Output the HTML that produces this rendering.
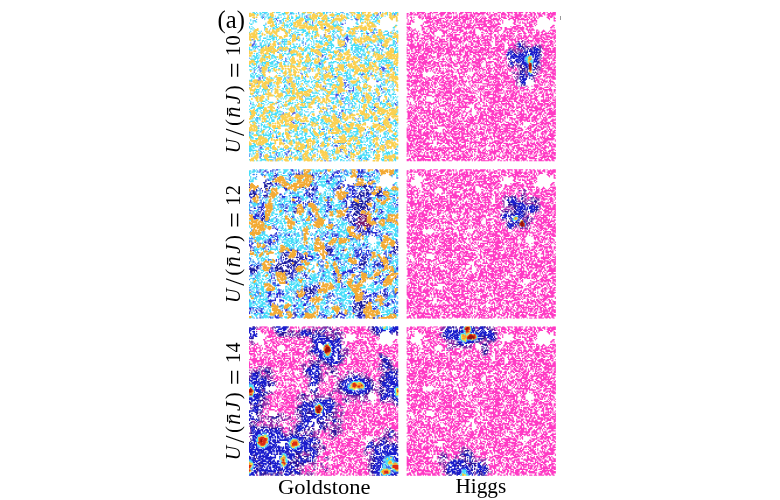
<!DOCTYPE html><html><head><meta charset="utf-8"><title>Goldstone and Higgs modes</title><style>html,body{margin:0;padding:0;background:#fff}body{width:780px;height:500px;overflow:hidden;position:relative;font-family:"Liberation Serif",serif}</style></head><body><svg width="780" height="500" viewBox="0 0 780 500" style="position:absolute;left:0;top:0">
<svg x="406.4" y="12.0" width="149.5" height="149.5" viewBox="0 0 128 128" preserveAspectRatio="none" overflow="hidden">
<g transform="translate(.5 .5)" fill="none" stroke-linecap="round"><path stroke="#ff3ac4" stroke-width="1.2" d="M3 0h1M6 0h0M9 0h6M20 0h1M23 0h3M29 0h4M35 0h2M39 0h1M42 0h0M46 0h2M50 0h5M57 0h0M59 0h1M63 0h4M69 0h0M71 0h0M74 0h0M78 0h2M82 0h1M86 0h4M92 0h2M96 0h3M102 0h1M105 0h1M108 0h1M112 0h0M114 0h0M117 0h1M120 0h0M123 0h0M125 0h2M0 1h1M3 1h2M7 1h0M9 1h1M13 1h1M16 1h0M18 1h2M22 1h0M28 1h4M35 1h3M40 1h0M42 1h0M45 1h2M51 1h0M55 1h0M57 1h9M68 1h1M71 1h0M75 1h2M81 1h3M87 1h0M90 1h0M93 1h1M96 1h1M102 1h0M106 1h1M109 1h1M112 1h2M116 1h2M121 1h6M0 2h0M2 2h2M6 2h3M11 2h1M15 2h1M18 2h0M20 2h0M25 2h2M29 2h2M34 2h1M43 2h0M45 2h0M49 2h3M54 2h2M58 2h0M61 2h1M65 2h0M69 2h1M72 2h3M77 2h0M79 2h0M81 2h4M87 2h1M92 2h7M101 2h1M104 2h3M109 2h1M113 2h2M118 2h0M120 2h2M124 2h3M0 3h1M10 3h1M13 3h0M15 3h1M18 3h2M22 3h0M24 3h0M29 3h1M33 3h0M35 3h1M38 3h0M40 3h0M42 3h1M45 3h0M47 3h2M51 3h1M54 3h4M60 3h1M64 3h0M66 3h0M71 3h2M75 3h1M78 3h1M81 3h0M84 3h0M86 3h1M89 3h1M93 3h5M100 3h3M106 3h1M109 3h0M111 3h0M113 3h3M121 3h4M0 4h0M3 4h1M6 4h0M10 4h2M14 4h0M16 4h4M23 4h2M27 4h0M33 4h5M40 4h3M45 4h7M54 4h0M56 4h1M59 4h0M63 4h0M65 4h0M67 4h0M70 4h2M79 4h0M81 4h3M87 4h0M90 4h5M97 4h0M101 4h1M104 4h1M108 4h1M111 4h0M113 4h0M120 4h1M123 4h1M126 4h0M0 5h0M4 5h0M11 5h0M13 5h1M16 5h9M28 5h4M34 5h0M36 5h1M40 5h2M44 5h1M47 5h1M50 5h5M57 5h0M59 5h1M62 5h0M64 5h4M71 5h1M74 5h3M79 5h1M83 5h2M88 5h3M93 5h3M98 5h2M103 5h0M105 5h0M107 5h0M109 5h1M112 5h0M121 5h1M126 5h1M1 6h0M4 6h0M6 6h0M13 6h0M17 6h0M19 6h2M23 6h0M26 6h3M33 6h0M35 6h0M39 6h1M43 6h0M45 6h1M48 6h5M55 6h0M58 6h3M63 6h1M66 6h1M70 6h0M72 6h7M81 6h0M87 6h1M91 6h2M95 6h9M106 6h1M109 6h1M122 6h0M126 6h0M1 7h0M3 7h2M17 7h2M22 7h0M24 7h5M31 7h0M34 7h1M37 7h2M41 7h4M48 7h2M54 7h1M57 7h0M59 7h1M62 7h2M66 7h6M74 7h0M77 7h1M80 7h0M82 7h0M92 7h1M95 7h0M101 7h0M103 7h0M107 7h4M126 7h1M1 8h0M3 8h0M5 8h1M15 8h7M25 8h2M29 8h0M31 8h3M37 8h0M40 8h1M43 8h0M46 8h0M48 8h2M52 8h0M54 8h0M57 8h0M59 8h8M70 8h3M75 8h0M78 8h0M82 8h0M92 8h1M95 8h0M97 8h0M99 8h0M103 8h0M105 8h3M111 8h0M0 9h0M2 9h1M14 9h0M16 9h2M20 9h0M23 9h1M26 9h4M34 9h2M38 9h1M41 9h3M46 9h2M50 9h0M54 9h2M59 9h0M66 9h1M69 9h1M72 9h1M75 9h0M78 9h1M82 9h0M91 9h1M96 9h1M99 9h2M103 9h2M109 9h1M0 10h3M14 10h0M20 10h0M22 10h1M25 10h1M30 10h0M32 10h0M34 10h0M36 10h1M39 10h0M41 10h2M47 10h0M49 10h0M51 10h3M58 10h0M60 10h8M71 10h1M74 10h0M76 10h4M92 10h1M101 10h1M105 10h2M109 10h0M111 10h0M12 11h1M18 11h3M23 11h0M26 11h0M28 11h5M35 11h1M38 11h0M42 11h5M49 11h0M52 11h3M57 11h2M61 11h1M64 11h0M66 11h2M72 11h5M94 11h3M101 11h1M105 11h2M110 11h0M125 11h1M0 12h0M2 12h0M13 12h0M15 12h4M22 12h1M25 12h0M30 12h0M32 12h3M38 12h3M47 12h2M51 12h3M56 12h1M62 12h0M65 12h11M78 12h1M89 12h0M91 12h4M99 12h0M102 12h6M124 12h1M0 13h3M13 13h1M19 13h2M23 13h1M26 13h2M30 13h2M34 13h0M36 13h0M38 13h0M40 13h0M43 13h4M49 13h8M59 13h6M69 13h3M74 13h1M77 13h1M80 13h1M84 13h1M90 13h3M95 13h5M103 13h0M106 13h0M123 13h1M126 13h0M1 14h1M4 14h0M7 14h0M13 14h2M18 14h0M20 14h2M24 14h1M27 14h0M29 14h0M36 14h4M43 14h0M45 14h1M50 14h1M53 14h0M56 14h0M58 14h0M62 14h3M68 14h0M70 14h1M73 14h0M76 14h1M81 14h0M84 14h6M92 14h3M97 14h3M102 14h1M105 14h0M107 14h1M0 15h0M2 15h1M5 15h2M13 15h0M17 15h0M20 15h0M23 15h0M25 15h1M28 15h3M34 15h1M39 15h9M55 15h0M57 15h1M63 15h0M65 15h3M70 15h2M75 15h1M78 15h2M84 15h1M88 15h2M94 15h0M96 15h0M98 15h1M103 15h6M111 15h1M117 15h0M123 15h4M1 16h0M4 16h1M8 16h0M10 16h0M14 16h1M17 16h0M20 16h1M23 16h2M30 16h4M36 16h0M39 16h0M43 16h0M46 16h2M51 16h0M54 16h1M57 16h1M67 16h2M71 16h2M75 16h3M83 16h1M86 16h0M88 16h1M91 16h2M95 16h2M99 16h1M104 16h0M106 16h0M111 16h0M113 16h0M116 16h2M122 16h0M125 16h2M0 17h0M4 17h0M6 17h0M9 17h0M14 17h2M19 17h0M21 17h2M31 17h3M38 17h0M40 17h2M45 17h1M49 17h2M53 17h5M64 17h1M69 17h0M72 17h0M74 17h0M78 17h0M83 17h0M85 17h2M89 17h1M95 17h0M100 17h1M104 17h3M109 17h0M111 17h2M115 17h1M119 17h0M121 17h0M123 17h0M125 17h0M127 17h0M0 18h0M2 18h2M6 18h3M11 18h0M15 18h4M22 18h1M31 18h1M34 18h0M36 18h1M39 18h0M48 18h4M54 18h1M57 18h1M66 18h0M68 18h0M70 18h3M78 18h0M82 18h0M86 18h0M88 18h4M96 18h2M100 18h2M106 18h1M111 18h2M116 18h0M118 18h8M0 19h1M3 19h3M9 19h0M11 19h0M13 19h1M18 19h0M20 19h0M23 19h0M32 19h0M35 19h0M37 19h2M41 19h4M49 19h1M56 19h3M64 19h1M71 19h1M75 19h1M79 19h0M81 19h0M83 19h1M86 19h0M88 19h0M91 19h0M95 19h1M101 19h0M105 19h0M107 19h0M110 19h3M115 19h4M124 19h1M127 19h0M1 20h0M3 20h2M9 20h1M15 20h6M24 20h0M30 20h2M34 20h5M41 20h1M48 20h1M51 20h0M53 20h1M56 20h1M59 20h0M61 20h0M64 20h1M67 20h3M72 20h0M75 20h1M78 20h0M80 20h10M92 20h0M94 20h0M96 20h2M100 20h2M104 20h2M108 20h4M114 20h1M119 20h3M126 20h1M0 21h6M8 21h1M15 21h0M17 21h1M20 21h3M26 21h1M30 21h0M36 21h0M39 21h3M46 21h1M49 21h0M51 21h5M59 21h2M63 21h0M65 21h2M69 21h0M71 21h2M76 21h2M80 21h0M83 21h1M86 21h0M88 21h1M91 21h0M94 21h1M98 21h0M100 21h4M106 21h1M109 21h1M115 21h2M119 21h8M0 22h0M4 22h0M6 22h0M9 22h1M12 22h3M19 22h4M26 22h0M28 22h0M34 22h1M37 22h7M46 22h1M49 22h2M53 22h1M56 22h2M60 22h2M64 22h2M69 22h0M72 22h0M74 22h0M76 22h2M81 22h3M87 22h1M90 22h0M93 22h0M95 22h5M102 22h1M108 22h7M117 22h1M120 22h0M123 22h1M126 22h1M0 23h4M7 23h0M9 23h0M13 23h0M15 23h3M20 23h1M23 23h0M25 23h0M28 23h4M34 23h0M37 23h1M40 23h6M49 23h3M54 23h0M56 23h0M61 23h0M63 23h0M66 23h6M76 23h1M79 23h0M81 23h5M88 23h5M95 23h1M98 23h0M101 23h1M104 23h0M108 23h0M110 23h3M115 23h1M118 23h4M126 23h0M1 24h1M4 24h1M7 24h2M11 24h1M14 24h0M16 24h0M20 24h1M24 24h2M28 24h2M32 24h0M35 24h0M37 24h6M45 24h1M48 24h2M52 24h0M55 24h0M57 24h1M60 24h2M64 24h5M71 24h1M76 24h0M78 24h0M80 24h1M83 24h1M87 24h0M89 24h1M92 24h1M95 24h0M100 24h0M103 24h5M110 24h4M116 24h1M123 24h1M127 24h0M3 25h2M11 25h0M13 25h0M15 25h0M18 25h0M21 25h2M27 25h7M37 25h0M42 25h0M44 25h3M49 25h0M53 25h2M57 25h5M64 25h0M67 25h0M69 25h1M73 25h0M76 25h5M84 25h0M87 25h0M90 25h0M93 25h1M102 25h0M104 25h0M106 25h1M109 25h0M111 25h2M115 25h5M122 25h3M127 25h0M1 26h0M4 26h0M7 26h0M9 26h1M13 26h2M17 26h0M21 26h0M24 26h2M28 26h0M30 26h0M35 26h0M37 26h1M42 26h0M45 26h1M48 26h0M55 26h1M60 26h2M65 26h6M76 26h0M78 26h0M82 26h0M86 26h1M90 26h1M93 26h0M102 26h0M104 26h1M110 26h0M112 26h1M117 26h1M121 26h0M123 26h1M126 26h0M1 27h0M3 27h3M9 27h1M12 27h0M14 27h0M16 27h2M20 27h2M24 27h3M29 27h6M37 27h1M40 27h1M43 27h1M48 27h0M51 27h0M53 27h0M55 27h2M59 27h0M61 27h2M65 27h0M67 27h0M70 27h1M76 27h2M80 27h3M87 27h0M89 27h3M103 27h0M106 27h1M109 27h2M115 27h1M123 27h2M0 28h6M9 28h5M16 28h1M21 28h2M27 28h0M29 28h1M34 28h1M37 28h2M42 28h1M46 28h0M50 28h1M55 28h1M59 28h0M61 28h0M63 28h1M66 28h6M76 28h1M79 28h2M83 28h0M87 28h4M102 28h0M107 28h1M115 28h3M120 28h3M125 28h0M127 28h0M2 29h10M14 29h0M16 29h0M18 29h2M22 29h0M25 29h3M30 29h0M32 29h1M35 29h0M37 29h3M42 29h1M46 29h0M48 29h0M50 29h4M57 29h5M67 29h0M70 29h0M72 29h0M78 29h5M88 29h0M91 29h2M106 29h1M116 29h1M119 29h2M124 29h1M0 30h0M3 30h5M10 30h2M14 30h0M16 30h2M20 30h0M22 30h7M31 30h1M35 30h7M44 30h0M47 30h5M54 30h2M58 30h2M63 30h2M67 30h1M70 30h1M74 30h5M81 30h0M83 30h0M87 30h4M93 30h0M116 30h1M119 30h0M122 30h0M126 30h1M0 31h0M3 31h2M7 31h0M10 31h2M14 31h7M24 31h1M27 31h4M33 31h3M38 31h1M41 31h0M43 31h1M46 31h0M48 31h1M51 31h2M55 31h1M61 31h0M63 31h4M69 31h1M72 31h3M77 31h3M82 31h1M87 31h0M92 31h1M117 31h6M125 31h2M0 32h2M4 32h0M7 32h4M13 32h1M16 32h3M21 32h1M24 32h0M26 32h3M31 32h1M34 32h4M45 32h4M53 32h2M57 32h3M62 32h8M76 32h7M85 32h1M117 32h4M123 32h0M125 32h2M0 33h0M4 33h1M8 33h0M10 33h0M12 33h0M15 33h8M25 33h0M27 33h1M30 33h2M34 33h3M39 33h1M42 33h6M50 33h0M52 33h4M59 33h0M61 33h2M65 33h0M67 33h0M69 33h1M72 33h1M75 33h5M84 33h1M119 33h8M0 34h0M2 34h0M7 34h4M15 34h0M18 34h3M23 34h2M27 34h0M29 34h0M34 34h4M40 34h1M45 34h1M48 34h0M50 34h2M54 34h11M68 34h7M77 34h0M80 34h0M83 34h2M116 34h0M118 34h1M121 34h6M0 35h2M4 35h3M10 35h0M12 35h0M14 35h4M21 35h0M23 35h0M26 35h5M33 35h3M38 35h0M40 35h1M43 35h0M45 35h1M50 35h2M54 35h0M57 35h2M61 35h0M64 35h0M66 35h2M70 35h0M72 35h0M74 35h1M77 35h1M81 35h1M84 35h0M117 35h4M124 35h0M127 35h0M3 36h0M6 36h0M8 36h1M13 36h1M16 36h2M20 36h0M26 36h1M29 36h0M32 36h1M36 36h11M50 36h2M54 36h1M59 36h3M64 36h5M71 36h0M73 36h3M78 36h1M82 36h2M118 36h6M126 36h1M0 37h1M3 37h1M6 37h1M9 37h0M11 37h3M17 37h0M19 37h2M26 37h3M31 37h0M36 37h1M39 37h0M41 37h0M43 37h0M46 37h0M49 37h4M57 37h1M61 37h2M65 37h0M68 37h0M70 37h0M72 37h0M74 37h0M76 37h1M79 37h0M118 37h1M121 37h2M125 37h0M127 37h0M2 38h0M4 38h2M8 38h0M10 38h7M19 38h0M21 38h3M26 38h2M33 38h0M35 38h0M37 38h0M43 38h2M48 38h2M52 38h1M57 38h2M62 38h1M65 38h0M70 38h3M78 38h3M84 38h0M117 38h0M120 38h1M124 38h0M126 38h1M0 39h0M2 39h0M5 39h3M10 39h1M13 39h4M19 39h1M22 39h0M26 39h1M31 39h0M34 39h0M37 39h1M45 39h1M49 39h0M51 39h1M54 39h0M56 39h0M59 39h0M62 39h0M64 39h3M69 39h2M76 39h0M78 39h0M80 39h1M83 39h1M116 39h8M126 39h1M1 40h7M10 40h5M18 40h0M23 40h0M25 40h0M28 40h0M30 40h2M34 40h0M36 40h2M43 40h2M49 40h0M51 40h1M54 40h1M57 40h0M59 40h8M71 40h0M74 40h4M80 40h0M84 40h1M117 40h2M122 40h0M125 40h1M2 41h3M7 41h0M9 41h0M11 41h0M13 41h0M15 41h2M21 41h1M27 41h0M31 41h0M35 41h0M37 41h1M41 41h0M44 41h1M48 41h1M51 41h2M56 41h0M59 41h5M67 41h0M77 41h2M82 41h2M114 41h6M125 41h2M0 42h8M10 42h2M14 42h3M19 42h2M23 42h1M28 42h5M36 42h0M38 42h1M42 42h0M44 42h0M46 42h2M50 42h0M52 42h0M56 42h3M61 42h2M65 42h0M68 42h0M70 42h4M78 42h0M80 42h0M82 42h0M85 42h0M115 42h2M119 42h1M122 42h0M124 42h0M0 43h2M6 43h1M10 43h10M23 43h4M30 43h0M34 43h0M37 43h3M43 43h4M49 43h2M53 43h1M56 43h6M64 43h0M68 43h4M75 43h1M78 43h0M80 43h3M85 43h0M115 43h0M117 43h5M124 43h0M126 43h1M0 44h0M2 44h4M9 44h0M11 44h0M13 44h3M18 44h2M22 44h2M26 44h1M29 44h1M33 44h0M35 44h1M40 44h3M45 44h0M48 44h0M50 44h0M52 44h1M55 44h0M59 44h4M68 44h0M75 44h2M79 44h0M81 44h0M85 44h0M115 44h0M117 44h2M121 44h0M123 44h3M0 45h0M3 45h3M8 45h0M10 45h2M14 45h0M16 45h1M21 45h1M24 45h1M27 45h0M30 45h8M40 45h1M46 45h0M48 45h1M52 45h1M56 45h2M60 45h0M62 45h1M68 45h3M73 45h0M76 45h4M83 45h1M86 45h0M116 45h7M126 45h0M0 46h2M6 46h0M8 46h0M12 46h2M18 46h2M23 46h1M26 46h2M30 46h1M33 46h0M35 46h3M41 46h2M46 46h6M57 46h6M68 46h1M71 46h0M76 46h1M79 46h4M85 46h0M92 46h0M115 46h2M119 46h0M121 46h1M125 46h0M127 46h0M2 47h0M4 47h4M10 47h3M15 47h2M21 47h2M28 47h0M36 47h0M38 47h1M46 47h2M52 47h0M55 47h0M57 47h1M60 47h2M64 47h0M66 47h0M68 47h0M70 47h1M74 47h1M77 47h4M83 47h0M86 47h0M88 47h0M93 47h0M115 47h0M118 47h0M120 47h4M126 47h1M0 48h0M3 48h3M9 48h5M16 48h0M19 48h2M25 48h1M28 48h1M31 48h0M33 48h0M35 48h0M40 48h0M45 48h0M48 48h3M53 48h1M56 48h1M59 48h0M62 48h3M69 48h4M75 48h0M78 48h0M80 48h0M82 48h0M86 48h1M89 48h1M93 48h1M115 48h2M119 48h5M126 48h0M0 49h2M4 49h1M7 49h2M11 49h0M13 49h1M16 49h2M21 49h0M23 49h0M25 49h1M28 49h0M34 49h0M36 49h0M38 49h0M41 49h0M43 49h1M46 49h1M49 49h1M52 49h0M54 49h0M56 49h0M58 49h2M62 49h0M65 49h2M69 49h1M72 49h0M75 49h2M79 49h1M82 49h0M84 49h1M87 49h2M92 49h2M115 49h1M121 49h6M1 50h0M4 50h0M7 50h0M9 50h3M14 50h0M16 50h2M20 50h0M22 50h0M25 50h0M27 50h2M31 50h0M34 50h5M43 50h1M47 50h0M50 50h2M54 50h0M56 50h0M59 50h0M61 50h0M63 50h0M65 50h0M68 50h0M70 50h2M74 50h0M76 50h1M80 50h0M82 50h0M84 50h0M86 50h0M88 50h1M91 50h0M93 50h0M95 50h0M114 50h5M121 50h0M125 50h2M2 51h0M4 51h0M9 51h0M11 51h2M17 51h0M23 51h1M28 51h0M30 51h1M33 51h2M38 51h2M42 51h0M44 51h0M47 51h4M60 51h0M62 51h0M66 51h0M68 51h0M70 51h1M76 51h3M82 51h2M86 51h0M113 51h0M115 51h1M118 51h2M123 51h2M127 51h0M2 52h1M5 52h1M8 52h0M10 52h0M12 52h0M24 52h0M26 52h1M29 52h3M36 52h0M39 52h0M44 52h3M49 52h0M58 52h2M62 52h0M65 52h0M68 52h3M75 52h0M78 52h1M81 52h5M114 52h1M117 52h0M119 52h0M124 52h3M1 53h0M3 53h0M5 53h0M8 53h0M11 53h2M31 53h0M34 53h2M38 53h1M45 53h0M48 53h1M51 53h0M57 53h1M60 53h1M63 53h1M66 53h1M71 53h2M75 53h6M83 53h0M85 53h1M90 53h0M93 53h0M112 53h1M118 53h5M125 53h2M0 54h2M4 54h9M23 54h0M25 54h1M29 54h1M32 54h1M35 54h0M37 54h0M39 54h0M41 54h1M45 54h0M49 54h0M53 54h0M57 54h1M61 54h4M67 54h1M70 54h1M74 54h0M76 54h1M80 54h4M86 54h3M114 54h1M117 54h2M123 54h0M125 54h0M127 54h0M1 55h3M6 55h3M11 55h2M17 55h0M22 55h1M27 55h1M30 55h2M34 55h0M38 55h4M45 55h3M50 55h0M52 55h0M54 55h0M56 55h1M60 55h0M62 55h1M65 55h2M69 55h8M81 55h0M83 55h4M90 55h0M112 55h2M117 55h1M120 55h6M1 56h0M3 56h1M8 56h3M13 56h2M18 56h1M21 56h1M24 56h3M30 56h1M33 56h4M39 56h0M41 56h2M45 56h2M52 56h1M55 56h1M61 56h0M63 56h2M69 56h0M71 56h0M73 56h6M83 56h5M90 56h0M110 56h1M113 56h0M119 56h1M122 56h0M124 56h3M2 57h0M7 57h0M9 57h0M12 57h0M15 57h2M19 57h1M22 57h5M29 57h2M34 57h2M40 57h3M47 57h1M53 57h0M56 57h0M58 57h1M61 57h2M65 57h0M67 57h2M71 57h3M76 57h4M82 57h0M84 57h3M89 57h2M111 57h1M114 57h2M118 57h0M123 57h0M125 57h2M0 58h2M4 58h6M12 58h1M16 58h0M18 58h3M24 58h2M28 58h1M31 58h1M35 58h0M37 58h1M40 58h0M43 58h0M45 58h3M51 58h0M55 58h1M59 58h3M64 58h0M66 58h4M75 58h1M78 58h0M81 58h0M83 58h1M89 58h0M91 58h1M110 58h3M116 58h2M120 58h0M122 58h1M0 59h4M6 59h6M14 59h0M16 59h2M22 59h0M24 59h0M26 59h0M28 59h0M30 59h1M33 59h7M42 59h0M44 59h1M47 59h4M53 59h1M56 59h3M61 59h0M63 59h1M68 59h2M72 59h0M74 59h0M76 59h3M81 59h0M83 59h10M110 59h0M112 59h1M115 59h0M117 59h3M122 59h3M4 60h5M11 60h0M13 60h6M21 60h0M23 60h2M27 60h0M29 60h4M36 60h2M40 60h2M45 60h0M47 60h1M50 60h0M53 60h0M56 60h8M70 60h2M74 60h2M78 60h1M81 60h2M85 60h0M87 60h5M110 60h0M112 60h1M115 60h2M119 60h0M121 60h0M123 60h0M125 60h1M0 61h2M5 61h3M12 61h2M16 61h3M21 61h0M23 61h2M28 61h0M32 61h5M39 61h3M44 61h2M48 61h1M54 61h0M57 61h0M65 61h5M73 61h0M75 61h0M77 61h3M82 61h0M85 61h1M88 61h0M91 61h1M113 61h1M116 61h0M118 61h0M122 61h1M126 61h0M0 62h2M4 62h1M8 62h0M11 62h0M13 62h3M18 62h1M21 62h1M24 62h0M28 62h4M34 62h0M36 62h2M40 62h1M43 62h0M46 62h1M49 62h1M54 62h0M56 62h0M58 62h1M61 62h0M69 62h13M84 62h1M87 62h0M89 62h3M109 62h3M114 62h2M118 62h0M121 62h0M123 62h2M127 62h0M2 63h2M6 63h6M14 63h0M16 63h2M20 63h0M22 63h0M24 63h0M26 63h0M30 63h3M35 63h5M42 63h0M44 63h0M49 63h0M51 63h0M55 63h2M59 63h0M61 63h0M63 63h6M71 63h0M74 63h0M76 63h4M82 63h1M86 63h0M88 63h1M92 63h2M103 63h0M107 63h0M109 63h4M120 63h0M122 63h0M124 63h0M126 63h0M0 64h0M2 64h0M7 64h0M9 64h0M12 64h1M15 64h0M17 64h1M20 64h1M24 64h1M30 64h0M32 64h2M37 64h1M41 64h0M45 64h0M47 64h0M52 64h1M55 64h0M58 64h0M60 64h0M63 64h0M65 64h1M69 64h0M71 64h0M73 64h0M75 64h3M82 64h1M85 64h0M87 64h0M89 64h0M91 64h4M97 64h4M104 64h0M110 64h2M114 64h1M118 64h3M123 64h0M127 64h0M0 65h1M5 65h0M7 65h0M9 65h0M12 65h3M18 65h1M22 65h0M27 65h2M31 65h7M40 65h0M43 65h3M48 65h1M51 65h0M53 65h1M56 65h0M61 65h5M72 65h2M76 65h3M81 65h0M86 65h3M91 65h0M93 65h2M97 65h3M103 65h0M109 65h0M111 65h0M113 65h4M122 65h1M1 66h1M4 66h4M11 66h7M20 66h0M22 66h2M26 66h0M29 66h3M34 66h0M36 66h0M38 66h0M40 66h0M42 66h4M49 66h3M54 66h0M57 66h0M61 66h4M67 66h2M71 66h1M74 66h0M76 66h6M89 66h0M91 66h1M94 66h0M97 66h0M100 66h4M107 66h4M113 66h2M117 66h7M126 66h1M1 67h0M3 67h1M6 67h0M8 67h6M16 67h0M18 67h1M23 67h1M27 67h1M32 67h0M34 67h4M41 67h1M44 67h4M50 67h1M53 67h1M56 67h0M58 67h2M62 67h0M64 67h0M66 67h0M70 67h0M73 67h0M75 67h6M83 67h0M85 67h6M93 67h0M95 67h1M98 67h2M103 67h0M105 67h0M109 67h1M112 67h0M116 67h0M118 67h2M122 67h2M126 67h1M4 68h4M10 68h2M14 68h0M16 68h0M18 68h6M26 68h0M28 68h3M33 68h5M41 68h4M47 68h2M51 68h4M57 68h0M61 68h0M63 68h0M65 68h0M67 68h5M74 68h4M83 68h0M85 68h1M88 68h1M91 68h1M94 68h2M105 68h0M107 68h2M114 68h2M118 68h0M120 68h0M124 68h0M126 68h0M1 69h0M3 69h4M10 69h2M14 69h0M17 69h1M22 69h0M24 69h0M27 69h2M31 69h14M49 69h0M54 69h5M63 69h0M66 69h5M74 69h0M76 69h0M78 69h4M84 69h0M86 69h0M88 69h0M90 69h4M96 69h0M98 69h0M100 69h4M106 69h2M110 69h1M113 69h2M117 69h0M119 69h1M123 69h0M125 69h0M127 69h0M1 70h1M4 70h1M7 70h0M12 70h6M25 70h3M30 70h0M32 70h1M37 70h0M39 70h2M46 70h2M50 70h2M60 70h0M63 70h1M67 70h0M69 70h7M78 70h0M84 70h0M86 70h1M89 70h2M93 70h1M96 70h0M100 70h2M104 70h1M109 70h0M111 70h0M116 70h1M119 70h6M3 71h0M5 71h4M11 71h0M13 71h0M17 71h4M24 71h5M31 71h4M37 71h1M41 71h1M45 71h1M48 71h4M55 71h1M58 71h0M63 71h0M65 71h5M74 71h3M79 71h1M84 71h1M89 71h4M96 71h2M100 71h0M102 71h0M104 71h3M109 71h1M113 71h0M116 71h1M119 71h2M124 71h1M0 72h4M6 72h1M10 72h2M15 72h1M22 72h1M25 72h2M30 72h1M36 72h0M38 72h1M41 72h0M43 72h2M47 72h0M49 72h0M51 72h7M61 72h0M63 72h0M66 72h1M69 72h0M74 72h0M76 72h4M83 72h1M86 72h1M89 72h2M93 72h0M95 72h0M97 72h4M103 72h0M106 72h1M110 72h2M115 72h2M121 72h0M123 72h0M125 72h0M127 72h0M0 73h0M5 73h2M9 73h3M16 73h0M26 73h0M28 73h0M30 73h3M35 73h4M41 73h0M43 73h0M45 73h0M48 73h0M50 73h1M53 73h0M56 73h3M62 73h1M66 73h0M68 73h8M78 73h1M81 73h5M88 73h2M92 73h3M97 73h1M100 73h4M106 73h0M109 73h2M117 73h0M119 73h5M126 73h0M2 74h0M6 74h1M9 74h1M14 74h0M16 74h0M24 74h1M27 74h0M29 74h0M31 74h0M33 74h5M43 74h3M48 74h8M60 74h0M63 74h1M66 74h1M71 74h4M78 74h2M82 74h3M87 74h7M97 74h0M99 74h0M101 74h0M104 74h0M106 74h5M117 74h0M119 74h0M121 74h0M123 74h0M125 74h0M127 74h0M0 75h0M6 75h0M9 75h0M11 75h0M14 75h1M24 75h1M27 75h0M29 75h0M34 75h1M37 75h1M40 75h2M44 75h2M48 75h0M53 75h4M59 75h1M63 75h1M66 75h0M68 75h0M70 75h0M72 75h0M74 75h2M78 75h1M82 75h4M88 75h0M92 75h1M96 75h4M102 75h1M105 75h1M110 75h2M115 75h7M125 75h2M0 76h1M7 76h1M10 76h3M16 76h0M25 76h2M31 76h2M35 76h0M43 76h2M47 76h2M54 76h1M58 76h1M63 76h1M68 76h1M72 76h0M74 76h10M86 76h4M92 76h2M97 76h2M101 76h1M104 76h0M106 76h1M109 76h0M111 76h0M113 76h0M115 76h6M123 76h0M127 76h0M1 77h0M3 77h0M7 77h0M10 77h0M12 77h2M16 77h4M23 77h2M27 77h0M29 77h0M31 77h0M34 77h1M37 77h0M39 77h0M41 77h0M43 77h4M49 77h8M61 77h1M65 77h1M70 77h8M81 77h0M85 77h0M87 77h0M90 77h0M94 77h2M98 77h1M101 77h3M106 77h1M109 77h0M112 77h1M117 77h1M122 77h0M124 77h3M1 78h0M3 78h0M8 78h0M10 78h2M14 78h0M16 78h0M19 78h4M27 78h1M33 78h4M39 78h0M42 78h0M45 78h0M47 78h1M50 78h1M53 78h1M56 78h0M59 78h1M62 78h0M66 78h0M68 78h0M71 78h1M74 78h1M79 78h0M81 78h7M90 78h1M95 78h2M102 78h0M105 78h1M108 78h2M112 78h4M118 78h3M123 78h2M127 78h0M0 79h0M2 79h2M6 79h0M8 79h0M10 79h0M13 79h0M15 79h1M18 79h1M21 79h0M25 79h0M28 79h0M30 79h4M37 79h4M44 79h1M47 79h1M50 79h0M52 79h0M58 79h1M61 79h0M63 79h0M66 79h0M68 79h0M73 79h1M76 79h2M80 79h0M82 79h1M85 79h0M87 79h2M91 79h0M94 79h0M98 79h2M102 79h0M105 79h0M107 79h1M112 79h6M120 79h3M125 79h2M0 80h0M5 80h0M7 80h1M10 80h0M12 80h0M18 80h1M23 80h0M25 80h0M28 80h4M35 80h2M39 80h1M45 80h1M48 80h3M58 80h1M65 80h4M71 80h2M76 80h0M78 80h0M81 80h0M84 80h1M88 80h3M94 80h0M96 80h0M98 80h1M102 80h3M107 80h1M110 80h1M115 80h1M118 80h0M120 80h3M126 80h1M2 81h2M6 81h0M8 81h5M16 81h1M19 81h1M24 81h0M26 81h1M33 81h0M36 81h0M38 81h1M41 81h12M58 81h2M63 81h0M70 81h0M72 81h2M76 81h0M78 81h3M85 81h0M87 81h1M90 81h2M94 81h4M100 81h0M103 81h9M114 81h1M119 81h1M126 81h1M1 82h1M4 82h1M7 82h4M13 82h1M18 82h1M21 82h0M23 82h0M25 82h0M29 82h0M31 82h0M33 82h0M35 82h0M37 82h2M41 82h0M44 82h0M47 82h0M50 82h0M55 82h0M58 82h0M60 82h5M67 82h0M69 82h3M75 82h0M78 82h0M81 82h0M83 82h0M87 82h0M89 82h0M91 82h0M94 82h1M98 82h0M100 82h1M103 82h1M107 82h0M109 82h6M117 82h1M122 82h2M126 82h0M0 83h0M4 83h0M6 83h1M9 83h0M12 83h2M18 83h1M23 83h1M27 83h0M32 83h2M36 83h0M38 83h0M40 83h0M42 83h4M50 83h0M55 83h0M59 83h0M61 83h2M66 83h1M69 83h3M75 83h1M79 83h1M82 83h5M90 83h0M93 83h0M98 83h1M102 83h1M105 83h2M110 83h7M120 83h3M125 83h0M127 83h0M1 84h0M3 84h0M5 84h3M10 84h0M12 84h8M22 84h2M26 84h2M33 84h0M35 84h1M38 84h0M40 84h1M44 84h1M47 84h0M49 84h0M54 84h1M61 84h0M63 84h0M66 84h0M70 84h4M76 84h6M84 84h0M86 84h1M89 84h3M94 84h1M98 84h2M103 84h0M105 84h7M114 84h0M116 84h2M120 84h0M122 84h2M126 84h1M0 85h4M7 85h0M9 85h0M12 85h0M15 85h0M17 85h3M22 85h0M24 85h4M36 85h8M48 85h2M53 85h2M60 85h0M62 85h0M64 85h3M69 85h0M71 85h4M79 85h1M82 85h0M84 85h1M88 85h0M91 85h1M96 85h2M100 85h0M103 85h1M108 85h0M111 85h0M113 85h0M115 85h1M118 85h0M122 85h5M1 86h5M10 86h7M19 86h1M22 86h2M28 86h1M31 86h1M34 86h0M37 86h2M41 86h2M45 86h1M48 86h0M51 86h1M60 86h1M63 86h1M66 86h1M69 86h1M73 86h1M76 86h6M84 86h4M90 86h0M95 86h0M97 86h1M100 86h0M104 86h0M106 86h1M110 86h1M113 86h2M118 86h1M121 86h6M1 87h1M4 87h0M6 87h0M8 87h0M12 87h0M17 87h0M19 87h4M25 87h9M37 87h1M40 87h1M43 87h2M47 87h0M51 87h0M54 87h1M61 87h0M63 87h2M67 87h1M72 87h5M79 87h3M84 87h4M92 87h1M96 87h6M105 87h2M112 87h3M117 87h0M120 87h7M1 88h3M7 88h1M10 88h1M14 88h1M17 88h2M22 88h1M25 88h0M27 88h1M30 88h0M33 88h1M36 88h1M39 88h1M42 88h2M47 88h1M50 88h1M55 88h0M59 88h1M63 88h7M73 88h0M75 88h2M80 88h3M86 88h4M94 88h2M98 88h2M102 88h0M104 88h2M109 88h0M111 88h1M114 88h0M116 88h0M118 88h0M120 88h0M124 88h1M1 89h2M5 89h0M7 89h2M11 89h0M13 89h0M15 89h1M18 89h0M20 89h0M22 89h2M26 89h3M31 89h0M33 89h4M40 89h3M45 89h0M47 89h0M50 89h0M53 89h0M56 89h0M58 89h1M62 89h3M68 89h0M70 89h4M76 89h0M78 89h3M84 89h0M86 89h0M94 89h0M97 89h3M102 89h0M104 89h1M108 89h3M114 89h0M116 89h0M119 89h0M122 89h5M1 90h1M4 90h0M6 90h3M12 90h0M15 90h1M18 90h1M21 90h2M25 90h1M28 90h4M36 90h1M39 90h2M47 90h2M52 90h0M54 90h3M59 90h1M62 90h3M68 90h0M70 90h8M80 90h0M83 90h1M86 90h0M88 90h2M94 90h11M107 90h4M114 90h0M117 90h2M121 90h2M0 91h3M5 91h4M11 91h3M17 91h2M23 91h3M28 91h2M34 91h1M37 91h0M40 91h0M43 91h0M46 91h0M48 91h1M52 91h1M55 91h2M59 91h0M62 91h6M70 91h0M72 91h2M76 91h0M78 91h4M84 91h0M89 91h4M95 91h0M97 91h2M102 91h2M107 91h0M109 91h4M115 91h0M117 91h0M119 91h1M125 91h0M127 91h0M5 92h2M9 92h1M13 92h1M17 92h0M19 92h2M24 92h0M26 92h0M28 92h0M30 92h2M34 92h3M39 92h0M41 92h1M44 92h0M48 92h0M51 92h0M53 92h6M61 92h2M65 92h1M68 92h1M72 92h3M78 92h0M80 92h0M82 92h1M88 92h0M90 92h0M92 92h0M96 92h7M105 92h0M107 92h3M112 92h0M116 92h4M124 92h3M1 93h3M6 93h2M11 93h0M13 93h3M19 93h2M24 93h0M27 93h1M30 93h3M36 93h1M39 93h1M42 93h0M44 93h3M49 93h3M54 93h3M61 93h2M65 93h0M67 93h3M73 93h0M75 93h5M82 93h0M84 93h0M90 93h0M93 93h2M97 93h1M101 93h0M103 93h2M107 93h1M110 93h1M115 93h1M118 93h1M123 93h2M0 94h0M3 94h2M7 94h0M9 94h0M11 94h1M14 94h0M17 94h2M22 94h0M24 94h1M27 94h4M35 94h0M37 94h1M40 94h2M45 94h0M52 94h4M58 94h0M61 94h1M64 94h0M66 94h0M68 94h0M70 94h2M74 94h0M76 94h0M80 94h1M85 94h2M90 94h1M93 94h2M97 94h0M99 94h0M109 94h0M111 94h0M114 94h3M119 94h3M125 94h2M3 95h0M5 95h3M10 95h0M16 95h2M20 95h0M22 95h0M24 95h1M28 95h0M31 95h0M33 95h0M36 95h0M38 95h3M43 95h5M51 95h0M54 95h7M63 95h3M68 95h0M71 95h5M78 95h0M83 95h0M87 95h2M92 95h0M94 95h1M98 95h1M106 95h0M111 95h2M115 95h8M125 95h2M1 96h0M3 96h1M8 96h0M10 96h1M13 96h0M15 96h0M17 96h1M26 96h0M30 96h2M34 96h3M40 96h0M42 96h2M46 96h0M48 96h0M50 96h4M57 96h1M62 96h0M66 96h5M73 96h1M76 96h2M81 96h12M95 96h0M97 96h0M99 96h0M107 96h4M114 96h2M118 96h1M121 96h0M123 96h0M125 96h0M127 96h0M2 97h4M8 97h2M12 97h1M15 97h0M17 97h1M20 97h2M24 97h0M26 97h7M35 97h1M38 97h1M41 97h0M43 97h0M45 97h0M47 97h0M49 97h0M52 97h2M56 97h0M59 97h1M63 97h0M69 97h0M72 97h1M76 97h1M79 97h0M81 97h0M84 97h4M91 97h3M105 97h1M108 97h1M112 97h1M117 97h0M120 97h1M124 97h2M1 98h0M4 98h3M10 98h0M12 98h5M20 98h2M24 98h1M33 98h5M40 98h2M45 98h0M47 98h1M50 98h3M58 98h0M60 98h0M63 98h0M65 98h2M70 98h1M74 98h3M79 98h1M82 98h0M85 98h1M88 98h0M93 98h1M96 98h0M101 98h0M104 98h0M106 98h2M111 98h0M113 98h2M117 98h2M121 98h1M126 98h1M0 99h0M2 99h0M4 99h0M6 99h2M10 99h0M14 99h1M17 99h1M21 99h5M34 99h0M36 99h0M39 99h10M52 99h0M54 99h0M56 99h0M59 99h1M63 99h1M67 99h0M69 99h0M71 99h0M73 99h0M75 99h4M83 99h10M95 99h3M103 99h3M110 99h1M115 99h2M120 99h0M122 99h0M125 99h0M127 99h0M0 100h2M4 100h0M6 100h0M10 100h3M17 100h2M22 100h0M31 100h1M35 100h0M38 100h4M45 100h5M52 100h0M55 100h2M59 100h0M62 100h4M69 100h3M74 100h0M76 100h1M79 100h3M84 100h2M90 100h4M98 100h1M102 100h0M104 100h0M106 100h0M109 100h1M112 100h1M115 100h1M120 100h0M122 100h2M0 101h1M3 101h5M10 101h2M16 101h0M20 101h1M23 101h0M31 101h0M33 101h0M35 101h1M38 101h2M44 101h0M47 101h2M51 101h1M55 101h0M57 101h1M60 101h0M66 101h0M68 101h4M74 101h3M79 101h1M83 101h5M92 101h1M95 101h4M105 101h1M109 101h5M118 101h1M121 101h0M123 101h1M126 101h1M0 102h0M2 102h1M6 102h1M9 102h3M15 102h0M17 102h1M20 102h3M25 102h0M31 102h0M33 102h2M37 102h1M40 102h3M45 102h2M49 102h0M51 102h1M54 102h2M60 102h1M63 102h1M66 102h0M68 102h0M70 102h0M75 102h1M78 102h8M89 102h6M101 102h3M107 102h3M112 102h0M116 102h4M122 102h1M125 102h1M0 103h1M3 103h1M6 103h0M8 103h0M10 103h2M14 103h6M22 103h0M24 103h3M29 103h0M31 103h1M34 103h4M41 103h0M44 103h1M47 103h2M52 103h1M55 103h2M59 103h1M62 103h4M68 103h0M70 103h6M78 103h0M80 103h0M82 103h0M84 103h0M86 103h2M90 103h0M92 103h0M95 103h0M98 103h0M100 103h2M104 103h2M108 103h2M115 103h1M118 103h1M123 103h0M125 103h2M0 104h0M2 104h1M6 104h1M11 104h1M14 104h5M21 104h0M23 104h0M25 104h1M28 104h1M31 104h2M36 104h0M38 104h7M47 104h7M56 104h0M58 104h0M60 104h6M71 104h0M74 104h1M77 104h0M79 104h0M81 104h2M85 104h0M88 104h1M91 104h2M97 104h1M100 104h0M105 104h1M108 104h0M112 104h0M115 104h2M119 104h0M122 104h3M0 105h10M12 105h6M20 105h0M23 105h0M25 105h1M28 105h0M32 105h2M37 105h0M39 105h0M41 105h1M45 105h0M47 105h1M52 105h0M54 105h1M57 105h2M61 105h0M64 105h1M67 105h0M69 105h0M74 105h1M78 105h3M85 105h0M87 105h1M90 105h1M95 105h2M99 105h1M102 105h0M104 105h0M106 105h2M110 105h0M112 105h0M116 105h0M118 105h0M121 105h6M0 106h2M5 106h0M7 106h5M16 106h2M20 106h1M23 106h7M32 106h1M35 106h1M38 106h2M44 106h0M47 106h1M50 106h3M55 106h1M58 106h0M63 106h0M65 106h0M68 106h1M71 106h1M74 106h5M81 106h0M84 106h8M95 106h0M97 106h2M105 106h4M112 106h0M114 106h0M116 106h0M118 106h0M120 106h0M123 106h3M0 107h5M8 107h0M10 107h2M14 107h0M17 107h2M21 107h0M23 107h1M26 107h0M28 107h1M31 107h2M36 107h0M39 107h10M55 107h0M57 107h2M61 107h0M65 107h3M71 107h1M75 107h0M77 107h2M81 107h2M86 107h0M88 107h1M91 107h7M100 107h1M103 107h1M106 107h0M108 107h2M114 107h4M120 107h1M124 107h1M1 108h2M5 108h9M16 108h3M24 108h0M26 108h1M30 108h1M33 108h1M40 108h5M47 108h2M52 108h0M54 108h2M58 108h0M63 108h7M72 108h1M75 108h0M78 108h5M85 108h3M90 108h2M96 108h0M98 108h0M100 108h4M107 108h3M112 108h1M115 108h0M117 108h9M1 109h1M5 109h2M9 109h0M13 109h0M15 109h1M19 109h0M21 109h0M23 109h1M26 109h4M32 109h6M40 109h3M46 109h6M55 109h0M57 109h0M60 109h0M63 109h5M73 109h0M80 109h2M84 109h1M87 109h0M89 109h2M93 109h2M97 109h0M99 109h0M101 109h0M104 109h2M109 109h2M113 109h0M116 109h0M118 109h7M127 109h0M2 110h4M9 110h0M11 110h1M14 110h2M22 110h0M29 110h3M34 110h4M42 110h1M45 110h1M49 110h4M55 110h0M58 110h1M64 110h0M66 110h1M69 110h0M75 110h4M82 110h1M85 110h1M89 110h0M91 110h2M95 110h1M98 110h0M100 110h1M103 110h0M107 110h0M113 110h0M117 110h3M127 110h0M0 111h0M4 111h0M6 111h0M8 111h7M18 111h0M22 111h0M26 111h1M31 111h1M34 111h2M38 111h2M42 111h2M47 111h3M54 111h10M67 111h0M71 111h0M73 111h3M78 111h4M92 111h5M99 111h0M103 111h1M106 111h0M109 111h0M111 111h1M114 111h5M121 111h1M124 111h0M0 112h1M3 112h1M6 112h0M8 112h1M12 112h0M14 112h8M26 112h4M33 112h3M38 112h0M40 112h4M50 112h0M52 112h0M54 112h1M58 112h1M61 112h2M65 112h2M69 112h0M71 112h2M76 112h5M83 112h3M88 112h0M90 112h4M103 112h1M106 112h3M111 112h2M115 112h0M117 112h1M120 112h0M122 112h1M125 112h0M0 113h1M3 113h2M7 113h1M10 113h1M14 113h5M26 113h0M29 113h0M35 113h1M39 113h0M42 113h0M44 113h2M49 113h1M54 113h0M57 113h0M59 113h0M62 113h0M64 113h0M67 113h1M71 113h0M74 113h0M77 113h1M80 113h0M85 113h5M95 113h1M98 113h1M101 113h0M103 113h2M107 113h3M112 113h2M116 113h1M122 113h1M125 113h2M0 114h5M8 114h1M11 114h2M17 114h1M21 114h0M28 114h0M31 114h1M36 114h1M40 114h1M44 114h1M47 114h3M52 114h0M54 114h0M56 114h0M59 114h0M61 114h6M70 114h1M73 114h2M77 114h0M79 114h1M82 114h1M85 114h2M89 114h0M92 114h4M100 114h7M110 114h1M113 114h2M118 114h1M122 114h2M126 114h1M0 115h3M5 115h2M10 115h4M16 115h2M20 115h1M24 115h1M30 115h0M33 115h0M38 115h0M40 115h2M44 115h8M54 115h0M56 115h0M58 115h2M64 115h1M72 115h1M75 115h0M78 115h2M84 115h0M86 115h1M90 115h2M94 115h0M96 115h0M102 115h1M106 115h2M110 115h0M112 115h0M114 115h0M116 115h0M118 115h3M124 115h3M0 116h1M3 116h1M6 116h0M9 116h2M15 116h1M18 116h2M22 116h0M24 116h0M27 116h2M31 116h9M42 116h2M46 116h2M50 116h0M54 116h1M61 116h0M63 116h0M67 116h0M75 116h0M77 116h0M79 116h3M87 116h0M91 116h1M94 116h6M103 116h0M110 116h2M115 116h4M121 116h0M124 116h0M0 117h2M7 117h7M16 117h15M33 117h0M35 117h1M38 117h2M42 117h4M51 117h8M61 117h1M66 117h1M72 117h1M75 117h0M78 117h3M83 117h0M85 117h1M88 117h0M90 117h1M95 117h3M100 117h0M102 117h0M104 117h2M108 117h2M112 117h2M117 117h1M124 117h2M0 118h6M8 118h1M12 118h0M14 118h0M17 118h1M22 118h0M24 118h0M26 118h0M28 118h4M34 118h1M40 118h2M45 118h1M50 118h0M53 118h2M58 118h0M61 118h1M65 118h1M68 118h0M70 118h1M73 118h0M75 118h3M81 118h0M83 118h0M85 118h2M89 118h0M91 118h0M93 118h0M95 118h1M98 118h6M107 118h0M109 118h0M112 118h0M114 118h2M118 118h1M122 118h3M127 118h0M0 119h1M3 119h0M6 119h1M9 119h3M16 119h0M20 119h3M27 119h1M30 119h0M32 119h2M36 119h0M39 119h5M46 119h3M51 119h0M53 119h1M56 119h0M58 119h1M61 119h2M65 119h0M67 119h0M69 119h0M71 119h8M81 119h1M85 119h2M89 119h1M94 119h1M97 119h0M99 119h1M102 119h0M104 119h4M110 119h2M114 119h1M117 119h0M119 119h0M121 119h2M125 119h0M1 120h0M3 120h0M5 120h0M8 120h0M10 120h1M13 120h0M15 120h0M17 120h1M20 120h1M23 120h3M30 120h3M36 120h2M41 120h0M44 120h0M48 120h0M50 120h2M54 120h0M56 120h0M61 120h6M71 120h5M80 120h0M82 120h0M84 120h5M91 120h1M94 120h1M98 120h0M100 120h2M104 120h0M106 120h1M109 120h1M112 120h0M114 120h1M117 120h3M122 120h0M124 120h3M0 121h1M3 121h1M6 121h1M9 121h1M15 121h0M17 121h1M22 121h1M25 121h1M28 121h0M31 121h1M34 121h0M36 121h0M41 121h0M43 121h1M47 121h2M51 121h1M55 121h0M58 121h0M63 121h0M65 121h4M71 121h1M74 121h2M79 121h0M83 121h0M85 121h0M87 121h2M92 121h1M97 121h1M100 121h0M104 121h3M109 121h0M111 121h0M115 121h7M124 121h3M0 122h0M2 122h0M6 122h2M10 122h2M14 122h1M18 122h0M21 122h0M23 122h0M25 122h3M30 122h0M32 122h4M38 122h4M45 122h1M48 122h2M52 122h1M55 122h1M58 122h0M60 122h0M62 122h2M66 122h0M68 122h0M70 122h2M75 122h0M77 122h0M79 122h0M82 122h0M84 122h2M89 122h2M94 122h9M106 122h0M108 122h0M110 122h1M113 122h2M117 122h1M120 122h0M123 122h1M126 122h1M0 123h0M2 123h0M4 123h1M7 123h12M21 123h1M24 123h3M29 123h0M32 123h0M35 123h0M38 123h1M43 123h3M48 123h3M54 123h2M60 123h1M63 123h0M65 123h2M69 123h0M73 123h0M75 123h0M77 123h2M82 123h2M86 123h1M89 123h0M91 123h0M93 123h3M99 123h0M102 123h1M105 123h0M109 123h2M116 123h9M4 124h3M9 124h0M13 124h1M16 124h6M25 124h0M27 124h0M29 124h0M31 124h2M35 124h2M39 124h2M43 124h0M45 124h9M58 124h0M60 124h5M68 124h0M70 124h0M72 124h1M75 124h1M79 124h2M83 124h1M86 124h1M89 124h2M93 124h3M98 124h2M102 124h0M104 124h5M114 124h5M121 124h0M123 124h4M2 125h1M5 125h1M9 125h1M12 125h3M21 125h1M24 125h4M34 125h2M39 125h7M48 125h1M51 125h0M53 125h0M55 125h0M57 125h0M59 125h1M62 125h0M64 125h3M69 125h1M72 125h1M75 125h1M81 125h2M86 125h0M89 125h0M91 125h4M97 125h5M105 125h6M113 125h0M115 125h1M118 125h0M120 125h1M124 125h3M0 126h3M6 126h0M9 126h11M22 126h2M26 126h1M30 126h2M34 126h1M39 126h0M41 126h4M47 126h3M52 126h2M56 126h0M58 126h1M62 126h2M66 126h0M70 126h2M74 126h1M78 126h1M85 126h1M88 126h1M93 126h3M99 126h3M110 126h0M113 126h2M118 126h4M124 126h1M0 127h1M3 127h1M6 127h1M9 127h3M14 127h0M16 127h0M18 127h2M22 127h3M27 127h1M31 127h2M36 127h2M43 127h0M47 127h0M50 127h1M53 127h0M56 127h0M58 127h0M61 127h1M64 127h6M72 127h1M78 127h0M80 127h1M83 127h1M86 127h0M89 127h0M91 127h1M94 127h2M98 127h0M100 127h0M103 127h0M105 127h2M109 127h2M113 127h4M119 127h1M122 127h1M125 127h1"/><path stroke="#8a2ca8" stroke-width="1.2" d="M99 24h0M95 25h1M98 25h1M101 25h0M103 25h0M101 26h0M94 27h0M99 27h2M92 28h1M99 28h0M101 28h0M110 28h1M113 28h1M94 29h1M101 29h4M108 29h0M110 29h0M113 29h2M92 30h0M102 30h0M107 30h0M113 30h2M88 31h1M91 31h0M94 31h2M107 31h0M116 31h0M87 32h0M90 32h3M95 32h4M92 33h1M95 33h0M97 33h2M115 33h0M86 34h0M93 34h1M97 34h1M94 35h0M85 36h0M115 36h0M115 37h0M85 38h0M85 39h0M115 39h0M87 40h0M114 40h0M113 41h0M92 43h0M114 43h0M87 44h0M94 44h0M114 44h0M87 45h0M93 45h1M96 45h0M115 45h0M87 46h1M91 46h0M96 46h0M98 46h0M112 46h1M89 47h2M95 47h0M112 47h2M91 48h0M96 48h0M98 48h0M111 48h1M114 48h0M96 49h0M111 49h0M113 49h1M102 50h0M112 50h0M90 51h0M92 51h0M95 51h0M101 51h1M91 52h1M94 52h1M102 52h0M109 52h0M111 52h1M94 53h2M102 53h1M111 53h0M96 54h0M103 54h0M109 54h1M92 55h0M94 55h1M108 55h0M93 56h0M95 56h0M108 56h1M94 57h1M109 57h0M93 58h1M109 58h0M94 59h0M109 59h0M94 60h1M94 61h0M94 62h0M96 63h0M98 63h0M102 63h0"/><path stroke="#2a1498" stroke-width="1.3" d="M96 26h0M95 27h0M98 29h1M112 29h0M96 30h0M99 30h1M103 30h0M108 30h0M98 31h0M101 31h0M104 31h0M106 31h0M108 31h0M114 31h0M88 32h0M101 32h0M103 32h0M105 32h2M114 32h0M90 33h0M101 33h0M114 33h0M91 34h0M96 34h0M100 34h0M113 34h1M92 35h0M95 35h0M113 35h0M93 36h0M114 36h0M86 37h0M114 38h0M87 39h0M113 39h0M88 40h0M112 40h0M88 42h0M90 42h0M92 42h0M112 42h1M91 43h0M95 43h1M113 43h0M99 44h0M112 44h0M95 45h0M97 45h1M110 45h1M90 46h0M95 46h0M97 46h0M100 46h0M111 46h0M97 47h1M101 47h0M109 47h1M99 48h2M103 48h0M110 48h0M99 49h0M101 49h0M103 49h0M109 49h0M97 50h4M103 50h0M97 51h0M103 51h0M108 51h0M110 51h0M97 52h1M101 52h0M97 53h0M100 53h0M102 54h0M108 54h0M98 55h1M102 55h1M96 56h0M99 56h0M97 57h0M107 57h0M97 59h0M99 61h0M98 62h0M100 62h1"/><path stroke="#1a1ccc" stroke-width="1.45" d="M96 27h1M97 28h0M96 29h1M109 30h1M100 31h0M109 31h0M111 31h1M109 32h4M89 33h0M103 33h0M105 33h2M109 33h0M111 33h0M87 34h1M90 34h0M101 34h2M107 34h5M87 35h0M89 35h0M97 35h0M99 35h0M102 35h0M106 35h1M109 35h0M111 35h0M86 36h1M89 36h0M91 36h1M96 36h4M102 36h0M104 36h0M106 36h2M110 36h1M113 36h0M90 37h0M92 37h2M96 37h0M98 37h1M101 37h1M108 37h0M110 37h0M112 37h1M89 38h2M93 38h4M100 38h1M108 38h0M110 38h1M89 39h0M91 39h1M96 39h0M98 39h2M110 39h0M112 39h0M94 40h1M97 40h0M99 40h1M109 40h2M89 41h0M93 41h1M96 41h0M98 41h0M100 41h0M109 41h0M111 41h0M94 42h1M97 42h0M99 42h1M109 42h2M89 43h1M99 43h3M108 43h0M112 43h0M89 44h1M98 44h0M100 44h3M111 44h0M91 45h0M101 45h1M104 45h0M108 45h0M102 46h1M108 46h0M102 47h1M108 49h0M99 51h0M104 52h0M98 53h1M101 53h0M104 53h0M107 53h0M100 54h0M105 54h2M97 55h0M100 55h0M97 56h0M100 56h0M102 56h0M105 56h0M99 57h3M98 58h0M100 58h1M99 59h1M98 60h3M101 61h0"/><path stroke="#3a78f2" stroke-width="1.45" d="M104 37h0M102 38h0M101 39h0M101 41h1M102 42h0M108 42h0M103 43h0M104 46h0M104 48h0M105 52h0M105 53h0"/><path stroke="#46def8" stroke-width="1.45" d="M105 37h1M103 38h1M102 39h1M106 39h0M102 40h2M107 40h0M103 41h0M106 41h1M103 42h0M105 42h2M104 43h0M107 43h0M107 44h0M107 45h0M107 46h0M107 48h0M105 51h0M106 52h0"/><path stroke="#f4e044" stroke-width="1.5" d="M106 38h0M104 39h1M104 41h1M104 42h0M106 50h0M106 51h0"/><path stroke="#f4a030" stroke-width="1.7" d="M105 38h0M105 40h1M105 43h0M105 50h0"/><path stroke="#dc2a14" stroke-width="1.7" d="M105 44h0M105 45h0M106 46h0M106 47h0M106 48h0M106 49h0"/><path stroke="#98100e" stroke-width="1.7" d="M106 44h0M106 45h0M105 46h0M105 47h0M105 48h0"/></g></svg>
<svg x="406.4" y="169.2" width="149.5" height="149.5" viewBox="0 0 128 128" preserveAspectRatio="none" overflow="hidden">
<g transform="translate(.5 .5)" fill="none" stroke-linecap="round"><path stroke="#ff3ac4" stroke-width="1.2" d="M3 0h1M6 0h0M9 0h6M20 0h1M23 0h3M29 0h4M35 0h2M39 0h1M42 0h0M46 0h2M50 0h5M57 0h0M59 0h1M63 0h4M69 0h0M71 0h0M74 0h0M78 0h2M82 0h1M86 0h4M92 0h2M96 0h3M102 0h1M105 0h1M108 0h1M112 0h0M114 0h0M117 0h1M120 0h0M123 0h0M125 0h2M0 1h1M3 1h2M7 1h0M9 1h1M13 1h1M16 1h0M18 1h2M22 1h0M28 1h4M35 1h3M40 1h0M42 1h0M45 1h2M51 1h0M55 1h0M57 1h9M68 1h1M71 1h0M75 1h2M81 1h3M87 1h0M90 1h0M93 1h1M96 1h1M102 1h0M106 1h1M109 1h1M112 1h2M116 1h2M121 1h6M0 2h0M2 2h2M6 2h3M11 2h1M15 2h1M18 2h0M20 2h0M25 2h2M29 2h2M34 2h1M43 2h0M45 2h0M49 2h3M54 2h2M58 2h0M61 2h1M65 2h0M69 2h1M72 2h3M77 2h0M79 2h0M81 2h4M87 2h1M92 2h7M101 2h1M104 2h3M109 2h1M113 2h2M118 2h0M120 2h2M124 2h3M0 3h1M10 3h1M13 3h0M15 3h1M18 3h2M22 3h0M24 3h0M29 3h1M33 3h0M35 3h1M38 3h0M40 3h0M42 3h1M45 3h0M47 3h2M51 3h1M54 3h4M60 3h1M64 3h0M66 3h0M71 3h2M75 3h1M78 3h1M81 3h0M84 3h0M86 3h1M89 3h1M93 3h5M100 3h3M106 3h1M109 3h0M111 3h0M113 3h3M121 3h4M0 4h0M3 4h1M6 4h0M10 4h2M14 4h0M16 4h4M23 4h2M27 4h0M33 4h5M40 4h3M45 4h7M54 4h0M56 4h1M59 4h0M63 4h0M65 4h0M67 4h0M70 4h2M79 4h0M81 4h3M87 4h0M90 4h5M97 4h0M101 4h1M104 4h1M108 4h1M111 4h0M113 4h0M120 4h1M123 4h1M126 4h0M0 5h0M4 5h0M11 5h0M13 5h1M16 5h9M28 5h4M34 5h0M36 5h1M40 5h2M44 5h1M47 5h1M50 5h5M57 5h0M59 5h1M62 5h0M64 5h4M71 5h1M74 5h3M79 5h1M83 5h2M88 5h3M93 5h3M98 5h2M103 5h0M105 5h0M107 5h0M109 5h1M112 5h0M121 5h1M126 5h1M1 6h0M4 6h0M6 6h0M13 6h0M17 6h0M19 6h2M23 6h0M26 6h3M33 6h0M35 6h0M39 6h1M43 6h0M45 6h1M48 6h5M55 6h0M58 6h3M63 6h1M66 6h1M70 6h0M72 6h7M81 6h0M87 6h1M91 6h2M95 6h9M106 6h1M109 6h1M122 6h0M126 6h0M1 7h0M3 7h2M17 7h2M22 7h0M24 7h5M31 7h0M34 7h1M37 7h2M41 7h4M48 7h2M54 7h1M57 7h0M59 7h1M62 7h2M66 7h6M74 7h0M77 7h1M80 7h0M82 7h0M92 7h1M95 7h0M101 7h0M103 7h0M107 7h4M126 7h1M1 8h0M3 8h0M5 8h1M15 8h7M25 8h2M29 8h0M31 8h3M37 8h0M40 8h1M43 8h0M46 8h0M48 8h2M52 8h0M54 8h0M57 8h0M59 8h8M70 8h3M75 8h0M78 8h0M82 8h0M92 8h1M95 8h0M97 8h0M99 8h0M103 8h0M105 8h3M111 8h0M0 9h0M2 9h1M14 9h0M16 9h2M20 9h0M23 9h1M26 9h4M34 9h2M38 9h1M41 9h3M46 9h2M50 9h0M54 9h2M59 9h0M66 9h1M69 9h1M72 9h1M75 9h0M78 9h1M82 9h0M91 9h1M96 9h1M99 9h2M103 9h2M109 9h1M0 10h3M14 10h0M20 10h0M22 10h1M25 10h1M30 10h0M32 10h0M34 10h0M36 10h1M39 10h0M41 10h2M47 10h0M49 10h0M51 10h3M58 10h0M60 10h8M71 10h1M74 10h0M76 10h4M92 10h1M101 10h1M105 10h2M109 10h0M111 10h0M12 11h1M18 11h3M23 11h0M26 11h0M28 11h5M35 11h1M38 11h0M42 11h5M49 11h0M52 11h3M57 11h2M61 11h1M64 11h0M66 11h2M72 11h5M94 11h3M101 11h1M105 11h2M110 11h0M125 11h1M0 12h0M2 12h0M13 12h0M15 12h4M22 12h1M25 12h0M30 12h0M32 12h3M38 12h3M47 12h2M51 12h3M56 12h1M62 12h0M65 12h11M78 12h1M89 12h0M91 12h4M99 12h0M102 12h6M124 12h1M0 13h3M13 13h1M19 13h2M23 13h1M26 13h2M30 13h2M34 13h0M36 13h0M38 13h0M40 13h0M43 13h4M49 13h8M59 13h6M69 13h3M74 13h1M77 13h1M80 13h1M84 13h1M90 13h3M95 13h5M103 13h0M106 13h0M123 13h1M126 13h0M1 14h1M4 14h0M7 14h0M13 14h2M18 14h0M20 14h2M24 14h1M27 14h0M29 14h0M36 14h4M43 14h0M45 14h1M50 14h1M53 14h0M56 14h0M58 14h0M62 14h3M68 14h0M70 14h1M73 14h0M76 14h1M81 14h0M84 14h6M92 14h3M97 14h3M102 14h1M105 14h0M107 14h1M0 15h0M2 15h1M5 15h2M13 15h0M17 15h0M20 15h0M23 15h0M25 15h1M28 15h3M34 15h1M39 15h9M55 15h0M57 15h1M63 15h0M65 15h3M70 15h2M75 15h1M78 15h2M84 15h1M88 15h2M94 15h0M96 15h0M98 15h1M103 15h6M111 15h1M117 15h0M123 15h4M1 16h0M4 16h1M8 16h0M10 16h0M14 16h1M17 16h0M20 16h1M23 16h2M30 16h4M36 16h0M39 16h0M43 16h0M46 16h2M51 16h0M54 16h1M57 16h1M67 16h2M71 16h2M75 16h3M83 16h1M86 16h0M88 16h1M91 16h2M95 16h2M99 16h1M104 16h0M106 16h0M111 16h0M113 16h0M116 16h2M122 16h0M125 16h2M0 17h0M4 17h0M6 17h0M9 17h0M14 17h2M19 17h0M21 17h2M31 17h3M38 17h0M40 17h2M45 17h1M49 17h2M53 17h5M64 17h1M69 17h0M72 17h0M74 17h0M78 17h0M83 17h0M85 17h2M89 17h1M95 17h0M104 17h3M109 17h0M111 17h2M115 17h1M119 17h0M121 17h0M123 17h0M125 17h0M127 17h0M0 18h0M2 18h2M6 18h3M11 18h0M15 18h4M22 18h1M31 18h1M34 18h0M36 18h1M39 18h0M48 18h4M54 18h1M57 18h1M66 18h0M68 18h0M70 18h3M78 18h0M82 18h0M86 18h0M88 18h4M98 18h0M106 18h1M111 18h2M116 18h0M118 18h8M0 19h1M3 19h3M9 19h0M11 19h0M13 19h1M18 19h0M20 19h0M23 19h0M32 19h0M35 19h0M37 19h2M41 19h4M49 19h1M56 19h3M64 19h1M71 19h1M75 19h1M79 19h0M81 19h0M83 19h1M86 19h0M88 19h0M91 19h0M95 19h1M105 19h0M107 19h0M110 19h3M115 19h4M124 19h1M127 19h0M1 20h0M3 20h2M9 20h1M15 20h6M24 20h0M30 20h2M34 20h5M41 20h1M48 20h1M51 20h0M53 20h1M56 20h1M59 20h0M61 20h0M64 20h1M67 20h3M72 20h0M75 20h1M78 20h0M80 20h10M92 20h0M94 20h0M96 20h2M102 20h0M104 20h2M108 20h4M114 20h1M119 20h3M126 20h1M0 21h6M8 21h1M15 21h0M17 21h1M20 21h3M26 21h1M30 21h0M36 21h0M39 21h3M46 21h1M49 21h0M51 21h5M59 21h2M63 21h0M65 21h2M69 21h0M71 21h2M76 21h2M80 21h0M83 21h1M86 21h0M88 21h1M91 21h0M94 21h1M102 21h2M106 21h1M109 21h1M115 21h2M119 21h8M0 22h0M4 22h0M6 22h0M9 22h1M12 22h3M19 22h4M26 22h0M28 22h0M34 22h1M37 22h7M46 22h1M49 22h2M53 22h1M56 22h2M60 22h2M64 22h2M69 22h0M72 22h0M74 22h0M76 22h2M81 22h2M87 22h1M95 22h2M103 22h0M108 22h7M117 22h1M120 22h0M123 22h1M126 22h1M0 23h4M7 23h0M9 23h0M13 23h0M15 23h3M20 23h1M23 23h0M25 23h0M28 23h4M34 23h0M37 23h1M40 23h6M49 23h3M54 23h0M56 23h0M61 23h0M63 23h0M66 23h6M76 23h1M79 23h0M81 23h2M95 23h1M104 23h0M110 23h3M115 23h1M118 23h4M126 23h0M1 24h1M4 24h1M7 24h2M11 24h1M14 24h0M16 24h0M20 24h1M24 24h2M28 24h2M32 24h0M35 24h0M37 24h6M45 24h1M48 24h2M52 24h0M55 24h0M57 24h1M60 24h2M64 24h5M71 24h1M76 24h0M78 24h0M80 24h1M95 24h0M103 24h2M112 24h2M116 24h1M123 24h1M127 24h0M3 25h2M11 25h0M13 25h0M15 25h0M18 25h0M21 25h2M27 25h7M37 25h0M42 25h0M44 25h3M49 25h0M53 25h2M57 25h5M64 25h0M67 25h0M69 25h1M73 25h0M76 25h5M96 25h0M103 25h1M115 25h5M122 25h3M127 25h0M1 26h0M4 26h0M7 26h0M9 26h1M13 26h2M17 26h0M21 26h0M24 26h2M28 26h0M30 26h0M35 26h0M37 26h1M42 26h0M45 26h1M48 26h0M55 26h1M60 26h2M65 26h6M76 26h0M78 26h0M117 26h1M121 26h0M123 26h1M126 26h0M1 27h0M3 27h3M9 27h1M12 27h0M14 27h0M16 27h2M20 27h2M24 27h3M29 27h6M37 27h1M40 27h1M43 27h1M48 27h0M51 27h0M53 27h0M55 27h2M59 27h0M61 27h2M65 27h0M67 27h0M70 27h1M76 27h2M80 27h1M115 27h1M123 27h2M0 28h6M9 28h5M16 28h1M21 28h2M27 28h0M29 28h1M34 28h1M37 28h2M42 28h1M46 28h0M50 28h1M55 28h1M59 28h0M61 28h0M63 28h1M66 28h6M76 28h1M79 28h2M114 28h4M120 28h3M125 28h0M127 28h0M2 29h10M14 29h0M16 29h0M18 29h2M22 29h0M25 29h3M30 29h0M32 29h1M35 29h0M37 29h3M42 29h1M46 29h0M48 29h0M50 29h4M57 29h5M67 29h0M70 29h0M72 29h0M78 29h4M114 29h3M119 29h2M124 29h1M0 30h0M3 30h5M10 30h2M14 30h0M16 30h2M20 30h0M22 30h7M31 30h1M35 30h7M44 30h0M47 30h5M54 30h2M58 30h2M63 30h2M67 30h1M70 30h1M74 30h5M81 30h0M115 30h2M119 30h0M122 30h0M126 30h1M0 31h0M3 31h2M7 31h0M10 31h2M14 31h7M24 31h1M27 31h4M33 31h3M38 31h1M41 31h0M43 31h1M46 31h0M48 31h1M51 31h2M55 31h1M61 31h0M63 31h4M69 31h1M72 31h3M77 31h3M82 31h0M116 31h7M125 31h2M0 32h2M4 32h0M7 32h4M13 32h1M16 32h3M21 32h1M24 32h0M26 32h3M31 32h1M34 32h4M45 32h4M53 32h2M57 32h3M62 32h8M76 32h6M117 32h4M123 32h0M125 32h2M0 33h0M4 33h1M8 33h0M10 33h0M12 33h0M15 33h8M25 33h0M27 33h1M30 33h2M34 33h3M39 33h1M42 33h6M50 33h0M52 33h4M59 33h0M61 33h2M65 33h0M67 33h0M69 33h1M72 33h1M75 33h5M84 33h1M114 33h1M119 33h8M0 34h0M2 34h0M7 34h4M15 34h0M18 34h3M23 34h2M27 34h0M29 34h0M34 34h4M40 34h1M45 34h1M48 34h0M50 34h2M54 34h11M68 34h7M77 34h0M80 34h0M114 34h0M116 34h0M118 34h1M121 34h6M0 35h2M4 35h3M10 35h0M12 35h0M14 35h4M21 35h0M23 35h0M26 35h5M33 35h3M38 35h0M40 35h1M43 35h0M45 35h1M50 35h2M54 35h0M57 35h2M61 35h0M64 35h0M66 35h2M70 35h0M72 35h0M74 35h1M77 35h1M117 35h4M124 35h0M127 35h0M3 36h0M6 36h0M8 36h1M13 36h1M16 36h2M20 36h0M26 36h1M29 36h0M32 36h1M36 36h11M50 36h2M54 36h1M59 36h3M64 36h5M71 36h0M73 36h3M78 36h1M114 36h1M118 36h6M126 36h1M0 37h1M3 37h1M6 37h1M9 37h0M11 37h3M17 37h0M19 37h2M26 37h3M31 37h0M36 37h1M39 37h0M41 37h0M43 37h0M46 37h0M49 37h4M57 37h1M61 37h2M65 37h0M68 37h0M70 37h0M72 37h0M74 37h0M76 37h1M79 37h0M112 37h1M115 37h0M118 37h1M121 37h2M125 37h0M127 37h0M2 38h0M4 38h2M8 38h0M10 38h7M19 38h0M21 38h3M26 38h2M33 38h0M35 38h0M37 38h0M43 38h2M48 38h2M52 38h1M57 38h2M62 38h1M65 38h0M70 38h3M78 38h2M104 38h1M110 38h1M114 38h0M117 38h0M120 38h1M124 38h0M126 38h1M0 39h0M2 39h0M5 39h3M10 39h1M13 39h4M19 39h1M22 39h0M26 39h1M31 39h0M34 39h0M37 39h1M45 39h1M49 39h0M51 39h1M54 39h0M56 39h0M59 39h0M62 39h0M64 39h3M69 39h2M76 39h0M78 39h0M110 39h0M112 39h1M115 39h9M126 39h1M1 40h7M10 40h5M18 40h0M23 40h0M25 40h0M28 40h0M30 40h2M34 40h0M36 40h2M43 40h2M49 40h0M51 40h1M54 40h1M57 40h0M59 40h8M71 40h0M74 40h4M106 40h0M109 40h3M114 40h0M117 40h2M122 40h0M125 40h1M2 41h3M7 41h0M9 41h0M11 41h0M13 41h0M15 41h2M21 41h1M27 41h0M31 41h0M35 41h0M37 41h1M41 41h0M44 41h1M48 41h1M51 41h2M56 41h0M59 41h5M67 41h0M77 41h2M109 41h0M111 41h0M113 41h7M125 41h2M0 42h8M10 42h2M14 42h3M19 42h2M23 42h1M28 42h5M36 42h0M38 42h1M42 42h0M44 42h0M46 42h2M50 42h0M52 42h0M56 42h3M61 42h2M65 42h0M68 42h0M70 42h4M78 42h0M80 42h0M110 42h3M115 42h2M119 42h1M122 42h0M124 42h0M0 43h2M6 43h1M10 43h10M23 43h4M30 43h0M34 43h0M37 43h3M43 43h4M49 43h2M53 43h1M56 43h6M64 43h0M68 43h4M75 43h1M78 43h0M80 43h0M108 43h0M112 43h3M117 43h5M124 43h0M126 43h1M0 44h0M2 44h4M9 44h0M11 44h0M13 44h3M18 44h2M22 44h2M26 44h1M29 44h1M33 44h0M35 44h1M40 44h3M45 44h0M48 44h0M50 44h0M52 44h1M55 44h0M59 44h4M68 44h0M75 44h2M79 44h0M81 44h0M111 44h1M114 44h1M117 44h2M121 44h0M123 44h3M0 45h0M3 45h3M8 45h0M10 45h2M14 45h0M16 45h1M21 45h1M24 45h1M27 45h0M30 45h8M40 45h1M46 45h0M48 45h1M52 45h1M56 45h2M60 45h0M62 45h1M68 45h3M73 45h0M76 45h4M83 45h1M107 45h1M110 45h1M115 45h8M126 45h0M0 46h2M6 46h0M8 46h0M12 46h2M18 46h2M23 46h1M26 46h2M30 46h1M33 46h0M35 46h3M41 46h2M46 46h6M57 46h6M68 46h1M71 46h0M76 46h1M79 46h4M106 46h2M111 46h2M115 46h2M119 46h0M121 46h1M125 46h0M127 46h0M2 47h0M4 47h4M10 47h3M15 47h2M21 47h2M28 47h0M36 47h0M38 47h1M46 47h2M52 47h0M55 47h0M57 47h1M60 47h2M64 47h0M66 47h0M68 47h0M70 47h1M74 47h1M77 47h4M83 47h0M109 47h1M112 47h3M118 47h0M120 47h4M126 47h1M0 48h0M3 48h3M9 48h5M16 48h0M19 48h2M25 48h1M28 48h1M31 48h0M33 48h0M35 48h0M40 48h0M45 48h0M48 48h3M53 48h1M56 48h1M59 48h0M62 48h3M69 48h4M75 48h0M78 48h0M80 48h0M82 48h0M106 48h0M110 48h2M114 48h3M119 48h5M126 48h0M0 49h2M4 49h1M7 49h2M11 49h0M13 49h1M16 49h2M21 49h0M23 49h0M25 49h1M28 49h0M34 49h0M36 49h0M38 49h0M41 49h0M43 49h1M46 49h1M49 49h1M52 49h0M54 49h0M56 49h0M58 49h2M62 49h0M65 49h2M69 49h1M72 49h0M75 49h2M79 49h1M82 49h0M84 49h0M103 49h0M106 49h0M108 49h1M111 49h0M113 49h3M121 49h6M1 50h0M4 50h0M7 50h0M9 50h3M14 50h0M16 50h2M20 50h0M22 50h0M25 50h0M27 50h2M31 50h0M34 50h5M43 50h1M47 50h0M50 50h2M54 50h0M56 50h0M59 50h0M61 50h0M63 50h0M65 50h0M68 50h0M70 50h2M74 50h0M76 50h1M80 50h0M82 50h0M84 50h0M93 50h0M95 50h0M100 50h0M106 50h0M112 50h0M114 50h5M121 50h0M125 50h2M2 51h0M4 51h0M9 51h0M11 51h2M17 51h0M23 51h1M28 51h0M30 51h1M33 51h2M38 51h2M42 51h0M44 51h0M47 51h4M60 51h0M62 51h0M66 51h0M68 51h0M70 51h1M76 51h3M82 51h2M86 51h0M92 51h0M95 51h0M97 51h0M99 51h0M101 51h1M105 51h0M108 51h0M110 51h0M113 51h0M115 51h1M118 51h2M123 51h2M127 51h0M2 52h1M5 52h1M8 52h0M10 52h0M12 52h0M24 52h0M26 52h1M29 52h3M36 52h0M39 52h0M44 52h3M49 52h0M58 52h2M62 52h0M65 52h0M68 52h3M75 52h0M78 52h1M81 52h5M91 52h1M94 52h1M97 52h1M101 52h1M104 52h1M109 52h0M111 52h1M114 52h1M117 52h0M119 52h0M124 52h3M1 53h0M3 53h0M5 53h0M8 53h0M11 53h2M31 53h0M34 53h2M38 53h1M45 53h0M48 53h1M51 53h0M57 53h1M60 53h1M63 53h1M66 53h1M71 53h2M75 53h6M83 53h0M85 53h1M90 53h0M93 53h12M107 53h0M111 53h2M118 53h5M125 53h2M0 54h2M4 54h9M23 54h0M25 54h1M29 54h1M32 54h1M35 54h0M37 54h0M39 54h0M41 54h1M45 54h0M49 54h0M53 54h0M57 54h1M61 54h4M67 54h1M70 54h1M74 54h0M76 54h1M80 54h4M86 54h3M96 54h0M100 54h0M102 54h1M105 54h5M114 54h1M117 54h2M123 54h0M125 54h0M127 54h0M1 55h3M6 55h3M11 55h2M17 55h0M22 55h1M27 55h1M30 55h2M34 55h0M38 55h4M45 55h3M50 55h0M52 55h0M54 55h0M56 55h1M60 55h0M62 55h1M65 55h2M69 55h8M81 55h0M83 55h4M90 55h0M92 55h0M94 55h1M97 55h3M102 55h1M108 55h0M112 55h2M117 55h1M120 55h6M1 56h0M3 56h1M8 56h3M13 56h2M18 56h1M21 56h1M24 56h3M30 56h1M33 56h4M39 56h0M41 56h2M45 56h2M52 56h1M55 56h1M61 56h0M63 56h2M69 56h0M71 56h0M73 56h6M83 56h5M90 56h0M93 56h0M95 56h2M99 56h1M102 56h0M105 56h0M108 56h3M113 56h0M119 56h1M122 56h0M124 56h3M2 57h0M7 57h0M9 57h0M12 57h0M15 57h2M19 57h1M22 57h5M29 57h2M34 57h2M40 57h3M47 57h1M53 57h0M56 57h0M58 57h1M61 57h2M65 57h0M67 57h2M71 57h3M76 57h4M82 57h0M84 57h3M89 57h2M94 57h1M97 57h0M99 57h3M107 57h0M109 57h0M111 57h1M114 57h2M118 57h0M123 57h0M125 57h2M0 58h2M4 58h6M12 58h1M16 58h0M18 58h3M24 58h2M28 58h1M31 58h1M35 58h0M37 58h1M40 58h0M43 58h0M45 58h3M51 58h0M55 58h1M59 58h3M64 58h0M66 58h4M75 58h1M78 58h0M81 58h0M83 58h1M89 58h0M91 58h3M98 58h0M100 58h1M109 58h4M116 58h2M120 58h0M122 58h1M0 59h4M6 59h6M14 59h0M16 59h2M22 59h0M24 59h0M26 59h0M28 59h0M30 59h1M33 59h7M42 59h0M44 59h1M47 59h4M53 59h1M56 59h3M61 59h0M63 59h1M68 59h2M72 59h0M74 59h0M76 59h3M81 59h0M83 59h11M97 59h0M99 59h1M109 59h1M112 59h1M115 59h0M117 59h3M122 59h3M4 60h5M11 60h0M13 60h6M21 60h0M23 60h2M27 60h0M29 60h4M36 60h2M40 60h2M45 60h0M47 60h1M50 60h0M53 60h0M56 60h8M70 60h2M74 60h2M78 60h1M81 60h2M85 60h0M87 60h5M94 60h1M98 60h3M110 60h0M112 60h1M115 60h2M119 60h0M121 60h0M123 60h0M125 60h1M0 61h2M5 61h3M12 61h2M16 61h3M21 61h0M23 61h2M28 61h0M32 61h5M39 61h3M44 61h2M48 61h1M54 61h0M57 61h0M65 61h5M73 61h0M75 61h0M77 61h3M82 61h0M85 61h1M88 61h0M91 61h1M94 61h0M99 61h0M101 61h0M113 61h1M116 61h0M118 61h0M122 61h1M126 61h0M0 62h2M4 62h1M8 62h0M11 62h0M13 62h3M18 62h1M21 62h1M24 62h0M28 62h4M34 62h0M36 62h2M40 62h1M43 62h0M46 62h1M49 62h1M54 62h0M56 62h0M58 62h1M61 62h0M69 62h13M84 62h1M87 62h0M89 62h3M94 62h0M98 62h0M100 62h1M109 62h3M114 62h2M118 62h0M121 62h0M123 62h2M127 62h0M2 63h2M6 63h6M14 63h0M16 63h2M20 63h0M22 63h0M24 63h0M26 63h0M30 63h3M35 63h5M42 63h0M44 63h0M49 63h0M51 63h0M55 63h2M59 63h0M61 63h0M63 63h6M71 63h0M74 63h0M76 63h4M82 63h1M86 63h0M88 63h1M92 63h2M96 63h0M98 63h0M102 63h1M107 63h0M109 63h4M120 63h0M122 63h0M124 63h0M126 63h0M0 64h0M2 64h0M7 64h0M9 64h0M12 64h1M15 64h0M17 64h1M20 64h1M24 64h1M30 64h0M32 64h2M37 64h1M41 64h0M45 64h0M47 64h0M52 64h1M55 64h0M58 64h0M60 64h0M63 64h0M65 64h1M69 64h0M71 64h0M73 64h0M75 64h3M82 64h1M85 64h0M87 64h0M89 64h0M91 64h4M97 64h4M104 64h0M110 64h2M114 64h1M118 64h3M123 64h0M127 64h0M0 65h1M5 65h0M7 65h0M9 65h0M12 65h3M18 65h1M22 65h0M27 65h2M31 65h7M40 65h0M43 65h3M48 65h1M51 65h0M53 65h1M56 65h0M61 65h5M72 65h2M76 65h3M81 65h0M86 65h3M91 65h0M93 65h2M97 65h3M103 65h0M109 65h0M111 65h0M113 65h4M122 65h1M1 66h1M4 66h4M11 66h7M20 66h0M22 66h2M26 66h0M29 66h3M34 66h0M36 66h0M38 66h0M40 66h0M42 66h4M49 66h3M54 66h0M57 66h0M61 66h4M67 66h2M71 66h1M74 66h0M76 66h6M89 66h0M91 66h1M94 66h0M97 66h0M100 66h4M107 66h4M113 66h2M117 66h7M126 66h1M1 67h0M3 67h1M6 67h0M8 67h6M16 67h0M18 67h1M23 67h1M27 67h1M32 67h0M34 67h4M41 67h1M44 67h4M50 67h1M53 67h1M56 67h0M58 67h2M62 67h0M64 67h0M66 67h0M70 67h0M73 67h0M75 67h6M83 67h0M85 67h6M93 67h0M95 67h1M98 67h2M103 67h0M105 67h0M109 67h1M112 67h0M116 67h0M118 67h2M122 67h2M126 67h1M4 68h4M10 68h2M14 68h0M16 68h0M18 68h6M26 68h0M28 68h3M33 68h5M41 68h4M47 68h2M51 68h4M57 68h0M61 68h0M63 68h0M65 68h0M67 68h5M74 68h4M83 68h0M85 68h1M88 68h1M91 68h1M94 68h2M105 68h0M107 68h2M114 68h2M118 68h0M120 68h0M124 68h0M126 68h0M1 69h0M3 69h4M10 69h2M14 69h0M17 69h1M22 69h0M24 69h0M27 69h2M31 69h14M49 69h0M54 69h5M63 69h0M66 69h5M74 69h0M76 69h0M78 69h4M84 69h0M86 69h0M88 69h0M90 69h4M96 69h0M98 69h0M100 69h4M106 69h2M110 69h1M113 69h2M117 69h0M119 69h1M123 69h0M125 69h0M127 69h0M1 70h1M4 70h1M7 70h0M12 70h6M25 70h3M30 70h0M32 70h1M37 70h0M39 70h2M46 70h2M50 70h2M60 70h0M63 70h1M67 70h0M69 70h7M78 70h0M84 70h0M86 70h1M89 70h2M93 70h1M96 70h0M100 70h2M104 70h1M109 70h0M111 70h0M116 70h1M119 70h6M3 71h0M5 71h4M11 71h0M13 71h0M17 71h4M24 71h5M31 71h4M37 71h1M41 71h1M45 71h1M48 71h4M55 71h1M58 71h0M63 71h0M65 71h5M74 71h3M79 71h1M84 71h1M89 71h4M96 71h2M100 71h0M102 71h0M104 71h3M109 71h1M113 71h0M116 71h1M119 71h2M124 71h1M0 72h4M6 72h1M10 72h2M15 72h1M22 72h1M25 72h2M30 72h1M36 72h0M38 72h1M41 72h0M43 72h2M47 72h0M49 72h0M51 72h7M61 72h0M63 72h0M66 72h1M69 72h0M74 72h0M76 72h4M83 72h1M86 72h1M89 72h2M93 72h0M95 72h0M97 72h4M103 72h0M106 72h1M110 72h2M115 72h2M121 72h0M123 72h0M125 72h0M127 72h0M0 73h0M5 73h2M9 73h3M16 73h0M26 73h0M28 73h0M30 73h3M35 73h4M41 73h0M43 73h0M45 73h0M48 73h0M50 73h1M53 73h0M56 73h3M62 73h1M66 73h0M68 73h8M78 73h1M81 73h5M88 73h2M92 73h3M97 73h1M100 73h4M106 73h0M109 73h2M117 73h0M119 73h5M126 73h0M2 74h0M6 74h1M9 74h1M14 74h0M16 74h0M24 74h1M27 74h0M29 74h0M31 74h0M33 74h5M43 74h3M48 74h8M60 74h0M63 74h1M66 74h1M71 74h4M78 74h2M82 74h3M87 74h7M97 74h0M99 74h0M101 74h0M104 74h0M106 74h5M117 74h0M119 74h0M121 74h0M123 74h0M125 74h0M127 74h0M0 75h0M6 75h0M9 75h0M11 75h0M14 75h1M24 75h1M27 75h0M29 75h0M34 75h1M37 75h1M40 75h2M44 75h2M48 75h0M53 75h4M59 75h1M63 75h1M66 75h0M68 75h0M70 75h0M72 75h0M74 75h2M78 75h1M82 75h4M88 75h0M92 75h1M96 75h4M102 75h1M105 75h1M110 75h2M115 75h7M125 75h2M0 76h1M7 76h1M10 76h3M16 76h0M25 76h2M31 76h2M35 76h0M43 76h2M47 76h2M54 76h1M58 76h1M63 76h1M68 76h1M72 76h0M74 76h10M86 76h4M92 76h2M97 76h2M101 76h1M104 76h0M106 76h1M109 76h0M111 76h0M113 76h0M115 76h6M123 76h0M127 76h0M1 77h0M3 77h0M7 77h0M10 77h0M12 77h2M16 77h4M23 77h2M27 77h0M29 77h0M31 77h0M34 77h1M37 77h0M39 77h0M41 77h0M43 77h4M49 77h8M61 77h1M65 77h1M70 77h8M81 77h0M85 77h0M87 77h0M90 77h0M94 77h2M98 77h1M101 77h3M106 77h1M109 77h0M112 77h1M117 77h1M122 77h0M124 77h3M1 78h0M3 78h0M8 78h0M10 78h2M14 78h0M16 78h0M19 78h4M27 78h1M33 78h4M39 78h0M42 78h0M45 78h0M47 78h1M50 78h1M53 78h1M56 78h0M59 78h1M62 78h0M66 78h0M68 78h0M71 78h1M74 78h1M79 78h0M81 78h7M90 78h1M95 78h2M102 78h0M105 78h1M108 78h2M112 78h4M118 78h3M123 78h2M127 78h0M0 79h0M2 79h2M6 79h0M8 79h0M10 79h0M13 79h0M15 79h1M18 79h1M21 79h0M25 79h0M28 79h0M30 79h4M37 79h4M44 79h1M47 79h1M50 79h0M52 79h0M58 79h1M61 79h0M63 79h0M66 79h0M68 79h0M73 79h1M76 79h2M80 79h0M82 79h1M85 79h0M87 79h2M91 79h0M94 79h0M98 79h2M102 79h0M105 79h0M107 79h1M112 79h6M120 79h3M125 79h2M0 80h0M5 80h0M7 80h1M10 80h0M12 80h0M18 80h1M23 80h0M25 80h0M28 80h4M35 80h2M39 80h1M45 80h1M48 80h3M58 80h1M65 80h4M71 80h2M76 80h0M78 80h0M81 80h0M84 80h1M88 80h3M94 80h0M96 80h0M98 80h1M102 80h3M107 80h1M110 80h1M115 80h1M118 80h0M120 80h3M126 80h1M2 81h2M6 81h0M8 81h5M16 81h1M19 81h1M24 81h0M26 81h1M33 81h0M36 81h0M38 81h1M41 81h12M58 81h2M63 81h0M70 81h0M72 81h2M76 81h0M78 81h3M85 81h0M87 81h1M90 81h2M94 81h4M100 81h0M103 81h9M114 81h1M119 81h1M126 81h1M1 82h1M4 82h1M7 82h4M13 82h1M18 82h1M21 82h0M23 82h0M25 82h0M29 82h0M31 82h0M33 82h0M35 82h0M37 82h2M41 82h0M44 82h0M47 82h0M50 82h0M55 82h0M58 82h0M60 82h5M67 82h0M69 82h3M75 82h0M78 82h0M81 82h0M83 82h0M87 82h0M89 82h0M91 82h0M94 82h1M98 82h0M100 82h1M103 82h1M107 82h0M109 82h6M117 82h1M122 82h2M126 82h0M0 83h0M4 83h0M6 83h1M9 83h0M12 83h2M18 83h1M23 83h1M27 83h0M32 83h2M36 83h0M38 83h0M40 83h0M42 83h4M50 83h0M55 83h0M59 83h0M61 83h2M66 83h1M69 83h3M75 83h1M79 83h1M82 83h5M90 83h0M93 83h0M98 83h1M102 83h1M105 83h2M110 83h7M120 83h3M125 83h0M127 83h0M1 84h0M3 84h0M5 84h3M10 84h0M12 84h8M22 84h2M26 84h2M33 84h0M35 84h1M38 84h0M40 84h1M44 84h1M47 84h0M49 84h0M54 84h1M61 84h0M63 84h0M66 84h0M70 84h4M76 84h6M84 84h0M86 84h1M89 84h3M94 84h1M98 84h2M103 84h0M105 84h7M114 84h0M116 84h2M120 84h0M122 84h2M126 84h1M0 85h4M7 85h0M9 85h0M12 85h0M15 85h0M17 85h3M22 85h0M24 85h4M36 85h8M48 85h2M53 85h2M60 85h0M62 85h0M64 85h3M69 85h0M71 85h4M79 85h1M82 85h0M84 85h1M88 85h0M91 85h1M96 85h2M100 85h0M103 85h1M108 85h0M111 85h0M113 85h0M115 85h1M118 85h0M122 85h5M1 86h5M10 86h7M19 86h1M22 86h2M28 86h1M31 86h1M34 86h0M37 86h2M41 86h2M45 86h1M48 86h0M51 86h1M60 86h1M63 86h1M66 86h1M69 86h1M73 86h1M76 86h6M84 86h4M90 86h0M95 86h0M97 86h1M100 86h0M104 86h0M106 86h1M110 86h1M113 86h2M118 86h1M121 86h6M1 87h1M4 87h0M6 87h0M8 87h0M12 87h0M17 87h0M19 87h4M25 87h9M37 87h1M40 87h1M43 87h2M47 87h0M51 87h0M54 87h1M61 87h0M63 87h2M67 87h1M72 87h5M79 87h3M84 87h4M92 87h1M96 87h6M105 87h2M112 87h3M117 87h0M120 87h7M1 88h3M7 88h1M10 88h1M14 88h1M17 88h2M22 88h1M25 88h0M27 88h1M30 88h0M33 88h1M36 88h1M39 88h1M42 88h2M47 88h1M50 88h1M55 88h0M59 88h1M63 88h7M73 88h0M75 88h2M80 88h3M86 88h4M94 88h2M98 88h2M102 88h0M104 88h2M109 88h0M111 88h1M114 88h0M116 88h0M118 88h0M120 88h0M124 88h1M1 89h2M5 89h0M7 89h2M11 89h0M13 89h0M15 89h1M18 89h0M20 89h0M22 89h2M26 89h3M31 89h0M33 89h4M40 89h3M45 89h0M47 89h0M50 89h0M53 89h0M56 89h0M58 89h1M62 89h3M68 89h0M70 89h4M76 89h0M78 89h3M84 89h0M86 89h0M94 89h0M97 89h3M102 89h0M104 89h1M108 89h3M114 89h0M116 89h0M119 89h0M122 89h5M1 90h1M4 90h0M6 90h3M12 90h0M15 90h1M18 90h1M21 90h2M25 90h1M28 90h4M36 90h1M39 90h2M47 90h2M52 90h0M54 90h3M59 90h1M62 90h3M68 90h0M70 90h8M80 90h0M83 90h1M86 90h0M88 90h2M94 90h11M107 90h4M114 90h0M117 90h2M121 90h2M0 91h3M5 91h4M11 91h3M17 91h2M23 91h3M28 91h2M34 91h1M37 91h0M40 91h0M43 91h0M46 91h0M48 91h1M52 91h1M55 91h2M59 91h0M62 91h6M70 91h0M72 91h2M76 91h0M78 91h4M84 91h0M89 91h4M95 91h0M97 91h2M102 91h2M107 91h0M109 91h4M115 91h0M117 91h0M119 91h1M125 91h0M127 91h0M5 92h2M9 92h1M13 92h1M17 92h0M19 92h2M24 92h0M26 92h0M28 92h0M30 92h2M34 92h3M39 92h0M41 92h1M44 92h0M48 92h0M51 92h0M53 92h6M61 92h2M65 92h1M68 92h1M72 92h3M78 92h0M80 92h0M82 92h1M88 92h0M90 92h0M92 92h0M96 92h7M105 92h0M107 92h3M112 92h0M116 92h4M124 92h3M1 93h3M6 93h2M11 93h0M13 93h3M19 93h2M24 93h0M27 93h1M30 93h3M36 93h1M39 93h1M42 93h0M44 93h3M49 93h3M54 93h3M61 93h2M65 93h0M67 93h3M73 93h0M75 93h5M82 93h0M84 93h0M90 93h0M93 93h2M97 93h1M101 93h0M103 93h2M107 93h1M110 93h1M115 93h1M118 93h1M123 93h2M0 94h0M3 94h2M7 94h0M9 94h0M11 94h1M14 94h0M17 94h2M22 94h0M24 94h1M27 94h4M35 94h0M37 94h1M40 94h2M45 94h0M52 94h4M58 94h0M61 94h1M64 94h0M66 94h0M68 94h0M70 94h2M74 94h0M76 94h0M80 94h1M85 94h2M90 94h1M93 94h2M97 94h0M99 94h0M109 94h0M111 94h0M114 94h3M119 94h3M125 94h2M3 95h0M5 95h3M10 95h0M16 95h2M20 95h0M22 95h0M24 95h1M28 95h0M31 95h0M33 95h0M36 95h0M38 95h3M43 95h5M51 95h0M54 95h7M63 95h3M68 95h0M71 95h5M78 95h0M83 95h0M87 95h2M92 95h0M94 95h1M98 95h1M106 95h0M111 95h2M115 95h8M125 95h2M1 96h0M3 96h1M8 96h0M10 96h1M13 96h0M15 96h0M17 96h1M26 96h0M30 96h2M34 96h3M40 96h0M42 96h2M46 96h0M48 96h0M50 96h4M57 96h1M62 96h0M66 96h5M73 96h1M76 96h2M81 96h12M95 96h0M97 96h0M99 96h0M107 96h4M114 96h2M118 96h1M121 96h0M123 96h0M125 96h0M127 96h0M2 97h4M8 97h2M12 97h1M15 97h0M17 97h1M20 97h2M24 97h0M26 97h7M35 97h1M38 97h1M41 97h0M43 97h0M45 97h0M47 97h0M49 97h0M52 97h2M56 97h0M59 97h1M63 97h0M69 97h0M72 97h1M76 97h1M79 97h0M81 97h0M84 97h4M91 97h3M105 97h1M108 97h1M112 97h1M117 97h0M120 97h1M124 97h2M1 98h0M4 98h3M10 98h0M12 98h5M20 98h2M24 98h1M33 98h5M40 98h2M45 98h0M47 98h1M50 98h3M58 98h0M60 98h0M63 98h0M65 98h2M70 98h1M74 98h3M79 98h1M82 98h0M85 98h1M88 98h0M93 98h1M96 98h0M101 98h0M104 98h0M106 98h2M111 98h0M113 98h2M117 98h2M121 98h1M126 98h1M0 99h0M2 99h0M4 99h0M6 99h2M10 99h0M14 99h1M17 99h1M21 99h5M34 99h0M36 99h0M39 99h10M52 99h0M54 99h0M56 99h0M59 99h1M63 99h1M67 99h0M69 99h0M71 99h0M73 99h0M75 99h4M83 99h10M95 99h3M103 99h3M110 99h1M115 99h2M120 99h0M122 99h0M125 99h0M127 99h0M0 100h2M4 100h0M6 100h0M10 100h3M17 100h2M22 100h0M31 100h1M35 100h0M38 100h4M45 100h5M52 100h0M55 100h2M59 100h0M62 100h4M69 100h3M74 100h0M76 100h1M79 100h3M84 100h2M90 100h4M98 100h1M102 100h0M104 100h0M106 100h0M109 100h1M112 100h1M115 100h1M120 100h0M122 100h2M0 101h1M3 101h5M10 101h2M16 101h0M20 101h1M23 101h0M31 101h0M33 101h0M35 101h1M38 101h2M44 101h0M47 101h2M51 101h1M55 101h0M57 101h1M60 101h0M66 101h0M68 101h4M74 101h3M79 101h1M83 101h5M92 101h1M95 101h4M105 101h1M109 101h5M118 101h1M121 101h0M123 101h1M126 101h1M0 102h0M2 102h1M6 102h1M9 102h3M15 102h0M17 102h1M20 102h3M25 102h0M31 102h0M33 102h2M37 102h1M40 102h3M45 102h2M49 102h0M51 102h1M54 102h2M60 102h1M63 102h1M66 102h0M68 102h0M70 102h0M75 102h1M78 102h8M89 102h6M101 102h3M107 102h3M112 102h0M116 102h4M122 102h1M125 102h1M0 103h1M3 103h1M6 103h0M8 103h0M10 103h2M14 103h6M22 103h0M24 103h3M29 103h0M31 103h1M34 103h4M41 103h0M44 103h1M47 103h2M52 103h1M55 103h2M59 103h1M62 103h4M68 103h0M70 103h6M78 103h0M80 103h0M82 103h0M84 103h0M86 103h2M90 103h0M92 103h0M95 103h0M98 103h0M100 103h2M104 103h2M108 103h2M115 103h1M118 103h1M123 103h0M125 103h2M0 104h0M2 104h1M6 104h1M11 104h1M14 104h5M21 104h0M23 104h0M25 104h1M28 104h1M31 104h2M36 104h0M38 104h7M47 104h7M56 104h0M58 104h0M60 104h6M71 104h0M74 104h1M77 104h0M79 104h0M81 104h2M85 104h0M88 104h1M91 104h2M97 104h1M100 104h0M105 104h1M108 104h0M112 104h0M115 104h2M119 104h0M122 104h3M0 105h10M12 105h6M20 105h0M23 105h0M25 105h1M28 105h0M32 105h2M37 105h0M39 105h0M41 105h1M45 105h0M47 105h1M52 105h0M54 105h1M57 105h2M61 105h0M64 105h1M67 105h0M69 105h0M74 105h1M78 105h3M85 105h0M87 105h1M90 105h1M95 105h2M99 105h1M102 105h0M104 105h0M106 105h2M110 105h0M112 105h0M116 105h0M118 105h0M121 105h6M0 106h2M5 106h0M7 106h5M16 106h2M20 106h1M23 106h7M32 106h1M35 106h1M38 106h2M44 106h0M47 106h1M50 106h3M55 106h1M58 106h0M63 106h0M65 106h0M68 106h1M71 106h1M74 106h5M81 106h0M84 106h8M95 106h0M97 106h2M105 106h4M112 106h0M114 106h0M116 106h0M118 106h0M120 106h0M123 106h3M0 107h5M8 107h0M10 107h2M14 107h0M17 107h2M21 107h0M23 107h1M26 107h0M28 107h1M31 107h2M36 107h0M39 107h10M55 107h0M57 107h2M61 107h0M65 107h3M71 107h1M75 107h0M77 107h2M81 107h2M86 107h0M88 107h1M91 107h7M100 107h1M103 107h1M106 107h0M108 107h2M114 107h4M120 107h1M124 107h1M1 108h2M5 108h9M16 108h3M24 108h0M26 108h1M30 108h1M33 108h1M40 108h5M47 108h2M52 108h0M54 108h2M58 108h0M63 108h7M72 108h1M75 108h0M78 108h5M85 108h3M90 108h2M96 108h0M98 108h0M100 108h4M107 108h3M112 108h1M115 108h0M117 108h9M1 109h1M5 109h2M9 109h0M13 109h0M15 109h1M19 109h0M21 109h0M23 109h1M26 109h4M32 109h6M40 109h3M46 109h6M55 109h0M57 109h0M60 109h0M63 109h5M73 109h0M80 109h2M84 109h1M87 109h0M89 109h2M93 109h2M97 109h0M99 109h0M101 109h0M104 109h2M109 109h2M113 109h0M116 109h0M118 109h7M127 109h0M2 110h4M9 110h0M11 110h1M14 110h2M22 110h0M29 110h3M34 110h4M42 110h1M45 110h1M49 110h4M55 110h0M58 110h1M64 110h0M66 110h1M69 110h0M75 110h4M82 110h1M85 110h1M89 110h0M91 110h2M95 110h1M98 110h0M100 110h1M103 110h0M107 110h0M113 110h0M117 110h3M127 110h0M0 111h0M4 111h0M6 111h0M8 111h7M18 111h0M22 111h0M26 111h1M31 111h1M34 111h2M38 111h2M42 111h2M47 111h3M54 111h10M67 111h0M71 111h0M73 111h3M78 111h4M92 111h5M99 111h0M103 111h1M106 111h0M109 111h0M111 111h1M114 111h5M121 111h1M124 111h0M0 112h1M3 112h1M6 112h0M8 112h1M12 112h0M14 112h8M26 112h4M33 112h3M38 112h0M40 112h4M50 112h0M52 112h0M54 112h1M58 112h1M61 112h2M65 112h2M69 112h0M71 112h2M76 112h5M83 112h3M88 112h0M90 112h4M103 112h1M106 112h3M111 112h2M115 112h0M117 112h1M120 112h0M122 112h1M125 112h0M0 113h1M3 113h2M7 113h1M10 113h1M14 113h5M26 113h0M29 113h0M35 113h1M39 113h0M42 113h0M44 113h2M49 113h1M54 113h0M57 113h0M59 113h0M62 113h0M64 113h0M67 113h1M71 113h0M74 113h0M77 113h1M80 113h0M85 113h5M95 113h1M98 113h1M101 113h0M103 113h2M107 113h3M112 113h2M116 113h1M122 113h1M125 113h2M0 114h5M8 114h1M11 114h2M17 114h1M21 114h0M28 114h0M31 114h1M36 114h1M40 114h1M44 114h1M47 114h3M52 114h0M54 114h0M56 114h0M59 114h0M61 114h6M70 114h1M73 114h2M77 114h0M79 114h1M82 114h1M85 114h2M89 114h0M92 114h4M100 114h7M110 114h1M113 114h2M118 114h1M122 114h2M126 114h1M0 115h3M5 115h2M10 115h4M16 115h2M20 115h1M24 115h1M30 115h0M33 115h0M38 115h0M40 115h2M44 115h8M54 115h0M56 115h0M58 115h2M64 115h1M72 115h1M75 115h0M78 115h2M84 115h0M86 115h1M90 115h2M94 115h0M96 115h0M102 115h1M106 115h2M110 115h0M112 115h0M114 115h0M116 115h0M118 115h3M124 115h3M0 116h1M3 116h1M6 116h0M9 116h2M15 116h1M18 116h2M22 116h0M24 116h0M27 116h2M31 116h9M42 116h2M46 116h2M50 116h0M54 116h1M61 116h0M63 116h0M67 116h0M75 116h0M77 116h0M79 116h3M87 116h0M91 116h1M94 116h6M103 116h0M110 116h2M115 116h4M121 116h0M124 116h0M0 117h2M7 117h7M16 117h15M33 117h0M35 117h1M38 117h2M42 117h4M51 117h8M61 117h1M66 117h1M72 117h1M75 117h0M78 117h3M83 117h0M85 117h1M88 117h0M90 117h1M95 117h3M100 117h0M102 117h0M104 117h2M108 117h2M112 117h2M117 117h1M124 117h2M0 118h6M8 118h1M12 118h0M14 118h0M17 118h1M22 118h0M24 118h0M26 118h0M28 118h4M34 118h1M40 118h2M45 118h1M50 118h0M53 118h2M58 118h0M61 118h1M65 118h1M68 118h0M70 118h1M73 118h0M75 118h3M81 118h0M83 118h0M85 118h2M89 118h0M91 118h0M93 118h0M95 118h1M98 118h6M107 118h0M109 118h0M112 118h0M114 118h2M118 118h1M122 118h3M127 118h0M0 119h1M3 119h0M6 119h1M9 119h3M16 119h0M20 119h3M27 119h1M30 119h0M32 119h2M36 119h0M39 119h5M46 119h3M51 119h0M53 119h1M56 119h0M58 119h1M61 119h2M65 119h0M67 119h0M69 119h0M71 119h8M81 119h1M85 119h2M89 119h1M94 119h1M97 119h0M99 119h1M102 119h0M104 119h4M110 119h2M114 119h1M117 119h0M119 119h0M121 119h2M125 119h0M1 120h0M3 120h0M5 120h0M8 120h0M10 120h1M13 120h0M15 120h0M17 120h1M20 120h1M23 120h3M30 120h3M36 120h2M41 120h0M44 120h0M48 120h0M50 120h2M54 120h0M56 120h0M61 120h6M71 120h5M80 120h0M82 120h0M84 120h5M91 120h1M94 120h1M98 120h0M100 120h2M104 120h0M106 120h1M109 120h1M112 120h0M114 120h1M117 120h3M122 120h0M124 120h3M0 121h1M3 121h1M6 121h1M9 121h1M15 121h0M17 121h1M22 121h1M25 121h1M28 121h0M31 121h1M34 121h0M36 121h0M41 121h0M43 121h1M47 121h2M51 121h1M55 121h0M58 121h0M63 121h0M65 121h4M71 121h1M74 121h2M79 121h0M83 121h0M85 121h0M87 121h2M92 121h1M97 121h1M100 121h0M104 121h3M109 121h0M111 121h0M115 121h7M124 121h3M0 122h0M2 122h0M6 122h2M10 122h2M14 122h1M18 122h0M21 122h0M23 122h0M25 122h3M30 122h0M32 122h4M38 122h4M45 122h1M48 122h2M52 122h1M55 122h1M58 122h0M60 122h0M62 122h2M66 122h0M68 122h0M70 122h2M75 122h0M77 122h0M79 122h0M82 122h0M84 122h2M89 122h2M94 122h9M106 122h0M108 122h0M110 122h1M113 122h2M117 122h1M120 122h0M123 122h1M126 122h1M0 123h0M2 123h0M4 123h1M7 123h12M21 123h1M24 123h3M29 123h0M32 123h0M35 123h0M38 123h1M43 123h3M48 123h3M54 123h2M60 123h1M63 123h0M65 123h2M69 123h0M73 123h0M75 123h0M77 123h2M82 123h2M86 123h1M89 123h0M91 123h0M93 123h3M99 123h0M102 123h1M105 123h0M109 123h2M116 123h9M4 124h3M9 124h0M13 124h1M16 124h6M25 124h0M27 124h0M29 124h0M31 124h2M35 124h2M39 124h2M43 124h0M45 124h9M58 124h0M60 124h5M68 124h0M70 124h0M72 124h1M75 124h1M79 124h2M83 124h1M86 124h1M89 124h2M93 124h3M98 124h2M102 124h0M104 124h5M114 124h5M121 124h0M123 124h4M2 125h1M5 125h1M9 125h1M12 125h3M21 125h1M24 125h4M34 125h2M39 125h7M48 125h1M51 125h0M53 125h0M55 125h0M57 125h0M59 125h1M62 125h0M64 125h3M69 125h1M72 125h1M75 125h1M81 125h2M86 125h0M89 125h0M91 125h4M97 125h5M105 125h6M113 125h0M115 125h1M118 125h0M120 125h1M124 125h3M0 126h3M6 126h0M9 126h11M22 126h2M26 126h1M30 126h2M34 126h1M39 126h0M41 126h4M47 126h3M52 126h2M56 126h0M58 126h1M62 126h2M66 126h0M70 126h2M74 126h1M78 126h1M85 126h1M88 126h1M93 126h3M99 126h3M110 126h0M113 126h2M118 126h4M124 126h1M0 127h1M3 127h1M6 127h1M9 127h3M14 127h0M16 127h0M18 127h2M22 127h3M27 127h1M31 127h2M36 127h2M43 127h0M47 127h0M50 127h1M53 127h0M56 127h0M58 127h0M61 127h1M64 127h6M72 127h1M78 127h0M80 127h1M83 127h1M86 127h0M89 127h0M91 127h1M94 127h2M98 127h0M100 127h0M103 127h0M105 127h2M109 127h2M113 127h4M119 127h1M122 127h1M125 127h1"/><path stroke="#8a2ca8" stroke-width="1.2" d="M100 17h1M96 18h1M100 18h2M101 19h0M100 20h1M98 21h0M100 21h1M84 22h0M90 22h0M93 22h0M98 22h0M100 22h0M102 22h0M84 23h2M88 23h1M91 23h2M98 23h0M101 23h1M108 23h0M83 24h1M100 24h0M106 24h1M110 24h1M84 25h0M94 25h1M101 25h1M106 25h0M109 25h0M111 25h2M82 26h0M96 26h0M101 26h1M104 26h1M112 26h1M82 27h1M95 27h2M99 27h2M103 27h0M106 27h0M83 28h0M101 28h1M107 28h1M111 28h0M113 28h0M83 29h0M101 29h7M110 29h0M112 29h1M83 30h0M103 30h0M109 30h1M113 30h1M83 31h0M87 31h2M114 31h0M83 32h0M85 32h3M90 32h1M113 32h1M89 33h1M83 34h5M90 34h1M113 34h0M81 35h1M84 35h0M87 35h0M113 35h0M82 36h1M87 36h0M91 36h0M102 36h0M110 36h1M113 36h0M102 37h0M104 37h0M106 37h0M108 37h0M110 37h0M81 38h0M102 38h0M108 38h0M80 39h0M101 39h0M103 39h1M80 40h0M102 40h2M100 41h2M107 41h0M82 42h0M99 42h1M102 42h0M106 42h3M81 43h2M85 43h0M100 43h2M105 43h0M107 43h0M85 44h0M87 44h0M102 44h1M106 44h1M86 45h0M102 45h0M104 45h1M85 46h0M91 46h0M103 46h2M102 47h1M105 47h0M93 48h1M103 48h1M85 49h0M92 49h2M96 49h0M101 49h0M86 50h0M91 50h0M97 50h2M101 50h2M105 50h0M90 51h0M103 51h0"/><path stroke="#2a1498" stroke-width="1.3" d="M99 22h0M90 23h0M87 24h0M89 24h0M92 24h1M99 24h0M108 24h0M87 25h0M98 25h1M107 25h0M110 26h0M87 27h0M94 27h0M107 27h0M109 27h2M87 28h1M97 28h0M99 28h0M110 28h0M88 29h0M87 30h3M92 30h1M102 30h0M107 30h1M91 31h4M104 31h0M111 31h1M92 32h1M103 32h0M110 32h1M92 33h1M93 34h0M102 34h0M110 34h2M89 35h0M92 35h0M99 35h0M102 35h0M111 35h0M84 36h2M89 36h0M92 36h1M99 36h1M104 36h0M90 37h0M92 37h1M101 37h0M85 38h0M89 38h2M100 38h1M81 39h0M100 39h0M100 40h0M103 41h1M85 42h0M88 42h0M97 42h0M103 42h0M89 43h0M99 43h0M103 43h0M89 44h0M101 44h0M87 45h0M95 45h1M90 46h0M92 46h0M95 46h0M102 46h0M86 47h0M91 47h0M95 47h0M86 48h0M96 48h0M87 49h0M88 50h0"/><path stroke="#1a1ccc" stroke-width="1.45" d="M90 24h0M90 25h0M93 25h0M86 26h1M90 26h1M93 26h0M89 27h3M89 28h4M91 29h8M91 30h0M96 30h0M99 30h1M96 31h0M98 31h0M100 31h1M106 31h3M95 32h4M101 32h0M105 32h2M109 32h0M112 32h0M95 33h0M97 33h2M101 33h0M103 33h0M105 33h2M109 33h0M111 33h0M94 34h0M96 34h2M100 34h1M103 34h0M107 34h2M94 35h1M97 35h0M106 35h1M109 35h0M96 36h2M106 36h2M86 37h0M94 37h0M96 37h0M98 37h1M84 38h0M93 38h4M83 39h2M87 39h0M89 39h0M91 39h1M96 39h0M98 39h1M84 40h1M87 40h1M95 40h0M97 40h0M99 40h0M82 41h2M89 41h0M96 41h0M98 41h0M90 42h0M90 43h0M95 43h1M90 44h0M94 44h0M100 44h0M91 45h0M93 45h1M101 45h0M87 46h1M96 46h0M88 47h2M93 47h0M87 48h0M89 48h2M101 48h0M88 49h1M99 49h0M89 50h0"/><path stroke="#3a78f2" stroke-width="1.45" d="M95 42h0M101 47h0"/><path stroke="#46def8" stroke-width="1.45" d="M93 40h1M92 41h0M91 42h0M91 43h2M97 45h0M101 46h0"/><path stroke="#f4e044" stroke-width="1.5" d="M94 41h0M92 42h0M94 42h0M98 44h0"/><path stroke="#f4a030" stroke-width="1.7" d="M93 41h0M93 42h0M99 44h0"/><path stroke="#dc2a14" stroke-width="1.7" d="M97 46h0M100 46h0M97 47h0M100 47h0M100 48h0"/><path stroke="#98100e" stroke-width="1.7" d="M98 45h1M98 46h1M98 47h1M98 48h1"/></g></svg>
<svg x="406.4" y="326.3" width="149.5" height="149.5" viewBox="0 0 128 128" preserveAspectRatio="none" overflow="hidden">
<g transform="translate(.5 .5)" fill="none" stroke-linecap="round"><path stroke="#ff3ac4" stroke-width="1.2" d="M3 0h1M6 0h0M9 0h6M20 0h1M23 0h3M29 0h1M78 0h2M82 0h1M86 0h4M92 0h2M96 0h3M102 0h1M105 0h1M108 0h1M112 0h0M114 0h0M117 0h1M120 0h0M123 0h0M125 0h2M0 1h1M3 1h2M7 1h0M9 1h1M13 1h1M16 1h0M18 1h2M22 1h0M28 1h1M76 1h1M81 1h3M87 1h0M90 1h0M93 1h1M96 1h1M102 1h0M106 1h1M109 1h1M112 1h2M116 1h2M121 1h6M0 2h0M2 2h2M6 2h3M11 2h1M15 2h1M18 2h0M20 2h0M25 2h2M77 2h0M79 2h0M81 2h4M87 2h1M92 2h7M101 2h1M104 2h3M109 2h1M113 2h2M118 2h0M120 2h2M124 2h3M0 3h1M10 3h1M13 3h0M15 3h1M18 3h2M22 3h0M24 3h0M78 3h1M81 3h0M84 3h0M86 3h1M89 3h1M93 3h5M100 3h3M106 3h1M109 3h0M111 3h0M113 3h3M121 3h4M0 4h0M3 4h1M6 4h0M10 4h2M14 4h0M16 4h4M23 4h2M27 4h0M79 4h0M81 4h3M87 4h0M90 4h5M97 4h0M101 4h1M104 4h1M108 4h1M111 4h0M113 4h0M120 4h1M123 4h1M126 4h0M0 5h0M4 5h0M11 5h0M13 5h1M16 5h9M28 5h2M79 5h1M83 5h2M88 5h3M93 5h3M98 5h2M103 5h0M105 5h0M107 5h0M109 5h1M112 5h0M121 5h1M126 5h1M1 6h0M4 6h0M6 6h0M13 6h0M17 6h0M19 6h2M23 6h0M26 6h1M78 6h1M81 6h0M87 6h1M91 6h2M95 6h9M106 6h1M109 6h1M122 6h0M126 6h0M1 7h0M3 7h2M17 7h2M22 7h0M24 7h3M78 7h0M80 7h0M82 7h0M92 7h1M95 7h0M101 7h0M103 7h0M107 7h4M126 7h1M1 8h0M3 8h0M5 8h1M15 8h7M25 8h2M78 8h0M82 8h0M92 8h1M95 8h0M97 8h0M99 8h0M103 8h0M105 8h3M111 8h0M0 9h0M2 9h1M14 9h0M16 9h2M20 9h0M23 9h1M26 9h3M78 9h1M82 9h0M91 9h1M96 9h1M99 9h2M103 9h2M109 9h1M0 10h3M14 10h0M20 10h0M22 10h1M25 10h1M30 10h0M78 10h2M92 10h1M101 10h1M105 10h2M109 10h0M111 10h0M12 11h1M18 11h3M23 11h0M26 11h0M28 11h3M77 11h0M94 11h3M101 11h1M105 11h2M110 11h0M125 11h1M0 12h0M2 12h0M13 12h0M15 12h4M22 12h1M25 12h0M30 12h0M32 12h1M66 12h0M78 12h1M89 12h0M91 12h4M99 12h0M102 12h6M124 12h1M0 13h3M13 13h1M19 13h2M23 13h1M26 13h2M30 13h2M65 13h0M75 13h0M77 13h1M80 13h1M84 13h1M90 13h3M95 13h5M103 13h0M106 13h0M123 13h1M126 13h0M1 14h1M4 14h0M7 14h0M13 14h2M18 14h0M20 14h2M24 14h1M27 14h0M29 14h0M62 14h0M73 14h0M76 14h1M81 14h0M84 14h6M92 14h3M97 14h3M102 14h1M105 14h0M107 14h1M0 15h0M2 15h1M5 15h2M13 15h0M17 15h0M20 15h0M23 15h0M25 15h1M28 15h3M34 15h0M57 15h1M63 15h0M70 15h2M75 15h1M78 15h2M84 15h1M88 15h2M94 15h0M96 15h0M98 15h1M103 15h6M111 15h1M117 15h0M123 15h4M1 16h0M4 16h1M8 16h0M10 16h0M14 16h1M17 16h0M20 16h1M23 16h2M30 16h4M57 16h1M71 16h2M75 16h3M83 16h1M86 16h0M88 16h1M91 16h2M95 16h2M99 16h1M104 16h0M106 16h0M111 16h0M113 16h0M116 16h2M122 16h0M125 16h2M0 17h0M4 17h0M6 17h0M9 17h0M14 17h2M19 17h0M21 17h2M31 17h3M56 17h2M72 17h0M74 17h0M78 17h0M83 17h0M85 17h2M89 17h1M95 17h0M100 17h1M104 17h3M109 17h0M111 17h2M115 17h1M119 17h0M121 17h0M123 17h0M125 17h0M127 17h0M0 18h0M2 18h2M6 18h3M11 18h0M15 18h4M22 18h1M31 18h1M57 18h1M71 18h2M78 18h0M82 18h0M86 18h0M88 18h4M96 18h2M100 18h2M106 18h1M111 18h2M116 18h0M118 18h8M0 19h1M3 19h3M9 19h0M11 19h0M13 19h1M18 19h0M20 19h0M23 19h0M32 19h0M38 19h0M41 19h4M49 19h1M56 19h3M71 19h1M75 19h1M79 19h0M81 19h0M83 19h1M86 19h0M88 19h0M91 19h0M95 19h1M101 19h0M105 19h0M107 19h0M110 19h3M115 19h4M124 19h1M127 19h0M1 20h0M3 20h2M9 20h1M15 20h6M24 20h0M30 20h2M34 20h0M36 20h3M41 20h1M48 20h1M51 20h0M53 20h1M56 20h1M59 20h0M61 20h0M72 20h0M75 20h1M78 20h0M80 20h10M92 20h0M94 20h0M96 20h2M100 20h2M104 20h2M108 20h4M114 20h1M119 20h3M126 20h1M0 21h6M8 21h1M15 21h0M17 21h1M20 21h3M26 21h1M30 21h0M36 21h0M39 21h3M46 21h1M49 21h0M51 21h5M59 21h2M63 21h0M71 21h2M76 21h2M80 21h0M83 21h1M86 21h0M88 21h1M91 21h0M94 21h1M98 21h0M100 21h4M106 21h1M109 21h1M115 21h2M119 21h8M0 22h0M4 22h0M6 22h0M9 22h1M12 22h3M19 22h4M26 22h0M28 22h0M34 22h1M37 22h7M46 22h1M49 22h2M53 22h1M56 22h2M60 22h2M72 22h0M74 22h0M76 22h2M81 22h3M87 22h1M90 22h0M93 22h0M95 22h5M102 22h1M108 22h7M117 22h1M120 22h0M123 22h1M126 22h1M0 23h4M7 23h0M9 23h0M13 23h0M15 23h3M20 23h1M23 23h0M25 23h0M28 23h4M34 23h0M37 23h1M40 23h6M49 23h3M54 23h0M56 23h0M61 23h0M63 23h0M70 23h2M76 23h1M79 23h0M81 23h5M88 23h5M95 23h1M98 23h0M101 23h1M104 23h0M108 23h0M110 23h3M115 23h1M118 23h4M126 23h0M1 24h1M4 24h1M7 24h2M11 24h1M14 24h0M16 24h0M20 24h1M24 24h2M28 24h2M32 24h0M35 24h0M37 24h6M45 24h1M48 24h2M52 24h0M55 24h0M57 24h1M60 24h2M64 24h0M69 24h0M71 24h1M76 24h0M78 24h0M80 24h1M83 24h1M87 24h0M89 24h1M92 24h1M95 24h0M99 24h1M103 24h5M110 24h4M116 24h1M123 24h1M127 24h0M3 25h2M11 25h0M13 25h0M15 25h0M18 25h0M21 25h2M27 25h7M37 25h0M42 25h0M44 25h3M49 25h0M53 25h2M57 25h5M64 25h0M67 25h0M69 25h1M73 25h0M76 25h5M84 25h0M87 25h0M90 25h0M93 25h3M98 25h1M101 25h3M106 25h1M109 25h0M111 25h2M115 25h5M122 25h3M127 25h0M1 26h0M4 26h0M7 26h0M9 26h1M13 26h2M17 26h0M21 26h0M24 26h2M28 26h0M30 26h0M35 26h0M37 26h1M42 26h0M45 26h1M48 26h0M55 26h1M60 26h2M65 26h6M76 26h0M78 26h0M82 26h0M86 26h1M90 26h1M93 26h0M96 26h0M101 26h1M104 26h1M110 26h0M112 26h1M117 26h1M121 26h0M123 26h1M126 26h0M1 27h0M3 27h3M9 27h1M12 27h0M14 27h0M16 27h2M20 27h2M24 27h3M29 27h6M37 27h1M40 27h1M43 27h1M48 27h0M51 27h0M53 27h0M55 27h2M59 27h0M61 27h2M65 27h0M67 27h0M70 27h1M76 27h2M80 27h3M87 27h0M89 27h3M94 27h3M99 27h2M103 27h0M106 27h1M109 27h2M115 27h1M123 27h2M0 28h6M9 28h5M16 28h1M21 28h2M27 28h0M29 28h1M34 28h1M37 28h2M42 28h1M46 28h0M50 28h1M55 28h1M59 28h0M61 28h0M63 28h1M66 28h6M76 28h1M79 28h2M83 28h0M87 28h6M97 28h0M99 28h0M101 28h1M107 28h1M110 28h1M113 28h5M120 28h3M125 28h0M127 28h0M2 29h10M14 29h0M16 29h0M18 29h2M22 29h0M25 29h3M30 29h0M32 29h1M35 29h0M37 29h3M42 29h1M46 29h0M48 29h0M50 29h4M57 29h5M67 29h0M70 29h0M72 29h0M78 29h5M88 29h0M91 29h8M101 29h7M110 29h0M112 29h5M119 29h2M124 29h1M0 30h0M3 30h5M10 30h2M14 30h0M16 30h2M20 30h0M22 30h7M31 30h1M35 30h7M44 30h0M47 30h5M54 30h2M58 30h2M63 30h2M67 30h1M70 30h1M74 30h5M81 30h0M83 30h0M87 30h6M96 30h0M99 30h1M102 30h1M107 30h3M113 30h4M119 30h0M122 30h0M126 30h1M0 31h0M3 31h2M7 31h0M10 31h2M14 31h7M24 31h1M27 31h4M33 31h3M38 31h1M41 31h0M43 31h1M46 31h0M48 31h1M51 31h2M55 31h1M61 31h0M63 31h4M69 31h1M72 31h3M77 31h3M82 31h1M87 31h2M91 31h5M98 31h0M100 31h1M104 31h0M106 31h3M111 31h1M114 31h0M116 31h7M125 31h2M0 32h2M4 32h0M7 32h4M13 32h1M16 32h3M21 32h1M24 32h0M26 32h3M31 32h1M34 32h4M45 32h4M53 32h2M57 32h3M62 32h8M76 32h7M85 32h3M90 32h3M95 32h4M101 32h0M103 32h0M105 32h2M109 32h5M117 32h4M123 32h0M125 32h2M0 33h0M4 33h1M8 33h0M10 33h0M12 33h0M15 33h8M25 33h0M27 33h1M30 33h2M34 33h3M39 33h1M42 33h6M50 33h0M52 33h4M59 33h0M61 33h2M65 33h0M67 33h0M69 33h1M72 33h1M75 33h5M84 33h1M89 33h1M92 33h1M95 33h0M97 33h2M101 33h0M103 33h0M105 33h2M109 33h0M111 33h0M114 33h1M119 33h8M0 34h0M2 34h0M7 34h4M15 34h0M18 34h3M23 34h2M27 34h0M29 34h0M34 34h4M40 34h1M45 34h1M48 34h0M50 34h2M54 34h11M68 34h7M77 34h0M80 34h0M83 34h5M90 34h1M93 34h1M96 34h2M100 34h3M107 34h7M116 34h0M118 34h1M121 34h6M0 35h2M4 35h3M10 35h0M12 35h0M14 35h4M21 35h0M23 35h0M26 35h5M33 35h3M38 35h0M40 35h1M43 35h0M45 35h1M50 35h2M54 35h0M57 35h2M61 35h0M64 35h0M66 35h2M70 35h0M72 35h0M74 35h1M77 35h1M81 35h1M84 35h0M87 35h0M89 35h0M92 35h0M94 35h1M97 35h0M99 35h0M102 35h0M106 35h1M109 35h0M111 35h0M113 35h0M117 35h4M124 35h0M127 35h0M3 36h0M6 36h0M8 36h1M13 36h1M16 36h2M20 36h0M26 36h1M29 36h0M32 36h1M36 36h11M50 36h2M54 36h1M59 36h3M64 36h5M71 36h0M73 36h3M78 36h1M82 36h5M89 36h0M91 36h2M96 36h4M102 36h0M104 36h0M106 36h2M110 36h1M113 36h2M118 36h6M126 36h1M0 37h1M3 37h1M6 37h1M9 37h0M11 37h3M17 37h0M19 37h2M26 37h3M31 37h0M36 37h1M39 37h0M41 37h0M43 37h0M46 37h0M49 37h4M57 37h1M61 37h2M65 37h0M68 37h0M70 37h0M72 37h0M74 37h0M76 37h1M79 37h0M86 37h0M90 37h0M92 37h2M96 37h0M98 37h1M101 37h1M104 37h0M106 37h0M108 37h0M110 37h0M112 37h1M115 37h0M118 37h1M121 37h2M125 37h0M127 37h0M2 38h0M4 38h2M8 38h0M10 38h7M19 38h0M21 38h3M26 38h2M33 38h0M35 38h0M37 38h0M43 38h2M48 38h2M52 38h1M57 38h2M62 38h1M65 38h0M70 38h3M78 38h3M84 38h1M89 38h2M93 38h4M100 38h2M104 38h1M108 38h0M110 38h1M114 38h0M117 38h0M120 38h1M124 38h0M126 38h1M0 39h0M2 39h0M5 39h3M10 39h1M13 39h4M19 39h1M22 39h0M26 39h1M31 39h0M34 39h0M37 39h1M45 39h1M49 39h0M51 39h1M54 39h0M56 39h0M59 39h0M62 39h0M64 39h3M69 39h2M76 39h0M78 39h0M80 39h1M83 39h2M87 39h0M89 39h0M91 39h1M96 39h0M98 39h3M103 39h1M110 39h0M112 39h1M115 39h9M126 39h1M1 40h7M10 40h5M18 40h0M23 40h0M25 40h0M28 40h0M30 40h2M34 40h0M36 40h2M43 40h2M49 40h0M51 40h1M54 40h1M57 40h0M59 40h8M71 40h0M74 40h4M80 40h0M84 40h1M87 40h1M94 40h1M97 40h0M99 40h1M102 40h2M106 40h0M109 40h3M114 40h0M117 40h2M122 40h0M125 40h1M2 41h3M7 41h0M9 41h0M11 41h0M13 41h0M15 41h2M21 41h1M27 41h0M31 41h0M35 41h0M37 41h1M41 41h0M44 41h1M48 41h1M51 41h2M56 41h0M59 41h5M67 41h0M77 41h2M82 41h2M89 41h0M93 41h1M96 41h0M98 41h0M100 41h4M107 41h0M109 41h0M111 41h0M113 41h7M125 41h2M0 42h8M10 42h2M14 42h3M19 42h2M23 42h1M28 42h5M36 42h0M38 42h1M42 42h0M44 42h0M46 42h2M50 42h0M52 42h0M56 42h3M61 42h2M65 42h0M68 42h0M70 42h4M78 42h0M80 42h0M82 42h0M85 42h0M88 42h0M90 42h0M92 42h0M94 42h1M97 42h0M99 42h1M102 42h1M106 42h7M115 42h2M119 42h1M122 42h0M124 42h0M0 43h2M6 43h1M10 43h10M23 43h4M30 43h0M34 43h0M37 43h3M43 43h4M49 43h2M53 43h1M56 43h6M64 43h0M68 43h4M75 43h1M78 43h0M80 43h3M85 43h0M89 43h3M95 43h1M99 43h4M105 43h0M107 43h1M112 43h3M117 43h5M124 43h0M126 43h1M0 44h0M2 44h4M9 44h0M11 44h0M13 44h3M18 44h2M22 44h2M26 44h1M29 44h1M33 44h0M35 44h1M40 44h3M45 44h0M48 44h0M50 44h0M52 44h1M55 44h0M59 44h4M68 44h0M75 44h2M79 44h0M81 44h0M85 44h0M87 44h0M89 44h1M94 44h0M98 44h5M106 44h1M111 44h1M114 44h1M117 44h2M121 44h0M123 44h3M0 45h0M3 45h3M8 45h0M10 45h2M14 45h0M16 45h1M21 45h1M24 45h1M27 45h0M30 45h8M40 45h1M46 45h0M48 45h1M52 45h1M56 45h2M60 45h0M62 45h1M68 45h3M73 45h0M76 45h4M83 45h1M86 45h1M91 45h0M93 45h5M101 45h1M104 45h1M107 45h1M110 45h1M115 45h8M126 45h0M0 46h2M6 46h0M8 46h0M12 46h2M18 46h2M23 46h1M26 46h2M30 46h1M33 46h0M35 46h3M41 46h2M46 46h6M57 46h6M68 46h1M71 46h0M76 46h1M79 46h4M85 46h0M87 46h1M90 46h2M95 46h3M100 46h0M102 46h6M111 46h2M115 46h2M119 46h0M121 46h1M125 46h0M127 46h0M2 47h0M4 47h4M10 47h3M15 47h2M21 47h2M28 47h0M36 47h0M38 47h1M46 47h2M52 47h0M55 47h0M57 47h1M60 47h2M64 47h0M66 47h0M68 47h0M70 47h1M74 47h1M77 47h4M83 47h0M86 47h0M88 47h3M93 47h0M95 47h0M97 47h1M101 47h2M105 47h0M109 47h1M112 47h3M118 47h0M120 47h4M126 47h1M0 48h0M3 48h3M9 48h5M16 48h0M19 48h2M25 48h1M28 48h1M31 48h0M33 48h0M35 48h0M40 48h0M45 48h0M48 48h3M53 48h1M56 48h1M59 48h0M62 48h3M69 48h4M75 48h0M78 48h0M80 48h0M82 48h0M86 48h1M89 48h2M93 48h1M96 48h0M98 48h3M103 48h1M106 48h0M110 48h2M114 48h3M119 48h5M126 48h0M0 49h2M4 49h1M7 49h2M11 49h0M13 49h1M16 49h2M21 49h0M23 49h0M25 49h1M28 49h0M34 49h0M36 49h0M38 49h0M41 49h0M43 49h1M46 49h1M49 49h1M52 49h0M54 49h0M56 49h0M58 49h2M62 49h0M65 49h2M69 49h1M72 49h0M75 49h2M79 49h1M82 49h0M84 49h1M87 49h2M92 49h2M96 49h0M99 49h0M101 49h0M103 49h0M106 49h0M108 49h1M111 49h0M113 49h3M121 49h6M1 50h0M4 50h0M7 50h0M9 50h3M14 50h0M16 50h2M20 50h0M22 50h0M25 50h0M27 50h2M31 50h0M34 50h5M43 50h1M47 50h0M50 50h2M54 50h0M56 50h0M59 50h0M61 50h0M63 50h0M65 50h0M68 50h0M70 50h2M74 50h0M76 50h1M80 50h0M82 50h0M84 50h0M86 50h0M88 50h1M91 50h0M93 50h0M95 50h0M97 50h6M105 50h1M112 50h0M114 50h5M121 50h0M125 50h2M2 51h0M4 51h0M9 51h0M11 51h2M17 51h0M23 51h1M28 51h0M30 51h1M33 51h2M38 51h2M42 51h0M44 51h0M47 51h4M60 51h0M62 51h0M66 51h0M68 51h0M70 51h1M76 51h3M82 51h2M86 51h0M90 51h0M92 51h0M95 51h0M97 51h0M99 51h0M101 51h2M105 51h0M108 51h0M110 51h0M113 51h0M115 51h1M118 51h2M123 51h2M127 51h0M2 52h1M5 52h1M8 52h0M10 52h0M12 52h0M24 52h0M26 52h1M29 52h3M36 52h0M39 52h0M44 52h3M49 52h0M58 52h2M62 52h0M65 52h0M68 52h3M75 52h0M78 52h1M81 52h5M91 52h1M94 52h1M97 52h1M101 52h1M104 52h1M109 52h0M111 52h1M114 52h1M117 52h0M119 52h0M124 52h3M1 53h0M3 53h0M5 53h0M8 53h0M11 53h2M31 53h0M34 53h2M38 53h1M45 53h0M48 53h1M51 53h0M57 53h1M60 53h1M63 53h1M66 53h1M71 53h2M75 53h6M83 53h0M85 53h1M90 53h0M93 53h12M107 53h0M111 53h2M118 53h5M125 53h2M0 54h2M4 54h9M23 54h0M25 54h1M29 54h1M32 54h1M35 54h0M37 54h0M39 54h0M41 54h1M45 54h0M49 54h0M53 54h0M57 54h1M61 54h4M67 54h1M70 54h1M74 54h0M76 54h1M80 54h4M86 54h3M96 54h0M100 54h0M102 54h1M105 54h5M114 54h1M117 54h2M123 54h0M125 54h0M127 54h0M1 55h3M6 55h3M11 55h2M17 55h0M22 55h1M27 55h1M30 55h2M34 55h0M38 55h4M45 55h3M50 55h0M52 55h0M54 55h0M56 55h1M60 55h0M62 55h1M65 55h2M69 55h8M81 55h0M83 55h4M90 55h0M92 55h0M94 55h1M97 55h3M102 55h1M108 55h0M112 55h2M117 55h1M120 55h6M1 56h0M3 56h1M8 56h3M13 56h2M18 56h1M21 56h1M24 56h3M30 56h1M33 56h4M39 56h0M41 56h2M45 56h2M52 56h1M55 56h1M61 56h0M63 56h2M69 56h0M71 56h0M73 56h6M83 56h5M90 56h0M93 56h0M95 56h2M99 56h1M102 56h0M105 56h0M108 56h3M113 56h0M119 56h1M122 56h0M124 56h3M2 57h0M7 57h0M9 57h0M12 57h0M15 57h2M19 57h1M22 57h5M29 57h2M34 57h2M40 57h3M47 57h1M53 57h0M56 57h0M58 57h1M61 57h2M65 57h0M67 57h2M71 57h3M76 57h4M82 57h0M84 57h3M89 57h2M94 57h1M97 57h0M99 57h3M107 57h0M109 57h0M111 57h1M114 57h2M118 57h0M123 57h0M125 57h2M0 58h2M4 58h6M12 58h1M16 58h0M18 58h3M24 58h2M28 58h1M31 58h1M35 58h0M37 58h1M40 58h0M43 58h0M45 58h3M51 58h0M55 58h1M59 58h3M64 58h0M66 58h4M75 58h1M78 58h0M81 58h0M83 58h1M89 58h0M91 58h3M98 58h0M100 58h1M109 58h4M116 58h2M120 58h0M122 58h1M0 59h4M6 59h6M14 59h0M16 59h2M22 59h0M24 59h0M26 59h0M28 59h0M30 59h1M33 59h7M42 59h0M44 59h1M47 59h4M53 59h1M56 59h3M61 59h0M63 59h1M68 59h2M72 59h0M74 59h0M76 59h3M81 59h0M83 59h11M97 59h0M99 59h1M109 59h1M112 59h1M115 59h0M117 59h3M122 59h3M4 60h5M11 60h0M13 60h6M21 60h0M23 60h2M27 60h0M29 60h4M36 60h2M40 60h2M45 60h0M47 60h1M50 60h0M53 60h0M56 60h8M70 60h2M74 60h2M78 60h1M81 60h2M85 60h0M87 60h5M94 60h1M98 60h3M110 60h0M112 60h1M115 60h2M119 60h0M121 60h0M123 60h0M125 60h1M0 61h2M5 61h3M12 61h2M16 61h3M21 61h0M23 61h2M28 61h0M32 61h5M39 61h3M44 61h2M48 61h1M54 61h0M57 61h0M65 61h5M73 61h0M75 61h0M77 61h3M82 61h0M85 61h1M88 61h0M91 61h1M94 61h0M99 61h0M101 61h0M113 61h1M116 61h0M118 61h0M122 61h1M126 61h0M0 62h2M4 62h1M8 62h0M11 62h0M13 62h3M18 62h1M21 62h1M24 62h0M28 62h4M34 62h0M36 62h2M40 62h1M43 62h0M46 62h1M49 62h1M54 62h0M56 62h0M58 62h1M61 62h0M69 62h13M84 62h1M87 62h0M89 62h3M94 62h0M98 62h0M100 62h1M109 62h3M114 62h2M118 62h0M121 62h0M123 62h2M127 62h0M2 63h2M6 63h6M14 63h0M16 63h2M20 63h0M22 63h0M24 63h0M26 63h0M30 63h3M35 63h5M42 63h0M44 63h0M49 63h0M51 63h0M55 63h2M59 63h0M61 63h0M63 63h6M71 63h0M74 63h0M76 63h4M82 63h1M86 63h0M88 63h1M92 63h2M96 63h0M98 63h0M102 63h1M107 63h0M109 63h4M120 63h0M122 63h0M124 63h0M126 63h0M0 64h0M2 64h0M7 64h0M9 64h0M12 64h1M15 64h0M17 64h1M20 64h1M24 64h1M30 64h0M32 64h2M37 64h1M41 64h0M45 64h0M47 64h0M52 64h1M55 64h0M58 64h0M60 64h0M63 64h0M65 64h1M69 64h0M71 64h0M73 64h0M75 64h3M82 64h1M85 64h0M87 64h0M89 64h0M91 64h4M97 64h4M104 64h0M110 64h2M114 64h1M118 64h3M123 64h0M127 64h0M0 65h1M5 65h0M7 65h0M9 65h0M12 65h3M18 65h1M22 65h0M27 65h2M31 65h7M40 65h0M43 65h3M48 65h1M51 65h0M53 65h1M56 65h0M61 65h5M72 65h2M76 65h3M81 65h0M86 65h3M91 65h0M93 65h2M97 65h3M103 65h0M109 65h0M111 65h0M113 65h4M122 65h1M1 66h1M4 66h4M11 66h7M20 66h0M22 66h2M26 66h0M29 66h3M34 66h0M36 66h0M38 66h0M40 66h0M42 66h4M49 66h3M54 66h0M57 66h0M61 66h4M67 66h2M71 66h1M74 66h0M76 66h6M89 66h0M91 66h1M94 66h0M97 66h0M100 66h4M107 66h4M113 66h2M117 66h7M126 66h1M1 67h0M3 67h1M6 67h0M8 67h6M16 67h0M18 67h1M23 67h1M27 67h1M32 67h0M34 67h4M41 67h1M44 67h4M50 67h1M53 67h1M56 67h0M58 67h2M62 67h0M64 67h0M66 67h0M70 67h0M73 67h0M75 67h6M83 67h0M85 67h6M93 67h0M95 67h1M98 67h2M103 67h0M105 67h0M109 67h1M112 67h0M116 67h0M118 67h2M122 67h2M126 67h1M4 68h4M10 68h2M14 68h0M16 68h0M18 68h6M26 68h0M28 68h3M33 68h5M41 68h4M47 68h2M51 68h4M57 68h0M61 68h0M63 68h0M65 68h0M67 68h5M74 68h4M83 68h0M85 68h1M88 68h1M91 68h1M94 68h2M105 68h0M107 68h2M114 68h2M118 68h0M120 68h0M124 68h0M126 68h0M1 69h0M3 69h4M10 69h2M14 69h0M17 69h1M22 69h0M24 69h0M27 69h2M31 69h14M49 69h0M54 69h5M63 69h0M66 69h5M74 69h0M76 69h0M78 69h4M84 69h0M86 69h0M88 69h0M90 69h4M96 69h0M98 69h0M100 69h4M106 69h2M110 69h1M113 69h2M117 69h0M119 69h1M123 69h0M125 69h0M127 69h0M1 70h1M4 70h1M7 70h0M12 70h6M25 70h3M30 70h0M32 70h1M37 70h0M39 70h2M46 70h2M50 70h2M60 70h0M63 70h1M67 70h0M69 70h7M78 70h0M84 70h0M86 70h1M89 70h2M93 70h1M96 70h0M100 70h2M104 70h1M109 70h0M111 70h0M116 70h1M119 70h6M3 71h0M5 71h4M11 71h0M13 71h0M17 71h4M24 71h5M31 71h4M37 71h1M41 71h1M45 71h1M48 71h4M55 71h1M58 71h0M63 71h0M65 71h5M74 71h3M79 71h1M84 71h1M89 71h4M96 71h2M100 71h0M102 71h0M104 71h3M109 71h1M113 71h0M116 71h1M119 71h2M124 71h1M0 72h4M6 72h1M10 72h2M15 72h1M22 72h1M25 72h2M30 72h1M36 72h0M38 72h1M41 72h0M43 72h2M47 72h0M49 72h0M51 72h7M61 72h0M63 72h0M66 72h1M69 72h0M74 72h0M76 72h4M83 72h1M86 72h1M89 72h2M93 72h0M95 72h0M97 72h4M103 72h0M106 72h1M110 72h2M115 72h2M121 72h0M123 72h0M125 72h0M127 72h0M0 73h0M5 73h2M9 73h3M16 73h0M26 73h0M28 73h0M30 73h3M35 73h4M41 73h0M43 73h0M45 73h0M48 73h0M50 73h1M53 73h0M56 73h3M62 73h1M66 73h0M68 73h8M78 73h1M81 73h5M88 73h2M92 73h3M97 73h1M100 73h4M106 73h0M109 73h2M117 73h0M119 73h5M126 73h0M2 74h0M6 74h1M9 74h1M14 74h0M16 74h0M24 74h1M27 74h0M29 74h0M31 74h0M33 74h5M43 74h3M48 74h8M60 74h0M63 74h1M66 74h1M71 74h4M78 74h2M82 74h3M87 74h7M97 74h0M99 74h0M101 74h0M104 74h0M106 74h5M117 74h0M119 74h0M121 74h0M123 74h0M125 74h0M127 74h0M0 75h0M6 75h0M9 75h0M11 75h0M14 75h1M24 75h1M27 75h0M29 75h0M34 75h1M37 75h1M40 75h2M44 75h2M48 75h0M53 75h4M59 75h1M63 75h1M66 75h0M68 75h0M70 75h0M72 75h0M74 75h2M78 75h1M82 75h4M88 75h0M92 75h1M96 75h4M102 75h1M105 75h1M110 75h2M115 75h7M125 75h2M0 76h1M7 76h1M10 76h3M16 76h0M25 76h2M31 76h2M35 76h0M43 76h2M47 76h2M54 76h1M58 76h1M63 76h1M68 76h1M72 76h0M74 76h10M86 76h4M92 76h2M97 76h2M101 76h1M104 76h0M106 76h1M109 76h0M111 76h0M113 76h0M115 76h6M123 76h0M127 76h0M1 77h0M3 77h0M7 77h0M10 77h0M12 77h2M16 77h4M23 77h2M27 77h0M29 77h0M31 77h0M34 77h1M37 77h0M39 77h0M41 77h0M43 77h4M49 77h8M61 77h1M65 77h1M70 77h8M81 77h0M85 77h0M87 77h0M90 77h0M94 77h2M98 77h1M101 77h3M106 77h1M109 77h0M112 77h1M117 77h1M122 77h0M124 77h3M1 78h0M3 78h0M8 78h0M10 78h2M14 78h0M16 78h0M19 78h4M27 78h1M33 78h4M39 78h0M42 78h0M45 78h0M47 78h1M50 78h1M53 78h1M56 78h0M59 78h1M62 78h0M66 78h0M68 78h0M71 78h1M74 78h1M79 78h0M81 78h7M90 78h1M95 78h2M102 78h0M105 78h1M108 78h2M112 78h4M118 78h3M123 78h2M127 78h0M0 79h0M2 79h2M6 79h0M8 79h0M10 79h0M13 79h0M15 79h1M18 79h1M21 79h0M25 79h0M28 79h0M30 79h4M37 79h4M44 79h1M47 79h1M50 79h0M52 79h0M58 79h1M61 79h0M63 79h0M66 79h0M68 79h0M73 79h1M76 79h2M80 79h0M82 79h1M85 79h0M87 79h2M91 79h0M94 79h0M98 79h2M102 79h0M105 79h0M107 79h1M112 79h6M120 79h3M125 79h2M0 80h0M5 80h0M7 80h1M10 80h0M12 80h0M18 80h1M23 80h0M25 80h0M28 80h4M35 80h2M39 80h1M45 80h1M48 80h3M58 80h1M65 80h4M71 80h2M76 80h0M78 80h0M81 80h0M84 80h1M88 80h3M94 80h0M96 80h0M98 80h1M102 80h3M107 80h1M110 80h1M115 80h1M118 80h0M120 80h3M126 80h1M2 81h2M6 81h0M8 81h5M16 81h1M19 81h1M24 81h0M26 81h1M33 81h0M36 81h0M38 81h1M41 81h12M58 81h2M63 81h0M70 81h0M72 81h2M76 81h0M78 81h3M85 81h0M87 81h1M90 81h2M94 81h4M100 81h0M103 81h9M114 81h1M119 81h1M126 81h1M1 82h1M4 82h1M7 82h4M13 82h1M18 82h1M21 82h0M23 82h0M25 82h0M29 82h0M31 82h0M33 82h0M35 82h0M37 82h2M41 82h0M44 82h0M47 82h0M50 82h0M55 82h0M58 82h0M60 82h5M67 82h0M69 82h3M75 82h0M78 82h0M81 82h0M83 82h0M87 82h0M89 82h0M91 82h0M94 82h1M98 82h0M100 82h1M103 82h1M107 82h0M109 82h6M117 82h1M122 82h2M126 82h0M0 83h0M4 83h0M6 83h1M9 83h0M12 83h2M18 83h1M23 83h1M27 83h0M32 83h2M36 83h0M38 83h0M40 83h0M42 83h4M50 83h0M55 83h0M59 83h0M61 83h2M66 83h1M69 83h3M75 83h1M79 83h1M82 83h5M90 83h0M93 83h0M98 83h1M102 83h1M105 83h2M110 83h7M120 83h3M125 83h0M127 83h0M1 84h0M3 84h0M5 84h3M10 84h0M12 84h8M22 84h2M26 84h2M33 84h0M35 84h1M38 84h0M40 84h1M44 84h1M47 84h0M49 84h0M54 84h1M61 84h0M63 84h0M66 84h0M70 84h4M76 84h6M84 84h0M86 84h1M89 84h3M94 84h1M98 84h2M103 84h0M105 84h7M114 84h0M116 84h2M120 84h0M122 84h2M126 84h1M0 85h4M7 85h0M9 85h0M12 85h0M15 85h0M17 85h3M22 85h0M24 85h4M36 85h8M48 85h2M53 85h2M60 85h0M62 85h0M64 85h3M69 85h0M71 85h4M79 85h1M82 85h0M84 85h1M88 85h0M91 85h1M96 85h2M100 85h0M103 85h1M108 85h0M111 85h0M113 85h0M115 85h1M118 85h0M122 85h5M1 86h5M10 86h7M19 86h1M22 86h2M28 86h1M31 86h1M34 86h0M37 86h2M41 86h2M45 86h1M48 86h0M51 86h1M60 86h1M63 86h1M66 86h1M69 86h1M73 86h1M76 86h6M84 86h4M90 86h0M95 86h0M97 86h1M100 86h0M104 86h0M106 86h1M110 86h1M113 86h2M118 86h1M121 86h6M1 87h1M4 87h0M6 87h0M8 87h0M12 87h0M17 87h0M19 87h4M25 87h9M37 87h1M40 87h1M43 87h2M47 87h0M51 87h0M54 87h1M61 87h0M63 87h2M67 87h1M72 87h5M79 87h3M84 87h4M92 87h1M96 87h6M105 87h2M112 87h3M117 87h0M120 87h7M1 88h3M7 88h1M10 88h1M14 88h1M17 88h2M22 88h1M25 88h0M27 88h1M30 88h0M33 88h1M36 88h1M39 88h1M42 88h2M47 88h1M50 88h1M55 88h0M59 88h1M63 88h7M73 88h0M75 88h2M80 88h3M86 88h4M94 88h2M98 88h2M102 88h0M104 88h2M109 88h0M111 88h1M114 88h0M116 88h0M118 88h0M120 88h0M124 88h1M1 89h2M5 89h0M7 89h2M11 89h0M13 89h0M15 89h1M18 89h0M20 89h0M22 89h2M26 89h3M31 89h0M33 89h4M40 89h3M45 89h0M47 89h0M50 89h0M53 89h0M56 89h0M58 89h1M62 89h3M68 89h0M70 89h4M76 89h0M78 89h3M84 89h0M86 89h0M94 89h0M97 89h3M102 89h0M104 89h1M108 89h3M114 89h0M116 89h0M119 89h0M122 89h5M1 90h1M4 90h0M6 90h3M12 90h0M15 90h1M18 90h1M21 90h2M25 90h1M28 90h4M36 90h1M39 90h2M47 90h2M52 90h0M54 90h3M59 90h1M62 90h3M68 90h0M70 90h8M80 90h0M83 90h1M86 90h0M88 90h2M94 90h11M107 90h4M114 90h0M117 90h2M121 90h2M0 91h3M5 91h4M11 91h3M17 91h2M23 91h3M28 91h2M34 91h1M37 91h0M40 91h0M43 91h0M46 91h0M48 91h1M52 91h1M55 91h2M59 91h0M62 91h6M70 91h0M72 91h2M76 91h0M78 91h4M84 91h0M89 91h4M95 91h0M97 91h2M102 91h2M107 91h0M109 91h4M115 91h0M117 91h0M119 91h1M125 91h0M127 91h0M5 92h2M9 92h1M13 92h1M17 92h0M19 92h2M24 92h0M26 92h0M28 92h0M30 92h2M34 92h3M39 92h0M41 92h1M44 92h0M48 92h0M51 92h0M53 92h6M61 92h2M65 92h1M68 92h1M72 92h3M78 92h0M80 92h0M82 92h1M88 92h0M90 92h0M92 92h0M96 92h7M105 92h0M107 92h3M112 92h0M116 92h4M124 92h3M1 93h3M6 93h2M11 93h0M13 93h3M19 93h2M24 93h0M27 93h1M30 93h3M36 93h1M39 93h1M42 93h0M44 93h3M49 93h3M54 93h3M61 93h2M65 93h0M67 93h3M73 93h0M75 93h5M82 93h0M84 93h0M90 93h0M93 93h2M97 93h1M101 93h0M103 93h2M107 93h1M110 93h1M115 93h1M118 93h1M123 93h2M0 94h0M3 94h2M7 94h0M9 94h0M11 94h1M14 94h0M17 94h2M22 94h0M24 94h1M27 94h4M35 94h0M37 94h1M40 94h2M45 94h0M52 94h4M58 94h0M61 94h1M64 94h0M66 94h0M68 94h0M70 94h2M74 94h0M76 94h0M80 94h1M85 94h2M90 94h1M93 94h2M97 94h0M99 94h0M109 94h0M111 94h0M114 94h3M119 94h3M125 94h2M3 95h0M5 95h3M10 95h0M16 95h2M20 95h0M22 95h0M24 95h1M28 95h0M31 95h0M33 95h0M36 95h0M38 95h3M43 95h5M51 95h0M54 95h7M63 95h3M68 95h0M71 95h5M78 95h0M83 95h0M87 95h2M92 95h0M94 95h1M98 95h1M106 95h0M111 95h2M115 95h8M125 95h2M1 96h0M3 96h1M8 96h0M10 96h1M13 96h0M15 96h0M17 96h1M26 96h0M30 96h2M34 96h3M40 96h0M42 96h2M46 96h0M48 96h0M50 96h4M57 96h1M62 96h0M66 96h5M73 96h1M76 96h2M81 96h12M95 96h0M97 96h0M99 96h0M107 96h4M114 96h2M118 96h1M121 96h0M123 96h0M125 96h0M127 96h0M2 97h4M8 97h2M12 97h1M15 97h0M17 97h1M20 97h2M24 97h0M26 97h7M35 97h1M38 97h1M41 97h0M43 97h0M45 97h0M47 97h0M49 97h0M52 97h2M56 97h0M59 97h1M63 97h0M69 97h0M72 97h1M76 97h1M79 97h0M81 97h0M84 97h4M91 97h3M105 97h1M108 97h1M112 97h1M117 97h0M120 97h1M124 97h2M1 98h0M4 98h3M10 98h0M12 98h5M20 98h2M24 98h1M33 98h5M40 98h2M45 98h0M47 98h1M50 98h3M58 98h0M60 98h0M63 98h0M65 98h2M70 98h1M74 98h3M79 98h1M82 98h0M85 98h1M88 98h0M93 98h1M96 98h0M101 98h0M104 98h0M106 98h2M111 98h0M113 98h2M117 98h2M121 98h1M126 98h1M0 99h0M2 99h0M4 99h0M6 99h2M10 99h0M14 99h1M17 99h1M21 99h5M34 99h0M36 99h0M39 99h10M52 99h0M54 99h0M56 99h0M59 99h1M63 99h1M67 99h0M69 99h0M71 99h0M73 99h0M75 99h4M83 99h10M95 99h3M103 99h3M110 99h1M115 99h2M120 99h0M122 99h0M125 99h0M127 99h0M0 100h2M4 100h0M6 100h0M10 100h3M17 100h2M22 100h0M31 100h1M35 100h0M38 100h4M45 100h5M52 100h0M55 100h2M59 100h0M62 100h4M69 100h3M74 100h0M76 100h1M79 100h3M84 100h2M90 100h4M98 100h1M102 100h0M104 100h0M106 100h0M109 100h1M112 100h1M115 100h1M120 100h0M122 100h2M0 101h1M3 101h5M10 101h2M16 101h0M20 101h1M23 101h0M31 101h0M33 101h0M35 101h1M38 101h2M44 101h0M47 101h2M51 101h1M55 101h0M57 101h1M60 101h0M66 101h0M68 101h4M74 101h3M79 101h1M83 101h5M92 101h1M95 101h4M105 101h1M109 101h5M118 101h1M121 101h0M123 101h1M126 101h1M0 102h0M2 102h1M6 102h1M9 102h3M15 102h0M17 102h1M20 102h3M25 102h0M31 102h0M33 102h2M37 102h1M40 102h3M45 102h2M49 102h0M51 102h1M54 102h2M60 102h1M63 102h1M66 102h0M68 102h0M70 102h0M75 102h1M78 102h8M89 102h6M101 102h3M107 102h3M112 102h0M116 102h4M122 102h1M125 102h1M0 103h1M3 103h1M6 103h0M8 103h0M10 103h2M14 103h6M22 103h0M24 103h3M29 103h0M31 103h1M34 103h4M41 103h0M44 103h1M47 103h0M52 103h1M55 103h2M59 103h1M62 103h4M68 103h0M70 103h6M78 103h0M80 103h0M82 103h0M84 103h0M86 103h2M90 103h0M92 103h0M95 103h0M98 103h0M100 103h2M104 103h2M108 103h2M115 103h1M118 103h1M123 103h0M125 103h2M0 104h0M2 104h1M6 104h1M11 104h1M14 104h5M21 104h0M23 104h0M25 104h1M28 104h1M31 104h2M36 104h0M38 104h7M51 104h0M53 104h1M56 104h0M58 104h0M60 104h6M71 104h0M74 104h1M77 104h0M79 104h0M81 104h2M85 104h0M88 104h1M91 104h2M97 104h1M100 104h0M105 104h1M108 104h0M112 104h0M115 104h2M119 104h0M122 104h3M0 105h10M12 105h6M20 105h0M23 105h0M25 105h1M28 105h0M32 105h2M37 105h0M39 105h0M41 105h1M45 105h0M47 105h0M55 105h0M57 105h2M61 105h0M64 105h1M67 105h0M69 105h0M74 105h1M78 105h3M85 105h0M87 105h1M90 105h1M95 105h2M99 105h1M102 105h0M104 105h0M106 105h2M110 105h0M112 105h0M116 105h0M118 105h0M121 105h6M0 106h2M5 106h0M7 106h5M16 106h2M20 106h1M23 106h7M32 106h1M35 106h1M38 106h2M56 106h0M58 106h0M63 106h0M65 106h0M68 106h1M71 106h1M74 106h5M81 106h0M84 106h8M95 106h0M97 106h2M105 106h4M112 106h0M114 106h0M116 106h0M118 106h0M120 106h0M123 106h3M0 107h5M8 107h0M10 107h2M14 107h0M17 107h2M21 107h0M23 107h1M26 107h0M28 107h1M32 107h1M36 107h0M39 107h5M57 107h2M61 107h0M65 107h3M71 107h1M75 107h0M77 107h2M81 107h2M86 107h0M88 107h1M91 107h7M100 107h1M103 107h1M106 107h0M108 107h2M114 107h4M120 107h1M124 107h1M1 108h2M5 108h9M16 108h3M24 108h0M26 108h1M33 108h1M40 108h5M58 108h0M63 108h7M72 108h1M75 108h0M78 108h5M85 108h3M90 108h2M96 108h0M98 108h0M100 108h4M107 108h3M112 108h1M115 108h0M117 108h9M1 109h1M5 109h2M9 109h0M13 109h0M15 109h1M19 109h0M21 109h0M23 109h1M26 109h2M35 109h3M40 109h3M60 109h0M63 109h5M73 109h0M80 109h2M84 109h1M87 109h0M89 109h2M93 109h2M97 109h0M99 109h0M101 109h0M104 109h2M109 109h2M113 109h0M116 109h0M118 109h7M127 109h0M2 110h4M9 110h0M11 110h1M14 110h2M22 110h0M35 110h3M58 110h1M64 110h0M66 110h1M69 110h0M75 110h4M82 110h1M85 110h1M89 110h0M91 110h2M95 110h1M98 110h0M100 110h1M103 110h0M107 110h0M113 110h0M117 110h3M127 110h0M0 111h0M4 111h0M6 111h0M8 111h7M18 111h0M22 111h0M26 111h0M35 111h1M38 111h2M44 111h0M59 111h5M67 111h0M71 111h0M73 111h3M78 111h4M92 111h5M99 111h0M103 111h1M106 111h0M109 111h0M111 111h1M114 111h5M121 111h1M124 111h0M0 112h1M3 112h1M6 112h0M8 112h1M12 112h0M14 112h8M26 112h0M36 112h0M38 112h0M40 112h0M43 112h1M59 112h0M61 112h0M63 112h0M65 112h2M69 112h0M71 112h2M76 112h5M83 112h3M88 112h0M90 112h4M103 112h1M106 112h3M111 112h2M115 112h0M117 112h1M120 112h0M122 112h1M125 112h0M0 113h1M3 113h2M7 113h1M10 113h1M14 113h5M26 113h0M35 113h1M39 113h0M64 113h0M71 113h0M74 113h0M77 113h1M80 113h0M85 113h5M95 113h1M98 113h1M101 113h0M103 113h2M107 113h3M112 113h2M116 113h1M122 113h1M125 113h2M0 114h5M8 114h1M11 114h2M17 114h1M21 114h0M36 114h0M62 114h0M70 114h1M73 114h2M77 114h0M79 114h1M82 114h1M85 114h2M89 114h0M92 114h4M100 114h7M110 114h1M113 114h2M118 114h1M122 114h2M126 114h1M0 115h3M5 115h2M10 115h4M16 115h2M20 115h1M24 115h1M33 115h0M72 115h1M75 115h0M78 115h2M84 115h0M86 115h1M90 115h2M94 115h0M96 115h0M102 115h1M106 115h2M110 115h0M112 115h0M114 115h0M116 115h0M118 115h3M124 115h3M0 116h1M3 116h1M6 116h0M9 116h2M15 116h1M18 116h2M22 116h0M24 116h0M34 116h0M75 116h0M77 116h0M79 116h3M87 116h0M91 116h1M94 116h6M103 116h0M110 116h2M115 116h4M121 116h0M124 116h0M0 117h2M7 117h7M16 117h11M30 117h0M72 117h1M75 117h0M78 117h3M83 117h0M85 117h1M88 117h0M90 117h1M95 117h3M100 117h0M102 117h0M104 117h2M108 117h2M112 117h2M117 117h1M124 117h2M0 118h6M8 118h1M12 118h0M14 118h0M17 118h1M22 118h0M24 118h0M26 118h0M30 118h0M70 118h1M73 118h0M75 118h3M81 118h0M83 118h0M85 118h2M89 118h0M91 118h0M93 118h0M95 118h1M98 118h6M107 118h0M109 118h0M112 118h0M114 118h2M118 118h1M122 118h3M127 118h0M0 119h1M3 119h0M6 119h1M9 119h3M16 119h0M20 119h3M27 119h1M30 119h0M71 119h8M81 119h1M85 119h2M89 119h1M94 119h1M97 119h0M99 119h1M102 119h0M104 119h4M110 119h2M114 119h1M117 119h0M119 119h0M121 119h2M125 119h0M1 120h0M3 120h0M5 120h0M8 120h0M10 120h1M13 120h0M15 120h0M17 120h1M20 120h1M23 120h3M30 120h0M71 120h5M80 120h0M82 120h0M84 120h5M91 120h1M94 120h1M98 120h0M100 120h2M104 120h0M106 120h1M109 120h1M112 120h0M114 120h1M117 120h3M122 120h0M124 120h3M0 121h1M3 121h1M6 121h1M9 121h1M15 121h0M17 121h1M22 121h1M25 121h1M28 121h0M31 121h0M71 121h1M74 121h2M79 121h0M83 121h0M85 121h0M87 121h2M92 121h1M97 121h1M100 121h0M104 121h3M109 121h0M111 121h0M115 121h7M124 121h3M0 122h0M2 122h0M6 122h2M10 122h2M14 122h1M18 122h0M21 122h0M23 122h0M25 122h3M30 122h0M71 122h1M75 122h0M77 122h0M79 122h0M82 122h0M84 122h2M89 122h2M94 122h9M106 122h0M108 122h0M110 122h1M113 122h2M117 122h1M120 122h0M123 122h1M126 122h1M0 123h0M2 123h0M4 123h1M7 123h12M21 123h1M24 123h3M29 123h0M73 123h0M75 123h0M77 123h2M82 123h2M86 123h1M89 123h0M91 123h0M93 123h3M99 123h0M102 123h1M105 123h0M109 123h2M116 123h9M4 124h3M9 124h0M13 124h1M16 124h6M25 124h0M27 124h0M29 124h0M73 124h0M75 124h1M79 124h2M83 124h1M86 124h1M89 124h2M93 124h3M98 124h2M102 124h0M104 124h5M114 124h5M121 124h0M123 124h4M2 125h1M5 125h1M9 125h1M12 125h3M21 125h1M24 125h4M70 125h0M73 125h0M75 125h1M81 125h2M86 125h0M89 125h0M91 125h4M97 125h5M105 125h6M113 125h0M115 125h1M118 125h0M120 125h1M124 125h3M0 126h3M6 126h0M9 126h11M22 126h2M26 126h1M30 126h2M70 126h2M74 126h1M78 126h1M85 126h1M88 126h1M93 126h3M99 126h3M110 126h0M113 126h2M118 126h4M124 126h1M0 127h1M3 127h1M6 127h1M9 127h3M14 127h0M16 127h0M18 127h2M22 127h3M27 127h1M31 127h1M69 127h1M72 127h1M78 127h0M80 127h1M83 127h1M86 127h0M89 127h0M91 127h1M94 127h2M98 127h0M100 127h0M103 127h0M105 127h2M109 127h2M113 127h4M119 127h1M122 127h1M125 127h1"/><path stroke="#8a2ca8" stroke-width="1.2" d="M31 0h2M59 0h1M69 0h0M74 0h0M30 1h2M45 1h0M59 1h2M69 1h0M75 1h0M29 2h2M45 2h0M61 2h0M72 2h0M74 2h1M29 3h1M73 3h0M75 3h1M75 5h2M28 6h1M76 6h1M28 7h1M77 7h0M29 8h0M30 9h0M32 10h0M67 10h1M77 10h0M32 11h1M35 11h1M38 11h0M66 11h2M76 11h0M34 12h1M38 12h3M65 12h0M67 12h1M71 12h2M75 12h1M34 13h0M36 13h0M38 13h0M40 13h0M62 13h2M69 13h3M74 13h0M36 14h4M43 14h0M56 14h0M58 14h0M63 14h2M68 14h0M70 14h1M35 15h0M39 15h2M43 15h0M55 15h0M36 16h0M39 16h0M46 16h0M54 16h1M68 16h1M38 17h0M40 17h2M45 17h1M49 17h2M53 17h2M64 17h0M69 17h0M34 18h0M36 18h1M39 18h0M48 18h4M54 18h1M70 18h0M35 19h0M37 19h0M39 19h0M64 19h1M35 20h0M64 20h1M70 20h0M65 21h0M69 21h0M64 22h1M69 22h0M68 23h1M65 24h3M48 103h1M47 104h3M52 104h0M48 105h0M52 105h0M54 105h0M44 106h0M47 106h1M55 106h0M31 107h0M45 107h3M55 107h0M30 108h1M47 108h0M49 108h0M54 108h0M29 109h1M32 109h2M46 109h0M57 109h0M29 110h3M34 110h0M42 110h1M45 110h0M27 111h0M34 111h0M42 111h1M47 111h2M56 111h2M27 112h2M34 112h1M41 112h1M50 112h0M58 112h0M62 112h0M29 113h0M42 113h0M44 113h2M49 113h0M57 113h0M59 113h0M62 113h0M67 113h1M28 114h0M31 114h1M37 114h0M49 114h0M59 114h0M61 114h0M63 114h4M30 115h0M51 115h0M58 115h2M64 115h1M27 116h2M31 116h2M35 116h1M61 116h0M67 116h0M28 117h1M31 117h0M33 117h0M35 117h0M52 117h2M66 117h1M28 118h1M31 118h1M34 118h0M65 118h1M32 119h1M69 119h0M31 120h2M32 121h0M34 121h0M32 122h1M70 122h0M32 123h0M31 124h2M58 124h0M70 124h0M72 124h0M64 125h0M69 125h0M72 125h0M34 126h1M58 126h1M33 127h0M58 127h0M67 127h1"/><path stroke="#2a1498" stroke-width="1.3" d="M35 0h0M37 0h0M39 0h1M42 0h0M46 0h0M57 0h0M63 0h0M66 0h1M71 0h0M35 1h1M38 1h0M40 1h0M42 1h0M46 1h0M58 1h0M66 1h0M68 1h0M71 1h0M43 2h0M58 2h0M69 2h1M73 2h0M33 3h0M45 3h0M58 3h0M60 3h1M71 3h1M59 4h0M31 5h0M44 5h0M74 5h0M75 6h0M31 7h0M64 7h0M31 8h2M64 8h3M75 8h0M66 9h1M75 9h0M34 10h0M64 10h2M76 10h0M42 11h0M62 11h0M64 11h0M72 11h1M75 11h0M62 12h0M69 12h1M74 12h0M43 13h0M59 13h2M53 14h0M42 15h0M44 15h2M65 15h3M43 16h0M47 16h1M51 16h0M67 16h0M65 17h0M66 18h0M68 18h0M67 20h2M66 21h1M66 22h0M66 23h1M50 106h3M49 107h0M48 108h0M52 108h0M55 108h1M47 109h0M49 109h1M52 109h0M55 109h0M46 110h0M49 110h1M55 110h0M31 111h1M50 111h0M55 111h0M30 112h0M33 112h0M52 112h0M55 112h0M50 113h0M40 114h0M44 114h1M47 114h1M50 114h0M52 114h0M56 114h0M38 115h0M49 115h1M52 115h0M56 115h0M43 116h0M50 116h0M54 116h1M36 117h0M42 117h2M51 117h0M55 117h4M53 118h2M58 118h0M68 118h0M34 119h0M43 119h1M47 119h2M53 119h1M58 119h1M65 119h0M44 120h0M54 120h0M65 120h0M55 121h0M58 121h0M65 121h0M68 121h1M34 122h0M55 122h0M58 122h0M60 122h0M55 123h1M60 123h0M63 123h0M67 123h0M69 123h0M43 124h0M62 124h2M68 124h0M34 125h2M42 125h0M57 125h0M59 125h0M62 125h0M65 125h0M39 126h0M41 126h1M62 126h2M36 127h2M64 127h2"/><path stroke="#1a1ccc" stroke-width="1.45" d="M36 0h0M47 0h1M55 0h0M64 0h1M37 1h0M47 1h0M57 1h0M62 1h3M34 2h1M56 2h0M62 2h0M65 2h0M35 3h1M38 3h0M40 3h0M42 3h1M47 3h1M56 3h1M64 3h0M66 3h0M33 4h5M40 4h3M45 4h3M56 4h1M63 4h0M65 4h0M67 4h0M70 4h2M32 5h0M34 5h0M36 5h1M40 5h2M45 5h0M47 5h1M55 5h0M57 5h0M59 5h1M62 5h0M64 5h4M71 5h1M33 6h0M35 6h0M39 6h1M43 6h0M45 6h0M59 6h2M63 6h1M66 6h1M70 6h0M72 6h2M34 7h1M37 7h2M41 7h3M62 7h1M66 7h6M74 7h0M34 8h0M37 8h0M40 8h1M43 8h0M61 8h2M70 8h3M34 9h2M38 9h1M41 9h3M69 9h1M72 9h1M36 10h1M39 10h0M41 10h2M61 10h2M71 10h1M74 10h0M43 11h1M59 11h0M61 11h0M74 11h0M52 12h2M56 12h1M44 13h3M51 13h6M45 14h1M50 14h1M47 15h1M48 109h0M51 109h0M51 110h2M54 111h0M54 112h0M54 113h0M41 114h0M54 114h0M40 115h2M44 115h4M54 115h0M37 116h3M42 116h0M44 116h0M46 116h2M63 116h0M38 117h2M45 117h1M61 117h1M35 118h0M40 118h2M45 118h1M50 118h0M61 118h1M36 119h0M39 119h3M46 119h0M51 119h0M56 119h0M61 119h2M67 119h0M36 120h2M41 120h0M48 120h0M50 120h2M56 120h0M61 120h3M66 120h1M36 121h0M41 121h0M43 121h1M47 121h2M51 121h1M63 121h0M66 121h1M35 122h1M38 122h4M45 122h1M52 122h1M56 122h0M62 122h2M66 122h0M68 122h0M35 123h0M38 123h1M43 123h3M54 123h0M61 123h0M65 123h1M35 124h2M39 124h2M45 124h1M52 124h2M60 124h1M65 124h0M39 125h2M43 125h3M53 125h0M55 125h0M60 125h0M66 125h1M43 126h2M53 126h1M56 126h0M66 126h0M43 127h0M56 127h0M61 127h1"/><path stroke="#3a78f2" stroke-width="1.45" d="M55 1h0M55 2h0M55 3h0M49 4h0M54 4h0M54 5h0M46 6h0M45 7h0M60 7h0M60 8h0M60 10h0M45 11h1M52 11h0M58 11h0M47 12h0M49 13h1M48 122h2M51 123h0M47 124h0M51 124h0M51 125h0M52 126h0M53 127h0"/><path stroke="#46def8" stroke-width="1.45" d="M50 0h0M54 0h0M49 1h0M49 2h0M49 3h0M50 4h0M50 5h0M47 6h3M52 6h1M55 6h0M58 6h0M46 7h0M50 7h1M59 7h0M46 8h0M46 9h0M60 9h0M45 10h1M51 10h0M59 10h0M47 11h0M51 11h0M53 11h2M57 11h0M48 12h1M51 12h0M48 123h2M48 124h2M48 125h1M47 126h0M49 126h2M46 127h1M51 127h1"/><path stroke="#f4e044" stroke-width="1.5" d="M54 1h0M54 2h0M54 3h0M52 5h1M51 6h0M47 7h0M49 7h0M53 7h0M47 8h0M51 8h0M59 8h0M47 9h1M51 9h0M47 10h0M50 10h0M48 11h2M56 11h0M50 12h0M48 126h0M49 127h1"/><path stroke="#f4a030" stroke-width="1.7" d="M51 0h2M50 1h0M53 4h0M51 5h0M48 7h0M56 7h1M48 8h2M52 8h0M50 9h0M59 9h0M48 10h1M58 10h0M48 127h0"/><path stroke="#dc2a14" stroke-width="1.7" d="M51 1h0M53 1h0M50 2h0M52 2h1M51 3h1M51 4h1M54 7h1M58 7h0M53 8h0M57 8h1M52 9h0M58 9h0M52 10h1M57 10h0"/><path stroke="#98100e" stroke-width="1.7" d="M52 1h0M51 2h0M54 8h2M53 9h4M54 10h1"/></g></svg>
<svg x="249.0" y="12.0" width="149.5" height="149.5" viewBox="0 0 128 128" preserveAspectRatio="none" overflow="hidden">
<g transform="translate(.5 .5)" fill="none" stroke-linecap="round"><path stroke="#46def8" stroke-width="1.18" d="M3 0h1M6 0h0M9 0h0M11 0h4M21 0h0M23 0h3M30 0h0M35 0h2M48 0h0M63 0h1M67 0h0M71 0h0M74 0h0M78 0h0M90 0h0M92 0h2M96 0h0M114 0h0M118 0h0M123 0h0M125 0h2M4 1h1M7 1h0M9 1h1M14 1h0M16 1h0M28 1h3M37 1h1M40 1h0M45 1h2M60 1h0M63 1h1M66 1h0M75 1h2M81 1h0M83 1h0M87 1h0M93 1h1M96 1h0M106 1h0M118 1h0M122 1h1M125 1h1M6 2h0M9 2h0M11 2h0M15 2h1M25 2h2M29 2h0M43 2h0M45 2h0M51 2h1M58 2h0M73 2h2M77 2h0M83 2h2M96 2h0M98 2h0M105 2h2M118 2h0M122 2h0M10 3h0M13 3h0M15 3h0M18 3h0M22 3h0M30 3h0M36 3h0M43 3h0M45 3h0M47 3h0M73 3h0M87 3h0M89 3h1M96 3h2M106 3h1M111 3h0M116 3h0M122 3h0M124 3h0M10 4h0M14 4h0M16 4h4M24 4h1M27 4h0M34 4h0M36 4h1M40 4h3M45 4h0M47 4h0M51 4h0M59 4h0M67 4h0M70 4h1M83 4h1M87 4h0M90 4h0M95 4h0M97 4h0M104 4h1M109 4h0M111 4h0M113 4h0M13 5h0M16 5h1M21 5h0M24 5h0M29 5h2M34 5h0M36 5h1M40 5h2M47 5h1M51 5h1M59 5h1M67 5h1M84 5h1M90 5h0M95 5h1M105 5h0M107 5h0M109 5h1M112 5h0M1 6h0M13 6h0M20 6h1M28 6h1M35 6h0M39 6h1M48 6h5M58 6h0M67 6h0M70 6h0M88 6h0M95 6h3M104 6h0M106 6h1M109 6h1M1 7h0M3 7h0M5 7h0M22 7h0M27 7h0M29 7h0M34 7h1M37 7h0M39 7h0M49 7h1M54 7h0M57 7h0M60 7h0M62 7h2M67 7h2M74 7h0M80 7h0M95 7h0M103 7h0M108 7h1M127 7h0M3 8h0M5 8h1M21 8h1M29 8h0M32 8h1M37 8h0M52 8h0M57 8h0M63 8h0M66 8h0M70 8h0M72 8h1M78 8h0M92 8h0M95 8h0M97 8h0M105 8h3M0 9h0M3 9h0M14 9h0M26 9h2M30 9h0M35 9h1M46 9h1M56 9h0M69 9h0M72 9h0M75 9h0M78 9h0M91 9h1M100 9h0M109 9h1M1 10h1M22 10h1M25 10h0M30 10h0M32 10h0M34 10h0M36 10h1M51 10h1M58 10h0M71 10h1M74 10h0M76 10h0M78 10h0M92 10h1M107 10h0M111 10h0M12 11h1M23 11h0M30 11h3M35 11h1M52 11h3M58 11h1M64 11h0M72 11h5M125 11h1M0 12h0M2 12h0M13 12h0M16 12h0M18 12h0M22 12h1M25 12h0M30 12h0M32 12h1M35 12h0M38 12h0M54 12h0M65 12h0M72 12h2M78 12h1M89 12h0M91 12h2M124 12h0M0 13h0M3 13h0M13 13h1M20 13h1M23 13h1M28 13h0M30 13h0M32 13h0M34 13h0M36 13h0M38 13h0M40 13h0M60 13h0M80 13h0M84 13h1M123 13h1M1 14h1M4 14h0M13 14h0M18 14h0M20 14h2M36 14h1M39 14h1M45 14h1M64 14h1M84 14h2M105 14h0M3 15h0M13 15h0M31 15h0M41 15h7M63 15h0M72 15h0M75 15h0M80 15h0M85 15h0M88 15h0M106 15h3M123 15h0M1 16h0M8 16h0M10 16h0M25 16h0M31 16h1M36 16h0M39 16h0M46 16h2M54 16h1M57 16h1M69 16h0M71 16h2M75 16h2M83 16h1M88 16h0M93 16h0M95 16h2M100 16h0M113 16h0M116 16h2M122 16h0M126 16h1M0 17h0M9 17h0M33 17h0M38 17h0M40 17h2M45 17h1M49 17h1M54 17h0M56 17h1M69 17h0M72 17h0M100 17h1M107 17h0M115 17h0M123 17h0M125 17h0M127 17h0M7 18h2M15 18h0M34 18h0M36 18h1M39 18h0M48 18h4M54 18h0M57 18h0M71 18h0M73 18h0M91 18h0M96 18h1M119 18h0M121 18h0M123 18h0M126 18h0M20 19h0M35 19h0M39 19h0M41 19h0M44 19h0M49 19h1M56 19h1M71 19h1M75 19h0M83 19h1M86 19h0M96 19h0M115 19h4M9 20h1M15 20h0M17 20h3M34 20h1M41 20h0M48 20h1M51 20h0M53 20h1M56 20h0M61 20h0M70 20h0M75 20h1M78 20h0M81 20h1M85 20h5M96 20h0M101 20h1M104 20h0M109 20h2M115 20h0M119 20h3M8 21h1M15 21h0M17 21h1M20 21h3M36 21h0M40 21h0M53 21h1M61 21h0M65 21h0M71 21h1M77 21h1M80 21h0M86 21h0M94 21h0M103 21h1M109 21h0M121 21h1M9 22h0M12 22h2M19 22h2M23 22h0M35 22h0M43 22h0M49 22h0M51 22h0M54 22h0M56 22h0M61 22h0M64 22h2M72 22h0M76 22h0M81 22h0M87 22h1M93 22h0M97 22h0M110 22h1M117 22h1M123 22h1M126 22h0M9 23h0M15 23h3M20 23h1M23 23h0M25 23h0M28 23h4M34 23h0M43 23h0M46 23h0M50 23h1M54 23h0M63 23h0M66 23h0M71 23h1M77 23h0M79 23h0M88 23h0M111 23h2M115 23h0M122 23h0M126 23h0M2 24h0M5 24h0M7 24h2M11 24h1M14 24h0M20 24h0M24 24h0M28 24h0M30 24h0M32 24h0M35 24h0M42 24h1M45 24h0M49 24h1M52 24h0M55 24h0M57 24h1M60 24h0M62 24h0M65 24h2M69 24h0M71 24h1M80 24h0M87 24h0M104 24h0M110 24h4M123 24h1M11 25h0M13 25h0M15 25h0M18 25h0M23 25h0M27 25h0M30 25h2M45 25h0M49 25h0M53 25h0M55 25h0M57 25h5M64 25h0M67 25h0M69 25h1M87 25h0M99 25h0M101 25h0M103 25h1M109 25h0M111 25h2M115 25h0M123 25h1M10 26h0M13 26h0M15 26h0M17 26h0M24 26h0M28 26h0M30 26h0M55 26h0M60 26h2M67 26h3M86 26h1M90 26h0M102 26h0M104 26h1M110 26h0M112 26h0M123 26h1M5 27h1M9 27h1M14 27h0M16 27h1M24 27h0M27 27h0M29 27h3M37 27h1M40 27h1M43 27h0M51 27h0M53 27h0M56 27h0M61 27h2M70 27h1M76 27h0M89 27h1M92 27h0M99 27h2M106 27h0M123 27h1M9 28h1M12 28h2M27 28h0M30 28h0M35 28h0M38 28h0M43 28h0M50 28h1M55 28h0M67 28h5M76 28h0M87 28h6M108 28h0M111 28h0M120 28h3M125 28h0M127 28h0M4 29h3M10 29h2M22 29h0M27 29h1M30 29h0M32 29h0M35 29h0M38 29h2M42 29h1M48 29h0M50 29h0M53 29h1M67 29h0M70 29h0M72 29h0M83 29h0M88 29h0M91 29h0M93 29h4M102 29h3M108 29h0M113 29h1M124 29h1M0 30h0M3 30h2M22 30h0M24 30h1M36 30h3M41 30h0M47 30h0M49 30h2M54 30h2M63 30h1M67 30h1M70 30h1M74 30h4M81 30h0M83 30h0M87 30h1M90 30h3M96 30h0M99 30h0M102 30h0M108 30h2M117 30h0M126 30h1M0 31h0M3 31h0M7 31h0M10 31h0M24 31h0M28 31h0M34 31h1M39 31h0M41 31h0M48 31h1M51 31h1M55 31h0M61 31h0M63 31h1M66 31h1M70 31h0M74 31h0M82 31h1M87 31h1M91 31h5M98 31h0M100 31h1M104 31h0M107 31h0M109 31h0M117 31h2M123 31h0M125 31h1M0 32h2M4 32h0M8 32h1M28 32h0M32 32h0M35 32h1M47 32h2M62 32h7M79 32h1M82 32h1M87 32h1M90 32h3M95 32h3M101 32h0M109 32h1M119 32h0M125 32h0M127 32h0M19 33h0M27 33h1M30 33h1M42 33h0M44 33h1M47 33h1M52 33h0M61 33h1M67 33h0M69 33h0M72 33h0M79 33h1M89 33h0M93 33h0M95 33h0M97 33h1M101 33h0M103 33h0M105 33h0M107 33h0M111 33h0M114 33h0M119 33h0M124 33h1M127 33h0M8 34h0M18 34h0M46 34h0M50 34h0M52 34h0M54 34h0M62 34h3M69 34h3M80 34h0M86 34h0M88 34h0M90 34h1M93 34h1M98 34h0M100 34h0M103 34h0M108 34h3M113 34h0M116 34h0M124 34h3M4 35h0M6 35h1M17 35h0M26 35h0M28 35h0M30 35h1M33 35h2M38 35h0M40 35h0M45 35h1M50 35h2M54 35h0M66 35h0M72 35h0M92 35h0M94 35h1M97 35h0M99 35h0M106 35h0M111 35h0M113 35h0M124 35h0M6 36h0M8 36h0M13 36h1M17 36h1M20 36h0M29 36h0M32 36h1M36 36h4M45 36h1M51 36h1M54 36h1M65 36h1M68 36h0M73 36h1M87 36h0M89 36h0M91 36h2M97 36h2M102 36h0M106 36h0M113 36h0M3 37h1M6 37h1M9 37h0M13 37h1M19 37h2M28 37h1M36 37h1M51 37h0M53 37h0M58 37h0M72 37h0M74 37h0M90 37h0M92 37h1M96 37h0M98 37h1M101 37h1M2 38h0M4 38h2M8 38h0M11 38h2M19 38h0M21 38h2M33 38h0M35 38h0M48 38h0M52 38h0M58 38h0M71 38h2M79 38h1M91 38h0M101 38h0M104 38h1M5 39h3M13 39h0M15 39h0M19 39h1M22 39h0M34 39h0M45 39h1M54 39h0M56 39h0M64 39h1M71 39h0M96 39h0M98 39h0M101 39h0M103 39h0M115 39h2M1 40h4M7 40h0M15 40h0M18 40h0M23 40h0M25 40h0M32 40h0M34 40h0M45 40h0M52 40h0M54 40h1M64 40h2M71 40h0M95 40h0M99 40h1M102 40h0M104 40h0M112 40h0M114 40h0M117 40h0M119 40h0M122 40h0M4 41h0M7 41h0M17 41h0M21 41h1M27 41h0M53 41h0M61 41h3M78 41h1M82 41h0M96 41h0M98 41h0M100 41h3M107 41h0M109 41h0M111 41h0M113 41h7M5 42h3M11 42h0M14 42h2M19 42h1M23 42h0M29 42h1M33 42h0M47 42h0M52 42h0M61 42h2M70 42h0M72 42h2M80 42h0M85 42h0M94 42h0M99 42h0M102 42h0M106 42h2M110 42h3M115 42h2M120 42h0M122 42h0M2 43h0M6 43h1M10 43h4M17 43h3M26 43h0M30 43h0M34 43h0M45 43h2M49 43h2M53 43h1M68 43h4M75 43h1M78 43h0M80 43h3M85 43h0M92 43h0M95 43h1M99 43h1M102 43h0M107 43h0M113 43h0M117 43h5M2 44h1M6 44h0M9 44h0M11 44h0M13 44h1M18 44h2M22 44h2M29 44h1M33 44h0M35 44h0M40 44h1M45 44h0M48 44h0M50 44h0M52 44h1M55 44h0M59 44h0M62 44h1M68 44h0M79 44h0M81 44h0M98 44h4M111 44h1M114 44h1M117 44h0M119 44h0M121 44h0M123 44h0M0 45h0M3 45h1M6 45h0M8 45h0M11 45h1M17 45h0M21 45h1M30 45h1M33 45h0M37 45h1M41 45h0M46 45h0M48 45h1M52 45h1M56 45h2M60 45h0M62 45h1M68 45h0M70 45h1M77 45h0M93 45h0M101 45h1M111 45h0M116 45h0M121 45h2M0 46h1M6 46h0M12 46h1M18 46h2M23 46h1M47 46h2M52 46h0M57 46h3M62 46h1M71 46h0M81 46h1M100 46h0M102 46h0M105 46h1M111 46h1M122 46h0M125 46h0M2 47h0M4 47h1M7 47h0M16 47h1M21 47h2M57 47h1M60 47h2M70 47h1M74 47h0M83 47h0M95 47h0M97 47h0M101 47h0M120 47h3M126 47h1M3 48h1M6 48h0M16 48h0M19 48h1M25 48h1M57 48h0M62 48h0M69 48h3M82 48h0M86 48h0M89 48h0M120 48h1M123 48h0M0 49h2M17 49h1M26 49h0M28 49h0M36 49h0M44 49h0M56 49h0M58 49h0M62 49h0M65 49h0M69 49h1M72 49h0M84 49h1M87 49h2M103 49h0M113 49h0M126 49h1M7 50h0M14 50h0M17 50h1M20 50h0M27 50h1M36 50h0M38 50h0M44 50h0M47 50h0M50 50h0M52 50h0M56 50h0M61 50h0M63 50h0M68 50h0M70 50h2M76 50h0M84 50h0M86 50h0M88 50h1M102 50h1M105 50h0M116 50h3M127 50h0M23 51h0M28 51h0M33 51h0M47 51h2M51 51h0M60 51h0M62 51h0M68 51h0M70 51h1M76 51h2M82 51h2M86 51h0M95 51h0M97 51h0M101 51h1M105 51h0M110 51h0M118 51h2M124 51h1M2 52h1M5 52h1M10 52h0M24 52h0M32 52h0M45 52h0M47 52h0M49 52h0M58 52h0M62 52h0M71 52h0M79 52h0M81 52h3M86 52h0M94 52h1M101 52h1M109 52h0M111 52h0M114 52h1M117 52h0M119 52h0M125 52h0M1 53h0M3 53h0M5 53h0M8 53h0M11 53h0M48 53h0M60 53h1M63 53h0M72 53h1M76 53h3M83 53h0M85 53h1M93 53h2M98 53h1M101 53h0M105 53h0M107 53h0M111 53h0M120 53h0M125 53h2M1 54h1M4 54h0M6 54h1M9 54h3M25 54h1M29 54h0M33 54h0M37 54h0M62 54h1M76 54h0M81 54h1M84 54h0M86 54h1M102 54h0M107 54h2M114 54h1M125 54h0M1 55h3M6 55h2M13 55h0M27 55h1M30 55h0M34 55h0M39 55h3M46 55h0M52 55h0M54 55h0M62 55h0M72 55h0M76 55h0M81 55h0M84 55h0M86 55h1M90 55h0M97 55h0M102 55h0M108 55h0M112 55h0M114 55h0M118 55h0M120 55h0M3 56h1M13 56h1M18 56h1M21 56h0M30 56h1M37 56h0M39 56h0M42 56h1M46 56h1M52 56h0M61 56h0M63 56h0M73 56h2M83 56h5M105 56h0M108 56h0M110 56h0M113 56h0M119 56h0M2 57h0M12 57h0M19 57h1M23 57h0M29 57h2M40 57h3M47 57h1M53 57h0M61 57h2M67 57h2M71 57h2M82 57h0M84 57h3M89 57h2M97 57h0M99 57h0M109 57h0M111 57h1M114 57h2M118 57h0M0 58h2M10 58h0M12 58h1M31 58h0M40 58h0M45 58h1M48 58h0M51 58h0M55 58h1M59 58h1M62 58h0M64 58h0M66 58h2M70 58h0M75 58h0M84 58h0M94 58h0M98 58h0M100 58h0M110 58h3M1 59h0M22 59h0M28 59h0M30 59h1M37 59h0M40 59h0M42 59h0M44 59h0M47 59h4M53 59h1M57 59h2M63 59h0M68 59h0M70 59h0M76 59h0M85 59h1M92 59h2M97 59h0M99 59h1M119 59h1M122 59h1M17 60h2M29 60h1M38 60h0M40 60h0M42 60h0M47 60h0M50 60h0M53 60h0M56 60h1M59 60h1M71 60h1M75 60h0M85 60h0M87 60h0M92 60h0M94 60h1M98 60h0M113 60h0M116 60h0M119 60h0M123 60h0M5 61h1M19 61h0M35 61h1M40 61h2M44 61h0M48 61h1M66 61h4M75 61h0M77 61h0M88 61h0M91 61h1M113 61h1M116 61h0M118 61h0M122 61h1M18 62h1M21 62h0M30 62h1M41 62h0M43 62h0M46 62h0M50 62h0M54 62h0M56 62h0M69 62h2M74 62h3M87 62h0M89 62h3M94 62h0M101 62h0M109 62h0M114 62h2M118 62h0M121 62h0M123 62h0M9 63h1M17 63h1M20 63h0M22 63h0M26 63h0M31 63h1M35 63h0M42 63h0M51 63h0M55 63h1M65 63h1M69 63h0M76 63h0M86 63h0M88 63h1M92 63h0M107 63h0M109 63h2M113 63h0M120 63h0M124 63h0M9 64h0M17 64h0M20 64h0M32 64h0M41 64h0M45 64h0M47 64h0M52 64h1M55 64h0M69 64h0M87 64h0M91 64h0M95 64h0M97 64h0M101 64h0M110 64h1M115 64h0M119 64h0M121 64h0M123 64h0M9 65h0M12 65h0M18 65h0M28 65h1M31 65h2M35 65h2M43 65h3M48 65h0M54 65h0M73 65h1M81 65h0M87 65h0M91 65h0M97 65h3M111 65h0M123 65h0M5 66h3M11 66h5M20 66h0M26 66h0M29 66h0M31 66h0M42 66h4M49 66h0M61 66h1M67 66h2M74 66h0M81 66h0M91 66h1M97 66h0M107 66h0M111 66h0M115 66h0M119 66h1M122 66h1M6 67h0M8 67h0M11 67h0M13 67h1M27 67h1M35 67h1M42 67h0M45 67h3M56 67h0M59 67h1M62 67h0M64 67h0M73 67h0M75 67h0M91 67h0M93 67h0M96 67h0M98 67h0M100 67h0M105 67h0M112 67h0M116 67h0M118 67h2M123 67h0M4 68h4M10 68h0M12 68h0M14 68h0M19 68h0M28 68h0M31 68h0M35 68h1M42 68h1M54 68h0M57 68h0M65 68h0M70 68h2M74 68h1M88 68h1M92 68h0M95 68h1M108 68h0M116 68h0M118 68h0M120 68h0M124 68h0M4 69h0M12 69h0M28 69h0M31 69h1M36 69h0M39 69h0M54 69h5M63 69h0M66 69h1M70 69h1M80 69h1M84 69h0M86 69h0M88 69h0M90 69h4M96 69h0M102 69h2M108 69h0M113 69h1M117 69h0M119 69h0M123 69h0M1 70h0M7 70h0M12 70h1M32 70h0M39 70h0M60 70h0M63 70h1M67 70h0M69 70h3M78 70h0M84 70h0M86 70h0M90 70h1M93 70h0M96 70h0M102 70h0M104 70h0M109 70h0M116 70h1M119 70h1M122 70h2M5 71h1M8 71h0M21 71h0M31 71h4M37 71h1M52 71h0M55 71h1M58 71h0M65 71h0M77 71h0M85 71h0M89 71h0M91 71h2M96 71h0M104 71h1M107 71h0M113 71h0M116 71h0M120 71h1M0 72h1M3 72h0M6 72h0M15 72h0M22 72h0M27 72h0M30 72h1M36 72h0M38 72h1M49 72h0M51 72h4M57 72h0M61 72h0M63 72h0M77 72h0M83 72h1M89 72h2M93 72h0M99 72h0M106 72h1M121 72h0M123 72h0M125 72h0M127 72h0M26 73h0M28 73h0M30 73h0M32 73h0M50 73h0M53 73h0M56 73h0M62 73h0M70 73h3M78 73h0M82 73h3M89 73h1M92 73h0M95 73h0M106 73h0M119 73h0M121 73h0M123 73h1M126 73h0M14 74h0M27 74h0M29 74h0M31 74h0M34 74h0M48 74h4M71 74h1M75 74h0M78 74h0M82 74h1M85 74h0M88 74h4M94 74h0M106 74h3M119 74h0M123 74h0M0 75h0M14 75h1M24 75h1M37 75h0M40 75h1M44 75h0M46 75h0M48 75h0M53 75h0M56 75h1M70 75h0M75 75h1M78 75h0M82 75h4M88 75h0M92 75h1M98 75h2M105 75h1M119 75h1M122 75h0M125 75h1M1 76h0M8 76h0M11 76h2M16 76h0M25 76h2M31 76h1M43 76h0M47 76h1M58 76h0M72 76h0M74 76h2M79 76h0M82 76h0M84 76h0M86 76h0M88 76h1M93 76h1M99 76h0M106 76h1M113 76h0M117 76h0M121 76h0M127 76h0M1 77h0M3 77h0M7 77h0M10 77h0M14 77h0M17 77h3M29 77h0M34 77h1M37 77h0M39 77h0M41 77h0M44 77h3M49 77h3M56 77h1M70 77h2M75 77h1M87 77h0M90 77h0M94 77h1M98 77h1M103 77h1M107 77h0M113 77h0M117 77h1M122 77h0M124 77h0M3 78h0M10 78h2M16 78h0M22 78h0M27 78h0M33 78h4M48 78h0M50 78h0M56 78h0M59 78h1M62 78h0M66 78h0M68 78h0M71 78h1M74 78h0M82 78h2M87 78h1M90 78h1M96 78h1M102 78h0M106 78h0M112 78h4M121 78h0M123 78h0M127 78h0M2 79h2M6 79h0M13 79h0M15 79h0M21 79h0M25 79h0M28 79h0M33 79h1M39 79h1M50 79h0M61 79h0M63 79h0M66 79h0M74 79h0M76 79h1M82 79h0M91 79h0M94 79h0M102 79h0M105 79h0M112 79h0M114 79h0M116 79h1M121 79h2M127 79h0M0 80h0M5 80h0M12 80h0M25 80h0M28 80h0M30 80h0M32 80h0M36 80h0M39 80h0M48 80h0M50 80h0M58 80h0M66 80h0M69 80h0M81 80h0M89 80h1M94 80h0M96 80h0M102 80h1M105 80h0M115 80h1M118 80h0M122 80h1M127 80h0M2 81h2M8 81h4M26 81h0M38 81h1M43 81h6M60 81h0M70 81h0M79 81h2M85 81h0M87 81h1M90 81h0M92 81h0M94 81h0M96 81h0M103 81h3M111 81h0M114 81h1M119 81h1M1 82h1M4 82h0M7 82h4M29 82h0M31 82h0M33 82h0M39 82h0M44 82h0M60 82h0M81 82h0M91 82h0M94 82h0M100 82h1M104 82h0M109 82h1M117 82h1M124 82h0M0 83h0M6 83h1M9 83h0M12 83h0M23 83h1M32 83h0M40 83h0M44 83h1M50 83h0M55 83h0M61 83h0M67 83h0M69 83h0M76 83h0M79 83h1M82 83h0M84 83h3M93 83h0M102 83h0M110 83h0M116 83h0M127 83h0M5 84h2M10 84h0M12 84h0M17 84h1M23 84h1M26 84h0M40 84h0M45 84h0M47 84h0M70 84h3M86 84h1M89 84h1M92 84h0M99 84h0M105 84h0M108 84h1M127 84h0M0 85h1M7 85h0M9 85h0M17 85h3M24 85h4M40 85h1M43 85h1M48 85h1M53 85h2M65 85h1M69 85h0M71 85h0M74 85h1M82 85h0M84 85h1M88 85h0M92 85h0M100 85h0M127 85h0M1 86h0M6 86h0M10 86h1M15 86h2M19 86h0M22 86h2M31 86h1M42 86h0M45 86h0M52 86h0M66 86h1M69 86h0M74 86h0M81 86h1M85 86h1M100 86h0M113 86h0M127 86h0M1 87h1M6 87h0M8 87h0M19 87h4M25 87h2M40 87h0M43 87h2M47 87h0M51 87h0M61 87h0M63 87h0M65 87h0M67 87h0M73 87h2M79 87h0M82 87h0M114 87h1M117 87h0M124 87h2M7 88h1M14 88h1M18 88h1M22 88h1M25 88h0M43 88h1M47 88h1M50 88h1M60 88h0M64 88h5M94 88h2M98 88h0M105 88h0M109 88h0M112 88h0M114 88h0M15 89h1M18 89h0M20 89h0M24 89h0M45 89h0M50 89h0M53 89h0M58 89h1M62 89h0M68 89h0M70 89h0M79 89h0M97 89h0M104 89h1M110 89h1M4 90h0M8 90h1M15 90h1M18 90h1M21 90h0M25 90h1M54 90h2M59 90h1M70 90h0M75 90h0M90 90h0M94 90h0M98 90h0M102 90h3M114 90h0M2 91h1M5 91h1M8 91h1M17 91h0M19 91h0M24 91h2M52 91h1M55 91h2M59 91h0M62 91h1M70 91h0M78 91h2M95 91h0M98 91h0M102 91h0M104 91h0M112 91h1M115 91h0M5 92h1M9 92h0M14 92h0M17 92h0M19 92h2M24 92h0M39 92h0M53 92h2M57 92h2M61 92h2M78 92h0M88 92h0M92 92h0M97 92h5M105 92h0M107 92h0M110 92h0M112 92h0M124 92h1M1 93h3M6 93h1M14 93h2M19 93h2M30 93h0M39 93h1M52 93h0M54 93h1M57 93h0M62 93h1M79 93h0M82 93h0M95 93h0M97 93h1M104 93h1M107 93h1M110 93h0M123 93h2M5 94h0M7 94h0M11 94h1M14 94h0M17 94h1M29 94h0M41 94h1M52 94h0M55 94h1M61 94h1M64 94h0M68 94h0M70 94h0M80 94h1M85 94h2M90 94h1M94 94h0M99 94h0M111 94h0M114 94h0M120 94h2M125 94h1M3 95h0M6 95h0M8 95h0M10 95h0M17 95h1M39 95h2M43 95h1M48 95h0M51 95h0M57 95h2M61 95h0M63 95h3M68 95h0M76 95h0M92 95h0M94 95h1M112 95h1M121 95h2M127 95h0M3 96h0M10 96h1M13 96h0M15 96h0M30 96h0M43 96h0M48 96h0M50 96h2M62 96h0M66 96h1M69 96h0M76 96h1M83 96h1M91 96h0M123 96h0M125 96h0M127 96h0M6 97h0M10 97h0M12 97h1M27 97h6M43 97h0M45 97h0M47 97h0M49 97h0M59 97h0M63 97h0M84 97h2M105 97h0M124 97h2M7 98h0M12 98h5M34 98h0M41 98h1M45 98h0M47 98h1M53 98h0M63 98h0M65 98h0M67 98h0M75 98h2M79 98h0M85 98h1M104 98h0M117 98h0M7 99h1M10 99h0M14 99h0M17 99h1M22 99h2M41 99h1M44 99h3M49 99h0M52 99h0M56 99h0M59 99h0M63 99h1M69 99h0M71 99h0M76 99h3M85 99h0M89 99h3M104 99h2M117 99h0M122 99h0M125 99h0M127 99h0M10 100h0M12 100h1M17 100h0M19 100h0M38 100h0M41 100h1M45 100h0M50 100h0M52 100h0M56 100h0M59 100h0M66 100h0M69 100h2M77 100h0M79 100h1M92 100h1M102 100h0M104 100h0M106 100h0M124 100h0M7 101h1M10 101h1M16 101h0M20 101h0M23 101h0M35 101h1M38 101h0M44 101h0M51 101h1M60 101h0M66 101h0M86 101h1M92 101h1M105 101h1M109 101h0M111 101h0M123 101h1M126 101h0M2 102h0M6 102h1M9 102h1M15 102h0M21 102h2M25 102h0M31 102h0M33 102h1M37 102h1M40 102h1M43 102h0M45 102h1M52 102h0M54 102h0M60 102h1M63 102h0M70 102h0M79 102h4M86 102h0M89 102h4M101 102h0M107 102h0M110 102h0M116 102h0M125 102h1M3 103h0M6 103h0M8 103h0M12 103h0M14 103h0M16 103h0M18 103h0M22 103h0M24 103h1M29 103h0M36 103h0M41 103h0M45 103h0M47 103h2M52 103h1M55 103h0M59 103h1M66 103h0M78 103h0M80 103h0M82 103h0M86 103h2M92 103h0M98 103h0M100 103h1M106 103h0M110 103h0M115 103h1M118 103h1M127 103h0M0 104h0M2 104h1M6 104h1M11 104h1M14 104h0M17 104h2M23 104h0M28 104h1M39 104h2M43 104h2M48 104h1M53 104h1M60 104h0M64 104h0M66 104h0M71 104h0M74 104h1M77 104h0M79 104h0M82 104h1M85 104h0M89 104h0M91 104h2M98 104h0M100 104h0M106 104h0M115 104h2M119 104h0M123 104h0M0 105h1M7 105h3M12 105h6M26 105h0M28 105h0M39 105h0M41 105h0M45 105h0M47 105h1M54 105h1M64 105h1M74 105h0M85 105h0M87 105h1M90 105h1M102 105h0M104 105h0M106 105h1M110 105h0M112 105h0M116 105h0M118 105h0M122 105h2M126 105h1M0 106h2M8 106h0M12 106h0M16 106h0M18 106h0M24 106h2M28 106h1M36 106h0M38 106h1M48 106h0M50 106h2M55 106h1M58 106h0M63 106h0M65 106h0M68 106h1M75 106h1M78 106h0M84 106h4M90 106h2M97 106h0M105 106h2M109 106h0M112 106h0M118 106h0M120 106h0M123 106h3M1 107h2M14 107h0M17 107h2M21 107h0M29 107h0M44 107h2M48 107h0M55 107h0M57 107h0M61 107h0M68 107h0M83 107h0M86 107h0M93 107h0M95 107h2M100 107h1M103 107h1M106 107h0M114 107h1M117 107h0M120 107h1M125 107h0M1 108h0M3 108h0M5 108h2M16 108h1M24 108h0M27 108h0M30 108h0M40 108h5M48 108h1M54 108h2M58 108h0M63 108h1M67 108h0M72 108h1M75 108h0M85 108h0M96 108h0M98 108h0M100 108h3M113 108h0M118 108h1M121 108h3M2 109h0M6 109h0M16 109h0M28 109h0M32 109h0M35 109h0M37 109h1M40 109h0M42 109h0M46 109h3M57 109h0M64 109h1M67 109h0M84 109h0M89 109h0M91 109h0M93 109h2M101 109h0M104 109h1M111 109h0M113 109h0M118 109h2M124 109h1M16 110h0M31 110h1M34 110h1M37 110h1M45 110h1M58 110h1M64 110h0M66 110h1M89 110h0M92 110h0M95 110h1M98 110h0M100 110h1M103 110h0M113 110h0M18 111h0M32 111h0M34 111h0M38 111h1M43 111h1M47 111h1M57 111h2M62 111h0M64 111h0M71 111h0M95 111h2M99 111h0M103 111h1M112 111h0M114 111h1M3 112h1M14 112h2M18 112h3M33 112h0M38 112h0M44 112h0M54 112h0M58 112h0M65 112h1M69 112h0M73 112h0M78 112h0M83 112h0M88 112h0M90 112h1M103 112h1M106 112h0M112 112h0M4 113h1M14 113h5M49 113h0M57 113h0M59 113h0M78 113h0M86 113h1M89 113h1M95 113h1M98 113h1M101 113h0M104 113h1M107 113h0M113 113h1M0 114h5M8 114h0M11 114h1M17 114h1M36 114h1M54 114h0M56 114h0M64 114h2M70 114h0M77 114h0M83 114h0M85 114h2M92 114h4M100 114h0M102 114h2M106 114h0M111 114h0M127 114h0M0 115h3M5 115h2M13 115h1M16 115h2M24 115h0M41 115h1M48 115h1M54 115h0M58 115h1M65 115h0M86 115h1M94 115h0M96 115h0M102 115h1M106 115h1M126 115h1M0 116h1M3 116h1M18 116h1M27 116h0M33 116h3M38 116h0M47 116h1M54 116h1M63 116h0M67 116h0M87 116h0M94 116h2M103 116h0M110 116h1M0 117h2M9 117h3M20 117h0M24 117h0M26 117h3M35 117h0M38 117h1M51 117h0M55 117h3M62 117h0M72 117h1M83 117h0M85 117h0M88 117h0M95 117h0M102 117h0M109 117h1M117 117h0M0 118h6M9 118h0M14 118h0M17 118h1M22 118h0M24 118h0M29 118h1M40 118h0M45 118h0M53 118h2M58 118h0M65 118h1M68 118h0M70 118h1M73 118h0M89 118h0M93 118h0M95 118h0M99 118h1M102 118h1M116 118h0M122 118h0M127 118h0M0 119h1M3 119h0M12 119h0M16 119h0M20 119h3M27 119h1M36 119h0M40 119h3M46 119h1M53 119h1M58 119h0M67 119h0M69 119h0M71 119h2M89 119h1M95 119h0M97 119h0M99 119h1M104 119h0M107 119h1M112 119h0M114 119h1M117 119h0M119 119h0M121 119h1M125 119h0M3 120h0M5 120h0M10 120h1M13 120h0M17 120h1M25 120h1M37 120h1M41 120h0M44 120h0M52 120h0M54 120h0M67 120h0M71 120h0M73 120h0M80 120h0M88 120h1M95 120h0M98 120h0M101 120h1M104 120h0M106 120h1M109 120h0M114 120h0M117 120h3M122 120h0M125 120h2M1 121h0M3 121h1M15 121h0M18 121h0M25 121h1M28 121h0M41 121h0M43 121h1M51 121h1M68 121h1M71 121h1M74 121h2M85 121h0M97 121h1M100 121h0M106 121h0M109 121h0M115 121h5M122 121h0M124 121h2M2 122h0M8 122h0M21 122h0M25 122h1M28 122h0M30 122h0M34 122h2M39 122h1M42 122h0M50 122h0M52 122h1M58 122h0M60 122h0M70 122h0M72 122h0M77 122h0M79 122h0M84 122h2M95 122h8M106 122h0M114 122h1M118 122h0M120 122h0M2 123h0M4 123h0M12 123h0M18 123h1M22 123h0M25 123h0M27 123h0M29 123h0M38 123h1M43 123h0M45 123h0M50 123h0M60 123h0M69 123h0M75 123h0M77 123h1M82 123h0M86 123h0M93 123h3M99 123h0M102 123h1M118 123h0M125 123h0M16 124h2M20 124h1M25 124h0M27 124h0M29 124h0M35 124h0M43 124h0M45 124h0M51 124h0M58 124h0M60 124h1M68 124h0M75 124h1M79 124h1M93 124h3M98 124h2M102 124h0M104 124h0M107 124h0M114 124h1M125 124h0M9 125h1M13 125h0M21 125h0M34 125h2M42 125h0M45 125h0M48 125h0M55 125h0M62 125h0M69 125h1M72 125h0M75 125h1M81 125h1M93 125h0M97 125h3M106 125h1M113 125h0M115 125h0M124 125h1M0 126h0M10 126h4M17 126h2M27 126h0M34 126h0M41 126h4M54 126h0M56 126h0M58 126h0M64 126h0M72 126h0M74 126h1M78 126h1M89 126h0M94 126h0M99 126h0M102 126h0M113 126h2M119 126h0M124 126h1M4 127h0M6 127h1M9 127h1M14 127h0M24 127h1M28 127h0M36 127h0M43 127h0M70 127h0M73 127h0M78 127h0M80 127h1M83 127h1M92 127h0M95 127h1M114 127h1M119 127h0M123 127h0M125 127h0"/><path stroke="#52a4f5" stroke-width="1.18" d="M42 0h0M55 0h0M66 0h0M69 0h0M79 0h1M86 0h0M13 1h0M35 1h1M42 1h0M57 1h0M84 1h0M112 1h0M124 1h0M12 2h0M34 2h0M50 2h0M125 2h0M11 3h0M48 3h0M109 3h0M11 4h0M50 4h0M72 4h0M4 5h0M11 5h0M22 5h1M25 5h0M50 5h0M72 5h0M6 6h0M81 6h0M87 6h0M4 7h0M48 7h0M82 7h0M92 7h0M26 8h1M75 8h0M23 9h0M50 9h0M79 9h0M14 10h0M54 10h0M38 14h0M73 14h0M108 14h0M17 15h0M124 15h0M91 16h0M106 16h0M32 17h0M74 17h0M104 17h0M106 17h0M119 17h0M92 18h0M100 18h0M106 18h1M118 18h0M122 18h0M37 19h0M42 19h1M101 19h0M105 19h0M36 20h0M72 20h0M83 20h0M41 21h0M63 21h0M76 21h0M91 21h0M40 22h0M46 22h0M57 22h0M62 22h0M74 22h0M77 22h0M2 23h0M40 23h1M81 23h0M86 23h0M4 24h0M5 25h0M28 25h1M46 25h0M125 25h0M1 26h0M9 26h0M25 26h0M45 26h1M48 26h0M26 27h0M83 27h0M94 27h0M125 27h0M5 28h0M16 28h1M46 28h0M83 28h0M97 28h0M99 28h0M107 28h0M2 29h1M25 29h0M80 29h1M98 29h0M115 29h0M120 29h0M6 30h0M10 30h1M28 30h0M114 30h1M119 30h0M122 30h0M5 31h0M106 31h0M19 32h0M27 32h0M59 32h1M76 32h2M105 32h0M111 32h0M113 32h1M35 33h0M78 33h0M90 33h0M92 33h0M106 33h0M9 34h0M24 34h1M34 34h0M89 35h0M64 36h0M76 36h0M96 36h0M114 36h0M57 37h0M115 37h0M93 38h3M0 39h0M67 39h0M118 39h0M127 39h0M28 40h0M31 40h0M61 40h0M67 40h0M104 41h0M21 42h0M24 42h0M31 42h1M88 42h0M24 43h1M59 43h0M62 43h0M77 44h0M10 45h0M69 45h0M94 45h0M50 46h0M113 46h0M52 47h0M55 47h0M75 47h0M81 47h0M124 47h0M10 48h0M111 48h0M117 48h0M124 48h0M4 49h1M8 49h1M16 49h0M50 49h0M52 49h0M111 49h0M123 49h1M4 50h0M9 50h2M51 50h0M65 50h0M114 50h0M9 51h0M116 51h0M26 52h0M65 52h0M97 52h1M71 53h0M80 54h0M83 54h0M96 54h0M103 54h0M9 55h0M11 55h1M32 55h0M63 55h0M75 55h0M83 55h0M95 55h0M34 56h0M55 56h0M96 56h0M80 57h0M100 57h0M9 58h0M29 58h0M38 58h0M109 58h0M116 58h0M2 59h0M38 59h0M74 59h0M115 59h0M32 60h0M61 60h0M83 60h0M100 60h0M115 60h0M7 61h0M17 61h1M33 61h0M86 61h0M0 62h0M14 62h0M34 62h0M81 62h1M112 62h0M125 62h0M64 63h0M80 63h0M82 63h0M94 63h0M122 63h0M0 64h0M30 64h0M63 64h0M65 64h0M112 64h0M19 65h0M86 65h0M50 66h0M114 66h0M118 66h0M19 67h0M87 67h0M29 68h1M53 68h0M83 68h0M85 68h0M114 68h0M6 69h1M14 69h0M34 69h0M106 69h1M52 70h0M73 70h0M125 70h0M3 71h0M9 71h0M46 71h0M76 71h0M79 71h0M97 71h1M4 72h0M45 72h0M47 72h0M79 72h0M97 72h1M110 72h0M112 72h0M45 73h0M48 73h0M63 73h0M69 73h0M75 73h0M79 73h0M109 73h0M111 73h0M53 74h0M73 74h0M99 74h0M110 74h1M54 75h0M110 75h1M118 75h0M81 76h0M109 76h0M111 76h0M118 76h0M25 77h0M81 77h0M85 77h0M112 77h0M126 77h1M23 78h0M81 78h0M86 78h0M105 78h0M124 78h0M59 79h0M88 79h0M29 80h0M59 80h0M67 80h0M76 80h0M78 80h0M85 80h0M88 80h0M107 80h0M126 80h0M59 81h0M78 81h0M25 82h0M58 82h0M67 82h0M69 82h2M122 82h1M83 83h0M105 83h0M82 84h0M100 84h0M107 84h0M50 85h0M64 85h0M72 85h1M80 85h0M108 85h0M14 86h0M43 86h0M60 86h0M64 86h0M78 86h0M87 86h0M29 87h0M77 87h0M86 87h1M102 87h0M36 88h0M59 88h0M76 88h0M26 89h0M76 89h0M78 89h0M6 90h1M22 90h0M76 90h2M97 90h0M7 91h0M97 91h0M110 91h0M7 92h0M119 92h0M42 93h0M93 93h1M45 95h0M47 95h0M83 95h0M125 95h1M85 96h0M114 96h1M76 97h0M79 97h0M113 97h0M66 98h0M80 98h0M54 99h0M67 99h0M64 100h0M80 101h0M99 101h0M118 101h0M0 102h0M64 102h0M102 102h1M108 102h0M117 102h0M0 103h1M20 103h0M35 103h0M109 103h0M65 104h0M23 105h0M42 105h0M97 105h0M108 105h0M23 106h0M71 106h1M99 106h0M108 106h0M116 106h0M24 107h0M65 107h2M94 107h0M110 107h0M116 107h0M65 108h1M29 109h1M43 109h0M116 109h0M123 109h0M30 110h0M43 110h0M69 110h0M91 110h0M117 110h0M82 111h0M30 112h0M61 112h0M72 112h0M77 112h0M79 112h2M71 113h0M74 113h0M80 113h0M116 113h0M48 114h1M71 114h0M107 114h0M56 115h0M60 115h0M64 115h0M72 115h0M92 115h0M11 116h0M29 116h0M61 116h0M91 116h1M100 116h0M116 116h0M8 117h0M31 117h0M33 117h0M61 117h0M66 117h0M79 117h1M104 117h0M125 117h1M8 118h0M46 118h0M87 118h0M9 119h1M32 119h0M79 119h0M87 119h0M106 119h0M8 120h0M23 120h1M30 120h1M36 120h0M56 120h0M85 120h1M100 120h0M0 121h0M22 121h0M55 121h0M58 121h0M67 121h0M127 121h0M0 122h0M12 122h0M18 122h0M45 122h0M68 122h0M82 122h0M0 123h0M10 123h0M17 123h0M44 123h0M84 123h0M91 123h0M19 124h0M22 124h0M53 124h0M83 124h0M22 125h0M43 125h1M53 125h0M86 125h0M92 125h0M94 125h0M101 125h0M20 126h0M22 126h0M62 126h0M85 126h0M96 126h0M100 126h1M118 126h0M20 127h0M22 127h0M56 127h0M64 127h0M68 127h0M86 127h0"/><path stroke="#4454e6" stroke-width="1.23" d="M112 0h0M110 1h0M109 2h1M114 2h0M124 2h0M49 3h0M12 4h0M49 4h0M108 4h0M91 5h0M23 6h0M91 6h2M24 7h0M26 7h0M48 8h1M54 8h0M54 9h0M82 9h0M79 10h1M64 13h1M107 14h0M96 15h0M105 17h0M109 17h0M68 18h0M101 18h1M64 19h0M64 20h0M84 20h0M73 21h0M83 21h1M82 22h2M3 23h0M83 23h2M81 24h0M84 24h0M4 25h0M84 25h0M4 26h0M82 26h0M113 26h0M126 26h0M3 27h1M25 27h0M48 27h0M82 27h0M97 27h0M110 27h0M2 28h1M81 28h0M110 28h0M113 28h0M8 29h0M16 29h0M79 29h0M82 29h0M99 29h0M112 31h0M26 32h0M34 32h0M106 32h0M34 33h0M77 34h0M57 35h0M62 36h0M62 37h1M59 38h0M62 38h0M65 38h0M31 39h0M31 41h0M60 43h0M60 44h1M83 45h0M8 46h0M69 46h0M8 47h0M10 47h0M113 47h2M9 48h0M49 48h0M51 48h0M112 48h0M114 48h2M114 49h1M16 50h0M115 50h0M4 51h0M66 51h0M44 52h0M104 52h0M45 53h0M96 53h1M104 53h0M71 54h0M48 55h0M73 55h1M8 56h1M11 56h0M33 56h0M9 57h0M7 58h1M81 58h0M83 58h0M109 59h1M7 60h0M81 60h1M34 61h0M82 61h0M1 62h0M16 62h0M84 62h1M16 63h0M30 63h0M63 63h0M83 63h0M112 63h0M82 64h0M85 64h0M89 64h0M65 65h0M89 65h0M113 65h0M63 66h0M89 66h0M113 66h0M85 67h1M88 67h1M86 68h0M115 68h0M78 69h0M74 70h2M74 71h1M80 71h0M74 72h0M111 72h0M74 73h0M81 73h0M98 73h0M79 74h1M80 76h0M119 76h0M24 77h0M1 78h0M125 78h0M85 79h0M125 79h1M68 80h0M24 81h0M107 81h1M107 82h0M63 83h0M106 83h0M66 84h0M79 84h1M38 85h0M79 85h0M29 86h0M37 86h2M77 86h0M28 87h0M37 87h0M27 88h0M77 88h0M74 89h0M91 91h0M93 91h0M111 91h0M119 91h1M37 92h0M120 92h0M36 93h0M37 94h1M38 95h0M46 95h0M111 95h0M8 97h0M77 97h0M62 100h1M99 100h0M69 101h0M18 102h0M34 103h0M102 103h0M100 105h0M23 107h0M71 107h0M29 110h0M76 112h0M9 114h0M59 114h0M73 114h2M10 115h0M75 115h0M116 115h0M9 116h1M78 117h0M105 117h0M34 118h0M41 118h1M78 118h0M107 118h0M33 119h1M78 119h0M85 119h0M33 120h0M9 121h1M23 121h0M31 121h1M36 121h0M10 122h0M23 122h0M32 122h0M9 123h0M24 123h0M32 123h0M83 123h0M9 124h0M84 124h0M95 125h0M65 127h0M69 127h0"/><path stroke="#fad050" stroke-width="1.7" d="M20 0h0M31 0h2M46 0h1M50 0h3M59 0h1M87 0h2M97 0h2M102 0h1M108 0h1M117 0h0M120 0h0M0 1h1M3 1h0M18 1h1M32 1h0M55 1h0M58 1h0M61 1h1M71 1h0M90 1h0M97 1h0M102 1h0M107 1h0M109 1h0M114 1h0M116 1h1M121 1h0M127 1h0M0 2h0M2 2h2M7 2h0M18 2h0M20 2h0M54 2h2M61 2h1M65 2h0M69 2h1M72 2h0M79 2h0M88 2h0M92 2h3M99 2h0M101 2h1M104 2h0M113 2h0M120 2h1M127 2h0M0 3h1M19 3h1M33 3h0M40 3h0M52 3h0M54 3h4M60 3h1M64 3h0M66 3h0M71 3h0M75 3h1M78 3h1M81 3h0M93 3h2M100 3h3M113 3h1M121 3h0M123 3h0M125 3h0M3 4h1M6 4h0M33 4h0M52 4h0M54 4h0M56 4h1M63 4h0M65 4h0M79 4h0M81 4h1M92 4h2M101 4h1M120 4h1M123 4h1M126 4h0M18 5h1M32 5h0M44 5h1M53 5h2M57 5h0M62 5h0M64 5h2M74 5h3M79 5h1M83 5h0M93 5h1M99 5h1M121 5h1M126 5h0M17 6h0M19 6h0M33 6h0M43 6h0M45 6h1M55 6h0M63 6h1M66 6h0M72 6h7M99 6h3M122 6h0M126 6h0M17 7h2M31 7h0M41 7h4M55 7h0M66 7h0M71 7h1M77 7h1M101 7h0M110 7h1M126 7h0M16 8h4M40 8h1M43 8h0M50 8h0M59 8h3M65 8h0M71 8h0M99 8h0M103 8h0M111 8h0M16 9h2M20 9h0M29 9h0M38 9h1M41 9h3M48 9h0M59 9h0M66 9h0M70 9h0M96 9h1M101 9h0M103 9h2M20 10h0M39 10h0M41 10h2M47 10h0M49 10h0M60 10h8M101 10h1M105 10h1M18 11h3M28 11h1M38 11h0M42 11h5M49 11h0M57 11h0M61 11h1M66 11h2M96 11h0M101 11h1M105 11h2M19 12h0M39 12h2M47 12h2M51 12h2M56 12h1M62 12h0M67 12h4M75 12h1M94 12h1M99 12h0M102 12h6M125 12h0M26 13h1M43 13h4M49 13h8M61 13h2M69 13h3M74 13h1M77 13h1M90 13h3M95 13h5M103 13h0M7 14h0M14 14h1M24 14h1M27 14h0M29 14h0M50 14h1M53 14h0M56 14h0M58 14h0M62 14h0M68 14h0M70 14h1M76 14h1M87 14h3M92 14h0M95 14h0M97 14h3M102 14h1M5 15h2M20 15h0M23 15h0M25 15h0M28 15h2M34 15h1M55 15h0M57 15h1M65 15h3M76 15h0M78 15h1M89 15h1M98 15h1M103 15h2M111 15h1M4 16h1M14 16h1M17 16h0M20 16h1M23 16h1M30 16h0M34 16h0M51 16h0M67 16h1M78 16h0M86 16h0M89 16h0M104 16h0M111 16h0M4 17h0M6 17h0M15 17h1M19 17h0M21 17h2M31 17h0M34 17h0M51 17h0M58 17h0M65 17h0M78 17h0M85 17h2M89 17h1M111 17h2M121 17h0M0 18h0M2 18h2M6 18h0M11 18h0M17 18h2M22 18h1M31 18h1M58 18h0M78 18h0M82 18h0M86 18h0M88 18h2M98 18h0M111 18h2M124 18h1M0 19h1M3 19h3M11 19h0M13 19h0M18 19h0M23 19h0M32 19h0M38 19h0M45 19h0M58 19h1M65 19h0M79 19h0M81 19h0M88 19h0M107 19h0M110 19h3M124 19h1M127 19h0M1 20h0M3 20h2M21 20h0M24 20h0M30 20h2M37 20h2M57 20h0M59 20h0M65 20h0M67 20h2M80 20h0M98 20h0M100 20h0M106 20h0M108 20h0M112 20h0M114 20h0M126 20h1M0 21h6M26 21h1M30 21h0M39 21h0M42 21h0M56 21h0M66 21h1M69 21h0M100 21h2M106 21h1M115 21h0M123 21h4M0 22h0M4 22h0M6 22h0M26 22h0M28 22h0M37 22h2M41 22h1M53 22h0M69 22h0M90 22h0M95 22h1M98 22h2M102 22h1M108 22h1M112 22h3M120 22h0M127 22h0M0 23h1M4 23h0M7 23h0M37 23h1M68 23h2M76 23h0M89 23h4M95 23h1M98 23h0M101 23h1M104 23h0M108 23h0M110 23h0M118 23h3M1 24h0M37 24h2M68 24h0M76 24h0M78 24h0M90 24h0M92 24h1M95 24h0M99 24h1M103 24h0M105 24h3M116 24h1M127 24h0M21 25h1M33 25h1M37 25h0M76 25h5M90 25h0M93 25h3M98 25h0M106 25h1M116 25h3M127 25h0M21 26h0M26 26h0M35 26h0M65 26h1M76 26h0M78 26h0M91 26h0M96 26h0M117 26h1M1 27h0M18 27h0M20 27h2M33 27h2M57 27h0M59 27h0M65 27h0M67 27h0M77 27h1M80 27h1M95 27h0M115 27h1M0 28h1M21 28h1M59 28h0M64 28h0M66 28h0M77 28h0M79 28h1M101 28h1M114 28h4M14 29h0M18 29h2M57 29h5M78 29h0M101 29h0M116 29h1M12 30h0M14 30h0M16 30h2M20 30h0M26 30h1M29 30h0M31 30h1M42 30h0M44 30h0M58 30h2M100 30h0M11 31h1M14 31h7M25 31h0M27 31h0M29 31h2M33 31h0M43 31h1M46 31h0M53 31h0M65 31h0M121 31h1M10 32h1M13 32h1M16 32h2M21 32h1M24 32h0M29 32h0M31 32h0M38 32h0M45 32h1M53 32h2M57 32h1M85 32h0M121 32h0M123 32h0M0 33h0M4 33h1M10 33h0M12 33h0M15 33h3M20 33h3M36 33h1M39 33h1M53 33h3M59 33h0M73 33h0M75 33h1M84 33h1M120 33h3M0 34h0M2 34h0M10 34h1M15 34h0M19 34h2M35 34h3M40 34h1M56 34h4M68 34h0M73 34h2M83 34h2M101 34h1M107 34h0M118 34h1M121 34h2M0 35h2M10 35h0M12 35h0M14 35h2M21 35h0M36 35h0M41 35h0M43 35h0M58 35h1M61 35h0M74 35h0M77 35h1M81 35h1M84 35h0M102 35h0M107 35h0M109 35h0M117 35h4M127 35h0M26 36h1M41 36h3M50 36h0M59 36h2M69 36h0M78 36h1M82 36h4M107 36h1M110 36h1M115 36h0M118 36h6M126 36h1M0 37h1M11 37h1M17 37h0M26 37h1M41 37h0M43 37h0M49 37h1M61 37h0M68 37h0M70 37h0M76 37h1M79 37h0M86 37h0M106 37h0M108 37h0M110 37h0M112 37h1M118 37h1M121 37h2M125 37h0M127 37h0M14 38h3M24 38h0M26 38h2M37 38h0M43 38h2M49 38h1M70 38h0M78 38h0M81 38h0M84 38h1M89 38h1M100 38h0M108 38h0M110 38h1M114 38h0M117 38h0M120 38h1M124 38h0M126 38h1M10 39h1M17 39h0M26 39h1M37 39h1M49 39h0M51 39h0M59 39h0M69 39h1M76 39h0M78 39h0M81 39h0M83 39h2M87 39h0M89 39h0M91 39h1M99 39h1M110 39h0M112 39h1M119 39h5M126 39h0M10 40h3M36 40h2M43 40h0M49 40h0M51 40h0M57 40h0M59 40h0M74 40h4M80 40h0M84 40h1M87 40h1M94 40h0M109 40h2M125 40h1M2 41h1M9 41h0M11 41h0M13 41h0M35 41h0M37 41h1M41 41h0M44 41h0M48 41h1M51 41h1M56 41h0M59 41h1M77 41h0M83 41h1M89 41h0M93 41h1M125 41h2M0 42h4M10 42h0M36 42h0M38 42h1M42 42h0M44 42h0M48 42h0M50 42h0M56 42h3M65 42h0M90 42h0M92 42h0M124 42h0M0 43h1M15 43h1M27 43h0M37 43h2M43 43h0M56 43h2M64 43h0M89 43h2M103 43h0M105 43h0M108 43h0M124 43h0M126 43h1M0 44h0M4 44h1M15 44h1M26 44h1M36 44h0M42 44h1M85 44h0M87 44h0M89 44h1M103 44h0M106 44h1M124 44h2M14 45h0M16 45h0M27 45h0M36 45h0M76 45h0M78 45h2M84 45h0M86 45h1M91 45h0M95 45h3M104 45h0M108 45h0M117 45h3M126 45h0M14 46h0M26 46h2M30 46h1M33 46h0M35 46h3M41 46h2M68 46h0M76 46h1M79 46h1M85 46h0M87 46h1M90 46h2M95 46h3M103 46h1M107 46h1M119 46h0M11 47h2M15 47h0M28 47h0M36 47h0M38 47h1M46 47h2M64 47h0M66 47h0M68 47h0M77 47h3M86 47h0M88 47h3M93 47h0M98 47h0M102 47h1M105 47h0M109 47h1M118 47h0M11 48h3M21 48h0M28 48h1M31 48h0M33 48h0M35 48h0M40 48h0M45 48h0M48 48h0M53 48h1M59 48h0M63 48h2M73 48h0M75 48h0M78 48h0M80 48h0M90 48h1M93 48h1M98 48h3M103 48h1M106 48h0M110 48h0M119 48h0M122 48h0M11 49h0M13 49h1M21 49h0M23 49h0M25 49h0M34 49h0M38 49h0M41 49h0M43 49h0M46 49h1M54 49h0M59 49h1M66 49h1M75 49h2M79 49h1M92 49h2M96 49h0M99 49h0M101 49h0M106 49h0M108 49h1M121 49h1M1 50h0M12 50h0M22 50h0M31 50h0M34 50h1M39 50h0M54 50h0M59 50h0M74 50h0M80 50h0M82 50h0M91 50h0M93 50h0M95 50h0M97 50h4M106 50h0M112 50h0M121 50h0M11 51h2M17 51h0M30 51h1M34 51h1M38 51h2M42 51h0M90 51h0M92 51h0M99 51h0M108 51h0M113 51h0M123 51h0M12 52h0M29 52h2M39 52h0M59 52h1M68 52h1M75 52h0M91 52h1M112 52h0M124 52h0M12 53h1M31 53h0M34 53h2M38 53h1M49 53h0M57 53h1M64 53h0M66 53h1M75 53h0M90 53h0M100 53h0M112 53h1M118 53h1M121 53h2M13 54h0M23 54h0M30 54h0M35 54h0M39 54h0M41 54h1M45 54h0M49 54h0M57 54h1M64 54h1M67 54h1M70 54h0M89 54h0M100 54h0M105 54h1M117 54h2M123 54h0M17 55h0M22 55h1M45 55h0M50 55h0M56 55h1M60 55h0M65 55h2M69 55h2M77 55h0M98 55h2M113 55h0M121 55h5M15 56h0M24 56h3M35 56h1M45 56h0M56 56h0M64 56h1M69 56h0M76 56h3M93 56h0M99 56h1M102 56h0M120 56h0M122 56h0M124 56h3M15 57h2M24 57h3M34 57h2M58 57h1M65 57h0M76 57h3M101 57h1M107 57h0M123 57h0M125 57h2M4 58h2M16 58h0M18 58h2M24 58h2M32 58h0M35 58h0M76 58h0M78 58h0M92 58h1M101 58h0M117 58h1M120 58h0M122 58h1M0 59h0M3 59h1M6 59h5M14 59h0M16 59h2M24 59h0M26 59h0M33 59h3M64 59h0M77 59h2M87 59h4M117 59h1M124 59h1M4 60h2M8 60h1M11 60h0M13 60h3M21 60h0M23 60h2M27 60h0M33 60h0M36 60h1M58 60h0M64 60h0M78 60h1M88 60h2M117 60h0M125 60h1M0 61h2M8 61h0M12 61h2M16 61h0M23 61h2M37 61h0M39 61h0M45 61h0M57 61h0M65 61h0M78 61h2M99 61h0M126 61h0M2 62h0M4 62h0M8 62h0M11 62h0M13 62h0M24 62h0M36 62h2M58 62h1M61 62h0M72 62h1M78 62h2M98 62h0M100 62h0M127 62h0M2 63h2M6 63h2M11 63h1M14 63h0M24 63h0M36 63h3M44 63h0M49 63h0M57 63h0M59 63h0M61 63h0M71 63h0M74 63h0M77 63h2M93 63h0M98 63h0M102 63h1M126 63h0M2 64h0M7 64h0M12 64h1M15 64h0M24 64h1M37 64h1M58 64h0M60 64h0M71 64h0M73 64h0M75 64h3M92 64h2M98 64h2M104 64h0M127 64h0M0 65h1M5 65h0M13 65h2M22 65h0M34 65h0M38 65h0M40 65h0M56 65h0M61 65h3M72 65h0M76 65h3M93 65h2M103 65h0M109 65h0M115 65h2M1 66h1M4 66h0M17 66h0M22 66h2M32 66h0M34 66h0M38 66h0M40 66h0M51 66h1M57 66h0M64 66h1M71 66h0M76 66h4M94 66h0M102 66h1M108 66h2M117 66h0M124 66h0M126 66h1M1 67h0M3 67h1M16 67h0M23 67h1M32 67h0M34 67h0M37 67h1M41 67h0M50 67h1M53 67h0M58 67h0M66 67h0M70 67h0M76 67h5M83 67h0M95 67h0M103 67h0M109 67h1M127 67h0M16 68h0M22 68h2M33 68h1M37 68h1M41 68h0M44 68h1M47 68h2M51 68h1M67 68h2M76 68h2M109 68h0M1 69h0M3 69h0M17 69h1M22 69h0M24 69h0M27 69h0M33 69h0M37 69h1M40 69h5M49 69h0M68 69h1M76 69h0M98 69h0M100 69h0M110 69h1M2 70h0M14 70h4M25 70h3M37 70h0M40 70h1M46 70h2M50 70h1M87 70h0M100 70h1M111 70h0M11 71h0M17 71h3M24 71h4M41 71h1M45 71h0M48 71h3M66 71h2M100 71h0M102 71h0M110 71h0M7 72h0M10 72h2M16 72h0M23 72h0M25 72h1M41 72h0M43 72h1M58 72h0M66 72h1M87 72h0M100 72h1M103 72h0M116 72h1M5 73h2M9 73h3M16 73h0M35 73h4M41 73h0M43 73h0M57 73h2M66 73h0M88 73h0M97 73h0M100 73h4M117 73h0M2 74h0M6 74h1M9 74h1M16 74h0M24 74h0M35 74h3M43 74h2M55 74h1M60 74h0M63 74h1M66 74h1M87 74h0M97 74h0M101 74h0M104 74h0M117 74h0M6 75h0M9 75h0M11 75h0M34 75h1M45 75h0M55 75h0M59 75h1M63 75h1M66 75h0M68 75h0M96 75h1M102 75h1M115 75h0M7 76h0M10 76h0M33 76h0M35 76h0M45 76h0M54 76h1M59 76h0M63 76h1M68 76h1M77 76h1M92 76h0M97 76h0M101 76h1M115 76h0M23 77h0M31 77h0M53 77h2M61 77h1M65 77h1M77 77h1M101 77h1M8 78h0M20 78h1M42 78h0M45 78h0M47 78h0M51 78h0M53 78h1M79 78h0M108 78h2M118 78h2M8 79h0M10 79h0M18 79h1M30 79h2M41 79h0M44 79h1M47 79h0M52 79h0M78 79h0M98 79h2M107 79h1M118 79h0M120 79h0M7 80h1M10 80h0M18 80h1M31 80h0M40 80h0M46 80h0M51 80h0M72 80h1M98 80h1M108 80h0M110 80h0M120 80h1M16 81h1M19 81h1M27 81h0M36 81h0M41 81h1M51 81h2M63 81h0M72 81h2M97 81h1M100 81h0M109 81h1M126 81h1M13 82h1M18 82h1M21 82h0M35 82h0M37 82h1M41 82h0M61 82h0M63 82h2M72 82h0M89 82h0M98 82h0M111 82h2M126 82h0M4 83h0M13 83h1M18 83h1M34 83h0M36 83h0M38 83h0M42 83h1M66 83h0M72 83h0M98 83h1M103 83h0M111 83h4M120 83h3M125 83h0M1 84h0M3 84h0M13 84h3M19 84h1M22 84h0M35 84h1M38 84h0M61 84h0M94 84h1M98 84h0M103 84h0M110 84h2M114 84h0M116 84h2M120 84h0M122 84h2M126 84h0M2 85h2M12 85h0M15 85h0M36 85h1M60 85h0M62 85h0M96 85h2M103 85h1M111 85h0M113 85h0M115 85h1M118 85h0M122 85h4M2 86h3M12 86h1M34 86h0M80 86h0M95 86h0M97 86h1M104 86h0M106 86h1M110 86h1M114 86h1M118 86h1M121 86h4M4 87h0M12 87h0M17 87h0M30 87h4M41 87h0M54 87h1M72 87h0M80 87h1M88 87h0M92 87h1M96 87h5M105 87h2M112 87h1M120 87h3M2 88h2M10 88h1M17 88h0M28 88h0M30 88h0M33 88h1M40 88h0M42 88h0M55 88h0M73 88h0M80 88h2M86 88h4M99 88h1M102 88h0M106 88h0M118 88h0M120 88h0M124 88h1M1 89h2M9 89h0M11 89h0M13 89h0M22 89h1M27 89h2M31 89h0M33 89h2M40 89h3M47 89h0M63 89h2M71 89h2M80 89h1M84 89h0M86 89h0M94 89h0M99 89h1M102 89h0M108 89h0M116 89h0M119 89h0M122 89h5M1 90h1M12 90h0M28 90h4M36 90h1M39 90h2M47 90h2M62 90h3M68 90h0M71 90h3M80 90h0M83 90h1M86 90h0M88 90h1M99 90h2M107 90h2M117 90h2M123 90h0M0 91h1M11 91h3M28 91h2M34 91h1M37 91h0M40 91h0M43 91h0M46 91h0M48 91h1M64 91h4M72 91h2M76 91h0M81 91h1M84 91h0M89 91h0M99 91h0M107 91h0M109 91h0M117 91h0M125 91h0M127 91h0M13 92h0M26 92h0M28 92h0M30 92h2M34 92h2M41 92h1M44 92h0M48 92h0M65 92h1M68 92h1M72 92h3M82 92h1M90 92h0M108 92h1M116 92h2M126 92h1M11 93h0M13 93h0M24 93h0M27 93h1M31 93h2M44 93h3M49 93h1M65 93h0M67 93h3M73 93h0M75 93h2M115 93h1M118 93h0M0 94h0M3 94h1M24 94h1M27 94h1M31 94h0M35 94h0M53 94h1M58 94h0M66 94h0M71 94h1M74 94h0M76 94h0M115 94h2M119 94h0M127 94h0M5 95h0M16 95h0M20 95h0M22 95h0M24 95h1M28 95h0M31 95h0M33 95h0M36 95h0M54 95h2M71 95h4M78 95h0M87 95h2M98 95h1M106 95h0M115 95h4M1 96h0M4 96h0M17 96h1M26 96h0M31 96h1M34 96h3M40 96h0M44 96h0M53 96h1M57 96h1M70 96h1M73 96h0M81 96h1M86 96h3M92 96h1M95 96h0M97 96h0M99 96h0M107 96h4M116 96h0M118 96h1M121 96h0M2 97h3M17 97h1M20 97h2M24 97h0M26 97h0M35 97h1M38 97h1M41 97h0M54 97h0M56 97h0M69 97h0M72 97h1M81 97h0M87 97h1M91 97h3M106 97h0M108 97h1M112 97h0M117 97h0M120 97h1M1 98h0M4 98h2M20 98h2M24 98h1M35 98h3M40 98h0M60 98h0M70 98h1M74 98h0M82 98h0M88 98h0M93 98h1M96 98h0M101 98h0M106 98h2M111 98h0M113 98h2M118 98h1M121 98h0M0 99h0M2 99h0M4 99h0M6 99h0M21 99h0M25 99h1M34 99h0M36 99h0M39 99h1M60 99h0M73 99h0M75 99h0M83 99h1M86 99h2M93 99h0M95 99h3M103 99h0M110 99h1M115 99h1M120 99h0M0 100h2M4 100h0M6 100h0M31 100h1M35 100h0M39 100h1M46 100h3M55 100h0M72 100h0M74 100h0M76 100h0M81 100h1M84 100h2M94 100h0M98 100h0M109 100h1M112 100h1M115 100h1M120 100h0M0 101h1M3 101h3M12 101h0M21 101h0M31 101h0M33 101h0M39 101h1M47 101h2M55 101h0M68 101h0M71 101h1M74 101h3M83 101h2M95 101h2M112 101h2M119 101h0M121 101h0M11 102h1M47 102h0M49 102h0M55 102h1M68 102h0M75 102h1M78 102h0M84 102h1M94 102h1M104 102h0M112 102h0M120 102h0M122 102h0M11 103h0M26 103h0M31 103h1M56 103h1M62 103h1M68 103h0M70 103h6M95 103h0M104 103h1M125 103h0M25 104h1M31 104h2M56 104h0M58 104h0M61 104h2M105 104h0M124 104h1M4 105h2M20 105h0M32 105h2M57 105h2M61 105h0M80 105h1M95 105h1M9 106h1M20 106h0M32 106h1M35 106h0M40 106h0M77 106h0M79 106h0M81 106h0M89 106h0M95 106h0M0 107h0M8 107h0M10 107h2M32 107h1M40 107h1M59 107h0M77 107h2M81 107h1M88 107h1M91 107h1M109 107h0M8 108h6M19 108h0M26 108h0M33 108h1M52 108h0M68 108h1M78 108h4M86 108h2M90 108h2M107 108h3M125 108h1M1 109h0M7 109h0M9 109h0M13 109h0M15 109h0M19 109h0M21 109h0M23 109h1M26 109h1M50 109h2M55 109h0M68 109h0M73 109h0M80 109h2M87 109h0M90 109h0M106 109h0M109 109h0M122 109h0M127 109h0M2 110h4M9 110h0M11 110h1M14 110h1M22 110h0M36 110h0M49 110h4M55 110h0M75 110h4M82 110h1M85 110h1M93 110h0M107 110h0M118 110h2M127 110h0M0 111h0M4 111h0M6 111h0M8 111h6M22 111h0M26 111h1M35 111h1M40 111h0M42 111h0M49 111h1M54 111h2M63 111h0M73 111h3M78 111h3M93 111h1M106 111h0M109 111h0M117 111h2M121 111h1M124 111h0M0 112h1M6 112h0M8 112h1M12 112h0M22 112h0M26 112h3M34 112h2M40 112h3M50 112h0M52 112h0M55 112h0M62 112h1M67 112h0M84 112h2M92 112h2M108 112h1M117 112h1M120 112h0M122 112h1M125 112h0M0 113h1M7 113h1M10 113h1M26 113h0M29 113h0M35 113h1M42 113h0M44 113h2M50 113h0M54 113h0M62 113h0M64 113h0M67 113h1M85 113h0M108 113h2M117 113h0M122 113h1M125 113h2M21 114h0M31 114h1M40 114h1M44 114h1M47 114h0M50 114h0M52 114h0M61 114h2M67 114h0M79 114h1M82 114h0M89 114h0M110 114h0M113 114h2M118 114h1M122 114h2M20 115h1M25 115h0M30 115h0M33 115h0M40 115h0M44 115h3M50 115h2M78 115h2M90 115h0M108 115h0M112 115h0M114 115h0M118 115h3M124 115h1M15 116h1M20 116h0M22 116h0M31 116h1M39 116h1M42 116h2M46 116h0M50 116h0M75 116h0M77 116h0M79 116h3M97 116h2M112 116h0M115 116h0M118 116h1M121 116h0M124 116h0M14 117h0M16 117h0M21 117h2M40 117h0M42 117h3M52 117h2M75 117h0M81 117h0M90 117h0M96 117h2M112 117h2M35 118h0M50 118h0M61 118h1M75 118h2M81 118h0M83 118h0M91 118h0M96 118h0M109 118h0M114 118h1M6 119h1M44 119h0M48 119h1M59 119h0M61 119h2M65 119h0M74 119h3M82 119h0M94 119h0M110 119h1M20 120h1M48 120h0M50 120h0M61 120h5M74 120h2M82 120h0M87 120h0M92 120h0M94 120h0M110 120h0M6 121h1M47 121h2M63 121h0M65 121h1M83 121h0M87 121h2M92 121h1M6 122h1M14 122h1M46 122h0M48 122h1M55 122h1M62 122h2M66 122h0M71 122h0M89 122h1M108 122h0M110 122h1M123 122h1M5 123h0M7 123h0M13 123h3M35 123h0M46 123h0M48 123h1M54 123h2M63 123h0M65 123h2M87 123h0M89 123h0M109 123h2M116 123h1M119 123h5M4 124h3M13 124h1M31 124h2M37 124h0M39 124h2M46 124h1M50 124h0M54 124h0M63 124h2M72 124h1M87 124h0M89 124h0M108 124h1M116 124h3M121 124h0M123 124h1M126 124h1M2 125h1M5 125h1M14 125h1M24 125h4M39 125h2M46 125h0M49 125h0M51 125h0M60 125h0M64 125h3M73 125h0M108 125h3M116 125h0M118 125h0M120 125h1M126 125h1M1 126h2M6 126h0M15 126h1M23 126h1M26 126h0M30 126h2M39 126h0M47 126h3M52 126h1M59 126h0M66 126h0M88 126h0M110 126h0M120 126h2M1 127h0M3 127h0M16 127h0M18 127h1M23 127h0M31 127h2M47 127h0M50 127h1M53 127h0M58 127h0M61 127h1M67 127h0M89 127h0M94 127h0M98 127h0M100 127h0M106 127h1M109 127h1M116 127h1M120 127h0M122 127h0"/></g></svg>
<svg x="249.0" y="169.2" width="149.5" height="149.5" viewBox="0 0 128 128" preserveAspectRatio="none" overflow="hidden">
<g transform="translate(.5 .5)" fill="none" stroke-linecap="round"><path stroke="#46def8" stroke-width="1.22" d="M3 0h0M6 0h0M10 0h2M15 0h0M25 0h1M29 0h4M39 0h1M46 0h0M53 0h2M57 0h0M59 0h1M63 0h1M71 0h0M74 0h0M79 0h0M83 0h0M86 0h1M0 1h1M3 1h2M10 1h0M30 1h2M40 1h0M46 1h0M55 1h0M57 1h6M69 1h0M71 1h0M84 1h0M124 1h0M127 1h0M0 2h0M2 2h2M6 2h1M18 2h0M25 2h2M29 2h2M34 2h1M52 2h0M54 2h2M58 2h0M69 2h1M84 2h1M101 2h1M104 2h3M124 2h3M0 3h1M10 3h1M16 3h0M18 3h2M30 3h0M35 3h1M51 3h0M78 3h1M103 3h0M109 3h0M124 3h1M0 4h0M14 4h0M16 4h2M20 4h0M25 4h0M27 4h0M33 4h0M50 4h1M56 4h0M63 4h0M70 4h0M81 4h0M87 4h0M91 4h0M104 4h0M109 4h0M111 4h0M124 4h0M126 4h0M0 5h0M14 5h0M16 5h4M25 5h0M28 5h4M62 5h0M64 5h0M66 5h1M75 5h0M79 5h1M83 5h2M98 5h0M100 5h0M110 5h0M126 5h1M1 6h0M17 6h0M20 6h0M33 6h0M58 6h0M63 6h1M66 6h1M81 6h0M98 6h3M106 6h0M109 6h1M122 6h0M126 6h0M1 7h0M3 7h1M17 7h0M19 7h0M37 7h1M48 7h0M57 7h0M62 7h2M66 7h1M72 7h0M80 7h0M82 7h0M103 7h0M107 7h3M1 8h0M3 8h0M5 8h1M17 8h2M31 8h0M33 8h0M37 8h0M41 8h0M46 8h0M57 8h0M61 8h5M72 8h1M75 8h0M82 8h0M99 8h0M105 8h0M108 8h0M111 8h0M2 9h1M18 9h0M36 9h0M38 9h1M41 9h0M46 9h0M54 9h0M59 9h0M72 9h1M75 9h0M79 9h0M91 9h0M99 9h2M109 9h1M0 10h3M36 10h1M39 10h0M54 10h0M58 10h0M60 10h5M71 10h1M74 10h0M101 10h0M109 10h0M111 10h0M21 11h0M32 11h1M35 11h1M53 11h1M58 11h1M61 11h1M64 11h0M72 11h2M106 11h1M110 11h0M125 11h1M34 12h1M52 12h2M62 12h0M65 12h1M70 12h3M124 12h1M54 13h1M59 13h6M69 13h3M126 13h0M20 14h1M24 14h1M27 14h0M62 14h3M68 14h0M70 14h1M73 14h0M107 14h0M20 15h0M25 15h1M28 15h0M47 15h0M63 15h0M66 15h0M68 15h0M70 15h2M107 15h0M117 15h0M126 15h1M24 16h1M47 16h0M67 16h1M95 16h2M116 16h2M34 17h0M41 17h1M45 17h0M65 17h0M115 17h0M119 17h0M121 17h0M8 18h0M18 18h0M32 18h0M34 18h0M37 18h0M66 18h0M68 18h0M70 18h1M119 18h7M0 19h0M18 19h0M32 19h0M38 19h1M41 19h4M57 19h2M64 19h1M71 19h0M119 19h0M124 19h1M127 19h0M10 20h0M17 20h1M30 20h1M34 20h0M57 20h0M59 20h0M64 20h1M67 20h0M69 20h0M120 20h2M126 20h1M9 21h0M17 21h0M36 21h0M39 21h3M46 21h0M59 21h0M61 21h0M63 21h0M65 21h0M67 21h0M69 21h0M71 21h0M120 21h7M10 22h0M23 22h0M35 22h0M37 22h5M44 22h0M46 22h0M57 22h1M60 22h2M64 22h1M69 22h0M120 22h0M127 22h0M23 23h0M25 23h0M32 23h0M34 23h0M37 23h0M43 23h3M49 23h0M61 23h0M63 23h0M66 23h0M69 23h2M108 23h0M126 23h0M11 24h0M16 24h0M21 24h0M24 24h0M32 24h0M45 24h1M48 24h2M55 24h0M60 24h2M65 24h1M69 24h0M71 24h0M106 24h2M112 24h0M114 24h0M116 24h1M13 25h0M15 25h0M21 25h2M28 25h4M34 25h0M46 25h1M49 25h0M55 25h0M59 25h3M64 25h0M69 25h0M73 25h0M76 25h0M87 25h0M98 25h0M106 25h1M111 25h1M117 25h0M122 25h1M125 25h0M14 26h1M24 26h0M28 26h0M30 26h0M35 26h0M45 26h1M48 26h0M55 26h1M60 26h2M69 26h0M71 26h0M76 26h0M78 26h0M87 26h0M121 26h0M123 26h1M3 27h0M12 27h0M14 27h0M16 27h0M20 27h0M22 27h0M24 27h0M27 27h0M30 27h4M61 27h2M65 27h0M70 27h1M107 27h0M109 27h0M123 27h2M5 28h0M14 28h0M16 28h0M22 28h1M27 28h0M29 28h1M34 28h1M61 28h0M64 28h0M70 28h2M76 28h1M108 28h0M110 28h1M117 28h1M120 28h2M125 28h0M2 29h4M9 29h0M20 29h0M22 29h0M25 29h2M30 29h0M33 29h0M35 29h0M37 29h0M60 29h2M70 29h0M72 29h0M78 29h3M110 29h0M112 29h0M116 29h0M119 29h2M3 30h4M10 30h0M20 30h0M22 30h2M35 30h6M59 30h1M63 30h0M70 30h1M74 30h4M81 30h0M109 30h1M113 30h4M119 30h0M4 31h1M21 31h0M24 31h1M30 31h0M34 31h0M36 31h0M38 31h1M49 31h0M61 31h0M63 31h0M65 31h0M73 31h2M77 31h0M111 31h1M114 31h0M116 31h0M118 31h4M0 32h0M21 32h0M24 32h0M34 32h2M49 32h0M58 32h0M62 32h3M76 32h2M105 32h0M109 32h5M117 32h4M123 32h0M127 32h0M0 33h0M20 33h2M25 33h0M27 33h1M30 33h0M34 33h2M50 33h0M52 33h1M61 33h1M72 33h1M75 33h4M105 33h0M109 33h0M111 33h0M114 33h1M119 33h8M23 34h2M27 34h0M34 34h3M48 34h0M50 34h0M52 34h0M60 34h4M71 34h1M75 34h0M77 34h0M85 34h0M108 34h0M110 34h0M114 34h0M116 34h0M118 34h1M121 34h6M5 35h1M21 35h0M23 35h0M26 35h0M28 35h1M33 35h3M50 35h0M52 35h0M59 35h0M61 35h0M64 35h0M70 35h0M72 35h0M107 35h0M117 35h4M124 35h0M6 36h0M20 36h0M27 36h0M29 36h0M47 36h0M54 36h0M59 36h3M64 36h0M73 36h1M107 36h0M110 36h0M118 36h6M4 37h0M13 37h0M19 37h2M26 37h3M37 37h0M46 37h0M49 37h0M61 37h0M63 37h0M65 37h0M68 37h0M72 37h0M74 37h0M106 37h0M108 37h0M115 37h0M118 37h0M122 37h1M125 37h0M4 38h0M13 38h0M19 38h0M22 38h2M26 38h2M35 38h0M37 38h0M45 38h0M49 38h0M59 38h0M62 38h0M72 38h1M105 38h0M108 38h0M117 38h0M124 38h0M126 38h0M19 39h1M26 39h1M31 39h0M34 39h0M37 39h1M45 39h1M49 39h0M62 39h0M67 39h0M104 39h0M110 39h0M112 39h1M116 39h2M18 40h0M25 40h0M28 40h0M30 40h0M34 40h0M43 40h2M49 40h0M60 40h0M63 40h0M67 40h0M71 40h0M74 40h0M104 40h0M106 40h0M109 40h3M114 40h0M117 40h1M7 41h0M17 41h0M21 41h0M27 41h0M35 41h0M41 41h0M44 41h1M48 41h1M52 41h0M61 41h3M67 41h0M77 41h1M111 41h0M116 41h2M19 42h2M24 42h0M28 42h2M38 42h1M42 42h0M44 42h0M46 42h1M52 42h0M57 42h1M63 42h0M65 42h0M70 42h2M74 42h0M78 42h0M111 42h1M0 43h1M18 43h2M24 43h1M27 43h0M30 43h0M37 43h3M44 43h0M70 43h2M75 43h1M78 43h0M112 43h0M18 44h2M22 44h0M24 44h0M26 44h1M29 44h1M41 44h2M45 44h0M50 44h0M52 44h1M75 44h0M77 44h0M79 44h0M81 44h0M111 44h0M12 45h0M14 45h0M16 45h1M21 45h1M24 45h1M27 45h0M30 45h1M46 45h0M48 45h1M52 45h1M71 45h0M73 45h0M76 45h1M79 45h1M83 45h1M110 45h0M117 45h2M13 46h1M18 46h1M23 46h1M26 46h2M30 46h1M41 46h2M46 46h6M76 46h0M79 46h4M111 46h0M116 46h1M119 46h0M121 46h1M13 47h0M15 47h2M22 47h1M28 47h0M39 47h0M46 47h2M64 47h0M66 47h0M77 47h4M83 47h0M112 47h0M118 47h0M120 47h4M126 47h0M0 48h0M13 48h0M16 48h0M19 48h0M26 48h0M28 48h1M31 48h0M40 48h0M45 48h0M48 48h0M50 48h1M53 48h1M63 48h2M75 48h0M78 48h0M80 48h0M82 48h0M86 48h0M111 48h1M115 48h2M119 48h5M126 48h0M0 49h0M13 49h0M25 49h1M38 49h0M41 49h0M43 49h1M46 49h1M50 49h0M52 49h0M54 49h0M62 49h0M65 49h0M72 49h0M77 49h0M79 49h1M82 49h0M84 49h0M111 49h0M113 49h3M121 49h3M126 49h1M1 50h0M14 50h0M25 50h0M27 50h2M31 50h0M37 50h2M43 50h1M50 50h2M54 50h0M61 50h0M63 50h0M65 50h0M72 50h0M74 50h0M77 50h0M80 50h0M82 50h0M112 50h0M114 50h5M121 50h0M125 50h2M28 51h0M30 51h1M33 51h2M38 51h2M44 51h0M51 51h0M60 51h0M62 51h0M66 51h0M68 51h0M76 51h3M82 51h1M113 51h0M118 51h0M120 51h0M123 51h2M26 52h0M29 52h3M36 52h0M39 52h0M44 52h1M58 52h2M62 52h0M65 52h0M68 52h3M75 52h0M78 52h1M82 52h1M105 52h0M112 52h0M115 52h0M117 52h0M124 52h2M11 53h0M13 53h0M31 53h0M34 53h2M38 53h1M58 53h0M60 53h1M63 53h1M66 53h0M71 53h0M75 53h6M83 53h0M118 53h4M125 53h1M0 54h0M10 54h0M12 54h1M30 54h0M32 54h1M35 54h0M37 54h0M39 54h0M41 54h0M53 54h0M57 54h1M61 54h1M65 54h0M70 54h0M76 54h1M80 54h4M114 54h1M117 54h0M119 54h0M123 54h0M125 54h0M9 55h0M11 55h2M28 55h0M30 55h0M40 55h2M46 55h0M52 55h0M56 55h1M60 55h0M63 55h0M69 55h0M77 55h0M81 55h0M83 55h2M124 55h2M1 56h0M8 56h3M13 56h2M25 56h0M37 56h0M41 56h2M46 56h0M52 56h0M55 56h1M63 56h0M69 56h0M77 56h1M83 56h0M122 56h0M124 56h3M2 57h0M7 57h0M9 57h0M12 57h0M15 57h1M25 57h2M29 57h1M34 57h1M40 57h3M56 57h0M61 57h2M68 57h1M77 57h3M82 57h0M99 57h2M123 57h0M125 57h2M0 58h0M5 58h5M12 58h1M16 58h0M18 58h1M25 58h1M28 58h1M31 58h0M35 58h0M37 58h0M40 58h0M45 58h1M51 58h0M61 58h0M68 58h1M78 58h0M98 58h0M100 58h1M109 58h2M120 58h0M122 58h1M4 59h0M6 59h6M14 59h0M16 59h0M26 59h0M30 59h1M33 59h4M39 59h1M42 59h0M44 59h0M50 59h1M57 59h0M61 59h0M68 59h2M76 59h0M84 59h1M90 59h1M99 59h1M109 59h0M115 59h0M122 59h3M4 60h0M6 60h3M11 60h0M13 60h1M27 60h0M30 60h3M36 60h2M40 60h2M50 60h0M53 60h0M61 60h0M70 60h0M75 60h1M89 60h1M98 60h2M110 60h0M123 60h0M125 60h0M6 61h2M12 61h0M25 61h0M28 61h0M32 61h5M39 61h3M44 61h0M48 61h1M54 61h0M65 61h4M88 61h0M91 61h0M99 61h0M101 61h0M4 62h0M8 62h0M11 62h0M29 62h3M34 62h0M36 62h2M41 62h0M43 62h0M46 62h0M50 62h0M54 62h0M56 62h0M74 62h2M84 62h1M87 62h0M89 62h3M94 62h0M98 62h0M100 62h1M109 62h3M6 63h0M8 63h0M11 63h1M24 63h0M26 63h0M30 63h3M35 63h1M38 63h2M42 63h0M51 63h0M55 63h0M64 63h0M74 63h0M76 63h0M79 63h1M82 63h1M86 63h0M89 63h0M92 63h0M94 63h0M96 63h0M103 63h0M107 63h0M109 63h3M13 64h0M24 64h1M30 64h0M32 64h2M38 64h0M41 64h0M45 64h0M52 64h1M55 64h0M73 64h0M76 64h2M82 64h1M87 64h0M92 64h3M99 64h1M104 64h0M110 64h1M119 64h1M22 65h0M29 65h0M31 65h4M37 65h1M40 65h0M43 65h3M51 65h0M53 65h1M64 65h0M72 65h0M74 65h0M76 65h3M81 65h0M86 65h1M93 65h1M99 65h1M103 65h0M109 65h0M111 65h0M17 66h0M20 66h0M22 66h0M24 66h0M26 66h0M31 66h1M34 66h0M36 66h0M38 66h0M40 66h0M42 66h4M51 66h1M54 66h0M74 66h0M76 66h6M89 66h0M92 66h0M97 66h0M103 66h0M107 66h0M109 66h1M113 66h0M118 66h2M4 67h0M6 67h0M9 67h1M18 67h1M24 67h0M34 67h4M41 67h1M44 67h4M51 67h0M53 67h1M75 67h1M79 67h0M83 67h0M85 67h4M91 67h0M98 67h0M103 67h0M105 67h0M109 67h1M112 67h0M118 67h2M4 68h4M10 68h1M18 68h6M42 68h2M47 68h1M51 68h4M74 68h2M78 68h0M85 68h1M88 68h0M105 68h0M107 68h1M114 68h0M116 68h0M120 68h0M5 69h2M10 69h0M12 69h0M17 69h1M22 69h0M24 69h0M32 69h0M43 69h1M55 69h0M74 69h0M76 69h0M86 69h0M88 69h0M104 69h0M110 69h1M113 69h2M119 69h1M4 70h1M12 70h0M16 70h1M25 70h0M46 70h2M73 70h0M76 70h0M78 70h0M84 70h0M86 70h0M89 70h0M109 70h0M111 70h0M119 70h0M5 71h1M9 71h0M13 71h0M24 71h2M45 71h1M55 71h1M58 71h0M74 71h0M76 71h1M84 71h1M89 71h0M109 71h1M113 71h0M4 72h0M6 72h0M12 72h0M22 72h1M25 72h0M52 72h4M74 72h0M76 72h4M83 72h1M87 72h0M89 72h0M97 72h0M110 72h0M112 72h0M0 73h0M6 73h1M11 73h1M16 73h0M26 73h0M53 73h0M56 73h0M75 73h1M81 73h4M88 73h0M109 73h0M122 73h1M2 74h0M6 74h1M10 74h0M14 74h0M16 74h0M24 74h1M55 74h1M67 74h0M72 74h1M75 74h0M78 74h0M80 74h0M82 74h3M88 74h1M109 74h1M123 74h0M125 74h0M127 74h0M0 75h0M6 75h0M9 75h0M11 75h0M14 75h1M24 75h1M57 75h0M60 75h0M66 75h0M68 75h0M70 75h0M72 75h0M78 75h1M82 75h2M110 75h0M119 75h1M122 75h0M125 75h1M7 76h1M10 76h3M16 76h0M25 76h0M68 76h1M77 76h6M93 76h0M104 76h0M106 76h0M109 76h0M123 76h0M127 76h0M3 77h0M7 77h0M10 77h0M12 77h1M19 77h0M55 77h2M61 77h0M70 77h1M81 77h0M94 77h0M102 77h1M106 77h1M125 77h1M8 78h0M10 78h2M19 78h1M22 78h0M51 78h0M53 78h1M56 78h0M66 78h0M68 78h0M71 78h1M74 78h1M81 78h3M105 78h0M123 78h2M2 79h0M52 79h0M58 79h0M68 79h0M74 79h0M80 79h0M122 79h1M125 79h2M0 80h0M18 80h1M46 80h0M58 80h0M65 80h1M68 80h1M71 80h0M84 80h1M102 80h0M104 80h0M121 80h2M126 80h1M4 81h0M46 81h1M51 81h2M70 81h0M76 81h0M81 81h0M85 81h0M103 81h1M120 81h0M127 81h0M11 82h0M47 82h0M50 82h0M55 82h0M60 82h0M64 82h0M69 82h0M75 82h0M78 82h0M83 82h0M87 82h0M104 82h0M112 82h0M122 82h2M18 83h0M50 83h0M55 83h0M59 83h0M69 83h2M79 83h1M82 83h1M86 83h1M121 83h0M125 83h0M10 84h0M49 84h0M54 84h1M61 84h0M70 84h1M76 84h0M79 84h3M84 84h0M86 84h1M100 84h0M103 84h0M105 84h0M110 84h0M123 84h1M49 85h1M53 85h1M64 85h3M69 85h0M71 85h1M79 85h1M82 85h0M84 85h0M100 85h0M103 85h1M111 85h0M113 85h0M124 85h1M10 86h2M46 86h0M48 86h0M66 86h1M69 86h1M73 86h0M77 86h5M95 86h0M98 86h0M100 86h0M104 86h0M113 86h0M118 86h1M124 86h1M8 87h0M12 87h0M44 87h1M47 87h0M65 87h0M67 87h1M77 87h0M79 87h0M92 87h1M98 87h4M105 87h0M113 87h2M117 87h0M120 87h0M122 87h0M126 87h1M8 88h0M10 88h1M14 88h0M22 88h0M42 88h1M50 88h1M55 88h0M63 88h6M77 88h0M90 88h0M102 88h0M104 88h1M114 88h0M116 88h0M118 88h0M5 89h0M8 89h1M13 89h0M15 89h1M18 89h0M22 89h0M42 89h1M50 89h0M53 89h0M56 89h0M59 89h0M62 89h3M68 89h0M70 89h0M78 89h0M104 89h1M119 89h0M6 90h3M12 90h0M16 90h0M18 90h0M22 90h0M41 90h0M52 90h0M54 90h3M60 90h0M62 90h0M65 90h0M68 90h0M70 90h0M75 90h0M83 90h0M95 90h0M101 90h1M105 90h0M1 91h1M6 91h1M9 91h0M11 91h2M17 91h1M23 91h0M52 91h1M55 91h1M59 91h0M62 91h0M65 91h3M74 91h0M81 91h0M90 91h0M95 91h0M102 91h2M110 91h0M113 91h0M117 91h0M6 92h1M9 92h0M14 92h0M17 92h0M41 92h1M53 92h6M61 92h2M65 92h1M68 92h1M80 92h0M82 92h1M103 92h0M107 92h0M110 92h0M116 92h1M1 93h1M6 93h2M11 93h0M15 93h1M24 93h0M32 93h0M39 93h1M42 93h0M45 93h2M54 93h3M63 93h0M65 93h0M67 93h3M94 93h0M110 93h0M3 94h2M7 94h0M9 94h0M11 94h1M14 94h0M22 94h0M31 94h0M40 94h1M53 94h3M58 94h0M66 94h0M68 94h0M70 94h2M81 94h0M90 94h0M93 94h0M109 94h0M127 94h0M3 95h0M6 95h2M10 95h0M24 95h0M33 95h0M39 95h2M45 95h3M51 95h0M54 95h4M61 95h0M63 95h0M65 95h1M68 95h0M71 95h1M83 95h0M89 95h0M92 95h0M123 95h0M125 95h2M1 96h0M3 96h0M8 96h0M10 96h1M13 96h0M15 96h0M17 96h0M34 96h3M40 96h0M42 96h1M46 96h0M48 96h0M51 96h3M57 96h0M66 96h3M71 96h0M73 96h0M81 96h2M88 96h1M92 96h1M123 96h0M125 96h0M127 96h0M2 97h4M8 97h2M12 97h1M18 97h0M36 97h0M38 97h1M41 97h0M43 97h0M45 97h0M47 97h0M52 97h2M72 97h1M76 97h1M81 97h0M88 97h0M93 97h0M105 97h1M124 97h2M1 98h0M4 98h3M10 98h0M12 98h0M34 98h4M40 98h2M45 98h0M47 98h0M71 98h0M74 98h3M82 98h0M88 98h0M101 98h0M104 98h0M106 98h0M111 98h0M114 98h0M122 98h0M126 98h1M0 99h0M2 99h0M4 99h0M7 99h1M10 99h0M34 99h0M36 99h0M39 99h6M47 99h1M52 99h0M75 99h2M83 99h1M97 99h1M103 99h3M110 99h1M120 99h0M122 99h0M127 99h0M1 100h1M4 100h0M10 100h2M22 100h0M31 100h1M35 100h0M38 100h2M42 100h0M46 100h0M76 100h1M84 100h1M98 100h1M102 100h0M104 100h0M106 100h0M109 100h1M112 100h1M115 100h1M120 100h0M122 100h2M1 101h0M3 101h3M8 101h0M10 101h2M23 101h0M31 101h0M33 101h0M35 101h1M38 101h2M44 101h0M75 101h1M84 101h2M95 101h4M105 101h1M109 101h5M119 101h0M121 101h0M123 101h0M2 102h1M6 102h1M9 102h3M22 102h1M31 102h0M33 102h2M37 102h1M40 102h0M42 102h1M75 102h1M78 102h8M101 102h3M107 102h3M120 102h0M122 102h1M4 103h0M6 103h0M10 103h2M14 103h0M29 103h0M31 103h1M34 103h0M36 103h2M68 103h0M70 103h0M72 103h4M78 103h0M80 103h0M82 103h0M84 103h0M86 103h1M102 103h0M104 103h2M108 103h1M119 103h0M127 103h0M0 104h0M3 104h0M11 104h1M14 104h1M21 104h0M23 104h0M31 104h2M39 104h0M63 104h0M74 104h1M77 104h0M79 104h0M81 104h2M85 104h0M88 104h0M105 104h1M108 104h0M119 104h0M3 105h2M10 105h0M12 105h1M23 105h0M32 105h0M34 105h0M37 105h0M58 105h0M67 105h0M74 105h0M78 105h3M87 105h1M102 105h0M104 105h0M0 106h2M5 106h0M10 106h2M30 106h0M36 106h0M38 106h0M58 106h0M63 106h0M65 106h0M72 106h0M74 106h5M81 106h0M87 106h3M0 107h3M10 107h2M14 107h0M31 107h1M36 107h0M39 107h0M58 107h1M61 107h0M65 107h1M75 107h0M77 107h2M81 107h2M86 107h0M88 107h1M121 107h0M2 108h0M7 108h1M11 108h1M14 108h0M19 108h0M31 108h0M33 108h1M56 108h0M58 108h0M63 108h3M79 108h4M85 108h2M121 108h2M126 108h0M1 109h1M5 109h2M13 109h0M19 109h0M28 109h2M32 109h5M47 109h1M80 109h2M84 109h1M119 109h4M127 109h0M4 110h2M9 110h0M12 110h0M14 110h1M29 110h3M34 110h1M37 110h0M43 110h0M49 110h0M64 110h0M79 110h0M82 110h1M85 110h0M119 110h1M127 110h0M0 111h0M4 111h0M6 111h0M8 111h7M31 111h1M34 111h2M42 111h1M63 111h1M67 111h0M71 111h0M75 111h1M78 111h4M118 111h1M1 112h0M3 112h0M6 112h0M8 112h1M12 112h0M14 112h1M33 112h3M40 112h3M62 112h1M65 112h0M71 112h0M76 112h5M83 112h3M88 112h0M107 112h0M117 112h0M1 113h0M5 113h0M7 113h1M10 113h1M35 113h1M39 113h0M42 113h0M46 113h0M62 113h0M64 113h0M74 113h0M77 113h1M80 113h0M85 113h2M110 113h0M116 113h1M126 113h0M0 114h2M4 114h1M8 114h1M11 114h2M31 114h1M36 114h1M44 114h1M47 114h0M54 114h0M59 114h0M61 114h4M73 114h2M80 114h0M82 114h1M85 114h0M87 114h0M122 114h0M0 115h2M5 115h2M10 115h3M40 115h0M42 115h0M44 115h1M49 115h1M58 115h2M64 115h1M80 115h0M84 115h0M106 115h2M110 115h0M124 115h0M127 115h0M0 116h1M3 116h1M6 116h0M9 116h2M15 116h1M29 116h0M36 116h0M42 116h2M50 116h0M61 116h0M63 116h0M67 116h0M79 116h3M110 116h1M121 116h0M124 116h0M0 117h2M8 117h6M16 117h2M28 117h1M35 117h1M42 117h4M53 117h1M56 117h0M61 117h1M72 117h0M80 117h1M83 117h0M85 117h0M110 117h0M112 117h0M124 117h2M5 118h1M14 118h0M17 118h1M26 118h0M28 118h1M34 118h0M40 118h2M45 118h1M53 118h2M61 118h1M70 118h0M77 118h1M83 118h0M85 118h2M112 118h0M114 118h1M118 118h1M122 118h0M16 119h0M27 119h0M33 119h1M36 119h0M44 119h0M46 119h0M51 119h0M53 119h1M56 119h0M61 119h2M69 119h0M78 119h0M81 119h1M85 119h2M105 119h0M111 119h1M115 119h0M117 119h0M121 119h2M13 120h0M15 120h0M17 120h1M36 120h1M44 120h0M51 120h1M54 120h0M61 120h1M64 120h3M71 120h1M80 120h0M85 120h2M112 120h0M114 120h1M118 120h2M122 120h0M3 121h0M15 121h0M17 121h1M36 121h0M43 121h1M51 121h1M55 121h0M65 121h3M71 121h1M111 121h0M116 121h6M14 122h1M18 122h0M36 122h0M40 122h0M52 122h1M55 122h0M64 122h0M66 122h0M68 122h0M70 122h2M85 122h1M113 122h2M117 122h1M120 122h0M2 123h0M7 123h2M12 123h5M43 123h1M51 123h0M54 123h0M65 123h2M69 123h0M73 123h0M86 123h1M91 123h0M118 123h5M4 124h3M16 124h1M22 124h0M29 124h0M31 124h0M41 124h0M60 124h0M65 124h0M68 124h0M70 124h0M72 124h0M87 124h0M89 124h1M108 124h0M114 124h5M125 124h2M2 125h0M5 125h1M10 125h0M12 125h3M42 125h0M46 125h0M57 125h0M67 125h0M69 125h0M83 125h0M86 125h0M89 125h0M108 125h0M115 125h0M118 125h0M126 125h1M2 126h1M6 126h0M10 126h0M12 126h4M19 126h0M30 126h2M41 126h2M47 126h0M58 126h0M85 126h1M88 126h1M115 126h0M0 127h1M3 127h0M10 127h2M14 127h0M16 127h0M27 127h1M31 127h1M43 127h0M56 127h0M58 127h0M64 127h1M70 127h0M72 127h1M83 127h1M86 127h0M89 127h0M125 127h1"/><path stroke="#3c88f2" stroke-width="1.22" d="M4 0h0M14 0h0M21 0h0M35 0h0M42 0h0M65 0h1M78 0h0M82 0h0M92 0h0M98 0h1M125 0h2M7 1h0M19 1h1M22 1h0M36 1h0M38 1h0M45 1h0M65 1h1M82 1h1M87 1h0M107 1h0M125 1h1M8 2h1M11 2h0M20 2h0M51 2h0M62 2h0M72 2h0M81 2h0M83 2h0M87 2h0M109 2h0M15 3h0M24 3h0M29 3h0M33 3h0M43 3h0M49 3h0M52 3h0M54 3h0M56 3h0M58 3h0M60 3h0M66 3h0M71 3h0M81 3h0M84 3h0M86 3h1M93 3h2M97 3h1M100 3h2M106 3h1M111 3h0M3 4h1M6 4h0M10 4h2M24 4h0M34 4h4M45 4h1M52 4h0M57 4h0M59 4h0M65 4h0M67 4h0M82 4h2M93 4h0M95 4h0M97 4h0M101 4h0M123 4h0M11 5h0M24 5h0M36 5h0M57 5h0M59 5h0M65 5h0M68 5h0M74 5h0M76 5h0M95 5h0M99 5h0M107 5h0M112 5h0M121 5h1M6 6h0M19 6h0M59 6h0M73 6h6M102 6h2M107 6h0M5 7h0M18 7h0M31 7h0M34 7h1M39 7h0M54 7h0M60 7h0M68 7h0M71 7h0M74 7h0M78 7h0M92 7h1M101 7h0M111 7h0M126 7h0M15 8h1M32 8h0M34 8h0M59 8h1M70 8h1M78 8h0M92 8h0M103 8h0M106 8h0M0 9h0M17 9h0M20 9h0M34 9h0M66 9h0M69 9h1M78 9h0M92 9h0M105 9h0M32 10h0M77 10h2M92 10h0M19 11h0M55 11h0M66 11h0M75 11h0M77 11h0M57 12h0M67 12h2M74 12h2M91 12h0M106 12h2M24 13h0M27 13h0M56 13h1M74 13h1M77 13h0M91 13h0M100 13h0M124 13h0M22 14h0M90 14h0M93 14h0M108 14h0M29 15h0M57 15h1M84 15h0M90 15h0M94 15h0M106 15h0M108 15h0M8 16h0M21 16h0M43 16h0M69 16h0M71 16h1M83 16h1M89 16h0M92 16h1M106 16h0M16 17h0M33 17h0M46 17h0M69 17h0M83 17h0M95 17h0M106 17h0M116 17h0M7 18h0M9 18h0M17 18h0M31 18h0M48 18h2M54 18h0M58 18h0M72 18h0M82 18h0M92 18h0M97 18h0M106 18h0M118 18h0M6 19h0M9 19h0M11 19h0M35 19h0M37 19h0M72 19h0M83 19h1M86 19h0M9 20h0M16 20h0M36 20h3M41 20h1M53 20h1M56 20h0M61 20h0M72 20h0M85 20h0M30 21h0M56 21h0M73 21h0M83 21h0M9 22h0M26 22h0M28 22h0M34 22h0M49 22h0M56 22h0M72 22h0M83 22h0M103 22h0M115 22h0M123 22h0M126 22h0M0 23h0M9 23h0M16 23h0M31 23h0M38 23h0M40 23h2M50 23h0M56 23h0M67 23h1M72 23h0M83 23h1M111 23h1M115 23h1M120 23h2M8 24h1M12 24h0M26 24h0M28 24h2M35 24h0M52 24h0M72 24h0M81 24h0M87 24h0M89 24h0M105 24h0M111 24h0M123 24h1M11 25h0M27 25h0M45 25h0M57 25h1M99 25h0M113 25h0M115 25h1M124 25h0M9 26h1M21 26h0M26 26h0M67 26h0M86 26h0M10 27h0M25 27h1M48 27h0M56 27h1M59 27h0M77 27h1M106 27h0M0 28h2M4 28h0M9 28h1M13 28h0M37 28h0M42 28h0M56 28h0M59 28h0M66 28h0M69 28h0M79 28h2M107 28h0M123 28h0M127 28h0M7 29h1M10 29h0M14 29h0M28 29h0M32 29h0M38 29h2M42 29h1M57 29h2M82 29h0M105 29h0M108 29h0M125 29h0M0 30h0M8 30h0M25 30h2M29 30h0M31 30h1M49 30h1M56 30h0M58 30h0M64 30h1M79 30h0M122 30h0M0 31h0M3 31h0M7 31h0M10 31h0M20 31h0M27 31h0M31 31h0M46 31h0M48 31h0M64 31h0M66 31h0M72 31h0M106 31h0M108 31h0M123 31h0M125 31h0M127 31h0M1 32h1M4 32h0M7 32h0M26 32h3M31 32h0M37 32h0M46 32h0M48 32h0M81 32h1M106 32h0M125 32h1M8 33h0M37 33h0M47 33h0M65 33h0M67 33h0M69 33h1M85 33h0M106 33h0M0 34h0M7 34h1M20 34h0M29 34h0M38 34h0M51 34h0M65 34h0M69 34h1M73 34h0M80 34h0M84 34h0M86 34h1M107 34h0M111 34h0M113 34h0M0 35h0M2 35h0M4 35h0M7 35h0M14 35h0M38 35h0M51 35h0M68 35h0M74 35h0M84 35h0M111 35h0M127 35h0M3 36h0M13 36h0M33 36h0M37 36h0M50 36h0M52 36h0M65 36h0M85 36h0M100 36h0M104 36h0M106 36h0M111 36h0M115 36h0M126 36h1M0 37h1M3 37h0M6 37h0M31 37h0M50 37h0M53 37h0M104 37h0M110 37h0M119 37h0M33 38h0M50 38h0M65 38h0M101 38h0M110 38h0M114 38h0M120 38h1M13 39h0M51 39h0M56 39h0M66 39h0M6 40h0M23 40h0M36 40h2M55 40h0M64 40h2M80 40h0M22 41h0M38 41h0M53 41h0M56 41h0M79 41h0M107 41h0M113 41h2M7 42h1M17 42h0M23 42h0M68 42h0M82 42h0M113 42h0M116 42h1M16 43h1M23 43h0M45 43h2M53 43h0M56 43h0M68 43h1M80 43h3M117 43h0M126 43h0M13 44h3M23 44h0M40 44h0M48 44h0M55 44h0M68 44h0M117 44h0M32 45h0M68 45h0M70 45h0M116 45h0M120 45h0M20 46h0M68 46h1M71 46h0M85 46h0M87 46h0M100 46h0M21 47h0M74 47h1M86 47h0M101 47h0M110 47h0M21 48h0M72 48h0M87 48h0M106 48h0M110 48h0M23 49h0M28 49h0M75 49h1M106 49h0M109 49h0M56 50h0M59 50h0M71 50h0M76 50h0M91 50h0M105 50h1M2 51h0M42 51h0M71 51h0M90 51h0M92 51h0M105 51h0M108 51h0M110 51h0M115 51h1M127 51h0M2 52h0M24 52h0M27 52h0M81 52h0M92 52h0M111 52h0M114 52h0M127 52h0M1 53h0M12 53h0M45 53h0M51 53h0M72 53h1M127 53h0M11 54h0M25 54h1M29 54h0M42 54h0M45 54h0M63 54h1M68 54h0M71 54h0M110 54h0M118 54h0M127 54h0M27 55h0M31 55h1M38 55h1M45 55h0M54 55h0M62 55h0M65 55h1M70 55h0M72 55h2M76 55h0M92 55h0M102 55h0M112 55h2M120 55h0M122 55h0M24 56h0M26 56h1M30 56h1M36 56h0M39 56h0M45 56h0M53 56h0M61 56h0M64 56h0M76 56h0M79 56h0M84 56h1M100 56h0M102 56h0M110 56h1M120 56h0M17 57h0M19 57h0M24 57h0M31 57h0M36 57h0M67 57h0M72 57h1M76 57h0M84 57h0M95 57h0M102 57h0M107 57h0M109 57h0M111 57h1M114 57h0M2 58h0M21 58h0M32 58h0M56 58h0M60 58h0M62 58h0M67 58h0M70 58h0M76 58h0M81 58h0M83 58h1M89 58h0M112 58h1M0 59h3M17 59h1M22 59h0M45 59h0M53 59h1M56 59h0M64 59h0M86 59h3M93 59h0M112 59h1M5 60h0M15 60h1M19 60h0M25 60h0M29 60h0M45 60h0M56 60h0M62 60h0M64 60h0M87 60h1M91 60h1M95 60h0M101 60h0M112 60h0M1 61h1M13 61h1M19 61h0M23 61h1M75 61h0M86 61h0M92 61h0M94 61h0M114 61h0M0 62h0M2 62h0M5 62h0M15 62h0M22 62h0M24 62h0M28 62h0M40 62h0M10 63h0M14 63h0M22 63h0M44 63h0M66 63h0M102 63h0M20 64h1M37 64h0M65 64h1M85 64h0M14 65h1M18 65h0M48 65h1M65 65h0M73 65h0M88 65h1M95 65h0M97 65h1M4 66h1M13 66h0M16 66h0M18 66h0M23 66h0M49 66h1M71 66h0M91 66h0M94 66h0M102 66h0M121 66h0M11 67h1M23 67h0M50 67h0M80 67h1M93 67h0M95 67h1M99 67h0M122 67h0M12 68h0M14 68h0M26 68h0M34 68h4M41 68h0M49 68h0M72 68h0M89 68h0M91 68h1M96 68h0M4 69h0M14 69h0M31 69h0M40 69h0M42 69h0M54 69h0M78 69h0M93 69h1M100 69h0M103 69h0M106 69h2M117 69h0M7 70h0M32 70h0M50 70h2M90 70h0M100 70h0M104 70h1M116 70h1M120 70h0M7 71h1M27 71h0M51 71h1M75 71h0M80 71h0M90 71h0M97 71h1M117 71h0M119 71h0M0 72h0M27 72h0M51 72h0M57 72h1M86 72h0M98 72h0M111 72h0M117 72h0M51 73h0M57 73h0M73 73h1M78 73h1M89 73h1M102 73h0M119 73h0M124 73h0M126 73h0M46 74h0M60 74h0M66 74h0M71 74h0M79 74h0M90 74h0M94 74h0M104 74h0M117 74h0M119 74h0M55 75h1M59 75h0M76 75h0M85 75h0M88 75h0M93 75h0M103 75h0M118 75h0M121 75h0M0 76h1M26 76h0M35 76h0M55 76h0M58 76h1M72 76h0M84 76h0M88 76h0M92 76h0M94 76h0M102 76h0M111 76h0M119 76h1M1 77h0M14 77h0M16 77h2M54 77h0M62 77h0M65 77h1M74 77h4M96 77h0M109 77h0M112 77h0M122 77h0M127 77h0M1 78h0M3 78h0M16 78h0M28 78h0M50 78h0M59 78h1M102 78h0M106 78h0M108 78h2M119 78h2M127 78h0M0 79h0M3 79h1M8 79h0M50 79h0M59 79h0M77 79h1M82 79h1M102 79h0M120 79h1M5 80h0M7 80h1M10 80h0M45 80h0M59 80h0M76 80h0M78 80h0M81 80h0M120 80h0M2 81h1M6 81h0M9 81h1M19 81h1M45 81h0M59 81h1M63 81h0M80 81h0M87 81h1M90 81h1M105 81h2M126 81h0M4 82h1M9 82h1M19 82h0M61 82h0M63 82h0M70 82h1M81 82h0M89 82h0M91 82h0M100 82h1M103 82h0M111 82h0M126 82h0M9 83h0M19 83h0M61 83h2M76 83h0M99 83h0M102 83h1M105 83h0M111 83h2M123 83h0M127 83h0M63 84h0M72 84h0M78 84h0M91 84h1M98 84h1M106 84h2M111 84h1M114 84h0M9 85h0M17 85h2M60 85h0M62 85h0M91 85h1M108 85h0M17 86h0M20 86h0M52 86h0M60 86h1M84 86h0M97 86h0M107 86h0M111 86h0M126 86h1M20 87h2M61 87h0M64 87h0M80 87h1M96 87h1M106 87h0M121 87h0M124 87h1M7 88h0M15 88h0M44 88h0M47 88h1M59 88h1M98 88h2M106 88h0M112 88h0M124 88h1M1 89h0M7 89h0M41 89h0M58 89h0M71 89h0M84 89h0M86 89h0M100 89h0M102 89h0M1 90h1M4 90h0M19 90h0M40 90h0M59 90h0M64 90h0M71 90h0M73 90h1M84 90h0M86 90h0M103 90h1M114 90h0M0 91h0M5 91h0M8 91h0M40 91h0M64 91h0M73 91h0M80 91h0M82 91h0M84 91h0M91 91h0M109 91h0M115 91h0M5 92h0M32 92h0M39 92h0M44 92h0M51 92h0M72 92h0M75 92h0M90 92h0M101 92h1M109 92h0M127 92h0M3 93h1M33 93h0M44 93h0M50 93h0M52 93h0M61 93h1M73 93h0M75 93h0M80 93h0M82 93h0M84 93h0M90 93h0M93 93h0M95 93h0M111 93h0M116 93h0M0 94h0M17 94h1M35 94h0M37 94h1M52 94h0M61 94h1M64 94h0M91 94h0M94 94h0M111 94h0M116 94h0M125 94h1M16 95h2M20 95h0M31 95h0M36 95h0M38 95h0M60 95h0M64 95h0M73 95h0M94 95h0M106 95h0M111 95h1M18 96h0M58 96h0M62 96h0M90 96h0M99 96h0M110 96h1M15 97h0M49 97h0M56 97h0M59 97h0M92 97h0M20 98h2M24 98h1M48 98h0M51 98h2M58 98h0M79 98h1M107 98h0M113 98h0M6 99h0M21 99h2M26 99h0M49 99h0M60 99h0M73 99h0M125 99h0M6 100h0M47 100h3M52 100h0M74 100h0M0 101h0M7 101h0M47 101h0M74 101h0M77 101h0M79 101h1M118 101h0M124 101h0M126 101h1M25 102h0M46 102h0M95 102h0M112 102h0M118 102h0M0 103h1M8 103h0M24 103h0M27 103h0M35 103h0M41 103h0M100 103h0M110 103h0M118 103h0M123 103h0M2 104h0M6 104h1M17 104h0M19 104h0M25 104h0M29 104h0M36 104h0M38 104h0M40 104h0M43 104h0M62 104h0M71 104h0M100 104h0M117 104h0M122 104h2M1 105h0M6 105h3M14 105h3M28 105h0M33 105h0M39 105h0M57 105h0M69 105h0M85 105h0M106 105h1M110 105h0M121 105h0M123 105h1M7 106h1M20 106h0M23 106h0M28 106h0M32 106h1M39 106h0M84 106h0M86 106h0M105 106h0M112 106h0M120 106h0M123 106h1M4 107h1M8 107h0M19 107h0M21 107h0M57 107h0M67 107h0M72 107h0M109 107h1M120 107h0M124 107h0M3 108h0M5 108h1M9 108h1M18 108h0M30 108h0M55 108h0M67 108h0M73 108h0M75 108h0M88 108h0M109 108h0M119 108h1M124 108h1M9 109h0M15 109h0M21 109h0M27 109h0M38 109h0M40 109h0M46 109h0M49 109h0M55 109h0M64 109h2M73 109h0M104 109h0M118 109h0M124 109h1M16 110h0M42 110h0M66 110h1M75 110h3M86 110h0M103 110h0M107 110h0M118 110h0M18 111h0M27 111h0M38 111h0M40 111h0M44 111h0M48 111h1M74 111h0M106 111h0M116 111h0M121 111h1M0 112h0M38 112h0M44 112h0M66 112h1M69 112h0M72 112h1M106 112h0M115 112h0M118 112h0M120 112h0M125 112h0M0 113h0M3 113h1M14 113h2M44 113h1M67 113h1M89 113h0M105 113h0M107 113h2M114 113h0M125 113h0M127 113h0M3 114h0M17 114h0M40 114h0M52 114h0M67 114h0M71 114h0M77 114h0M79 114h0M86 114h0M105 114h1M111 114h0M114 114h1M124 114h0M126 114h1M14 115h0M16 115h1M24 115h0M41 115h0M46 115h0M51 115h1M72 115h1M79 115h0M86 115h1M121 115h0M126 115h0M19 116h0M24 116h0M27 116h1M37 116h0M40 116h0M54 116h1M75 116h0M77 116h0M115 116h0M7 117h0M25 117h2M51 117h1M55 117h0M66 117h0M78 117h1M105 117h1M109 117h0M113 117h1M117 117h0M0 118h4M8 118h1M12 118h0M66 118h0M68 118h0M81 118h0M107 118h0M123 118h2M127 118h0M6 119h1M9 119h0M11 119h1M28 119h0M40 119h3M48 119h1M65 119h0M67 119h0M79 119h0M110 119h0M114 119h0M125 119h0M3 120h0M11 120h0M33 120h0M50 120h0M56 120h0M63 120h0M84 120h0M88 120h0M106 120h1M109 120h0M126 120h1M0 121h1M4 121h0M32 121h0M34 121h0M47 121h2M63 121h0M79 121h0M85 121h0M88 121h0M93 121h0M125 121h2M2 122h0M7 122h0M12 122h0M41 122h1M45 122h1M48 122h2M60 122h0M62 122h1M84 122h0M91 122h0M123 122h0M127 122h0M4 123h1M10 123h1M29 123h0M32 123h0M45 123h1M60 123h0M84 123h0M124 123h0M9 124h0M13 124h0M32 124h0M43 124h0M47 124h0M61 124h1M64 124h0M73 124h0M83 124h1M86 124h0M99 124h0M9 125h0M21 125h0M24 125h0M41 125h0M45 125h0M59 125h0M66 125h0M72 125h0M109 125h2M9 126h0M11 126h0M17 126h1M20 126h0M27 126h0M44 126h1M59 126h0M71 126h1M110 126h0M114 126h0M4 127h0M6 127h1M19 127h1M36 127h0M61 127h1M78 127h0M92 127h0M109 127h1"/><path stroke="#262cd6" stroke-width="1.27" d="M9 0h0M20 0h0M23 0h1M36 0h1M93 0h1M96 0h1M108 0h1M9 1h0M13 1h1M18 1h0M37 1h0M42 1h0M75 1h0M77 1h0M81 1h0M93 1h1M96 1h1M109 1h1M12 2h0M15 2h1M43 2h0M45 2h0M61 2h0M65 2h0M73 2h2M77 2h0M79 2h0M93 2h3M98 2h1M110 2h0M22 3h0M38 3h0M40 3h0M42 3h0M45 3h0M57 3h0M64 3h0M73 3h0M75 3h1M96 3h0M23 4h0M40 4h0M42 4h1M54 4h0M71 4h1M102 4h0M105 4h0M13 5h0M21 5h0M23 5h0M34 5h0M55 5h0M71 5h1M77 5h0M93 5h1M96 5h0M103 5h0M105 5h0M21 6h0M23 6h0M35 6h0M55 6h0M60 6h1M70 6h0M72 6h0M92 6h1M95 6h0M97 6h0M22 7h0M55 7h0M69 7h1M95 7h0M127 7h0M20 8h0M16 9h0M35 9h0M55 9h0M67 9h0M82 9h0M103 9h1M66 10h2M76 10h0M80 10h0M102 10h0M12 11h0M23 11h0M57 11h0M68 11h0M76 11h0M101 11h0M0 12h0M19 12h0M22 12h1M25 12h0M56 12h0M78 12h0M89 12h0M105 12h0M0 13h0M19 13h1M23 13h0M26 13h0M52 13h1M80 13h1M84 13h1M99 13h0M103 13h0M123 13h0M18 14h0M51 14h0M53 14h0M56 14h0M58 14h0M76 14h1M81 14h0M86 14h3M92 14h0M94 14h0M102 14h1M105 14h0M7 15h0M30 15h0M43 15h0M45 15h1M76 15h0M78 15h0M85 15h0M88 15h1M96 15h0M103 15h2M30 16h2M48 16h0M51 16h0M57 16h1M73 16h0M75 16h0M86 16h0M88 16h0M104 16h0M113 16h0M9 17h0M31 17h1M49 17h0M53 17h0M56 17h1M72 17h0M85 17h2M89 17h1M104 17h0M107 17h0M113 17h0M2 18h0M6 18h0M11 18h0M16 18h0M55 18h0M57 18h0M73 18h0M86 18h0M88 18h1M91 18h0M96 18h0M98 18h0M113 18h0M116 18h0M1 19h0M5 19h0M13 19h1M49 19h1M56 19h0M88 19h0M91 19h0M1 20h0M5 20h0M15 20h0M35 20h0M48 20h1M86 20h0M88 20h2M92 20h0M114 20h0M8 21h0M15 21h0M26 21h1M47 21h0M49 21h0M54 21h1M84 21h0M88 21h1M91 21h0M101 21h3M0 22h0M12 22h0M47 22h0M50 22h0M53 22h1M84 22h0M87 22h0M90 22h0M102 22h0M108 22h0M114 22h0M124 22h0M1 23h0M28 23h2M51 23h1M54 23h0M85 23h1M88 23h3M95 23h0M101 23h1M113 23h0M1 24h1M14 24h0M37 24h3M42 24h1M57 24h1M67 24h1M83 24h1M90 24h0M95 24h0M99 24h0M104 24h0M110 24h0M42 25h0M44 25h0M53 25h1M67 25h0M80 25h1M84 25h0M93 25h0M96 25h0M127 25h0M1 26h0M42 26h0M68 26h0M101 26h0M105 26h0M113 26h0M126 26h0M1 27h0M35 27h0M37 27h1M40 27h1M43 27h1M55 27h0M67 27h0M80 27h3M87 27h0M89 27h1M94 27h0M12 28h0M38 28h1M43 28h0M46 28h0M51 28h0M55 28h0M67 28h1M83 28h0M87 28h0M90 28h2M11 29h1M48 29h0M50 29h0M67 29h0M98 29h1M107 29h0M124 29h0M11 30h1M28 30h0M48 30h0M67 30h1M87 30h2M107 30h0M126 30h1M11 31h1M29 31h0M33 31h0M67 31h0M69 31h1M79 31h0M82 31h0M87 31h0M107 31h0M8 32h3M13 32h0M32 32h0M38 32h0M47 32h0M68 32h2M83 32h0M85 32h2M107 32h0M4 33h1M10 33h0M12 33h0M31 33h0M39 33h1M46 33h0M80 33h0M89 33h0M103 33h0M107 33h0M10 34h1M40 34h0M68 34h0M74 34h0M88 34h0M93 34h1M98 34h0M101 34h0M103 34h0M112 34h0M1 35h0M10 35h0M12 35h0M30 35h1M40 35h0M66 35h1M106 35h0M113 35h0M9 36h0M32 36h0M40 36h0M51 36h0M66 36h1M83 36h1M86 36h1M113 36h1M7 37h0M9 37h0M11 37h1M51 37h1M86 37h0M113 37h0M2 38h0M5 38h1M11 38h1M52 38h1M84 38h0M111 38h0M5 39h3M10 39h1M52 39h0M54 39h0M64 39h0M83 39h1M87 39h0M3 40h2M7 40h1M10 40h0M54 40h0M84 40h0M88 40h0M3 41h2M9 41h0M37 41h0M82 41h1M109 41h0M4 42h2M10 42h0M56 42h0M80 42h0M85 42h0M88 42h0M90 42h0M106 42h4M115 42h0M13 43h0M54 43h0M57 43h0M85 43h0M90 43h2M105 43h0M107 43h1M85 44h0M100 44h0M126 44h0M40 45h0M69 45h0M93 45h2M121 45h0M88 46h0M92 46h0M102 46h0M88 47h0M90 47h1M98 47h0M109 47h0M20 48h0M73 48h0M89 48h2M99 48h2M104 48h0M21 49h0M96 49h0M103 49h0M108 49h0M20 50h0M22 50h0M93 50h0M101 50h2M23 51h1M70 51h0M95 51h0M97 51h0M102 51h1M91 52h0M94 52h1M97 52h0M104 52h0M109 52h0M57 53h0M67 53h0M90 53h0M93 53h1M99 53h1M104 53h1M111 53h1M23 54h0M67 54h0M100 54h0M102 54h1M106 54h3M22 55h1M34 55h0M67 55h0M71 55h0M75 55h0M97 55h0M99 55h1M103 55h0M108 55h0M117 55h1M121 55h0M18 56h1M21 56h0M33 56h1M65 56h0M71 56h0M73 56h2M96 56h1M105 56h0M108 56h1M113 56h0M119 56h0M20 57h0M22 57h1M58 57h1M65 57h0M71 57h0M74 57h0M85 57h2M20 58h0M24 58h0M66 58h0M75 58h0M24 59h0M63 59h0M17 60h1M21 60h0M23 60h1M63 60h0M94 60h0M113 60h0M126 60h0M0 61h0M16 61h0M18 61h0M113 61h0M13 62h1M16 62h0M18 62h1M21 62h0M125 62h0M127 62h0M2 63h1M9 63h0M16 63h0M18 63h0M20 63h0M67 63h0M98 63h0M126 63h0M0 64h0M2 64h0M17 64h1M89 64h0M97 64h1M101 64h0M1 65h0M66 65h0M1 66h1M14 66h0M65 66h0M67 66h2M72 66h0M100 66h1M122 66h0M3 67h0M13 67h0M66 67h0M73 67h0M90 67h0M100 67h0M123 67h0M16 68h0M65 68h0M71 68h0M94 68h1M124 68h0M35 69h0M39 69h0M41 69h0M70 69h1M79 69h0M90 69h2M96 69h0M98 69h0M101 69h1M123 69h0M33 70h0M41 70h0M70 70h1M75 70h0M91 70h0M93 70h0M96 70h0M102 70h0M121 70h1M28 71h0M31 71h3M42 71h0M49 71h0M91 71h2M96 71h0M100 71h0M102 71h0M104 71h0M116 71h0M120 71h1M41 72h0M44 72h0M91 72h0M93 72h0M99 72h1M103 72h0M115 72h1M121 72h0M123 72h0M125 72h0M127 72h0M33 73h0M41 73h0M45 73h0M50 73h0M58 73h1M66 73h0M68 73h4M92 73h3M97 73h1M100 73h1M103 73h1M117 73h0M43 74h0M45 74h0M50 74h4M91 74h2M97 74h0M101 74h0M38 75h0M42 75h0M45 75h1M53 75h1M74 75h1M86 75h0M92 75h0M98 75h0M100 75h0M111 75h0M116 75h1M27 76h0M54 76h0M74 76h2M90 76h0M97 76h1M101 76h0M118 76h0M121 76h0M23 77h0M25 77h0M27 77h0M29 77h0M31 77h0M37 77h0M45 77h2M49 77h0M51 77h2M72 77h1M95 77h0M101 77h0M118 77h0M23 78h0M27 78h0M62 78h0M95 78h1M112 78h0M25 79h0M28 79h0M61 79h0M63 79h0M76 79h0M94 79h0M107 79h1M112 79h1M32 80h0M94 80h0M107 80h0M110 80h1M33 81h0M41 81h3M79 81h0M92 81h0M94 81h0M100 81h0M108 81h0M111 81h1M119 81h0M1 82h1M7 82h1M21 82h0M41 82h0M44 82h0M62 82h0M94 82h0M107 82h0M113 82h0M0 83h0M4 83h0M36 83h0M93 83h0M98 83h0M106 83h1M110 83h0M114 83h1M3 84h0M8 84h0M18 84h2M28 84h0M36 84h0M40 84h0M77 84h0M89 84h1M126 84h1M7 85h0M20 85h0M22 85h0M36 85h0M39 85h0M96 85h2M115 85h0M126 85h1M19 86h0M22 86h0M29 86h0M37 86h1M63 86h0M85 86h2M90 86h0M106 86h0M6 87h0M17 87h0M19 87h0M23 87h0M25 87h0M34 87h0M37 87h1M40 87h0M63 87h0M72 87h1M82 87h0M84 87h4M1 88h0M17 88h1M28 88h0M37 88h0M40 88h0M73 88h0M80 88h3M86 88h3M94 88h1M2 89h1M20 89h0M36 89h1M45 89h0M47 89h0M72 89h2M79 89h2M114 89h0M21 90h0M31 90h0M37 90h0M39 90h0M47 90h0M49 90h0M63 90h0M72 90h0M80 90h0M94 90h0M117 90h2M19 91h0M37 91h0M46 91h0M48 91h0M63 91h0M79 91h0M92 91h0M111 91h1M127 91h0M19 92h0M21 92h0M35 92h1M48 92h0M74 92h0M78 92h0M92 92h0M108 92h0M112 92h0M126 92h0M19 93h0M21 93h0M36 93h1M49 93h0M51 93h0M79 93h0M115 93h0M125 93h0M74 94h0M95 94h0M114 94h1M22 95h0M74 95h1M113 95h0M115 95h0M31 96h1M74 96h0M78 96h0M91 96h0M107 96h2M114 96h0M20 97h2M31 97h1M79 97h0M91 97h0M108 97h1M112 97h1M108 98h0M24 99h1M54 99h0M59 99h0M79 99h0M57 100h0M72 100h0M79 100h0M81 100h1M48 101h1M51 101h0M57 101h1M60 101h0M47 102h0M56 102h0M60 102h0M116 102h1M25 103h1M44 103h1M56 103h1M115 103h1M18 104h0M26 104h0M28 104h0M42 104h0M56 104h0M58 104h0M97 104h1M112 104h0M115 104h1M18 105h0M25 105h1M99 105h1M112 105h0M116 105h0M118 105h0M126 105h1M16 106h2M21 106h0M24 106h3M29 106h0M40 106h0M48 106h0M50 106h0M56 106h0M68 106h1M71 106h0M85 106h0M99 106h0M106 106h3M114 106h0M118 106h0M125 106h1M17 107h1M23 107h1M28 107h1M41 107h0M47 107h2M55 107h0M68 107h0M71 107h0M97 107h0M103 107h1M106 107h0M108 107h0M118 107h0M125 107h0M16 108h1M24 108h0M26 108h0M40 108h0M47 108h0M49 108h0M52 108h0M54 108h0M70 108h0M72 108h0M90 108h0M98 108h0M100 108h4M107 108h1M113 108h0M117 108h1M16 109h0M23 109h1M26 109h0M41 109h1M50 109h2M63 109h0M67 109h0M87 109h0M89 109h0M99 109h0M101 109h0M106 109h0M109 109h0M116 109h0M22 110h0M38 110h0M45 110h1M50 110h2M69 110h0M89 110h0M98 110h0M100 110h0M117 110h0M22 111h0M26 111h0M47 111h0M50 111h0M99 111h0M103 111h1M124 111h0M16 112h5M26 112h3M50 112h0M90 112h0M104 112h0M122 112h0M17 113h0M19 113h0M26 113h0M29 113h0M49 113h1M90 113h0M104 113h0M122 113h1M18 114h0M21 114h0M41 114h0M49 114h0M66 114h0M70 114h0M89 114h0M118 114h1M123 114h0M18 115h0M21 115h0M47 115h1M78 115h0M90 115h1M116 115h0M118 115h2M18 116h0M38 116h1M46 116h2M91 116h0M116 116h1M119 116h0M38 117h1M67 117h0M86 117h0M108 117h0M118 117h0M50 118h0M65 118h0M109 118h0M0 119h1M3 119h0M10 119h0M30 119h0M32 119h0M39 119h0M106 119h2M1 120h0M5 120h0M8 120h0M10 120h0M26 120h0M31 120h1M38 120h0M41 120h0M48 120h0M89 120h0M124 120h0M9 121h1M28 121h0M31 121h0M41 121h0M89 121h0M92 121h0M97 121h0M124 121h0M0 122h0M6 122h0M10 122h1M39 122h0M77 122h0M79 122h0M89 122h1M124 122h0M126 122h0M0 123h0M39 123h0M61 123h0M79 123h0M93 123h0M125 123h0M25 124h0M37 124h0M40 124h0M45 124h1M63 124h0M79 124h2M93 124h0M96 124h0M98 124h0M22 125h0M25 125h0M40 125h0M44 125h0M60 125h0M62 125h0M64 125h1M73 125h0M81 125h1M91 125h0M95 125h0M97 125h2M113 125h0M22 126h2M26 126h0M39 126h0M63 126h1M66 126h0M78 126h1M93 126h3M113 126h0M9 127h0M18 127h0M23 127h2M37 127h1M66 127h0M80 127h1M94 127h2M98 127h0"/><path stroke="#1a1a9c" stroke-width="1.32" d="M76 1h0M97 2h0M41 4h0M22 5h0M53 5h1M96 6h0M21 8h0M97 8h0M14 9h0M14 10h0M13 11h0M18 11h0M13 12h0M15 12h3M79 12h0M13 13h1M96 13h0M98 13h0M13 14h2M85 14h0M95 14h0M97 14h3M0 15h0M13 15h0M17 15h0M55 15h0M75 15h0M80 15h0M98 15h1M10 16h0M14 16h1M17 16h0M54 16h1M76 16h2M99 16h0M6 17h0M14 17h0M51 17h0M54 17h1M74 17h0M100 17h1M111 17h0M3 18h1M15 18h0M90 18h0M100 18h0M102 18h0M111 18h1M3 19h1M95 19h1M101 19h0M105 19h0M111 19h2M3 20h1M51 20h0M94 20h0M97 20h1M100 20h2M104 20h0M109 20h2M0 21h2M4 21h2M51 21h1M94 21h1M98 21h0M100 21h0M109 21h1M4 22h0M13 22h2M51 22h0M93 22h0M95 22h3M100 22h0M109 22h4M3 23h1M13 23h0M15 23h0M92 23h1M96 23h0M98 23h0M110 23h0M92 24h1M100 24h0M103 24h0M94 25h1M101 25h3M82 26h0M96 26h0M102 26h0M51 27h0M53 27h0M95 27h2M99 27h2M103 27h0M50 28h0M88 28h1M97 28h0M99 28h0M101 28h1M46 29h0M83 29h0M88 29h0M91 29h6M83 30h0M90 30h3M96 30h0M99 30h1M83 31h0M88 31h1M92 31h4M98 31h0M100 31h1M88 32h0M90 32h1M93 32h0M95 32h4M101 32h0M32 33h0M90 33h0M92 33h1M95 33h0M97 33h1M101 33h0M90 34h1M96 34h1M102 34h0M92 35h0M94 35h1M99 35h0M102 35h0M8 36h0M38 36h1M91 36h2M39 37h0M90 37h0M92 37h2M99 37h0M112 37h0M8 38h0M85 38h0M89 38h2M94 38h0M85 39h0M89 39h0M91 39h1M12 40h1M85 40h0M94 40h1M11 41h0M13 41h0M84 41h0M89 41h0M11 42h1M92 42h0M10 43h1M89 43h0M11 44h0M87 44h0M89 44h1M107 44h0M86 45h1M108 45h0M90 46h0M89 47h0M93 48h0M96 48h0M92 49h1M95 50h0M100 50h0M101 51h0M98 52h0M101 52h1M95 53h0M97 53h1M101 53h2M96 54h0M105 54h0M94 55h0M98 55h0M17 61h0M126 61h0M17 63h0M127 64h0M0 65h0M123 66h1M126 66h1M1 67h0M70 67h0M124 67h0M127 67h0M67 68h3M126 68h0M1 69h0M3 69h0M36 69h0M66 69h3M80 69h1M125 69h0M127 69h0M67 70h0M69 70h0M123 70h1M29 71h0M41 71h0M67 71h0M69 71h1M124 71h1M30 72h0M43 72h0M67 72h0M69 72h0M95 72h0M28 73h0M30 73h2M43 73h0M48 73h0M27 74h0M31 74h0M33 74h0M44 74h0M48 74h0M99 74h0M27 75h0M29 75h0M40 75h1M44 75h0M48 75h0M96 75h1M99 75h0M31 76h1M43 76h2M48 76h1M99 76h0M34 77h1M41 77h0M43 77h0M98 77h1M33 78h4M39 78h0M42 78h0M97 78h0M30 79h4M37 79h4M44 79h0M98 79h2M114 79h0M25 80h0M28 80h3M35 80h0M39 80h1M96 80h0M98 80h1M24 81h0M26 81h1M36 81h0M38 81h1M95 81h3M109 81h1M114 81h0M23 82h0M25 82h0M29 82h0M31 82h0M33 82h0M35 82h0M37 82h2M95 82h0M98 82h0M109 82h1M114 82h1M6 83h1M23 83h1M27 83h0M32 83h2M38 83h0M40 83h0M1 84h0M6 84h1M22 84h2M26 84h1M33 84h0M35 84h0M38 84h0M94 84h1M0 85h4M24 85h4M38 85h0M88 85h0M1 86h5M23 86h1M28 86h0M31 86h1M34 86h0M39 86h0M88 86h0M1 87h1M4 87h0M26 87h7M2 88h0M4 88h0M34 88h0M36 88h0M39 88h0M31 89h0M33 89h2M32 90h0M36 90h0M48 90h0M111 90h0M35 91h0M49 91h0M93 91h0M34 92h0M37 92h0M78 95h0M56 99h0M55 100h1M59 100h0M52 101h0M55 101h0M49 102h0M51 102h1M54 102h1M47 103h2M52 103h1M55 103h0M47 104h0M49 104h1M52 104h2M48 105h0M52 105h0M54 105h1M95 105h0M97 105h0M51 106h2M55 106h0M116 106h0M26 107h0M115 107h2M41 108h0M69 108h0M115 108h0M68 109h0M90 109h0M97 109h0M97 111h0M22 112h0M103 112h0M18 113h0M95 113h1M98 113h1M101 113h0M103 113h0M92 114h4M100 114h1M92 115h0M94 115h0M96 115h0M92 116h0M94 116h5M118 116h0M88 117h0M90 117h1M95 117h2M89 118h0M91 118h0M93 118h0M95 118h1M98 118h1M89 119h1M94 119h1M97 119h0M91 120h1M94 120h1M6 121h0M38 122h0M94 122h3M38 123h0M77 123h1M94 123h0M96 123h0M39 124h0M76 124h0M94 124h1M39 125h0M75 125h0M92 125h2M74 126h1M99 126h0M106 127h1"/><path stroke="#7a1870" stroke-width="1.32" d="M99 33h0M95 38h2M101 38h0M96 39h0M98 39h2M97 40h0M99 40h1M93 41h1M96 41h0M98 41h0M100 41h0M94 42h1M97 42h0M99 42h1M92 43h0M95 43h1M99 43h1M94 44h0M98 44h2M93 45h5M91 46h1M95 46h3M100 46h0M102 46h0M93 47h0M95 47h0M97 47h1M101 47h2M94 48h0M98 48h3M103 48h1M94 49h0M101 49h0M103 49h0M93 50h0M92 51h0"/><path stroke="#f2aa34" stroke-width="1.75" d="M47 0h1M50 0h2M67 0h0M69 0h0M80 0h0M88 0h2M102 0h1M105 0h0M112 0h0M114 0h0M117 0h1M120 0h0M123 0h0M47 1h0M51 1h0M68 1h0M90 1h0M102 1h0M112 1h2M116 1h2M121 1h2M49 2h1M88 2h0M92 2h0M113 2h2M118 2h0M120 2h2M47 3h1M61 3h0M89 3h1M113 3h3M121 3h2M47 4h2M90 4h0M113 4h0M120 4h1M40 5h2M44 5h1M47 5h1M50 5h2M88 5h3M13 6h0M26 6h2M39 6h1M43 6h0M45 6h1M48 6h5M87 6h1M91 6h0M24 7h5M41 7h4M50 7h0M22 8h0M25 8h2M29 8h0M43 8h0M48 8h2M52 8h0M54 8h0M93 8h0M95 8h0M23 9h1M26 9h4M42 9h2M47 9h1M50 9h0M96 9h1M20 10h0M22 10h1M25 10h1M30 10h0M41 10h2M47 10h0M49 10h0M51 10h2M93 10h0M105 10h2M26 11h0M28 11h3M42 11h5M49 11h0M52 11h0M94 11h3M102 11h0M105 11h0M2 12h0M30 12h0M32 12h1M38 12h3M47 12h2M51 12h0M92 12h3M99 12h0M102 12h2M1 13h2M28 13h0M30 13h2M34 13h0M36 13h0M38 13h0M40 13h0M43 13h4M49 13h2M90 13h0M92 13h1M95 13h0M97 13h0M1 14h1M4 14h0M7 14h0M29 14h0M36 14h4M43 14h0M45 14h1M50 14h0M2 15h1M5 15h1M31 15h0M34 15h1M39 15h3M44 15h0M48 15h0M79 15h0M109 15h0M111 15h1M123 15h2M1 16h0M4 16h1M20 16h0M23 16h0M33 16h1M36 16h0M39 16h0M111 16h0M122 16h0M125 16h2M0 17h0M4 17h0M15 17h0M19 17h0M21 17h2M38 17h0M40 17h0M78 17h0M109 17h0M112 17h0M123 17h0M125 17h0M127 17h0M0 18h0M19 18h0M22 18h1M39 18h0M78 18h0M107 18h0M20 19h0M23 19h0M75 19h1M79 19h0M81 19h0M107 19h0M110 19h0M115 19h3M19 20h2M24 20h0M75 20h1M78 20h0M80 20h4M105 20h1M108 20h0M115 20h0M119 20h0M18 21h0M20 21h3M60 21h0M76 21h2M80 21h0M106 21h1M115 21h2M119 21h0M6 22h0M19 22h3M74 22h0M76 22h2M81 22h1M117 22h1M7 23h0M17 23h1M20 23h1M76 23h1M79 23h0M81 23h1M118 23h1M4 24h1M7 24h0M20 24h0M64 24h0M76 24h0M78 24h0M80 24h0M127 24h0M3 25h2M18 25h0M37 25h0M70 25h0M77 25h2M90 25h0M109 25h0M118 25h2M4 26h0M7 26h0M17 26h0M37 26h1M65 26h1M70 26h0M90 26h1M93 26h0M110 26h0M112 26h0M117 26h1M4 27h2M17 27h1M91 27h1M110 27h1M115 27h1M6 28h0M17 28h0M93 28h0M113 28h3M16 29h0M18 29h1M51 29h3M101 29h3M113 29h2M14 30h0M16 30h2M42 30h0M44 30h0M51 30h1M54 30h1M102 30h1M14 31h5M41 31h0M43 31h1M51 31h2M55 31h1M104 31h0M14 32h0M16 32h3M45 32h0M53 32h2M57 32h0M15 33h4M42 33h3M54 33h2M84 33h0M15 34h0M18 34h1M41 34h0M45 34h1M54 34h5M83 34h0M109 34h0M15 35h3M27 35h0M41 35h0M43 35h0M45 35h1M54 35h0M57 35h1M75 35h0M77 35h1M81 35h1M97 35h0M109 35h0M14 36h0M16 36h2M26 36h0M41 36h5M55 36h0M69 36h0M71 36h0M75 36h1M78 36h1M82 36h0M96 36h3M102 36h0M108 36h0M14 37h0M17 37h0M41 37h0M43 37h0M57 37h1M70 37h0M76 37h1M79 37h0M96 37h0M98 37h0M101 37h1M14 38h3M43 38h1M57 38h1M70 38h1M78 38h3M100 38h0M102 38h0M104 38h0M127 38h0M0 39h0M2 39h0M14 39h3M59 39h0M69 39h2M76 39h0M78 39h0M80 39h1M103 39h0M119 39h5M126 39h1M1 40h1M14 40h1M31 40h1M51 40h0M57 40h0M59 40h0M75 40h3M102 40h1M119 40h0M122 40h0M125 40h1M2 41h0M15 41h1M31 41h0M51 41h0M59 41h1M101 41h3M119 41h1M125 41h2M0 42h3M14 42h2M31 42h2M36 42h0M50 42h0M59 42h0M61 42h1M102 42h1M119 42h1M122 42h0M124 42h0M2 43h0M6 43h1M14 43h1M34 43h0M49 43h2M58 43h4M64 43h0M101 43h2M113 43h2M118 43h4M124 43h0M2 44h4M9 44h0M33 44h0M35 44h1M59 44h4M101 44h2M106 44h0M112 44h0M114 44h1M118 44h1M121 44h0M123 44h2M0 45h0M3 45h3M8 45h0M10 45h1M33 45h5M56 45h2M60 45h0M62 45h1M101 45h1M104 45h1M107 45h0M111 45h0M115 45h0M123 45h0M126 45h0M0 46h2M6 46h0M8 46h0M12 46h0M33 46h0M35 46h3M57 46h6M103 46h5M112 46h1M115 46h0M125 46h0M127 46h0M2 47h0M4 47h4M10 47h2M36 47h0M38 47h0M52 47h0M55 47h0M57 47h1M60 47h2M68 47h0M70 47h1M105 47h0M113 47h2M127 47h0M3 48h3M9 48h3M14 48h0M33 48h0M35 48h0M56 48h1M59 48h0M62 48h0M69 48h2M114 48h0M2 49h0M4 49h1M7 49h2M11 49h0M14 49h0M16 49h2M34 49h0M36 49h0M49 49h0M58 49h2M66 49h1M69 49h1M85 49h0M87 49h2M99 49h0M4 50h0M7 50h0M9 50h3M16 50h2M34 50h2M47 50h0M68 50h0M70 50h0M84 50h0M86 50h0M88 50h1M99 50h0M4 51h0M9 51h0M11 51h2M17 51h0M47 51h3M84 51h0M86 51h0M99 51h0M3 52h0M5 52h1M8 52h0M10 52h0M12 52h0M46 52h1M49 52h0M84 52h2M3 53h0M5 53h0M8 53h0M48 53h1M85 53h1M1 54h1M4 54h5M49 54h0M86 54h3M1 55h3M6 55h2M47 55h1M50 55h0M86 55h1M90 55h0M95 55h0M3 56h1M47 56h0M86 56h2M90 56h0M93 56h0M95 56h0M47 57h1M89 57h2M94 57h0M97 57h0M115 57h1M118 57h0M4 58h0M47 58h1M59 58h0M91 58h3M116 58h2M47 59h2M58 59h1M72 59h0M74 59h0M77 59h2M81 59h0M83 59h0M92 59h0M94 59h0M97 59h0M117 59h3M47 60h1M57 60h3M71 60h1M74 60h0M78 60h1M81 60h2M85 60h0M115 60h2M119 60h0M121 60h0M5 61h0M21 61h0M57 61h0M70 61h0M73 61h0M77 61h3M82 61h0M85 61h0M116 61h0M118 61h0M122 61h1M47 62h0M49 62h0M58 62h1M61 62h0M69 62h4M77 62h5M114 62h2M118 62h0M121 62h0M123 62h1M7 63h0M49 63h0M56 63h1M59 63h0M61 63h0M63 63h0M68 63h1M71 63h0M77 63h1M113 63h0M120 63h0M122 63h0M124 63h0M7 64h0M9 64h0M12 64h0M47 64h0M58 64h0M60 64h0M63 64h0M69 64h0M71 64h0M114 64h1M118 64h0M121 64h0M123 64h0M7 65h0M9 65h0M12 65h1M27 65h1M56 65h0M61 65h2M113 65h4M122 65h1M7 66h1M11 66h1M29 66h1M57 66h0M61 66h3M114 66h1M117 66h0M27 67h1M32 67h0M56 67h0M58 67h2M62 67h0M64 67h0M116 67h0M28 68h3M33 68h0M57 68h0M61 68h0M63 68h0M83 68h0M115 68h0M27 69h2M33 69h1M37 69h1M56 69h3M63 69h0M82 69h0M1 70h0M13 70h2M18 70h0M26 70h2M37 70h0M39 70h1M60 70h0M63 70h1M3 71h0M11 71h0M17 71h3M35 71h0M37 71h1M48 71h0M63 71h0M65 71h1M105 71h2M1 72h2M10 72h1M15 72h1M36 72h0M38 72h1M47 72h0M49 72h0M61 72h0M63 72h0M66 72h0M106 72h1M5 73h0M9 73h1M35 73h4M62 73h1M86 73h0M106 73h0M110 73h1M120 73h1M9 74h0M34 74h4M49 74h0M63 74h1M106 74h2M111 74h0M121 74h0M34 75h1M37 75h0M63 75h1M105 75h1M112 75h0M115 75h0M63 76h1M86 76h1M89 76h0M113 76h0M115 76h2M20 77h0M85 77h0M87 77h0M90 77h0M104 77h0M113 77h0M117 77h0M14 78h0M21 78h0M45 78h0M47 78h1M85 78h3M90 78h1M113 78h3M118 78h0M13 79h0M15 79h1M18 79h1M21 79h0M45 79h0M47 79h1M66 79h0M73 79h0M87 79h2M91 79h0M115 79h3M12 80h0M37 80h0M48 80h3M67 80h0M72 80h1M88 80h3M115 80h1M118 80h0M11 81h2M16 81h1M48 81h2M58 81h0M72 81h2M115 81h0M13 82h1M18 82h0M58 82h0M65 82h0M67 82h0M72 82h0M117 82h1M12 83h2M42 83h4M66 83h1M75 83h0M116 83h1M120 83h0M122 83h0M12 84h5M41 84h0M44 84h1M47 84h0M66 84h0M73 84h1M116 84h2M120 84h0M122 84h0M12 85h0M15 85h0M40 85h4M48 85h0M74 85h1M116 85h0M118 85h0M122 85h1M13 86h3M41 86h2M45 86h0M51 86h0M74 86h0M76 86h0M110 86h0M114 86h1M121 86h2M41 87h0M43 87h0M51 87h0M54 87h1M74 87h2M107 87h0M112 87h0M123 87h0M23 88h0M25 88h0M27 88h0M30 88h0M75 88h1M96 88h0M109 88h0M111 88h0M120 88h0M23 89h1M26 89h3M76 89h0M97 89h2M108 89h3M122 89h5M15 90h0M23 90h0M25 90h1M28 90h2M76 90h2M88 90h2M96 90h4M107 90h3M121 90h2M14 91h0M24 91h2M28 91h2M76 91h0M78 91h0M89 91h0M97 91h2M107 91h0M119 91h1M125 91h0M24 92h0M26 92h0M28 92h0M30 92h1M88 92h0M96 92h4M105 92h0M118 92h2M124 92h1M27 93h1M30 93h1M76 93h2M97 93h1M101 93h0M103 93h2M107 93h0M118 93h1M123 93h0M24 94h1M27 94h3M42 94h0M45 94h0M76 94h0M85 94h2M97 94h0M99 94h0M117 94h0M119 94h3M5 95h0M25 95h0M28 95h0M43 95h1M76 95h0M87 95h1M95 95h0M98 95h1M116 95h6M4 96h0M26 96h0M30 96h0M44 96h0M76 96h1M84 96h3M95 96h0M97 96h0M115 96h1M118 96h1M121 96h0M26 97h4M60 97h0M63 97h0M69 97h0M84 97h3M94 97h0M117 97h0M120 97h1M13 98h4M33 98h0M60 98h0M63 98h0M65 98h2M70 98h0M85 98h1M93 98h1M96 98h0M115 98h0M117 98h2M121 98h0M14 99h1M17 99h1M63 99h1M67 99h0M69 99h0M71 99h0M85 99h8M95 99h1M115 99h2M13 100h0M17 100h2M45 100h0M62 100h4M69 100h2M86 100h0M90 100h4M16 101h0M20 101h1M66 101h0M68 101h4M87 101h1M92 101h1M15 102h0M17 102h1M20 102h1M45 102h0M61 102h0M63 102h1M66 102h0M68 102h0M70 102h0M89 102h5M125 102h1M15 103h5M59 103h1M62 103h4M88 103h0M90 103h0M92 103h0M95 103h0M125 103h1M41 104h0M44 104h1M60 104h1M64 104h2M89 104h0M91 104h2M125 104h0M0 105h0M41 105h1M45 105h0M47 105h0M59 105h0M61 105h0M64 105h1M90 105h1M96 105h0M125 105h0M9 106h0M44 106h0M47 106h0M91 106h1M95 106h0M97 106h0M42 107h4M91 107h5M1 108h0M42 108h3M91 108h1M96 108h0M110 108h0M112 108h0M43 109h0M57 109h0M60 109h0M91 109h0M93 109h2M110 109h1M113 109h0M2 110h1M53 110h0M55 110h0M58 110h1M91 110h2M95 110h1M113 110h0M54 111h8M92 111h4M109 111h0M111 111h1M114 111h1M52 112h0M54 112h1M58 112h1M91 112h3M108 112h1M111 112h2M54 113h0M57 113h0M59 113h0M112 113h1M56 114h0M102 114h2M113 114h0M20 115h0M33 115h0M56 115h0M102 115h1M112 115h0M114 115h0M20 116h0M22 116h0M31 116h4M100 116h0M103 116h0M112 116h0M19 117h5M30 117h1M33 117h0M57 117h2M73 117h0M75 117h0M100 117h0M102 117h0M104 117h0M22 118h0M24 118h0M30 118h2M58 118h0M71 118h0M73 118h0M75 118h1M100 118h4M20 119h3M47 119h0M58 119h1M71 119h6M99 119h1M102 119h0M104 119h0M20 120h1M23 120h2M73 120h3M82 120h0M98 120h0M100 120h2M104 120h0M110 120h0M22 121h1M25 121h1M58 121h0M74 121h2M83 121h0M98 121h0M100 121h0M104 121h3M109 121h0M21 122h0M23 122h0M25 122h3M32 122h3M56 122h0M58 122h0M75 122h0M82 122h0M98 122h5M106 122h0M108 122h0M110 122h1M18 123h1M21 123h1M24 123h3M35 123h0M48 123h2M55 123h1M75 123h0M82 123h1M89 123h0M99 123h0M102 123h1M105 123h0M109 123h2M18 124h3M27 124h0M33 124h0M35 124h1M48 124h6M58 124h0M100 124h0M102 124h0M104 124h3M109 124h0M121 124h0M123 124h1M26 125h2M34 125h2M48 125h1M51 125h0M53 125h0M55 125h0M70 125h0M100 125h2M105 125h2M120 125h1M124 125h1M0 126h1M34 126h1M48 126h2M52 126h2M56 126h0M70 126h0M100 126h2M118 126h4M124 126h1M33 127h0M47 127h0M50 127h1M53 127h0M67 127h2M100 127h0M103 127h0M105 127h0M111 127h0M113 127h4M119 127h1M122 127h1"/></g></svg>
<svg x="249.0" y="326.3" width="149.5" height="149.5" viewBox="0 0 128 128" preserveAspectRatio="none" overflow="hidden">
<g transform="translate(.5 .5)" fill="none" stroke-linecap="round"><path stroke="#ff3ac4" stroke-width="1.2" d="M10 0h5M35 0h2M39 0h1M42 0h0M46 0h2M50 0h3M57 0h0M59 0h1M71 0h0M74 0h0M78 0h2M82 0h1M86 0h4M92 0h2M96 0h3M9 1h1M13 1h1M16 1h0M18 1h0M35 1h3M40 1h0M42 1h0M45 1h1M51 1h0M59 1h0M61 1h0M71 1h0M77 1h0M81 1h3M87 1h0M90 1h0M93 1h1M96 1h1M7 2h2M11 2h1M15 2h1M18 2h0M35 2h0M43 2h0M55 2h1M72 2h1M79 2h0M81 2h4M87 2h1M92 2h7M101 2h0M10 3h1M13 3h0M15 3h1M18 3h2M40 3h0M78 3h1M81 3h0M84 3h0M86 3h1M89 3h1M93 3h5M100 3h2M10 4h2M14 4h0M16 4h4M40 4h1M81 4h3M87 4h0M90 4h5M97 4h0M101 4h1M11 5h0M13 5h1M16 5h5M68 5h0M83 5h2M88 5h3M93 5h3M98 5h2M103 5h0M13 6h0M17 6h0M19 6h2M66 6h1M87 6h1M91 6h2M95 6h9M17 7h2M22 7h0M80 7h0M82 7h0M92 7h1M95 7h0M101 7h0M103 7h0M107 7h0M15 8h7M33 8h0M82 8h0M92 8h1M95 8h0M97 8h0M99 8h0M103 8h0M105 8h3M14 9h0M16 9h2M20 9h0M23 9h1M26 9h2M30 9h0M34 9h0M39 9h0M48 9h0M50 9h0M82 9h0M91 9h1M96 9h1M99 9h2M103 9h2M109 9h1M14 10h0M20 10h0M22 10h1M25 10h1M30 10h0M32 10h0M34 10h0M36 10h1M39 10h0M41 10h0M43 10h0M47 10h0M49 10h0M51 10h0M92 10h1M101 10h1M105 10h2M109 10h0M111 10h0M12 11h1M18 11h3M23 11h0M26 11h0M28 11h5M35 11h1M38 11h0M42 11h5M49 11h0M52 11h0M94 11h3M101 11h1M105 11h2M110 11h0M125 11h1M13 12h0M15 12h4M22 12h1M25 12h0M30 12h0M32 12h3M38 12h3M47 12h2M51 12h0M89 12h0M91 12h4M99 12h0M102 12h6M124 12h1M0 13h0M13 13h1M19 13h2M23 13h1M26 13h2M30 13h2M34 13h0M36 13h0M38 13h0M40 13h0M43 13h4M50 13h2M80 13h0M84 13h1M90 13h3M95 13h5M103 13h0M106 13h0M123 13h1M126 13h0M1 14h0M7 14h0M13 14h2M18 14h0M20 14h2M24 14h1M27 14h0M29 14h0M36 14h4M43 14h0M45 14h1M50 14h1M53 14h0M81 14h0M84 14h6M92 14h3M97 14h3M102 14h1M105 14h0M107 14h1M0 15h0M5 15h2M13 15h0M17 15h0M20 15h0M23 15h0M25 15h1M28 15h3M34 15h1M39 15h9M80 15h0M84 15h1M88 15h2M94 15h0M96 15h0M98 15h1M103 15h6M111 15h1M117 15h0M123 15h4M1 16h0M4 16h1M8 16h0M10 16h0M14 16h1M17 16h0M20 16h1M23 16h2M30 16h4M36 16h0M39 16h0M43 16h0M46 16h2M51 16h0M83 16h1M86 16h0M88 16h1M91 16h2M95 16h2M99 16h1M104 16h0M106 16h0M111 16h0M113 16h0M116 16h2M122 16h0M125 16h2M0 17h0M4 17h0M6 17h0M9 17h0M14 17h2M19 17h0M21 17h2M31 17h3M38 17h0M40 17h2M45 17h1M49 17h2M83 17h0M85 17h2M89 17h1M95 17h0M100 17h1M104 17h3M109 17h0M111 17h2M115 17h1M119 17h0M121 17h0M123 17h0M125 17h0M127 17h0M0 18h0M2 18h2M6 18h3M11 18h0M15 18h4M22 18h1M31 18h1M34 18h0M36 18h1M39 18h0M48 18h3M86 18h0M88 18h4M96 18h2M100 18h2M106 18h1M111 18h2M116 18h0M118 18h8M0 19h1M3 19h3M9 19h0M11 19h0M13 19h1M18 19h0M20 19h0M23 19h0M32 19h0M35 19h0M37 19h2M41 19h4M49 19h1M86 19h0M88 19h0M91 19h0M95 19h1M101 19h0M105 19h0M107 19h0M110 19h3M115 19h4M124 19h1M127 19h0M1 20h0M3 20h2M9 20h1M15 20h6M24 20h0M30 20h2M34 20h5M41 20h1M48 20h1M86 20h4M92 20h0M94 20h0M96 20h2M100 20h2M104 20h2M108 20h4M114 20h1M119 20h3M126 20h1M0 21h6M8 21h1M15 21h0M17 21h1M20 21h3M26 21h1M30 21h0M36 21h0M39 21h3M46 21h1M86 21h0M88 21h1M91 21h0M94 21h1M98 21h0M100 21h4M106 21h1M109 21h1M115 21h2M119 21h8M0 22h0M4 22h0M6 22h0M9 22h1M12 22h3M19 22h4M26 22h0M28 22h0M34 22h1M37 22h7M46 22h1M49 22h0M87 22h1M90 22h0M93 22h0M95 22h5M102 22h1M108 22h7M117 22h1M120 22h0M123 22h1M126 22h1M0 23h4M7 23h0M9 23h0M13 23h0M15 23h3M20 23h1M23 23h0M25 23h0M28 23h4M34 23h0M37 23h1M40 23h6M49 23h0M83 23h0M85 23h1M88 23h5M95 23h1M98 23h0M101 23h1M104 23h0M108 23h0M110 23h0M115 23h1M118 23h4M126 23h0M1 24h1M4 24h1M7 24h2M11 24h1M14 24h0M16 24h0M20 24h1M24 24h2M28 24h2M32 24h0M35 24h0M37 24h6M45 24h1M48 24h2M87 24h0M89 24h1M92 24h1M95 24h0M99 24h1M103 24h5M110 24h0M116 24h1M123 24h1M127 24h0M3 25h2M11 25h0M13 25h0M15 25h0M18 25h0M21 25h2M27 25h7M37 25h0M42 25h0M44 25h3M49 25h0M54 25h1M87 25h0M90 25h0M93 25h3M98 25h1M101 25h3M106 25h1M109 25h0M118 25h2M122 25h3M127 25h0M1 26h0M4 26h0M7 26h0M9 26h1M13 26h2M17 26h0M21 26h0M24 26h2M28 26h0M30 26h0M35 26h0M37 26h1M42 26h0M45 26h1M48 26h0M55 26h1M86 26h1M90 26h1M93 26h0M96 26h0M101 26h1M104 26h1M110 26h0M121 26h0M123 26h1M126 26h0M1 27h0M3 27h3M9 27h1M12 27h0M14 27h0M16 27h2M20 27h2M24 27h3M29 27h6M37 27h1M40 27h1M43 27h1M48 27h0M51 27h0M55 27h2M82 27h1M87 27h0M89 27h3M94 27h3M99 27h2M103 27h0M106 27h1M109 27h2M123 27h2M0 28h6M9 28h5M16 28h1M21 28h2M27 28h0M29 28h1M34 28h1M37 28h2M42 28h1M46 28h0M50 28h1M55 28h1M83 28h0M87 28h6M97 28h0M99 28h0M101 28h1M107 28h1M110 28h1M121 28h2M125 28h0M127 28h0M2 29h10M14 29h0M16 29h0M18 29h2M22 29h0M25 29h3M30 29h0M32 29h1M35 29h0M37 29h3M42 29h1M46 29h0M48 29h0M50 29h0M81 29h2M88 29h0M91 29h8M101 29h7M110 29h0M112 29h0M124 29h1M0 30h0M3 30h5M10 30h2M14 30h0M16 30h2M20 30h0M22 30h7M31 30h1M35 30h7M44 30h0M47 30h4M81 30h0M83 30h0M87 30h6M96 30h0M99 30h1M102 30h1M107 30h3M126 30h1M0 31h0M3 31h2M7 31h0M10 31h2M14 31h7M24 31h1M27 31h4M33 31h3M38 31h1M41 31h0M43 31h1M46 31h0M48 31h1M82 31h1M87 31h2M91 31h5M98 31h0M100 31h1M104 31h0M106 31h3M111 31h1M123 31h0M125 31h2M0 32h2M4 32h0M7 32h4M13 32h1M16 32h3M21 32h1M24 32h0M26 32h3M31 32h1M34 32h4M45 32h0M49 32h0M62 32h0M78 32h5M85 32h3M90 32h3M95 32h4M101 32h0M103 32h0M105 32h2M109 32h1M123 32h0M125 32h2M0 33h0M4 33h1M8 33h0M10 33h0M12 33h0M15 33h8M25 33h0M27 33h1M30 33h2M34 33h3M39 33h1M42 33h1M50 33h0M61 33h2M77 33h3M84 33h1M89 33h1M92 33h1M95 33h0M97 33h2M101 33h0M103 33h0M105 33h2M109 33h0M123 33h4M0 34h0M2 34h0M7 34h0M11 34h0M18 34h3M23 34h2M27 34h0M29 34h0M34 34h4M40 34h1M50 34h0M65 34h0M73 34h2M77 34h0M80 34h0M83 34h5M90 34h1M93 34h1M96 34h2M100 34h3M107 34h4M124 34h3M0 35h2M4 35h3M21 35h0M23 35h0M26 35h5M33 35h3M38 35h0M40 35h1M43 35h0M45 35h0M64 35h0M66 35h0M75 35h0M77 35h1M81 35h1M84 35h0M87 35h0M89 35h0M92 35h0M94 35h1M97 35h0M99 35h0M102 35h0M106 35h1M109 35h0M127 35h0M6 36h0M20 36h0M26 36h1M29 36h0M32 36h1M36 36h9M62 36h0M64 36h2M76 36h0M78 36h1M82 36h5M89 36h0M91 36h2M96 36h4M102 36h0M104 36h0M106 36h2M1 37h0M20 37h1M26 37h3M31 37h0M36 37h1M39 37h0M41 37h0M43 37h0M62 37h1M65 37h0M68 37h0M76 37h1M79 37h0M86 37h0M90 37h0M92 37h2M96 37h0M98 37h1M101 37h1M104 37h0M106 37h0M108 37h0M21 38h3M26 38h2M33 38h0M35 38h0M37 38h0M43 38h2M63 38h0M78 38h3M90 38h1M93 38h4M100 38h2M104 38h1M108 38h0M110 38h1M11 39h0M22 39h0M26 39h1M31 39h0M34 39h0M37 39h1M64 39h0M67 39h0M78 39h0M80 39h1M83 39h1M91 39h0M98 39h3M103 39h1M110 39h0M112 39h1M11 40h2M23 40h0M25 40h0M28 40h0M30 40h2M34 40h0M36 40h2M43 40h2M63 40h1M76 40h2M80 40h0M84 40h0M95 40h0M99 40h0M102 40h2M106 40h0M109 40h3M11 41h0M22 41h0M27 41h0M31 41h0M35 41h0M37 41h1M41 41h0M44 41h1M63 41h1M77 41h2M84 41h0M98 41h0M101 41h3M107 41h0M109 41h0M111 41h0M20 42h1M23 42h1M28 42h5M36 42h0M38 42h1M42 42h0M44 42h0M46 42h0M63 42h0M65 42h0M68 42h0M70 42h1M80 42h0M82 42h0M102 42h1M106 42h5M19 43h0M23 43h4M30 43h0M34 43h0M37 43h3M43 43h4M64 43h0M68 43h4M78 43h0M80 43h0M103 43h0M105 43h0M107 43h1M112 43h0M16 44h0M22 44h2M26 44h1M29 44h1M33 44h0M35 44h1M40 44h3M45 44h0M48 44h0M50 44h0M63 44h0M68 44h0M75 44h2M106 44h1M21 45h1M24 45h1M27 45h0M30 45h8M40 45h1M46 45h0M48 45h1M68 45h3M73 45h0M76 45h0M107 45h1M110 45h0M20 46h0M23 46h1M26 46h2M30 46h1M33 46h0M35 46h3M41 46h2M46 46h4M68 46h1M71 46h0M107 46h1M28 47h0M36 47h0M38 47h1M46 47h2M61 47h0M66 47h0M68 47h0M70 47h1M74 47h0M109 47h0M25 48h1M28 48h1M31 48h0M33 48h0M35 48h0M40 48h0M45 48h0M48 48h2M62 48h3M69 48h4M110 48h0M23 49h0M25 49h1M28 49h0M34 49h0M36 49h0M38 49h0M41 49h0M43 49h1M46 49h1M49 49h0M60 49h0M62 49h0M65 49h2M69 49h1M72 49h0M109 49h0M111 49h0M25 50h0M27 50h2M31 50h0M34 50h5M43 50h1M47 50h0M59 50h0M61 50h0M63 50h0M65 50h0M68 50h0M70 50h2M23 51h1M28 51h0M30 51h1M33 51h2M38 51h2M42 51h0M44 51h0M47 51h2M60 51h0M62 51h0M66 51h0M68 51h0M70 51h1M110 51h0M24 52h0M26 52h1M29 52h3M36 52h0M39 52h0M44 52h3M49 52h0M60 52h0M62 52h0M65 52h0M68 52h3M31 53h0M34 53h2M38 53h1M45 53h0M48 53h1M60 53h1M63 53h1M66 53h1M71 53h0M23 54h0M25 54h1M29 54h1M32 54h1M35 54h0M37 54h0M39 54h0M41 54h1M45 54h0M49 54h0M61 54h4M67 54h1M70 54h1M22 55h1M27 55h1M30 55h2M34 55h0M38 55h4M45 55h3M50 55h0M60 55h0M62 55h1M65 55h2M69 55h1M21 56h1M24 56h3M30 56h1M33 56h4M39 56h0M41 56h2M46 56h1M61 56h0M63 56h2M73 56h2M108 56h0M22 57h5M29 57h2M34 57h2M40 57h2M48 57h0M61 57h2M65 57h0M67 57h0M72 57h2M76 57h0M107 57h0M109 57h0M18 58h3M24 58h2M28 58h1M31 58h1M35 58h0M37 58h1M40 58h0M60 58h1M64 58h0M66 58h0M75 58h1M78 58h0M109 58h0M16 59h2M22 59h0M24 59h0M26 59h0M28 59h0M30 59h1M33 59h7M53 59h1M64 59h0M72 59h0M74 59h0M76 59h3M81 59h0M109 59h1M14 60h5M21 60h0M23 60h2M27 60h0M29 60h4M36 60h2M40 60h0M53 60h0M70 60h2M74 60h2M78 60h1M81 60h2M110 60h0M16 61h3M21 61h0M23 61h2M28 61h0M32 61h5M39 61h0M54 61h0M73 61h0M75 61h0M77 61h2M86 61h0M88 61h0M18 62h1M21 62h1M24 62h0M28 62h4M34 62h0M36 62h2M40 62h0M74 62h4M87 62h0M89 62h0M92 62h0M101 62h0M109 62h2M17 63h1M20 63h0M22 63h0M24 63h0M26 63h0M30 63h3M35 63h5M74 63h0M76 63h3M88 63h0M92 63h2M107 63h0M109 63h2M15 64h0M17 64h1M20 64h1M24 64h1M30 64h0M32 64h2M37 64h0M41 64h0M75 64h3M89 64h0M92 64h2M100 64h0M104 64h0M110 64h1M14 65h0M18 65h1M22 65h0M27 65h2M31 65h7M40 65h0M43 65h1M76 65h3M86 65h3M91 65h0M93 65h2M97 65h3M103 65h0M109 65h0M111 65h0M113 65h0M116 65h0M18 66h0M20 66h0M22 66h2M26 66h0M29 66h3M34 66h0M36 66h0M38 66h0M40 66h0M42 66h1M78 66h4M89 66h0M91 66h1M94 66h0M97 66h0M100 66h4M107 66h4M113 66h2M117 66h5M16 67h0M18 67h1M23 67h1M27 67h1M32 67h0M34 67h4M79 67h2M83 67h0M85 67h6M93 67h0M95 67h0M98 67h2M103 67h0M105 67h0M109 67h1M112 67h0M116 67h0M118 67h2M122 67h1M14 68h0M16 68h0M18 68h6M26 68h0M28 68h3M33 68h5M76 68h1M83 68h0M85 68h1M88 68h1M91 68h1M94 68h2M105 68h0M107 68h2M114 68h2M118 68h0M120 68h0M124 68h0M14 69h0M17 69h1M22 69h0M24 69h0M27 69h2M31 69h9M74 69h0M76 69h0M81 69h1M84 69h0M86 69h0M88 69h0M90 69h4M96 69h0M98 69h0M100 69h4M106 69h2M110 69h1M113 69h2M117 69h0M119 69h1M123 69h0M125 69h0M127 69h0M12 70h2M16 70h2M25 70h3M30 70h0M32 70h1M37 70h0M39 70h0M75 70h1M78 70h0M84 70h0M86 70h1M89 70h2M93 70h1M96 70h0M100 70h2M104 70h1M109 70h0M111 70h0M116 70h1M119 70h6M13 71h0M17 71h4M24 71h5M31 71h4M37 71h1M76 71h1M79 71h1M84 71h1M89 71h4M96 71h2M100 71h0M102 71h0M104 71h3M109 71h1M113 71h0M116 71h1M119 71h2M124 71h1M12 72h0M15 72h1M22 72h1M25 72h2M30 72h1M36 72h0M38 72h0M76 72h3M83 72h1M86 72h1M89 72h2M93 72h0M95 72h0M97 72h4M103 72h0M106 72h1M110 72h2M115 72h2M121 72h0M123 72h0M125 72h0M127 72h0M12 73h0M16 73h0M26 73h0M28 73h0M30 73h3M35 73h3M82 73h4M88 73h2M92 73h3M97 73h1M100 73h4M106 73h0M109 73h2M117 73h0M119 73h5M126 73h0M16 74h0M24 74h0M31 74h0M33 74h5M82 74h3M87 74h7M97 74h0M99 74h0M101 74h0M104 74h0M106 74h5M117 74h0M119 74h0M121 74h0M123 74h0M125 74h0M127 74h0M14 75h1M34 75h1M37 75h0M75 75h1M82 75h4M88 75h0M92 75h1M96 75h4M102 75h1M105 75h1M110 75h2M115 75h7M125 75h2M11 76h1M16 76h0M32 76h1M35 76h0M75 76h2M80 76h4M86 76h4M92 76h2M97 76h2M101 76h1M104 76h0M106 76h1M109 76h0M111 76h0M113 76h0M115 76h6M123 76h0M127 76h0M10 77h0M12 77h0M29 77h0M37 77h0M39 77h0M76 77h1M81 77h0M85 77h0M87 77h0M90 77h0M94 77h2M98 77h1M101 77h3M106 77h1M109 77h0M112 77h1M117 77h1M122 77h0M124 77h3M36 78h1M39 78h0M79 78h0M81 78h7M90 78h1M95 78h2M102 78h0M105 78h1M108 78h2M112 78h4M118 78h3M123 78h2M127 78h0M13 79h0M34 79h0M37 79h2M80 79h0M82 79h0M85 79h0M87 79h2M91 79h0M94 79h0M98 79h2M102 79h0M105 79h0M107 79h1M112 79h6M120 79h3M125 79h2M12 80h0M31 80h1M35 80h1M39 80h1M81 80h0M84 80h1M88 80h3M94 80h0M96 80h0M98 80h1M102 80h3M107 80h1M110 80h1M115 80h1M118 80h0M120 80h3M126 80h1M13 81h0M27 81h0M33 81h0M39 81h0M41 81h0M81 81h0M85 81h0M87 81h1M90 81h2M94 81h4M100 81h0M103 81h9M114 81h1M119 81h1M126 81h1M9 82h1M13 82h1M29 82h0M31 82h0M33 82h0M35 82h0M37 82h2M69 82h1M81 82h0M83 82h0M87 82h0M89 82h0M91 82h0M94 82h1M98 82h0M100 82h1M103 82h1M107 82h0M109 82h6M117 82h1M122 82h2M126 82h0M7 83h0M9 83h0M12 83h0M14 83h0M27 83h0M32 83h1M36 83h0M38 83h0M69 83h1M75 83h1M80 83h0M82 83h5M90 83h0M93 83h0M98 83h1M102 83h1M105 83h2M110 83h7M120 83h3M125 83h0M127 83h0M7 84h1M16 84h0M22 84h1M26 84h2M33 84h0M35 84h1M38 84h0M79 84h3M84 84h0M86 84h1M89 84h3M94 84h1M98 84h2M103 84h0M105 84h7M114 84h0M116 84h2M120 84h0M122 84h2M126 84h1M28 85h0M36 85h0M71 85h0M79 85h1M82 85h0M84 85h1M88 85h0M91 85h1M96 85h2M100 85h0M103 85h1M108 85h0M111 85h0M115 85h1M118 85h0M122 85h5M31 86h1M37 86h0M70 86h0M79 86h3M84 86h4M90 86h0M95 86h0M97 86h1M100 86h0M104 86h0M106 86h1M110 86h1M113 86h2M118 86h1M121 86h6M30 87h3M37 87h0M67 87h0M80 87h2M84 87h4M92 87h1M96 87h6M105 87h2M112 87h3M122 87h5M30 88h0M33 88h0M37 88h0M66 88h1M81 88h2M86 88h4M94 88h2M98 88h2M102 88h0M104 88h2M109 88h0M111 88h1M114 88h0M124 88h1M29 89h0M31 89h0M33 89h0M58 89h0M62 89h1M81 89h0M84 89h0M86 89h0M94 89h0M97 89h3M102 89h0M104 89h1M108 89h3M114 89h0M125 89h2M29 90h3M57 90h0M62 90h1M68 90h0M80 90h0M83 90h1M86 90h0M88 90h2M94 90h11M107 90h4M114 90h0M62 91h6M80 91h2M84 91h0M89 91h4M95 91h0M97 91h2M102 91h2M107 91h0M109 91h4M57 92h0M61 92h2M65 92h1M78 92h0M80 92h0M82 92h1M88 92h0M90 92h0M92 92h0M96 92h7M105 92h0M107 92h3M112 92h0M126 92h0M57 93h0M61 93h2M65 93h0M67 93h0M70 93h0M76 93h4M82 93h0M84 93h0M90 93h0M93 93h2M97 93h1M101 93h0M103 93h2M107 93h1M110 93h1M61 94h1M64 94h0M66 94h0M68 94h0M76 94h0M80 94h1M85 94h2M90 94h1M93 94h2M97 94h0M99 94h0M111 94h0M114 94h0M60 95h1M63 95h3M68 95h0M73 95h3M78 95h0M83 95h0M87 95h2M92 95h0M94 95h1M98 95h1M106 95h0M125 95h0M62 96h0M66 96h3M73 96h1M76 96h2M81 96h12M95 96h0M97 96h0M99 96h0M108 96h1M119 96h0M123 96h0M125 96h0M63 97h0M69 97h0M72 97h1M76 97h1M79 97h0M81 97h0M84 97h4M91 97h3M108 97h1M121 97h0M124 97h1M63 98h0M65 98h2M70 98h1M74 98h3M79 98h1M82 98h0M85 98h1M88 98h0M93 98h1M96 98h0M101 98h0M108 98h0M122 98h0M126 98h0M63 99h1M67 99h0M69 99h0M71 99h0M73 99h0M75 99h4M83 99h10M95 99h3M63 100h3M69 100h3M74 100h0M76 100h1M79 100h3M84 100h2M90 100h4M98 100h1M66 101h0M68 101h4M74 101h3M79 101h1M83 101h5M92 101h1M95 101h4M66 102h0M68 102h0M70 102h0M75 102h1M78 102h8M89 102h6M66 103h0M68 103h0M70 103h6M78 103h0M80 103h0M82 103h0M84 103h0M86 103h2M90 103h0M92 103h0M95 103h0M98 103h0M61 104h0M66 104h0M71 104h0M74 104h1M77 104h0M79 104h0M81 104h2M85 104h0M88 104h1M91 104h2M97 104h0M67 105h0M69 105h0M74 105h1M78 105h3M85 105h0M87 105h1M90 105h1M95 105h2M65 106h0M68 106h1M71 106h1M74 106h5M81 106h0M84 106h8M95 106h0M97 106h0M65 107h3M71 107h1M75 107h0M77 107h2M81 107h2M86 107h0M88 107h1M91 107h6M101 107h0M103 107h0M63 108h7M72 108h1M75 108h0M78 108h5M85 108h3M90 108h2M96 108h0M102 108h1M46 109h0M63 109h5M73 109h0M80 109h2M84 109h1M87 109h0M89 109h2M93 109h2M97 109h0M64 110h0M66 110h1M69 110h0M75 110h4M82 110h1M85 110h1M89 110h0M91 110h2M95 110h1M98 110h0M101 110h0M59 111h5M71 111h0M73 111h3M78 111h4M92 111h5M99 111h0M58 112h1M61 112h2M69 112h0M71 112h2M76 112h5M83 112h3M88 112h0M90 112h4M59 113h0M62 113h0M71 113h0M74 113h0M77 113h1M80 113h0M85 113h5M95 113h1M98 113h1M59 114h0M61 114h5M70 114h1M73 114h2M77 114h0M79 114h1M82 114h1M85 114h2M89 114h0M92 114h4M100 114h1M58 115h2M64 115h1M72 115h1M75 115h0M78 115h2M84 115h0M86 115h1M90 115h2M94 115h0M96 115h0M61 116h0M63 116h0M67 116h0M75 116h0M77 116h0M79 116h3M87 116h0M91 116h1M94 116h6M58 117h1M66 117h1M72 117h1M75 117h0M78 117h3M83 117h0M85 117h1M88 117h0M90 117h1M95 117h3M100 117h0M50 118h0M53 118h0M58 118h0M65 118h1M68 118h0M70 118h1M73 118h0M75 118h3M81 118h0M83 118h0M85 118h2M89 118h0M91 118h0M93 118h0M95 118h1M98 118h3M48 119h1M51 119h0M53 119h1M58 119h1M61 119h1M65 119h0M69 119h0M71 119h8M81 119h1M85 119h2M89 119h1M94 119h1M97 119h0M99 119h1M48 120h0M50 120h2M54 120h0M61 120h0M64 120h3M71 120h5M80 120h0M82 120h0M84 120h5M91 120h1M94 120h1M98 120h0M100 120h0M43 121h0M47 121h2M51 121h1M65 121h0M68 121h1M71 121h1M74 121h2M79 121h0M83 121h0M85 121h0M87 121h2M92 121h1M97 121h1M100 121h0M48 122h1M52 122h1M58 122h0M60 122h0M62 122h1M68 122h0M70 122h2M75 122h0M77 122h0M79 122h0M82 122h0M84 122h2M89 122h2M94 122h7M48 123h3M54 123h2M60 123h1M63 123h0M67 123h0M69 123h0M73 123h0M75 123h0M77 123h2M82 123h2M86 123h1M89 123h0M91 123h0M93 123h3M99 123h0M45 124h1M48 124h1M51 124h0M53 124h1M58 124h0M60 124h4M68 124h0M70 124h0M72 124h1M75 124h1M79 124h2M83 124h1M86 124h1M89 124h2M93 124h3M98 124h2M45 125h1M48 125h0M57 125h0M59 125h1M62 125h0M64 125h3M69 125h1M72 125h1M75 125h1M81 125h2M86 125h0M89 125h0M91 125h4M97 125h5M47 126h1M56 126h0M58 126h1M62 126h2M66 126h0M70 126h2M74 126h1M78 126h1M85 126h1M88 126h1M93 126h3M99 126h3M56 127h0M58 127h0M61 127h1M64 127h6M72 127h1M78 127h0M80 127h1M83 127h1M86 127h0M89 127h0M91 127h1M94 127h2M98 127h0M100 127h0"/><path stroke="#8a2ca8" stroke-width="1.2" d="M6 0h0M9 0h0M20 0h0M54 0h1M63 0h3M69 0h0M102 0h1M7 1h0M19 1h1M47 1h0M55 1h0M57 1h1M60 1h0M62 1h1M65 1h1M68 1h1M75 1h1M102 1h0M6 2h0M20 2h0M34 2h0M45 2h0M49 2h3M54 2h0M58 2h0M61 2h1M65 2h0M74 2h1M77 2h0M102 2h0M104 2h0M22 3h0M33 3h0M35 3h1M38 3h0M42 3h1M49 3h0M54 3h2M58 3h0M66 3h0M71 3h2M76 3h0M103 3h0M6 4h0M33 4h3M38 4h0M42 4h1M50 4h0M54 4h0M59 4h0M65 4h0M67 4h0M70 4h2M79 4h0M104 4h1M22 5h2M32 5h0M34 5h0M36 5h0M40 5h2M54 5h1M60 5h0M64 5h3M72 5h0M75 5h2M80 5h0M105 5h0M23 6h0M39 6h1M55 6h0M63 6h1M70 6h0M72 6h0M75 6h0M77 6h2M81 6h0M106 6h1M24 7h0M31 7h0M34 7h0M38 7h1M42 7h1M62 7h0M66 7h6M77 7h1M108 7h0M110 7h0M126 7h1M25 8h2M29 8h0M31 8h1M34 8h0M37 8h0M40 8h1M43 8h0M46 8h0M48 8h2M66 8h1M70 8h3M78 8h0M111 8h0M29 9h0M35 9h1M38 9h0M41 9h3M46 9h1M72 9h1M78 9h1M0 10h0M42 10h0M52 10h1M71 10h1M78 10h2M53 11h0M72 11h0M0 12h0M2 12h0M52 12h1M79 12h0M1 13h2M49 13h0M53 13h0M78 13h0M81 13h0M2 14h0M4 14h0M77 14h0M2 15h1M55 15h0M79 15h0M54 16h1M53 17h1M52 18h0M54 18h0M82 18h0M79 19h0M81 19h0M83 19h1M51 20h0M78 20h0M80 20h5M49 21h0M51 21h0M78 21h0M80 21h0M83 21h1M50 22h1M53 22h1M78 22h0M81 22h3M50 23h2M54 23h0M79 23h0M81 23h1M84 23h0M111 23h2M52 24h0M55 24h0M57 24h1M80 24h1M83 24h1M111 24h1M114 24h0M53 25h0M57 25h1M84 25h0M111 25h0M115 25h2M82 26h0M118 26h0M53 27h0M78 27h0M81 27h0M59 28h0M80 28h1M113 28h0M120 28h0M51 29h3M57 29h1M60 29h1M80 29h0M113 29h0M120 29h1M52 30h0M54 30h1M63 30h0M79 30h0M113 30h1M122 30h0M51 31h2M55 31h0M61 31h0M63 31h1M77 31h3M114 31h0M121 31h1M46 32h2M53 32h0M60 32h0M63 32h4M76 32h1M111 32h2M121 32h0M44 33h4M52 33h0M65 33h0M67 33h0M72 33h1M75 33h1M111 33h0M122 33h0M8 34h2M15 34h0M45 34h1M48 34h0M51 34h1M60 34h4M68 34h1M72 34h0M112 34h1M123 34h0M10 35h0M12 35h0M14 35h4M46 35h0M50 35h0M61 35h0M67 35h1M70 35h0M72 35h0M74 35h0M111 35h0M113 35h0M124 35h0M3 36h0M8 36h1M13 36h0M17 36h1M46 36h1M61 36h0M67 36h2M71 36h0M74 36h1M110 36h0M113 36h1M119 36h1M122 36h2M126 36h1M0 37h0M3 37h1M6 37h1M9 37h0M11 37h2M17 37h0M19 37h0M46 37h0M70 37h0M72 37h0M74 37h0M110 37h0M112 37h1M118 37h1M123 37h0M2 38h0M4 38h2M10 38h2M19 38h0M62 38h0M65 38h0M73 38h0M84 38h1M89 38h0M114 38h0M117 38h0M0 39h0M2 39h0M10 39h0M13 39h1M19 39h1M45 39h1M62 39h0M65 39h1M69 39h0M76 39h0M85 39h0M87 39h0M89 39h0M92 39h0M96 39h0M115 39h0M127 39h0M1 40h0M10 40h0M14 40h0M61 40h1M65 40h2M71 40h0M74 40h1M85 40h0M87 40h1M94 40h0M97 40h0M100 40h0M114 40h0M13 41h0M15 41h1M21 41h0M48 41h1M61 41h1M67 41h0M82 41h1M93 41h1M96 41h0M100 41h0M113 41h2M0 42h1M10 42h2M14 42h3M19 42h0M47 42h1M50 42h0M61 42h1M72 42h2M78 42h0M88 42h0M95 42h0M97 42h0M99 42h1M112 42h1M115 42h0M0 43h0M12 43h0M15 43h3M20 43h0M49 43h1M60 43h2M75 43h1M81 43h1M96 43h0M99 43h3M127 43h0M15 44h0M18 44h2M52 44h0M61 44h1M79 44h0M81 44h0M100 44h3M111 44h1M16 45h1M52 45h0M62 45h1M77 45h3M105 45h0M111 45h0M115 45h0M19 46h0M51 46h1M61 46h2M76 46h1M79 46h0M105 46h1M113 46h0M21 47h2M52 47h0M60 47h0M62 47h0M64 47h0M75 47h0M77 47h0M110 47h0M51 48h0M75 48h0M106 48h0M111 48h0M50 49h0M59 49h0M75 49h1M106 49h0M108 49h0M22 50h0M50 50h1M74 50h0M76 50h0M112 50h0M50 51h1M76 51h0M108 51h0M58 52h1M75 52h0M109 52h0M111 52h0M114 52h1M51 53h0M58 53h0M72 53h1M75 53h1M107 53h0M111 53h0M11 54h2M74 54h0M76 54h1M106 54h4M11 55h1M52 55h0M71 55h6M108 55h0M18 56h1M45 56h0M52 56h1M69 56h0M71 56h0M76 56h3M105 56h0M109 56h1M16 57h1M19 57h1M43 57h0M47 57h0M53 57h0M58 57h1M68 57h1M71 57h0M77 57h3M102 57h0M111 57h0M16 58h0M43 58h0M48 58h0M51 58h0M55 58h0M59 58h0M62 58h0M67 58h3M81 58h0M83 58h1M100 58h1M110 58h2M14 59h0M42 59h0M44 59h1M48 59h3M56 59h3M61 59h0M63 59h0M68 59h2M83 59h6M91 59h3M99 59h1M112 59h0M13 60h0M41 60h1M47 60h1M50 60h0M56 60h8M85 60h0M87 60h5M94 60h1M98 60h3M112 60h0M14 61h0M40 61h2M44 61h1M48 61h1M65 61h2M70 61h0M80 61h0M82 61h0M85 61h0M91 61h1M94 61h0M99 61h0M101 61h0M118 61h0M11 62h0M13 62h3M41 62h0M43 62h0M46 62h1M49 62h1M54 62h0M71 62h2M79 62h2M84 62h1M90 62h1M94 62h0M98 62h0M100 62h0M118 62h0M121 62h0M12 63h0M14 63h0M16 63h0M42 63h0M44 63h0M49 63h0M51 63h0M80 63h0M82 63h0M86 63h0M89 63h0M96 63h0M98 63h0M102 63h1M112 63h0M120 63h0M122 63h0M12 64h1M38 64h0M45 64h0M73 64h0M82 64h0M85 64h0M87 64h0M91 64h0M95 64h0M97 64h2M101 64h0M112 64h0M114 64h1M118 64h3M123 64h0M12 65h1M15 65h0M45 65h0M74 65h0M81 65h0M114 65h1M117 65h0M122 65h1M8 66h0M11 66h6M44 66h1M74 66h0M76 66h1M123 66h1M1 67h0M3 67h0M8 67h0M11 67h3M41 67h1M44 67h0M73 67h0M75 67h3M96 67h0M124 67h0M126 67h1M12 68h0M41 68h0M74 68h1M78 68h0M126 68h0M1 69h0M11 69h1M41 69h0M78 69h2M1 70h0M15 70h0M40 70h1M72 70h2M11 71h0M75 71h0M11 72h0M39 72h0M74 72h0M80 72h0M10 73h1M39 73h0M41 73h0M72 73h4M78 73h1M81 73h0M9 74h1M14 74h0M25 74h0M27 74h0M29 74h0M71 74h0M73 74h2M78 74h2M9 75h0M11 75h0M24 75h0M27 75h0M29 75h0M38 75h0M40 75h2M44 75h0M74 75h0M78 75h1M7 76h1M10 76h0M13 76h0M25 76h2M31 76h0M43 76h1M72 76h0M74 76h0M78 76h1M13 77h1M16 77h3M27 77h0M31 77h0M34 77h1M41 77h0M43 77h0M71 77h4M78 77h0M10 78h2M14 78h0M16 78h0M27 78h1M33 78h2M72 78h0M74 78h1M10 79h0M15 79h1M18 79h1M21 79h0M25 79h0M28 79h0M30 79h3M40 79h1M44 79h0M66 79h0M68 79h0M76 79h2M83 79h0M10 80h0M18 80h1M23 80h0M25 80h0M28 80h2M37 80h0M65 80h2M69 80h0M76 80h0M78 80h0M2 81h2M8 81h4M16 81h1M19 81h1M24 81h0M26 81h0M36 81h0M38 81h0M42 81h2M70 81h0M78 81h2M4 82h1M7 82h1M11 82h0M18 82h1M21 82h0M23 82h0M25 82h0M41 82h0M65 82h0M67 82h0M71 82h0M75 82h0M4 83h0M6 83h0M13 83h0M18 83h1M23 83h1M34 83h0M40 83h0M42 83h0M67 83h0M71 83h1M79 83h0M6 84h0M10 84h0M12 84h3M17 84h3M24 84h0M70 84h4M76 84h2M0 85h2M7 85h0M9 85h0M12 85h0M15 85h0M17 85h3M22 85h0M24 85h3M37 85h3M55 85h0M64 85h1M67 85h0M69 85h0M72 85h3M113 85h0M16 86h1M19 86h1M22 86h1M28 86h1M34 86h0M38 86h1M52 86h0M66 86h1M69 86h0M73 86h1M77 86h1M27 87h2M34 87h0M38 87h0M55 87h0M68 87h0M72 87h0M74 87h3M79 87h0M117 87h0M120 87h1M1 88h0M27 88h1M34 88h0M36 88h0M39 88h0M48 88h0M59 88h0M63 88h0M65 88h0M68 88h2M73 88h0M75 88h2M80 88h0M116 88h0M118 88h0M1 89h0M28 89h0M34 89h0M36 89h1M40 89h0M50 89h0M56 89h0M59 89h0M64 89h1M68 89h0M70 89h0M76 89h0M78 89h2M116 89h0M119 89h0M124 89h0M1 90h0M28 90h0M36 90h1M47 90h2M52 90h0M55 90h1M59 90h1M64 90h1M70 90h0M75 90h3M117 90h2M0 91h0M29 91h1M34 91h1M37 91h0M46 91h0M49 91h0M55 91h2M59 91h0M72 91h0M76 91h0M78 91h1M115 91h0M117 91h0M119 91h0M125 91h0M127 91h0M30 92h2M34 92h0M44 92h0M55 92h1M58 92h1M68 92h1M72 92h0M75 92h0M116 92h2M125 92h0M127 92h0M1 93h0M30 93h3M44 93h1M51 93h1M54 93h2M68 93h1M75 93h0M115 93h1M118 93h0M123 93h2M0 94h0M52 94h4M58 94h0M70 94h2M74 94h0M109 94h0M115 94h2M119 94h0M125 94h2M57 95h2M71 95h1M111 95h2M117 95h6M126 95h1M70 96h1M107 96h0M110 96h1M118 96h0M121 96h0M127 96h0M59 97h1M105 97h1M120 97h0M126 97h0M58 98h0M104 98h0M106 98h1M111 98h0M113 98h0M119 98h0M121 98h0M127 98h0M106 99h0M110 99h1M120 99h0M122 99h0M125 99h0M127 99h0M62 100h0M109 100h1M120 100h0M57 101h1M60 101h0M110 101h0M127 101h0M54 102h2M60 102h1M64 102h0M60 103h0M62 103h0M64 103h1M58 104h0M60 104h0M62 104h0M65 104h0M98 104h0M100 104h0M106 104h0M59 105h0M61 105h0M64 105h1M99 105h1M102 105h0M104 105h0M106 105h0M63 106h0M98 106h0M105 106h1M46 107h1M59 107h0M61 107h0M98 107h0M100 107h0M104 107h0M106 107h0M45 108h0M47 108h1M98 108h0M100 108h1M104 108h0M43 109h0M47 109h4M60 109h0M99 109h0M101 109h0M104 109h1M45 110h1M49 110h2M59 110h0M100 110h0M103 110h0M40 111h0M57 111h1M67 111h0M103 111h0M40 112h1M65 112h0M67 112h0M103 112h0M57 113h0M64 113h0M67 113h1M101 113h0M103 113h1M67 114h0M102 114h2M102 115h1M36 116h0M42 116h0M50 116h0M54 116h1M103 116h0M42 117h0M51 117h6M61 117h1M102 117h0M54 118h1M61 118h1M102 118h1M43 119h1M46 119h1M56 119h0M63 119h0M67 119h0M102 119h0M44 120h0M56 120h0M62 120h1M101 120h1M41 121h0M44 121h0M55 121h0M58 121h0M63 121h0M66 121h1M40 122h2M45 122h1M50 122h0M55 122h1M64 122h0M66 122h0M102 122h1M44 123h2M65 123h1M102 123h1M7 124h0M27 124h0M47 124h0M50 124h0M52 124h0M65 124h0M102 124h0M12 125h0M22 125h0M26 125h2M44 125h0M49 125h0M51 125h0M53 125h0M55 125h0M6 126h0M15 126h0M17 126h0M22 126h0M27 126h0M44 126h1M49 126h1M52 126h2M6 127h1M11 127h0M14 127h0M16 127h0M18 127h0M20 127h0M36 127h2M43 127h0M47 127h0M50 127h1M53 127h0M103 127h0M105 127h1"/><path stroke="#2a1498" stroke-width="1.3" d="M3 0h1M21 0h0M33 0h0M67 0h0M105 0h1M0 1h0M5 1h0M22 1h0M32 1h0M64 1h0M106 1h0M4 2h0M69 2h1M105 2h2M45 3h0M51 3h1M57 3h0M60 3h1M75 3h0M106 3h1M23 4h0M37 4h0M49 4h0M51 4h1M56 4h0M108 4h1M126 4h0M25 5h0M28 5h3M37 5h0M50 5h0M53 5h0M57 5h0M59 5h0M62 5h0M71 5h0M74 5h0M79 5h0M107 5h0M112 5h0M122 5h0M126 5h1M26 6h3M33 6h0M35 6h0M43 6h0M50 6h0M53 6h0M58 6h3M73 6h1M76 6h0M109 6h1M122 6h0M126 6h0M25 7h4M35 7h0M37 7h0M41 7h0M44 7h0M48 7h0M54 7h0M57 7h0M63 7h1M74 7h0M109 7h0M111 7h0M52 8h0M54 8h0M62 8h0M65 8h0M75 8h0M3 9h0M54 9h0M56 9h0M66 9h1M69 9h1M75 9h0M1 10h2M54 10h0M65 10h3M74 10h0M54 11h0M73 11h1M54 12h0M71 12h1M74 12h0M78 12h0M54 13h0M72 13h0M76 14h0M76 15h0M78 15h0M55 17h1M53 20h0M52 21h1M77 21h0M76 22h1M56 23h0M76 23h1M78 24h0M113 24h0M59 25h0M79 25h2M112 25h0M78 26h0M112 26h0M117 26h0M59 27h0M77 27h0M80 27h0M115 27h1M61 28h0M76 28h1M79 28h0M114 28h0M59 29h0M62 29h0M79 29h0M114 29h3M119 29h0M56 30h0M58 30h2M64 30h1M76 30h2M115 30h2M119 30h0M56 31h0M65 31h2M116 31h0M119 31h1M54 32h1M57 32h2M68 32h1M114 32h0M118 32h2M53 33h1M59 33h0M69 33h1M114 33h0M119 33h2M55 34h1M70 34h1M114 34h0M119 34h0M121 34h1M51 35h1M119 35h0M121 35h0M14 36h0M16 36h0M52 36h0M60 36h0M73 36h0M111 36h0M115 36h0M118 36h0M121 36h0M61 37h0M115 37h0M121 37h1M125 37h0M127 37h0M8 38h0M13 38h4M48 38h2M70 38h2M120 38h0M124 38h0M127 38h0M5 39h2M15 39h2M49 39h0M70 39h1M116 39h3M124 39h0M126 39h0M2 40h0M6 40h1M15 40h0M18 40h0M49 40h0M60 40h0M119 40h0M125 40h1M2 41h0M7 41h0M9 41h0M17 41h0M51 41h0M59 41h1M89 41h0M116 41h0M119 41h0M125 41h0M127 41h0M2 42h0M8 42h0M52 42h0M59 42h0M85 42h0M90 42h0M94 42h0M116 42h0M1 43h0M10 43h1M13 43h1M51 43h0M59 43h0M83 43h0M85 43h0M89 43h0M95 43h0M113 43h0M115 43h0M117 43h1M126 43h0M0 44h0M9 44h0M13 44h1M53 44h0M59 44h1M89 44h0M98 44h1M114 44h1M117 44h0M119 44h0M0 45h0M6 45h0M53 45h0M60 45h0M83 45h0M101 45h1M104 45h0M116 45h0M6 46h0M18 46h0M59 46h1M80 46h1M100 46h0M102 46h2M111 46h1M115 46h1M125 46h0M15 47h2M78 47h2M102 47h1M105 47h0M112 47h3M120 47h0M126 47h0M19 48h0M21 48h0M59 48h0M78 48h0M104 48h0M112 48h0M119 48h0M16 49h2M21 49h0M58 49h0M77 49h0M113 49h1M10 50h1M16 50h2M52 50h0M77 50h0M105 50h1M11 51h0M17 51h0M77 51h2M105 51h0M113 51h0M115 51h0M10 52h0M78 52h1M105 52h0M112 52h0M11 53h1M77 53h2M104 53h1M112 53h1M120 53h0M9 54h1M57 54h1M80 54h0M102 54h1M105 54h0M114 54h1M117 54h1M13 55h0M17 55h0M54 55h0M57 55h0M81 55h0M102 55h1M112 55h2M117 55h0M11 56h0M13 56h0M15 56h0M55 56h1M83 56h1M102 56h0M111 56h0M113 56h0M7 57h0M9 57h0M12 57h0M15 57h0M56 57h0M82 57h0M84 57h2M99 57h2M112 57h0M114 57h1M8 58h1M12 58h1M45 58h2M56 58h0M89 58h0M91 58h3M98 58h0M113 58h0M9 59h0M11 59h1M47 59h0M90 59h0M97 59h0M113 59h0M9 60h0M11 60h0M45 60h0M119 60h0M121 60h0M8 61h0M12 61h1M46 61h0M57 61h0M68 61h1M122 61h1M8 62h0M56 62h0M58 62h1M61 62h0M70 62h0M82 62h0M112 62h0M115 62h1M123 62h0M9 63h2M55 63h1M63 63h0M71 63h0M83 63h0M113 63h0M124 63h0M9 64h0M52 64h1M55 64h0M71 64h0M83 64h0M0 65h1M9 65h0M46 65h0M49 65h0M51 65h0M53 65h0M73 65h0M1 66h1M7 66h0M51 66h1M126 66h1M4 67h0M6 67h0M9 67h1M45 67h0M4 68h0M6 68h2M10 68h1M42 68h3M3 69h0M10 69h0M42 69h2M71 69h0M2 70h0M48 70h0M50 70h0M67 70h0M71 70h0M8 71h0M41 71h1M50 71h0M67 71h0M74 71h0M7 72h0M10 72h0M41 72h0M43 72h2M51 72h2M6 73h1M9 73h0M43 73h0M45 73h0M50 73h1M53 73h0M70 73h1M6 74h1M43 74h1M49 74h4M66 74h1M72 74h0M25 75h0M45 75h0M53 75h1M66 75h0M68 75h0M70 75h0M72 75h0M45 76h0M48 76h1M68 76h1M1 77h0M7 77h0M20 77h0M23 77h2M44 77h2M50 77h0M65 77h1M70 77h0M8 78h0M19 78h4M42 78h0M66 78h0M68 78h0M71 78h0M4 79h0M8 79h0M45 79h0M73 79h1M0 80h0M5 80h0M8 80h0M45 80h0M68 80h0M71 80h0M6 81h0M45 81h0M53 81h0M58 81h2M63 81h0M72 81h0M74 81h0M76 81h0M1 82h1M44 82h0M58 82h0M60 82h3M72 82h0M78 82h0M0 83h0M43 83h0M45 83h1M59 83h0M61 83h2M66 83h0M1 84h0M3 84h0M5 84h0M40 84h1M45 84h0M55 84h0M63 84h0M66 84h0M3 85h1M41 85h0M50 85h0M53 85h0M60 85h0M66 85h0M1 86h1M5 86h1M10 86h3M15 86h0M24 86h0M51 86h0M60 86h0M63 86h1M76 86h0M1 87h0M6 87h0M8 87h0M12 87h0M17 87h0M19 87h4M26 87h0M40 87h0M51 87h0M54 87h0M63 87h2M73 87h0M2 88h0M4 88h0M7 88h1M17 88h0M40 88h0M47 88h0M50 88h1M55 88h0M60 88h0M64 88h0M120 88h0M26 89h1M35 89h0M41 89h0M45 89h0M47 89h0M53 89h0M71 89h3M122 89h1M2 90h0M18 90h0M39 90h2M54 90h0M71 90h3M123 90h0M1 91h1M28 91h0M40 91h0M43 91h0M48 91h0M52 91h0M70 91h0M73 91h1M120 91h0M35 92h2M39 92h0M41 92h1M48 92h0M51 92h0M53 92h1M73 92h1M119 92h0M124 92h0M2 93h0M36 93h0M42 93h0M49 93h1M73 93h0M119 93h0M30 94h1M45 94h0M122 94h0M31 95h0M47 95h1M55 95h1M115 95h1M1 96h0M48 96h0M50 96h0M58 96h0M114 96h2M2 97h0M47 97h0M112 97h1M117 97h0M1 98h0M22 98h0M24 98h1M60 98h0M117 98h1M0 99h0M46 99h0M60 99h0M103 99h0M116 99h1M0 100h0M55 100h2M59 100h0M102 100h0M106 100h0M112 100h0M116 100h0M122 100h2M52 101h0M55 101h0M106 101h0M109 101h0M111 101h1M118 101h1M121 101h0M123 101h0M126 101h0M52 102h0M63 102h0M101 102h0M107 102h3M126 102h0M27 103h0M53 103h0M55 103h2M59 103h0M63 103h0M100 103h0M105 103h1M109 103h0M126 103h1M56 104h0M63 104h1M105 104h0M117 104h0M57 105h1M127 105h0M47 106h0M50 106h1M58 106h0M99 106h0M107 106h0M125 106h1M39 107h1M45 107h0M48 107h1M58 107h0M24 108h0M33 108h1M40 108h4M49 108h0M52 108h0M58 108h0M107 108h0M24 109h0M34 109h0M40 109h2M52 109h0M106 109h0M3 110h2M42 110h1M52 110h0M58 110h0M4 111h0M38 111h1M42 111h2M47 111h3M56 111h0M104 111h0M106 111h0M4 112h0M6 112h0M42 112h0M50 112h0M55 112h0M66 112h0M104 112h0M106 112h1M4 113h1M7 113h0M39 113h0M42 113h0M46 113h0M49 113h0M54 113h0M105 113h0M107 113h0M5 114h0M36 114h1M40 114h1M47 114h2M56 114h0M105 114h2M10 115h0M17 115h0M38 115h0M40 115h1M45 115h0M49 115h2M54 115h0M56 115h0M106 115h1M18 116h0M35 116h0M37 116h3M43 116h0M46 116h0M7 117h2M17 117h1M35 117h1M39 117h1M43 117h3M104 117h2M8 118h1M18 118h0M35 118h0M40 118h2M45 118h1M104 118h0M107 118h0M9 119h1M34 119h0M39 119h3M104 119h1M8 120h0M10 120h0M41 120h0M104 120h0M6 121h1M25 121h0M34 121h0M104 121h1M6 122h1M25 122h1M38 122h1M106 122h0M7 123h0M26 123h1M43 123h0M105 123h0M6 124h0M13 124h1M25 124h0M29 124h0M35 124h2M41 124h0M43 124h0M104 124h2M6 125h0M9 125h0M13 125h1M21 125h0M24 125h1M35 125h1M43 125h0M105 125h1M9 126h5M16 126h0M18 126h0M20 126h0M23 126h0M26 126h0M35 126h0M39 126h0M41 126h2M10 127h0M12 127h0M19 127h0M22 127h0M24 127h1M27 127h1M107 127h0M125 127h1"/><path stroke="#1a1ccc" stroke-width="1.45" d="M23 0h3M29 0h3M108 0h1M123 0h0M125 0h2M1 1h0M3 1h1M28 1h3M107 1h0M109 1h1M123 1h4M0 2h0M2 2h1M25 2h2M29 2h2M109 2h1M113 2h1M122 2h0M124 2h3M0 3h1M24 3h0M29 3h1M47 3h1M64 3h0M109 3h0M111 3h0M113 3h3M121 3h4M0 4h0M3 4h1M24 4h1M27 4h0M45 4h3M57 4h0M63 4h0M111 4h0M113 4h0M120 4h1M123 4h1M0 5h0M4 5h0M44 5h1M47 5h1M51 5h1M109 5h1M121 5h0M1 6h0M4 6h0M6 6h0M45 6h1M48 6h1M51 6h1M1 7h0M3 7h2M45 7h0M49 7h1M55 7h0M59 7h1M1 8h0M3 8h0M5 8h1M57 8h0M59 8h2M63 8h1M0 9h0M2 9h0M55 9h0M59 9h0M58 10h0M60 10h4M76 10h1M55 11h0M57 11h2M61 11h1M64 11h0M66 11h2M75 11h2M56 12h1M62 12h0M65 12h5M73 12h0M75 12h1M55 13h2M59 13h6M69 13h2M74 13h1M77 13h0M56 14h0M58 14h0M62 14h3M70 14h1M73 14h0M57 15h1M63 15h0M70 15h2M75 15h0M57 16h1M71 16h2M75 16h3M57 17h1M72 17h0M74 17h0M78 17h0M55 18h0M57 18h1M71 18h2M78 18h0M56 19h3M71 19h1M75 19h1M54 20h0M56 20h1M59 20h0M61 20h0M72 20h0M75 20h1M54 21h2M59 21h2M63 21h0M71 21h2M76 21h0M56 22h2M60 22h2M72 22h0M74 22h0M61 23h0M63 23h0M71 23h1M60 24h2M71 24h1M76 24h0M60 25h2M64 25h0M70 25h0M73 25h0M76 25h2M113 25h0M60 26h2M69 26h2M76 26h0M113 26h0M61 27h2M65 27h0M67 27h0M70 27h1M76 27h0M63 28h1M66 28h6M115 28h3M67 29h0M70 29h0M72 29h0M78 29h0M67 30h1M70 30h1M74 30h1M69 31h1M72 31h3M117 31h1M70 32h0M117 32h0M55 33h1M115 33h0M54 34h0M57 34h2M116 34h0M118 34h0M54 35h0M57 35h2M117 35h1M120 35h0M50 36h1M54 36h1M59 36h0M14 37h0M49 37h4M57 37h1M52 38h1M57 38h2M121 38h0M126 38h0M8 39h0M51 39h1M54 39h0M56 39h0M59 39h0M120 39h3M3 40h2M8 40h0M51 40h1M54 40h1M57 40h0M59 40h0M117 40h1M122 40h0M3 41h2M52 41h1M56 41h0M117 41h1M120 41h0M126 41h0M3 42h4M56 42h2M92 42h0M117 42h0M119 42h1M122 42h0M124 42h0M2 43h0M6 43h1M53 43h1M56 43h2M90 43h2M114 43h0M119 43h3M124 43h0M2 44h4M11 44h0M55 44h0M85 44h0M87 44h0M90 44h0M94 44h0M118 44h0M121 44h0M123 44h3M3 45h2M8 45h0M10 45h2M14 45h0M56 45h2M84 45h0M86 45h1M91 45h0M93 45h5M117 45h6M126 45h0M0 46h2M8 46h0M12 46h2M57 46h1M82 46h1M85 46h0M87 46h1M90 46h2M95 46h3M117 46h0M119 46h0M121 46h1M127 46h0M2 47h0M4 47h4M10 47h3M55 47h0M57 47h1M81 47h0M83 47h0M86 47h0M97 47h1M101 47h0M118 47h0M121 47h3M127 47h0M0 48h0M3 48h3M9 48h5M16 48h0M20 48h0M53 48h1M56 48h1M80 48h0M82 48h0M98 48h3M103 48h0M114 48h3M120 48h4M126 48h0M2 49h0M4 49h1M7 49h2M11 49h0M13 49h1M52 49h0M54 49h0M56 49h0M79 49h1M82 49h0M84 49h0M99 49h0M101 49h0M103 49h0M115 49h1M121 49h6M4 50h0M7 50h0M9 50h0M12 50h0M14 50h0M20 50h0M54 50h0M56 50h0M80 50h0M82 50h0M99 50h4M114 50h5M121 50h0M125 50h2M4 51h0M9 51h0M12 51h1M82 51h1M99 51h0M101 51h2M116 51h0M118 51h2M123 51h2M127 51h0M5 52h1M8 52h0M12 52h0M81 52h2M101 52h1M104 52h0M117 52h0M119 52h0M124 52h0M5 53h0M8 53h0M13 53h0M57 53h0M80 53h1M83 53h0M99 53h4M118 53h1M121 53h2M5 54h3M53 54h0M81 54h3M86 54h1M96 54h0M100 54h0M119 54h0M123 54h0M6 55h3M56 55h0M83 55h4M90 55h0M92 55h0M94 55h1M97 55h3M118 55h0M120 55h3M8 56h2M14 56h0M85 56h3M90 56h0M93 56h0M95 56h2M99 56h1M119 56h1M122 56h0M124 56h0M87 57h0M89 57h2M94 57h1M97 57h0M116 57h0M118 57h0M123 57h0M4 58h3M10 58h0M116 58h2M120 58h0M122 58h1M3 59h1M6 59h2M10 59h0M115 59h0M117 59h3M122 59h2M4 60h4M113 60h0M115 60h2M123 60h0M125 60h0M0 61h2M5 61h2M113 61h1M116 61h0M126 61h0M0 62h2M4 62h1M69 62h0M114 62h0M124 62h1M127 62h0M2 63h2M6 63h2M57 63h0M59 63h0M61 63h0M64 63h5M126 63h0M0 64h0M2 64h0M7 64h0M47 64h0M58 64h0M60 64h0M63 64h0M65 64h1M69 64h0M127 64h0M5 65h0M7 65h0M48 65h0M54 65h0M56 65h0M61 65h5M72 65h0M4 66h2M46 66h0M49 66h1M54 66h0M62 66h3M67 66h2M71 66h1M46 67h2M50 67h1M53 67h1M64 67h0M66 67h0M70 67h0M5 68h0M47 68h2M51 68h4M63 68h0M65 68h0M67 68h5M4 69h3M45 69h0M49 69h0M54 69h0M63 69h0M66 69h4M4 70h1M7 70h0M46 70h1M51 70h1M64 70h0M69 70h1M3 71h0M5 71h2M9 71h0M45 71h1M48 71h1M51 71h1M55 71h0M63 71h0M65 71h1M68 71h2M0 72h4M6 72h0M47 72h0M49 72h0M54 72h1M63 72h0M66 72h1M69 72h0M0 73h0M5 73h0M48 73h0M63 73h0M66 73h0M68 73h1M2 74h0M45 74h1M48 74h0M54 74h2M63 74h1M0 75h0M6 75h0M46 75h0M48 75h0M55 75h2M63 75h1M0 76h1M47 76h0M54 76h1M58 76h1M63 76h1M3 77h0M47 77h0M49 77h0M51 77h6M61 77h1M1 78h0M3 78h0M45 78h0M47 78h1M50 78h1M53 78h1M56 78h0M59 78h1M62 78h0M0 79h0M2 79h1M6 79h0M47 79h1M50 79h0M52 79h0M58 79h1M61 79h0M63 79h0M7 80h0M46 80h0M48 80h3M58 80h1M72 80h1M46 81h6M73 81h0M47 82h0M50 82h0M55 82h0M64 82h0M44 83h0M50 83h0M55 83h0M44 84h0M47 84h0M49 84h0M54 84h0M61 84h0M42 85h2M48 85h1M54 85h0M62 85h0M3 86h1M14 86h0M41 86h2M45 86h1M48 86h0M61 86h0M2 87h0M4 87h0M25 87h0M41 87h0M43 87h2M47 87h0M61 87h0M3 88h0M10 88h1M14 88h1M18 88h1M22 88h1M25 88h0M42 88h2M2 89h1M5 89h0M7 89h2M11 89h0M13 89h0M15 89h1M18 89h0M20 89h0M22 89h2M42 89h1M4 90h0M6 90h3M12 90h0M15 90h1M19 90h0M21 90h2M25 90h1M121 90h1M3 91h0M5 91h4M14 91h0M17 91h2M23 91h3M53 91h0M5 92h2M10 92h0M17 92h0M19 92h2M24 92h0M26 92h0M28 92h0M120 92h0M3 93h1M6 93h0M19 93h2M24 93h0M27 93h1M37 93h0M39 93h1M46 93h1M3 94h2M17 94h2M22 94h0M24 94h1M27 94h2M35 94h0M37 94h1M40 94h2M120 94h1M3 95h0M5 95h1M17 95h1M20 95h0M22 95h0M24 95h1M28 95h0M33 95h0M36 95h0M38 95h3M43 95h3M51 95h0M54 95h0M3 96h1M18 96h0M26 96h0M30 96h2M34 96h2M42 96h2M46 96h0M51 96h3M57 96h0M3 97h2M18 97h0M20 97h2M24 97h0M26 97h7M43 97h0M45 97h0M49 97h0M52 97h2M56 97h0M4 98h1M17 98h0M20 98h1M33 98h0M45 98h0M47 98h1M50 98h3M114 98h1M2 99h0M4 99h0M17 99h1M21 99h5M44 99h1M47 99h2M52 99h0M54 99h0M56 99h0M59 99h0M104 99h1M115 99h0M1 100h1M4 100h0M6 100h0M17 100h2M22 100h0M31 100h1M45 100h5M52 100h0M104 100h0M113 100h0M115 100h0M0 101h1M3 101h3M20 101h1M23 101h0M31 101h0M33 101h0M44 101h0M47 101h2M51 101h0M105 101h0M113 101h1M124 101h0M0 102h0M2 102h1M6 102h0M17 102h1M20 102h3M25 102h0M31 102h0M33 102h0M45 102h2M49 102h0M51 102h0M102 102h2M112 102h0M116 102h4M122 102h1M125 102h0M0 103h1M3 103h1M6 103h0M15 103h5M22 103h0M24 103h2M29 103h0M31 103h1M34 103h0M44 103h1M47 103h2M52 103h0M101 103h1M104 103h0M108 103h0M110 103h0M115 103h1M118 103h1M123 103h0M125 103h0M0 104h0M2 104h1M6 104h1M14 104h5M21 104h0M23 104h0M25 104h1M28 104h1M31 104h2M41 104h4M47 104h7M108 104h0M112 104h0M115 104h1M119 104h0M122 104h3M0 105h10M12 105h6M20 105h0M23 105h0M25 105h1M28 105h0M32 105h2M37 105h0M39 105h0M41 105h1M45 105h0M47 105h1M52 105h0M54 105h1M107 105h1M110 105h0M112 105h0M116 105h0M118 105h0M121 105h5M0 106h2M5 106h0M7 106h5M16 106h2M20 106h1M23 106h7M32 106h1M35 106h1M38 106h2M44 106h0M48 106h0M52 106h1M55 106h1M108 106h1M112 106h0M114 106h0M116 106h0M118 106h0M120 106h0M123 106h1M0 107h5M8 107h0M10 107h2M14 107h0M17 107h2M21 107h0M23 107h1M26 107h0M28 107h1M31 107h2M36 107h0M41 107h3M55 107h0M57 107h0M108 107h2M114 107h4M120 107h1M124 107h1M1 108h2M5 108h9M16 108h3M26 108h1M30 108h1M54 108h2M108 108h2M112 108h1M115 108h0M117 108h9M1 109h1M5 109h2M9 109h0M13 109h0M15 109h1M19 109h0M21 109h0M23 109h0M26 109h1M32 109h1M35 109h3M55 109h0M57 109h0M109 109h2M113 109h0M116 109h0M118 109h7M127 109h0M2 110h0M6 110h0M9 110h0M11 110h1M14 110h2M22 110h0M32 110h0M34 110h4M53 110h0M55 110h0M107 110h0M113 110h0M117 110h2M127 110h0M0 111h0M6 111h0M8 111h7M18 111h0M22 111h0M26 111h0M34 111h2M54 111h1M109 111h0M111 111h1M114 111h1M124 111h0M0 112h1M3 112h0M8 112h1M12 112h0M14 112h8M33 112h3M38 112h0M43 112h1M52 112h0M54 112h0M108 112h1M111 112h2M115 112h0M125 112h0M0 113h1M3 113h0M8 113h0M10 113h1M14 113h5M35 113h1M44 113h1M50 113h0M108 113h2M112 113h2M125 113h2M2 114h2M8 114h1M11 114h2M17 114h1M21 114h0M44 114h1M50 114h0M52 114h0M54 114h0M110 114h1M113 114h0M126 114h1M3 115h0M5 115h2M11 115h3M16 115h0M18 115h0M20 115h1M24 115h1M33 115h0M42 115h0M44 115h0M46 115h2M52 115h0M108 115h0M110 115h0M112 115h0M114 115h0M125 115h2M3 116h1M6 116h0M9 116h2M15 116h1M19 116h1M22 116h0M24 116h0M33 116h1M44 116h0M47 116h1M110 116h2M10 117h4M16 117h0M19 117h6M33 117h0M38 117h0M108 117h2M112 117h1M4 118h2M12 118h0M14 118h0M17 118h0M22 118h0M24 118h0M26 118h0M32 118h0M34 118h0M109 118h0M112 118h0M6 119h1M11 119h1M16 119h0M20 119h3M32 119h1M36 119h0M106 119h2M110 119h2M5 120h0M11 120h0M13 120h0M15 120h0M17 120h1M20 120h1M23 120h3M31 120h2M36 120h2M106 120h1M109 120h1M112 120h0M119 120h0M4 121h0M9 121h1M15 121h0M17 121h1M22 121h1M26 121h0M28 121h0M31 121h1M36 121h0M106 121h1M109 121h0M111 121h0M121 121h0M8 122h0M10 122h2M14 122h1M18 122h0M21 122h0M23 122h0M27 122h1M30 122h0M32 122h4M108 122h0M110 122h1M4 123h1M8 123h11M21 123h1M24 123h1M29 123h0M32 123h0M35 123h0M38 123h1M109 123h1M122 123h0M4 124h1M9 124h0M16 124h6M31 124h2M39 124h1M107 124h2M123 124h0M2 125h1M5 125h0M10 125h0M15 125h0M34 125h0M39 125h3M107 125h4M124 125h3M1 126h2M19 126h0M24 126h0M30 126h2M34 126h0M110 126h0M121 126h1M124 126h1M0 127h1M3 127h1M9 127h0M23 127h0M31 127h2M109 127h2M120 127h0M122 127h1"/><path stroke="#3a78f2" stroke-width="1.45" d="M112 0h0M112 1h2M121 1h1M118 2h0M120 2h1M68 14h0M69 16h0M70 18h0M70 23h0M64 24h0M69 25h0M65 26h3M88 47h0M95 47h0M86 48h1M0 49h1M85 49h0M84 50h0M86 50h0M84 51h0M84 52h0M125 52h0M85 53h0M94 53h2M98 53h0M4 54h0M88 54h0M4 55h0M124 55h0M4 56h0M125 59h0M126 60h0M57 66h0M61 66h0M56 67h0M62 67h0M55 69h0M63 70h0M56 72h0M56 73h0M62 73h0M59 75h1M11 91h2M9 92h0M7 93h0M11 93h0M16 93h0M7 94h0M17 96h0M40 96h0M17 97h0M35 97h0M41 97h0M6 98h0M16 98h0M34 98h0M42 98h0M6 99h0M43 99h0M16 101h0M7 102h0M15 102h0M34 102h0M43 102h0M8 103h0M10 103h0M14 103h0M35 103h0M41 103h0M11 104h1M36 104h0M38 104h0M28 109h0M120 110h0M27 111h0M32 111h0M116 111h3M121 111h1M26 112h0M117 112h0M123 112h0M26 113h0M116 113h0M123 113h0M0 114h1M114 114h0M122 114h2M2 115h0M116 115h0M124 115h0M32 116h0M115 116h1M26 117h0M114 117h0M3 118h0M114 118h0M116 118h0M27 119h0M114 119h0M117 119h0M119 119h0M3 120h0M30 120h0M114 120h0M117 120h1M120 120h0M3 121h0M117 121h3M2 122h0M113 122h0M2 123h0M111 123h0M121 123h0M123 123h0M121 124h0M124 124h3M121 125h0M0 126h0M113 126h0M113 127h1M117 127h0M119 127h0"/><path stroke="#46def8" stroke-width="1.45" d="M114 0h0M117 0h1M120 0h0M116 1h2M115 2h2M65 15h1M68 15h0M64 16h0M68 16h0M64 17h0M69 17h0M70 20h0M64 22h0M69 22h0M64 23h0M69 23h0M65 24h0M68 24h1M65 25h2M89 47h5M88 48h0M92 48h0M96 48h0M87 49h0M97 49h0M0 50h2M98 50h0M0 51h3M85 51h1M98 51h0M2 52h1M85 52h0M98 52h0M126 52h1M3 53h0M86 53h2M93 53h0M97 53h0M125 53h0M3 54h0M89 54h0M125 54h0M125 55h0M125 56h0M3 57h0M125 57h1M3 58h0M125 58h0M0 59h2M126 59h1M59 66h1M58 67h0M61 67h0M56 69h0M56 71h0M62 71h0M62 72h0M57 74h0M13 92h1M8 93h1M12 93h0M15 93h0M8 94h1M14 94h1M7 95h0M16 95h0M7 96h0M16 96h0M37 96h2M6 97h1M15 97h0M36 97h0M7 98h1M35 98h0M16 99h0M34 99h1M42 99h0M7 100h0M15 100h0M34 100h0M7 101h1M14 101h0M35 101h0M8 102h1M13 102h1M35 102h0M41 102h1M11 103h1M36 103h0M39 103h1M39 104h1M29 109h1M28 110h0M30 110h1M31 111h0M27 112h0M31 112h0M118 112h2M122 112h0M31 113h0M117 113h0M119 113h1M122 113h0M27 114h0M31 114h1M115 114h0M117 114h4M0 115h1M27 115h0M32 115h0M117 115h2M122 115h1M1 116h1M27 116h0M31 116h0M117 116h1M123 116h3M3 117h0M27 117h0M117 117h1M123 117h0M127 117h0M28 118h0M31 118h0M115 118h0M118 118h1M121 118h1M127 118h0M3 119h0M28 119h0M30 119h0M115 119h0M121 119h1M115 120h1M1 121h1M115 121h1M122 121h0M1 122h0M114 122h0M119 122h1M123 122h1M112 123h1M124 123h1M112 124h0M0 125h0M113 125h0M120 125h0M114 126h0M117 126h3M115 127h1"/><path stroke="#f4e044" stroke-width="1.5" d="M116 0h0M115 1h0M67 15h0M69 18h0M66 24h0M89 48h0M91 48h0M93 48h2M92 49h1M96 49h0M87 50h0M93 50h0M97 50h0M92 51h0M1 52h0M86 52h2M91 52h1M95 52h2M89 53h1M126 53h1M126 54h0M126 55h0M3 56h0M126 56h0M127 57h0M126 58h1M59 67h1M57 68h0M61 68h0M62 69h0M62 70h0M61 72h0M57 73h0M58 74h0M60 74h0M13 93h1M10 94h3M14 95h1M37 97h1M40 97h0M15 98h0M36 98h0M41 98h0M7 99h0M35 100h1M42 100h0M13 101h0M36 101h0M42 101h0M10 102h2M40 102h0M37 103h1M29 110h0M29 111h1M28 112h0M121 112h0M27 113h0M30 113h0M118 113h0M30 114h0M30 115h0M120 115h1M0 116h0M119 116h0M1 117h1M28 117h0M31 117h0M119 117h3M126 117h0M1 118h1M29 118h0M123 118h0M29 119h0M1 120h0M122 120h0M123 121h1M115 122h0M117 122h1M1 123h0M114 123h0M119 123h1M126 123h1M0 124h0M113 124h0M119 124h1M114 125h0M116 126h0"/><path stroke="#f4a030" stroke-width="1.7" d="M65 16h0M67 16h0M68 17h0M64 18h0M64 19h0M69 19h0M64 20h0M69 21h0M68 22h0M66 23h2M67 24h0M90 48h0M88 49h0M91 49h0M94 49h1M88 50h0M92 50h0M94 50h1M88 51h0M91 51h0M95 51h2M90 52h0M93 52h1M127 54h0M3 55h0M2 56h0M127 56h0M0 57h0M2 57h0M0 58h0M2 58h0M57 72h0M8 95h1M8 96h0M15 96h0M8 97h0M39 97h0M14 98h0M37 98h3M14 99h1M36 99h0M41 99h0M8 100h1M41 100h0M9 101h0M41 101h0M36 102h2M29 112h1M28 113h1M28 114h0M29 115h0M30 116h0M120 116h1M0 117h0M29 117h0M124 117h1M0 118h0M30 118h0M124 118h2M0 121h0M0 122h0M125 122h2M115 123h3M114 124h1M115 125h0M119 125h0M115 126h0"/><path stroke="#dc2a14" stroke-width="1.7" d="M66 16h0M65 17h2M65 19h0M69 20h0M68 21h0M65 22h1M89 49h1M89 50h2M96 50h0M89 51h1M93 51h1M1 53h0M0 54h0M2 54h0M2 55h0M127 55h0M0 56h1M1 58h0M59 68h1M57 69h1M57 70h1M61 70h0M57 71h0M60 71h1M60 72h0M58 73h0M60 73h0M10 95h2M9 96h2M13 96h1M9 97h0M12 97h2M9 98h0M11 98h2M8 99h2M12 99h1M38 99h2M10 100h3M37 100h3M10 101h2M37 101h3M29 114h0M28 116h1M30 117h0M0 119h1M123 119h4M0 120h0M123 120h4M125 121h2M0 123h0M116 124h2M116 125h2"/><path stroke="#98100e" stroke-width="1.7" d="M66 18h2M66 19h2M65 20h3M65 21h2M1 54h0M0 55h1M59 69h1M60 70h0M58 71h1M58 72h1M59 73h0M10 97h0M10 98h0"/></g></svg>
<rect x="560" y="16" width="1" height="4" fill="#999"/>
<text x="217.6" y="27.8" font-family="Liberation Serif, serif" font-size="24.6">(a)</text><text transform="translate(240 151.0) rotate(-90)" font-family="Liberation Serif, serif" font-size="20.4"><tspan x="-2.24" y="0" font-size="20.0" font-style="italic">U</tspan><tspan x="15.04" y="3.9" font-size="27.0">/</tspan><tspan x="25.06" y="-0.2" font-size="21.2">(</tspan><tspan x="33.35" y="0" font-size="22.5" font-style="italic">n̄</tspan><tspan x="47.12" y="0" font-size="21.3" font-style="italic">J</tspan><tspan x="58.82" y="-0.2" font-size="21.2">)</tspan><tspan x="68.00" y="0"> </tspan><tspan x="72.83" y="4.2" font-size="28.0">=</tspan><tspan x="90.00" y="0"> </tspan><tspan x="94.94" y="0" font-size="20.4">1</tspan><tspan x="105.40" y="0" font-size="20.4">0</tspan></text><text transform="translate(240 300.8) rotate(-90)" font-family="Liberation Serif, serif" font-size="20.4"><tspan x="-2.24" y="0" font-size="20.0" font-style="italic">U</tspan><tspan x="15.04" y="3.9" font-size="27.0">/</tspan><tspan x="25.06" y="-0.2" font-size="21.2">(</tspan><tspan x="33.35" y="0" font-size="22.5" font-style="italic">n̄</tspan><tspan x="47.12" y="0" font-size="21.3" font-style="italic">J</tspan><tspan x="58.82" y="-0.2" font-size="21.2">)</tspan><tspan x="68.00" y="0"> </tspan><tspan x="72.83" y="4.2" font-size="28.0">=</tspan><tspan x="90.00" y="0"> </tspan><tspan x="94.94" y="0" font-size="20.4">1</tspan><tspan x="105.53" y="0" font-size="20.4">2</tspan></text><text transform="translate(240 458.0) rotate(-90)" font-family="Liberation Serif, serif" font-size="20.4"><tspan x="-2.24" y="0" font-size="20.0" font-style="italic">U</tspan><tspan x="15.04" y="3.9" font-size="27.0">/</tspan><tspan x="25.06" y="-0.2" font-size="21.2">(</tspan><tspan x="33.35" y="0" font-size="22.5" font-style="italic">n̄</tspan><tspan x="47.12" y="0" font-size="21.3" font-style="italic">J</tspan><tspan x="58.82" y="-0.2" font-size="21.2">)</tspan><tspan x="68.00" y="0"> </tspan><tspan x="72.83" y="4.2" font-size="28.0">=</tspan><tspan x="90.00" y="0"> </tspan><tspan x="94.94" y="0" font-size="20.4">1</tspan><tspan x="105.40" y="0" font-size="20.4">4</tspan></text><text x="278.0" y="493.5" font-family="Liberation Serif, serif" font-size="20.4" textLength="92.6" lengthAdjust="spacingAndGlyphs">Goldstone</text><text x="455.5" y="493.3" font-family="Liberation Serif, serif" font-size="20.4" textLength="50.7" lengthAdjust="spacingAndGlyphs">Higgs</text>
</svg></body></html>
